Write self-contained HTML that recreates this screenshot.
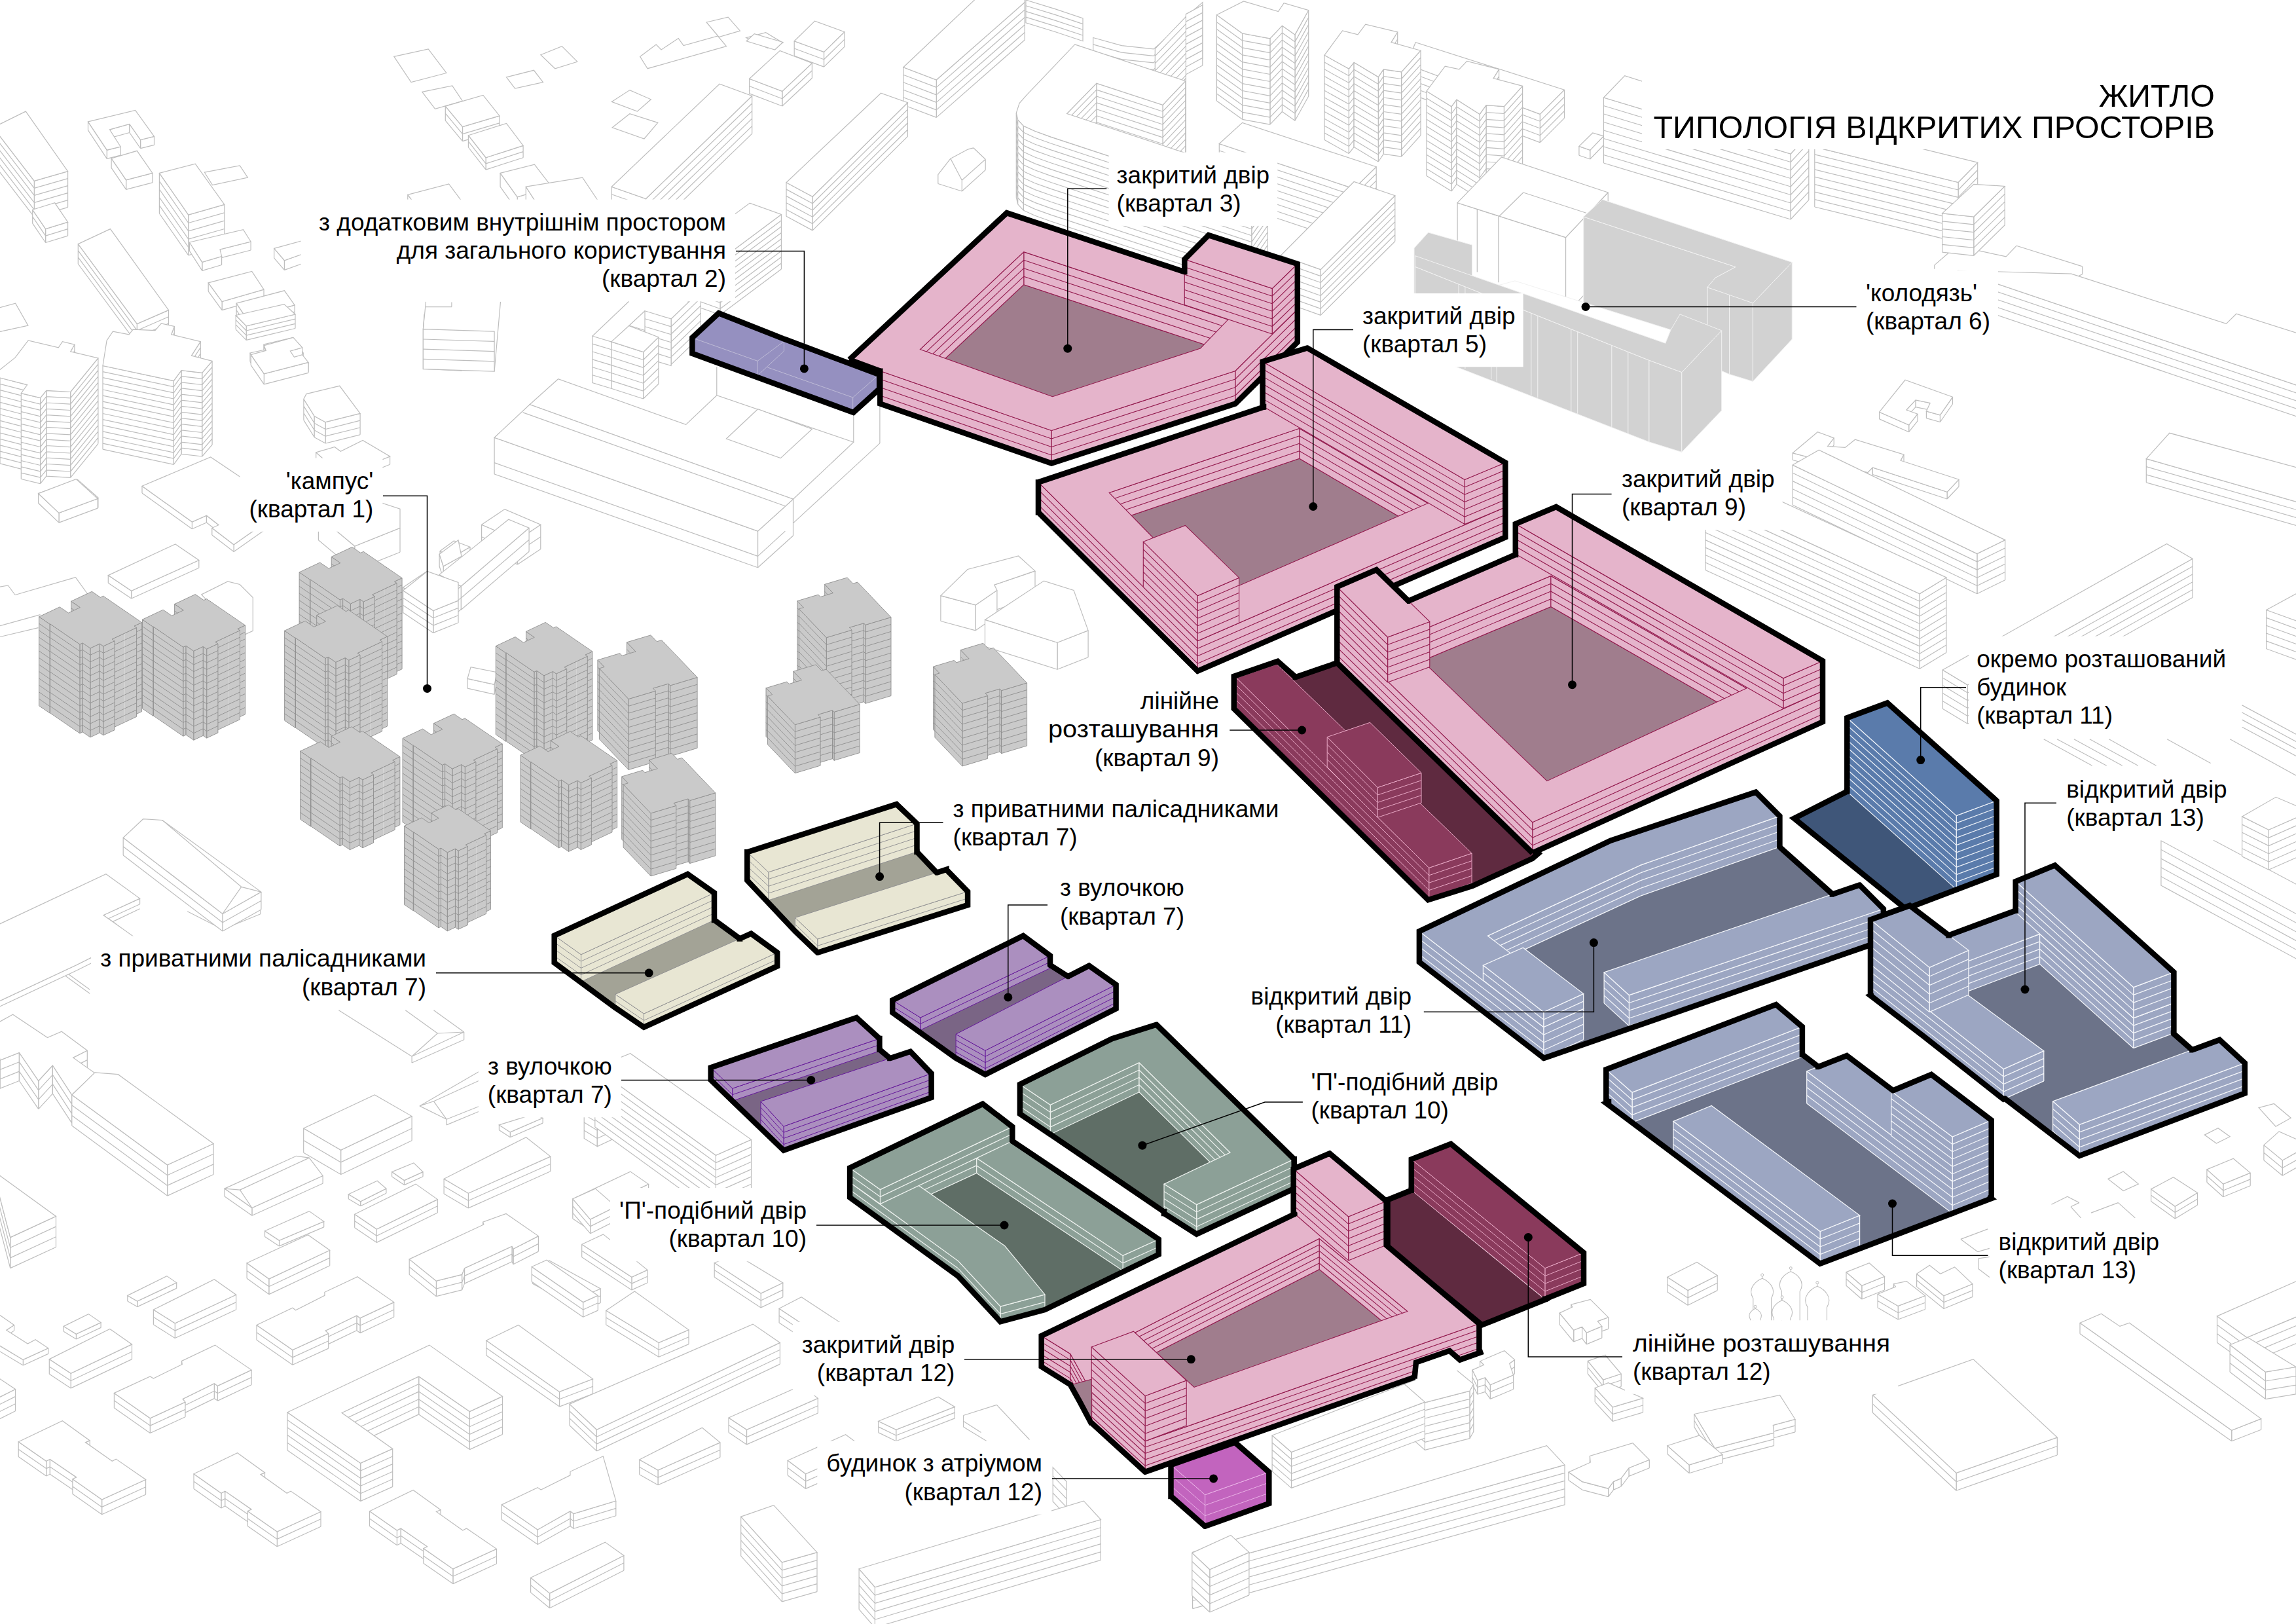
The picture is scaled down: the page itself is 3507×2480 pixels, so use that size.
<!DOCTYPE html>
<html><head><meta charset="utf-8"><title>ЖИТЛО</title>
<style>html,body{margin:0;padding:0;background:#fff}svg{display:block}text{font-family:"Liberation Sans",sans-serif;fill:#000}</style>
</head><body>
<svg xmlns="http://www.w3.org/2000/svg" width="3507" height="2480" viewBox="0 0 3507 2480">
<rect width="3507" height="2480" fill="#fff"/>
<g fill="none" stroke-width="1.2">
<path d="M0 896.2L12.3 894M12.3 894L23.1 908.5M23.1 908.5L115.4 881.7M115.4 881.7L134.8 908.5M0 955.6L61.6 938.7M0 972.5L58.5 958.7" stroke="#BEBEBE"/>
</g>
<g fill="none" stroke-width="1.2">
<path d="M648 480L646.4 503.1M0 506.2L41.6 496.9M41.6 496.9L30.8 480" stroke="#BEBEBE"/>
</g>
<g fill="none" stroke-width="1.2">
<path d="M1079.1 34L1112.1 26.2L1130.4 47.1L1098 56.5Z" fill="#fff" fill-rule="evenodd" stroke="#BEBEBE"/>
</g>
<g fill="none" stroke-width="1.2">
<path d="M1566.9 0L1612.2 13.9L1654 27.9L1654 62.7L1612.2 48.8L1566.9 34.8Z" fill="#fff" stroke="#BEBEBE"/>
<path d="M1566.9 8.7L1612.2 22.6M1612.2 22.6L1654 36.6M1566.9 17.4L1612.2 31.4M1612.2 31.4L1654 45.3M1566.9 26.1L1612.2 40.1M1612.2 40.1L1654 54" stroke="#BEBEBE"/>
</g>
<g fill="none" stroke-width="1.2">
<path d="M1139.8 57.6L1169.7 49.7L1195.8 65.4L1172.3 73.3Z" fill="#fff" fill-rule="evenodd" stroke="#BEBEBE"/>
</g>
<g fill="none" stroke-width="1.2">
<path d="M1140.1 62.7L1152.3 51.6L1195.8 64.5L1183.6 76Z" fill="#fff" fill-rule="evenodd" stroke="#BEBEBE"/>
</g>
<g fill="none" stroke-width="1.2">
<path d="M1289.9 48.8L1258.5 79.4L1258.5 102.1L1289.9 71.4Z" fill="#fff"/>
<path d="M1289.9 48.8L1258.5 79.4M1289.9 71.4L1258.5 102.1M1289.9 48.8L1289.9 71.4M1258.5 79.4L1258.5 102.1M1289.9 60.1L1258.5 90.8" stroke="#BEBEBE"/>
<path d="M1258.5 79.4L1213.2 62.7L1213.2 85.4L1258.5 102.1Z" fill="#fff"/>
<path d="M1258.5 79.4L1213.2 62.7M1258.5 102.1L1213.2 85.4M1258.5 79.4L1258.5 102.1M1213.2 62.7L1213.2 85.4M1258.5 90.8L1213.2 74" stroke="#BEBEBE"/>
<path d="M1213.2 62.7L1244.6 32.1L1289.9 48.8L1258.5 79.4Z" fill="#fff" fill-rule="evenodd" stroke="#BEBEBE"/>
</g>
<g fill="none" stroke-width="1.2">
<path d="M825.8 83.7L858.3 70.7L881.8 94.2L847.8 104.7Z" fill="#fff" fill-rule="evenodd" stroke="#BEBEBE"/>
</g>
<g fill="none" stroke-width="1.2">
<path d="M977.6 86.4L1002.2 68L1010 75.9L1036.2 58.6L1044.1 69.6L1096.4 55L1109.5 70.7L989.1 104.7Z" fill="#fff" fill-rule="evenodd" stroke="#BEBEBE"/>
</g>
<g fill="none" stroke-width="1.2">
<path d="M1669.7 57.5L1713.2 69.7L1762 74.9L1812.5 31.4L1812.5 62.7L1762 106.3L1713.2 101L1669.7 88.9Z" fill="#fff" stroke="#BEBEBE"/>
<path d="M1669.7 67.9L1713.2 80.1M1713.2 80.1L1762 85.4M1762 85.4L1812.5 41.8M1669.7 78.4L1713.2 90.6M1713.2 90.6L1762 95.8M1762 95.8L1812.5 52.3" stroke="#BEBEBE"/>
</g>
<g fill="none" stroke-width="1.2">
<path d="M1810.8 26.1L1836.9 3.5L1836.9 90.6L1810.8 113.2Z" fill="#fff" stroke="#BEBEBE"/>
<path d="M1810.8 35.8L1836.9 13.2M1810.8 45.5L1836.9 22.8M1810.8 55.2L1836.9 32.5M1810.8 64.8L1836.9 42.2M1810.8 74.5L1836.9 51.9M1810.8 84.2L1836.9 61.6M1810.8 93.9L1836.9 71.2M1810.8 103.6L1836.9 80.9" stroke="#BEBEBE"/>
</g>
<g fill="none" stroke-width="1.2">
<path d="M1811.4 21.6L1836.8 7.8L1836.8 100L1811.4 113.7Z" fill="#fff" stroke="#BEBEBE"/>
<path d="M1811.4 33.1L1836.8 19.4M1811.4 44.6L1836.8 30.9M1811.4 56.1L1836.8 42.4M1811.4 67.6L1836.8 53.9M1811.4 79.1L1836.8 65.4M1811.4 90.6L1836.8 76.9M1811.4 102.2L1836.8 88.4" stroke="#BEBEBE"/>
</g>
<g fill="none" stroke-width="1.2">
<path d="M601.8 86.4L654.2 74.8L681.9 111.5L628 125.6Z" fill="#fff" fill-rule="evenodd" stroke="#BEBEBE"/>
</g>
<g fill="none" stroke-width="1.2">
<path d="M773.5 117.8L815.4 107.3L829.5 125.6L786.6 135Z" fill="#fff" fill-rule="evenodd" stroke="#BEBEBE"/>
</g>
<g fill="none" stroke-width="1.2">
<path d="M1240.4 96.5L1194.8 139.4L1194.8 162L1240.4 119.2Z" fill="#fff"/>
<path d="M1240.4 96.5L1194.8 139.4M1240.4 119.2L1194.8 162M1240.4 96.5L1240.4 119.2M1194.8 139.4L1194.8 162M1240.4 107.8L1194.8 150.7" stroke="#BEBEBE"/>
<path d="M1194.8 139.4L1144.6 120.2L1144.6 142.9L1194.8 162Z" fill="#fff"/>
<path d="M1194.8 139.4L1144.6 120.2M1194.8 162L1144.6 142.9M1194.8 139.4L1194.8 162M1144.6 120.2L1144.6 142.9M1194.8 150.7L1144.6 131.5" stroke="#BEBEBE"/>
<path d="M1144.6 120.2L1191.3 77.4L1240.4 96.5L1194.8 139.4Z" fill="#fff" fill-rule="evenodd" stroke="#BEBEBE"/>
</g>
<g fill="none" stroke-width="1.2">
<path d="M644.8 140.3L690.8 130.8L706.5 154.4L664.6 166.4Z" fill="#fff" fill-rule="evenodd" stroke="#BEBEBE"/>
</g>
<g fill="none" stroke-width="1.2">
<path d="M934.2 155.4L961.9 137.6L994.3 151.8L973.4 170.1Z" fill="#fff" fill-rule="evenodd" stroke="#BEBEBE"/>
</g>
<g fill="none" stroke-width="1.2">
<path d="M1565.2 3.5L1430.3 122L1430.3 179.4L1565.2 61Z" fill="#fff"/>
<path d="M1565.2 3.5L1430.3 122M1565.2 61L1430.3 179.4M1565.2 3.5L1565.2 61M1430.3 122L1430.3 179.4M1565.2 15L1430.3 133.4M1565.2 26.5L1430.3 144.9M1565.2 38L1430.3 156.4M1565.2 49.5L1430.3 167.9" stroke="#BEBEBE"/>
<path d="M1430.3 122L1379.8 102.8L1379.8 160.3L1430.3 179.4Z" fill="#fff"/>
<path d="M1430.3 122L1379.8 102.8M1430.3 179.4L1379.8 160.3M1430.3 122L1430.3 179.4M1379.8 102.8L1379.8 160.3M1430.3 133.4L1379.8 114.3M1430.3 144.9L1379.8 125.8M1430.3 156.4L1379.8 137.3M1430.3 167.9L1379.8 148.8" stroke="#BEBEBE"/>
<path d="M1379.8 102.8L1490.2 -1.7L1565.2 -1.7L1565.2 3.5L1430.3 122Z" fill="#fff" fill-rule="evenodd" stroke="#BEBEBE"/>
</g>
<g fill="none" stroke-width="1.2">
<path d="M1897.6 51L1858.4 22.7L1858.4 154.1L1897.6 182.3Z" fill="#fff"/>
<path d="M1897.6 51L1858.4 22.7M1897.6 182.3L1858.4 154.1M1897.6 51L1897.6 182.3M1858.4 22.7L1858.4 154.1M1897.6 61.9L1858.4 33.7M1897.6 72.8L1858.4 44.6M1897.6 83.8L1858.4 55.6M1897.6 94.7L1858.4 66.5M1897.6 105.7L1858.4 77.5M1897.6 116.6L1858.4 88.4M1897.6 127.6L1858.4 99.3M1897.6 138.5L1858.4 110.3M1897.6 149.4L1858.4 121.2M1897.6 160.4L1858.4 132.2M1897.6 171.3L1858.4 143.1" stroke="#BEBEBE"/>
<path d="M1998.7 15.7L1978 52.9L1978 184.2L1998.7 147Z" fill="#fff"/>
<path d="M1998.7 15.7L1978 52.9M1998.7 147L1978 184.2M1998.7 15.7L1998.7 147M1978 52.9L1978 184.2M1998.7 26.6L1978 63.9M1998.7 37.6L1978 74.8M1998.7 48.5L1978 85.7M1998.7 59.5L1978 96.7M1998.7 70.4L1978 107.6M1998.7 81.3L1978 118.6M1998.7 92.3L1978 129.5M1998.7 103.2L1978 140.5M1998.7 114.2L1978 151.4M1998.7 125.1L1978 162.3M1998.7 136.1L1978 173.3" stroke="#BEBEBE"/>
<path d="M1978 52.9L1958.4 39.2L1958.4 170.5L1978 184.2Z" fill="#fff"/>
<path d="M1978 52.9L1958.4 39.2M1978 184.2L1958.4 170.5M1978 52.9L1978 184.2M1958.4 39.2L1958.4 170.5M1978 63.9L1958.4 50.1M1978 74.8L1958.4 61.1M1978 85.7L1958.4 72M1978 96.7L1958.4 83M1978 107.6L1958.4 93.9M1978 118.6L1958.4 104.9M1978 129.5L1958.4 115.8M1978 140.5L1958.4 126.7M1978 151.4L1958.4 137.7M1978 162.3L1958.4 148.6M1978 173.3L1958.4 159.6" stroke="#BEBEBE"/>
<path d="M1958.4 39.2L1939.9 58.8L1939.9 190.1L1958.4 170.5Z" fill="#fff"/>
<path d="M1958.4 39.2L1939.9 58.8M1958.4 170.5L1939.9 190.1M1958.4 39.2L1958.4 170.5M1939.9 58.8L1939.9 190.1M1958.4 50.1L1939.9 69.7M1958.4 61.1L1939.9 80.7M1958.4 72L1939.9 91.6M1958.4 83L1939.9 102.6M1958.4 93.9L1939.9 113.5M1958.4 104.9L1939.9 124.5M1958.4 115.8L1939.9 135.4M1958.4 126.7L1939.9 146.3M1958.4 137.7L1939.9 157.3M1958.4 148.6L1939.9 168.2M1958.4 159.6L1939.9 179.2" stroke="#BEBEBE"/>
<path d="M1939.9 58.8L1897.6 51L1897.6 182.3L1939.9 190.1Z" fill="#fff"/>
<path d="M1939.9 58.8L1897.6 51M1939.9 190.1L1897.6 182.3M1939.9 58.8L1939.9 190.1M1897.6 51L1897.6 182.3M1939.9 69.7L1897.6 61.9M1939.9 80.7L1897.6 72.8M1939.9 91.6L1897.6 83.8M1939.9 102.6L1897.6 94.7M1939.9 113.5L1897.6 105.7M1939.9 124.5L1897.6 116.6M1939.9 135.4L1897.6 127.6M1939.9 146.3L1897.6 138.5M1939.9 157.3L1897.6 149.4M1939.9 168.2L1897.6 160.4M1939.9 179.2L1897.6 171.3" stroke="#BEBEBE"/>
<path d="M1858.4 22.7L1899.6 2L1952.5 17.6L1961.1 4.7L1998.7 15.7L1978 52.9L1958.4 39.2L1939.9 58.8L1897.6 51Z" fill="#fff" fill-rule="evenodd" stroke="#BEBEBE"/>
</g>
<g fill="none" stroke-width="1.2">
<path d="M935.2 194.7L961.9 173.7L1004.8 187.4L983.9 212Z" fill="#fff" fill-rule="evenodd" stroke="#BEBEBE"/>
</g>
<g fill="none" stroke-width="1.2">
<path d="M763 176.9L706.5 193.6L706.5 215.6L763 198.9Z" fill="#fff"/>
<path d="M763 176.9L706.5 193.6M763 198.9L706.5 215.6M763 176.9L763 198.9M706.5 193.6L706.5 215.6M763 187.9L706.5 204.6" stroke="#BEBEBE"/>
<path d="M706.5 193.6L680.3 162.2L680.3 184.2L706.5 215.6Z" fill="#fff"/>
<path d="M706.5 193.6L680.3 162.2M706.5 215.6L680.3 184.2M706.5 193.6L706.5 215.6M680.3 162.2L680.3 184.2M706.5 204.6L680.3 173.2" stroke="#BEBEBE"/>
<path d="M680.3 162.2L737.9 145.5L763 176.9L706.5 193.6Z" fill="#fff" fill-rule="evenodd" stroke="#BEBEBE"/>
</g>
<g fill="none" stroke-width="1.2">
<path d="M2389.5 137.2L2352.3 174.4L2352.3 217.6L2389.5 180.3Z" fill="#fff"/>
<path d="M2389.5 137.2L2352.3 174.4M2389.5 180.3L2352.3 217.6M2389.5 137.2L2389.5 180.3M2352.3 174.4L2352.3 217.6M2389.5 148L2352.3 185.2M2389.5 158.8L2352.3 196M2389.5 169.5L2352.3 206.8" stroke="#BEBEBE"/>
<path d="M2352.3 174.4L2148.5 98L2148.5 141.1L2352.3 217.6Z" fill="#fff"/>
<path d="M2352.3 174.4L2148.5 98M2352.3 217.6L2148.5 141.1M2352.3 174.4L2352.3 217.6M2148.5 98L2148.5 141.1M2352.3 185.2L2148.5 108.8M2352.3 196L2148.5 119.6M2352.3 206.8L2148.5 130.3" stroke="#BEBEBE"/>
<path d="M2148.5 98L2162.2 64.7L2389.5 137.2L2352.3 174.4Z" fill="#fff" fill-rule="evenodd" stroke="#BEBEBE"/>
</g>
<g fill="none" stroke-width="1.2">
<path d="M1764.3 74.5L1811.4 25.5L1811.4 182.3L1764.3 231.3Z" fill="#fff" stroke="#BEBEBE"/>
<path d="M1764.3 85.7L1811.4 36.7M1764.3 96.9L1811.4 47.9M1764.3 108.1L1811.4 59.1M1764.3 119.3L1811.4 70.3M1764.3 130.5L1811.4 81.5M1764.3 141.7L1811.4 92.7M1764.3 152.9L1811.4 103.9M1764.3 164.1L1811.4 115.1M1764.3 175.3L1811.4 126.3M1764.3 186.5L1811.4 137.5M1764.3 197.7L1811.4 148.7M1764.3 208.9L1811.4 159.9M1764.3 220.1L1811.4 171.1" stroke="#BEBEBE"/>
</g>
<g fill="none" stroke-width="1.2">
<path d="M197.8 189.4L167.5 197.8L167.5 210.9L197.8 202.5Z" fill="#fff"/>
<path d="M197.8 189.4L167.5 197.8M197.8 202.5L167.5 210.9M197.8 189.4L197.8 202.5M167.5 197.8L167.5 210.9" stroke="#BEBEBE"/>
<path d="M235.5 208.3L214.6 213.5L214.6 226.6L235.5 221.4Z" fill="#fff"/>
<path d="M235.5 208.3L214.6 213.5M235.5 221.4L214.6 226.6M235.5 208.3L235.5 221.4M214.6 213.5L214.6 226.6" stroke="#BEBEBE"/>
<path d="M214.6 213.5L197.8 189.4L197.8 202.5L214.6 226.6Z" fill="#fff"/>
<path d="M214.6 213.5L197.8 189.4M214.6 226.6L197.8 202.5M214.6 213.5L214.6 226.6M197.8 189.4L197.8 202.5" stroke="#BEBEBE"/>
<path d="M184.2 224L163.3 229.2L163.3 242.3L184.2 237.1Z" fill="#fff"/>
<path d="M184.2 224L163.3 229.2M184.2 237.1L163.3 242.3M184.2 224L184.2 237.1M163.3 229.2L163.3 242.3" stroke="#BEBEBE"/>
<path d="M163.3 229.2L134.5 185.8L134.5 198.9L163.3 242.3Z" fill="#fff"/>
<path d="M163.3 229.2L134.5 185.8M163.3 242.3L134.5 198.9M163.3 229.2L163.3 242.3M134.5 185.8L134.5 198.9" stroke="#BEBEBE"/>
<path d="M134.5 185.8L206.7 168.5L235.5 208.3L214.6 213.5L197.8 189.4L167.5 197.8L184.2 224L163.3 229.2Z" fill="#fff" fill-rule="evenodd" stroke="#BEBEBE"/>
</g>
<g fill="none" stroke-width="1.2">
<path d="M2449.5 207.8L2428.7 229.3L2428.7 243L2449.5 221.5Z" fill="#fff"/>
<path d="M2449.5 207.8L2428.7 229.3M2449.5 221.5L2428.7 243M2449.5 207.8L2449.5 221.5M2428.7 229.3L2428.7 243" stroke="#BEBEBE"/>
<path d="M2428.7 229.3L2411.9 223.4L2411.9 237.2L2428.7 243Z" fill="#fff"/>
<path d="M2428.7 229.3L2411.9 223.4M2428.7 243L2411.9 237.2M2428.7 229.3L2428.7 243M2411.9 223.4L2411.9 237.2" stroke="#BEBEBE"/>
<path d="M2411.9 223.4L2432.7 203L2449.5 207.8L2428.7 229.3Z" fill="#fff" fill-rule="evenodd" stroke="#BEBEBE"/>
</g>
<g fill="none" stroke-width="1.2">
<path d="M2134.7 49L2124.9 64.7L2124.9 194L2134.7 178.4Z" fill="#fff"/>
<path d="M2134.7 49L2124.9 64.7M2134.7 178.4L2124.9 194M2134.7 49L2134.7 178.4M2124.9 64.7L2124.9 194M2134.7 59.8L2124.9 75.5M2134.7 70.6L2124.9 86.2M2134.7 81.3L2124.9 97M2134.7 92.1L2124.9 107.8M2134.7 102.9L2124.9 118.6M2134.7 113.7L2124.9 129.4M2134.7 124.5L2124.9 140.1M2134.7 135.2L2124.9 150.9M2134.7 146L2124.9 161.7M2134.7 156.8L2124.9 172.5M2134.7 167.6L2124.9 183.3" stroke="#BEBEBE"/>
<path d="M2068.1 95.3L2060.3 105.1L2060.3 234.4L2068.1 224.6Z" fill="#fff"/>
<path d="M2068.1 95.3L2060.3 105.1M2068.1 224.6L2060.3 234.4M2068.1 95.3L2068.1 224.6M2060.3 105.1L2060.3 234.4M2068.1 106L2060.3 115.8M2068.1 116.8L2060.3 126.6M2068.1 127.6L2060.3 137.4M2068.1 138.4L2060.3 148.2M2068.1 149.2L2060.3 159M2068.1 159.9L2060.3 169.7M2068.1 170.7L2060.3 180.5M2068.1 181.5L2060.3 191.3M2068.1 192.3L2060.3 202.1M2068.1 203L2060.3 212.8M2068.1 213.8L2060.3 223.6" stroke="#BEBEBE"/>
<path d="M2060.3 105.1L2023 84.3L2023 213.6L2060.3 234.4Z" fill="#fff"/>
<path d="M2060.3 105.1L2023 84.3M2060.3 234.4L2023 213.6M2060.3 105.1L2060.3 234.4M2023 84.3L2023 213.6M2060.3 115.8L2023 95.1M2060.3 126.6L2023 105.8M2060.3 137.4L2023 116.6M2060.3 148.2L2023 127.4M2060.3 159L2023 138.2M2060.3 169.7L2023 149M2060.3 180.5L2023 159.7M2060.3 191.3L2023 170.5M2060.3 202.1L2023 181.3M2060.3 212.8L2023 192.1M2060.3 223.6L2023 202.9" stroke="#BEBEBE"/>
<path d="M2170 77.2L2140.6 109.8L2140.6 239.1L2170 206.6Z" fill="#fff"/>
<path d="M2170 77.2L2140.6 109.8M2170 206.6L2140.6 239.1M2170 77.2L2170 206.6M2140.6 109.8L2140.6 239.1M2170 88L2140.6 120.5M2170 98.8L2140.6 131.3M2170 109.6L2140.6 142.1M2170 120.3L2140.6 152.9M2170 131.1L2140.6 163.7M2170 141.9L2140.6 174.4M2170 152.7L2140.6 185.2M2170 163.5L2140.6 196M2170 174.2L2140.6 206.8M2170 185L2140.6 217.6M2170 195.8L2140.6 228.3" stroke="#BEBEBE"/>
<path d="M2140.6 109.8L2113.2 105.8L2113.2 235.2L2140.6 239.1Z" fill="#fff"/>
<path d="M2140.6 109.8L2113.2 105.8M2140.6 239.1L2113.2 235.2M2140.6 109.8L2140.6 239.1M2113.2 105.8L2113.2 235.2M2140.6 120.5L2113.2 116.6M2140.6 131.3L2113.2 127.4M2140.6 142.1L2113.2 138.2M2140.6 152.9L2113.2 149M2140.6 163.7L2113.2 159.7M2140.6 174.4L2113.2 170.5M2140.6 185.2L2113.2 181.3M2140.6 196L2113.2 192.1M2140.6 206.8L2113.2 202.9M2140.6 217.6L2113.2 213.6M2140.6 228.3L2113.2 224.4" stroke="#BEBEBE"/>
<path d="M2113.2 105.8L2105.3 117.6L2105.3 247L2113.2 235.2Z" fill="#fff"/>
<path d="M2113.2 105.8L2105.3 117.6M2113.2 235.2L2105.3 247M2113.2 105.8L2113.2 235.2M2105.3 117.6L2105.3 247M2113.2 116.6L2105.3 128.4M2113.2 127.4L2105.3 139.2M2113.2 138.2L2105.3 149.9M2113.2 149L2105.3 160.7M2113.2 159.7L2105.3 171.5M2113.2 170.5L2105.3 182.3M2113.2 181.3L2105.3 193.1M2113.2 192.1L2105.3 203.8M2113.2 202.9L2105.3 214.6M2113.2 213.6L2105.3 225.4M2113.2 224.4L2105.3 236.2" stroke="#BEBEBE"/>
<path d="M2105.3 117.6L2068.1 95.3L2068.1 224.6L2105.3 247Z" fill="#fff"/>
<path d="M2105.3 117.6L2068.1 95.3M2105.3 247L2068.1 224.6M2105.3 117.6L2105.3 247M2068.1 95.3L2068.1 224.6M2105.3 128.4L2068.1 106M2105.3 139.2L2068.1 116.8M2105.3 149.9L2068.1 127.6M2105.3 160.7L2068.1 138.4M2105.3 171.5L2068.1 149.2M2105.3 182.3L2068.1 159.9M2105.3 193.1L2068.1 170.7M2105.3 203.8L2068.1 181.5M2105.3 214.6L2068.1 192.3M2105.3 225.4L2068.1 203M2105.3 236.2L2068.1 213.8" stroke="#BEBEBE"/>
<path d="M2023 84.3L2050.5 47L2074 52.9L2085.8 37.2L2134.7 49L2124.9 64.7L2170 77.2L2140.6 109.8L2113.2 105.8L2105.3 117.6L2068.1 95.3L2060.3 105.1Z" fill="#fff" fill-rule="evenodd" stroke="#BEBEBE"/>
</g>
<g fill="none" stroke-width="1.2">
<path d="M799.1 222.4L742.1 240.7L742.1 259.1L799.1 240.7Z" fill="#fff"/>
<path d="M799.1 222.4L742.1 240.7M799.1 240.7L742.1 259.1M799.1 222.4L799.1 240.7M742.1 240.7L742.1 259.1M799.1 231.6L742.1 249.9" stroke="#BEBEBE"/>
<path d="M742.1 240.7L715.4 206.7L715.4 225L742.1 259.1Z" fill="#fff"/>
<path d="M742.1 240.7L715.4 206.7M742.1 259.1L715.4 225M742.1 240.7L742.1 259.1M715.4 206.7L715.4 225M742.1 249.9L715.4 215.9" stroke="#BEBEBE"/>
<path d="M715.4 206.7L773.5 188.4L799.1 222.4L742.1 240.7Z" fill="#fff" fill-rule="evenodd" stroke="#BEBEBE"/>
</g>
<g fill="none" stroke-width="1.2">
<path d="M312.4 263.2L366.3 252.8L378.4 271.1L324.5 282.6Z" fill="#fff" fill-rule="evenodd" stroke="#BEBEBE"/>
</g>
<g fill="none" stroke-width="1.2">
<path d="M1764.3 168.6L1811.4 119.6L1811.4 237.2L1764.3 286.2Z" fill="#fff" stroke="#BEBEBE"/>
<path d="M1764.3 180.3L1811.4 131.3M1764.3 192.1L1811.4 143.1M1764.3 203.8L1811.4 154.8M1764.3 215.6L1811.4 166.6M1764.3 227.4L1811.4 178.4M1764.3 239.1L1811.4 190.1M1764.3 250.9L1811.4 201.9M1764.3 262.6L1811.4 213.6M1764.3 274.4L1811.4 225.4" stroke="#BEBEBE"/>
</g>
<g fill="none" stroke-width="1.2">
<path d="M232.9 264.3L192.6 274.8L192.6 289.4L232.9 278.9Z" fill="#fff"/>
<path d="M232.9 264.3L192.6 274.8M232.9 278.9L192.6 289.4M232.9 264.3L232.9 278.9M192.6 274.8L192.6 289.4" stroke="#BEBEBE"/>
<path d="M192.6 274.8L170.1 241.8L170.1 256.4L192.6 289.4Z" fill="#fff"/>
<path d="M192.6 274.8L170.1 241.8M192.6 289.4L170.1 256.4M192.6 274.8L192.6 289.4M170.1 241.8L170.1 256.4" stroke="#BEBEBE"/>
<path d="M170.1 241.8L209.3 230.3L232.9 264.3L192.6 274.8Z" fill="#fff" fill-rule="evenodd" stroke="#BEBEBE"/>
</g>
<g fill="none" stroke-width="1.2">
<path d="M1432.8 266.6L1451.9 242.2M1451.9 242.2L1478 228.2M1478 228.2L1486.8 225.8M1486.8 225.8L1505.2 243.2M1505.2 243.2L1505.2 259.6M1505.2 259.6L1469.3 292M1469.3 292L1432.8 280.5M1432.8 280.5L1432.8 266.6M1451.9 242.2L1469.3 275.3M1469.3 275.3L1505.2 243.2M1469.3 275.3L1469.3 292" stroke="#BEBEBE"/>
</g>
<g fill="none" stroke-width="1.2">
<path d="M2289.6 105.8L2281 119.6L2281 248.9L2289.6 235.2Z" fill="#fff"/>
<path d="M2289.6 105.8L2281 119.6M2289.6 235.2L2281 248.9M2289.6 105.8L2289.6 235.2M2281 119.6L2281 248.9M2289.6 116.6L2281 130.3M2289.6 127.4L2281 141.1M2289.6 138.2L2281 151.9M2289.6 149L2281 162.7M2289.6 159.7L2281 173.5M2289.6 170.5L2281 184.2M2289.6 181.3L2281 195M2289.6 192.1L2281 205.8M2289.6 202.9L2281 216.6M2289.6 213.6L2281 227.4M2289.6 224.4L2281 238.1" stroke="#BEBEBE"/>
<path d="M2325.6 131.3L2297.4 162.7L2297.4 292L2325.6 260.7Z" fill="#fff"/>
<path d="M2325.6 131.3L2297.4 162.7M2325.6 260.7L2297.4 292M2325.6 131.3L2325.6 260.7M2297.4 162.7L2297.4 292M2325.6 142.1L2297.4 173.5M2325.6 152.9L2297.4 184.2M2325.6 163.7L2297.4 195M2325.6 174.4L2297.4 205.8M2325.6 185.2L2297.4 216.6M2325.6 196L2297.4 227.4M2325.6 206.8L2297.4 238.1M2325.6 217.6L2297.4 248.9M2325.6 228.3L2297.4 259.7M2325.6 239.1L2297.4 270.5M2325.6 249.9L2297.4 281.3" stroke="#BEBEBE"/>
<path d="M2297.4 162.7L2270 160.7L2270 290.1L2297.4 292Z" fill="#fff"/>
<path d="M2297.4 162.7L2270 160.7M2297.4 292L2270 290.1M2297.4 162.7L2297.4 292M2270 160.7L2270 290.1M2297.4 173.5L2270 171.5M2297.4 184.2L2270 182.3M2297.4 195L2270 193.1M2297.4 205.8L2270 203.8M2297.4 216.6L2270 214.6M2297.4 227.4L2270 225.4M2297.4 238.1L2270 236.2M2297.4 248.9L2270 247M2297.4 259.7L2270 257.7M2297.4 270.5L2270 268.5M2297.4 281.3L2270 279.3" stroke="#BEBEBE"/>
<path d="M2224.9 152.1L2217.1 162.7L2217.1 292L2224.9 281.4Z" fill="#fff"/>
<path d="M2224.9 152.1L2217.1 162.7M2224.9 281.4L2217.1 292M2224.9 152.1L2224.9 281.4M2217.1 162.7L2217.1 292M2224.9 162.9L2217.1 173.5M2224.9 173.7L2217.1 184.2M2224.9 184.4L2217.1 195M2224.9 195.2L2217.1 205.8M2224.9 206L2217.1 216.6M2224.9 216.8L2217.1 227.4M2224.9 227.5L2217.1 238.1M2224.9 238.3L2217.1 248.9M2224.9 249.1L2217.1 259.7M2224.9 259.9L2217.1 270.5M2224.9 270.7L2217.1 281.3" stroke="#BEBEBE"/>
<path d="M2217.1 162.7L2179 139.2L2179 268.5L2217.1 292Z" fill="#fff"/>
<path d="M2217.1 162.7L2179 139.2M2217.1 292L2179 268.5M2217.1 162.7L2217.1 292M2179 139.2L2179 268.5M2217.1 173.5L2179 149.9M2217.1 184.2L2179 160.7M2217.1 195L2179 171.5M2217.1 205.8L2179 182.3M2217.1 216.6L2179 193.1M2217.1 227.4L2179 203.8M2217.1 238.1L2179 214.6M2217.1 248.9L2179 225.4M2217.1 259.7L2179 236.2M2217.1 270.5L2179 247M2217.1 281.3L2179 257.7" stroke="#BEBEBE"/>
<path d="M2270 160.7L2260.2 174.4L2260.2 303.8L2270 290.1Z" fill="#fff"/>
<path d="M2270 160.7L2260.2 174.4M2270 290.1L2260.2 303.8M2270 160.7L2270 290.1M2260.2 174.4L2260.2 303.8M2270 171.5L2260.2 185.2M2270 182.3L2260.2 196M2270 193.1L2260.2 206.8M2270 203.8L2260.2 217.6M2270 214.6L2260.2 228.3M2270 225.4L2260.2 239.1M2270 236.2L2260.2 249.9M2270 247L2260.2 260.7M2270 257.7L2260.2 271.5M2270 268.5L2260.2 282.2M2270 279.3L2260.2 293" stroke="#BEBEBE"/>
<path d="M2260.2 174.4L2224.9 152.1L2224.9 281.4L2260.2 303.8Z" fill="#fff"/>
<path d="M2260.2 174.4L2224.9 152.1M2260.2 303.8L2224.9 281.4M2260.2 174.4L2260.2 303.8M2224.9 152.1L2224.9 281.4M2260.2 185.2L2224.9 162.9M2260.2 196L2224.9 173.7M2260.2 206.8L2224.9 184.4M2260.2 217.6L2224.9 195.2M2260.2 228.3L2224.9 206M2260.2 239.1L2224.9 216.8M2260.2 249.9L2224.9 227.5M2260.2 260.7L2224.9 238.3M2260.2 271.5L2224.9 249.1M2260.2 282.2L2224.9 259.9M2260.2 293L2224.9 270.7" stroke="#BEBEBE"/>
<path d="M2179 139.2L2207.3 101.1L2228.8 105.8L2240.6 93.3L2289.6 105.8L2281 119.6L2325.6 131.3L2297.4 162.7L2270 160.7L2260.2 174.4L2224.9 152.1L2217.1 162.7Z" fill="#fff" fill-rule="evenodd" stroke="#BEBEBE"/>
</g>
<g fill="none" stroke-width="1.2">
<path d="M842.6 285.2L790.2 300.9L790.2 321.9L842.6 306.2Z" fill="#fff"/>
<path d="M842.6 285.2L790.2 300.9M842.6 306.2L790.2 321.9M842.6 285.2L842.6 306.2M790.2 300.9L790.2 321.9" stroke="#BEBEBE"/>
<path d="M790.2 300.9L764.1 264.3L764.1 285.2L790.2 321.9Z" fill="#fff"/>
<path d="M790.2 300.9L764.1 264.3M790.2 321.9L764.1 285.2M790.2 300.9L790.2 321.9M764.1 264.3L764.1 285.2" stroke="#BEBEBE"/>
<path d="M764.1 264.3L816.4 251.2L842.6 285.2L790.2 300.9Z" fill="#fff" fill-rule="evenodd" stroke="#BEBEBE"/>
</g>
<g fill="none" stroke-width="1.2">
<path d="M103.6 261.7L52.3 276.3L52.3 331.3L103.6 316.6Z" fill="#fff"/>
<path d="M103.6 261.7L52.3 276.3M103.6 316.6L52.3 331.3M103.6 261.7L103.6 316.6M52.3 276.3L52.3 331.3M103.6 272.7L52.3 287.3M103.6 283.7L52.3 298.3M103.6 294.6L52.3 309.3M103.6 305.6L52.3 320.3" stroke="#BEBEBE"/>
<path d="M52.3 276.3L-10.5 194.7L-10.5 249.6L52.3 331.3Z" fill="#fff"/>
<path d="M52.3 276.3L-10.5 194.7M52.3 331.3L-10.5 249.6M52.3 276.3L52.3 331.3M-10.5 194.7L-10.5 249.6M52.3 287.3L-10.5 205.7M52.3 298.3L-10.5 216.7M52.3 309.3L-10.5 227.7M52.3 320.3L-10.5 238.6" stroke="#BEBEBE"/>
<path d="M-10.5 194.7L39.3 170.1L103.6 261.7L52.3 276.3Z" fill="#fff" fill-rule="evenodd" stroke="#BEBEBE"/>
</g>
<g fill="none" stroke-width="1.2">
<path d="M2762.8 205.4L2735.1 235L2735.1 335L2762.8 305.4Z" fill="#fff"/>
<path d="M2762.8 205.4L2735.1 235M2762.8 305.4L2735.1 335M2762.8 205.4L2762.8 305.4M2735.1 235L2735.1 335M2762.8 217.9L2735.1 247.5M2762.8 230.4L2735.1 260M2762.8 242.9L2735.1 272.5M2762.8 255.4L2735.1 285M2762.8 267.9L2735.1 297.5M2762.8 280.4L2735.1 310M2762.8 292.9L2735.1 322.5" stroke="#BEBEBE"/>
<path d="M2735.1 235L2449.5 149L2449.5 249L2735.1 335Z" fill="#fff"/>
<path d="M2735.1 235L2449.5 149M2735.1 335L2449.5 249M2735.1 235L2735.1 335M2449.5 149L2449.5 249M2735.1 247.5L2449.5 161.5M2735.1 260L2449.5 174M2735.1 272.5L2449.5 186.5M2735.1 285L2449.5 199M2735.1 297.5L2449.5 211.5M2735.1 310L2449.5 224M2735.1 322.5L2449.5 236.5" stroke="#BEBEBE"/>
<path d="M2449.5 149L2481.7 115.6L2762.8 205.4L2735.1 235Z" fill="#fff" fill-rule="evenodd" stroke="#BEBEBE"/>
</g>
<g fill="none" stroke-width="1.2">
<path d="M706.5 308.8L643.7 324.5L643.7 340.2L706.5 324.5Z" fill="#fff"/>
<path d="M706.5 308.8L643.7 324.5M706.5 324.5L643.7 340.2M706.5 308.8L706.5 324.5M643.7 324.5L643.7 340.2" stroke="#BEBEBE"/>
<path d="M643.7 324.5L622.8 297.3L622.8 313L643.7 340.2Z" fill="#fff"/>
<path d="M643.7 324.5L622.8 297.3M643.7 340.2L622.8 313M643.7 324.5L643.7 340.2M622.8 297.3L622.8 313" stroke="#BEBEBE"/>
<path d="M622.8 297.3L685.6 281L706.5 308.8L643.7 324.5Z" fill="#fff" fill-rule="evenodd" stroke="#BEBEBE"/>
</g>
<g fill="none" stroke-width="1.2">
<path d="M913.2 306.2L826.9 321.9L826.9 342.8L913.2 327.1Z" fill="#fff"/>
<path d="M913.2 306.2L826.9 321.9M913.2 327.1L826.9 342.8M913.2 306.2L913.2 327.1M826.9 321.9L826.9 342.8" stroke="#BEBEBE"/>
<path d="M826.9 321.9L803.3 285.2L803.3 306.2L826.9 342.8Z" fill="#fff"/>
<path d="M826.9 321.9L803.3 285.2M826.9 342.8L803.3 306.2M826.9 321.9L826.9 342.8M803.3 285.2L803.3 306.2" stroke="#BEBEBE"/>
<path d="M803.3 285.2L889.7 271.1L913.2 306.2L826.9 321.9Z" fill="#fff" fill-rule="evenodd" stroke="#BEBEBE"/>
</g>
<g fill="none" stroke-width="1.2">
<path d="M1386.4 156.8L1241.1 300.3L1241.1 351.9L1386.4 208.4Z" fill="#fff"/>
<path d="M1386.4 156.8L1241.1 300.3M1386.4 208.4L1241.1 351.9M1386.4 156.8L1386.4 208.4M1241.1 300.3L1241.1 351.9M1386.4 167.1L1241.1 310.7M1386.4 177.4L1241.1 321M1386.4 187.7L1241.1 331.3M1386.4 198L1241.1 341.6" stroke="#BEBEBE"/>
<path d="M1241.1 300.3L1201 278.7L1201 330.3L1241.1 351.9Z" fill="#fff"/>
<path d="M1241.1 300.3L1201 278.7M1241.1 351.9L1201 330.3M1241.1 300.3L1241.1 351.9M1201 278.7L1201 330.3M1241.1 310.7L1201 289.1M1241.1 321L1201 299.4M1241.1 331.3L1201 309.7M1241.1 341.6L1201 320" stroke="#BEBEBE"/>
<path d="M1201 278.7L1345.6 142.2L1386.4 156.8L1241.1 300.3Z" fill="#fff" fill-rule="evenodd" stroke="#BEBEBE"/>
</g>
<g fill="none" stroke-width="1.2">
<path d="M1148.7 146.5L986.5 303.5L986.5 361.1L1148.7 204.1Z" fill="#fff"/>
<path d="M1148.7 146.5L986.5 303.5M1148.7 204.1L986.5 361.1M1148.7 146.5L1148.7 204.1M986.5 303.5L986.5 361.1M1148.7 158L986.5 315.1M1148.7 169.6L986.5 326.6M1148.7 181.1L986.5 338.1M1148.7 192.6L986.5 349.6" stroke="#BEBEBE"/>
<path d="M986.5 303.5L934.2 285.2L934.2 342.8L986.5 361.1Z" fill="#fff"/>
<path d="M986.5 303.5L934.2 285.2M986.5 361.1L934.2 342.8M986.5 303.5L986.5 361.1M934.2 285.2L934.2 342.8M986.5 315.1L934.2 296.7M986.5 326.6L934.2 308.2M986.5 338.1L934.2 319.8M986.5 349.6L934.2 331.3" stroke="#BEBEBE"/>
<path d="M934.2 285.2L1099 128.2L1148.7 146.5L986.5 303.5Z" fill="#fff" fill-rule="evenodd" stroke="#BEBEBE"/>
</g>
<g fill="none" stroke-width="1.2">
<path d="M3020.7 248.1L2991.1 278.5L2991.1 370.2L3020.7 339.7Z" fill="#fff"/>
<path d="M3020.7 248.1L2991.1 278.5M3020.7 339.7L2991.1 370.2M3020.7 248.1L3020.7 339.7M2991.1 278.5L2991.1 370.2M3020.7 259.5L2991.1 290M3020.7 271L2991.1 301.4M3020.7 282.5L2991.1 312.9M3020.7 293.9L2991.1 324.3M3020.7 305.4L2991.1 335.8M3020.7 316.8L2991.1 347.2M3020.7 328.3L2991.1 358.7" stroke="#BEBEBE"/>
<path d="M2991.1 278.5L2771.8 224.4L2771.8 316L2991.1 370.2Z" fill="#fff"/>
<path d="M2991.1 278.5L2771.8 224.4M2991.1 370.2L2771.8 316M2991.1 278.5L2991.1 370.2M2771.8 224.4L2771.8 316M2991.1 290L2771.8 235.8M2991.1 301.4L2771.8 247.3M2991.1 312.9L2771.8 258.8M2991.1 324.3L2771.8 270.2M2991.1 335.8L2771.8 281.7M2991.1 347.2L2771.8 293.1M2991.1 358.7L2771.8 304.6" stroke="#BEBEBE"/>
<path d="M2771.8 224.4L2799.5 193.6L3020.7 248.1L2991.1 278.5Z" fill="#fff" fill-rule="evenodd" stroke="#BEBEBE"/>
</g>
<g fill="none" stroke-width="1.2">
<path d="M103.6 339.1L69.6 349.6L69.6 370.5L103.6 360.1Z" fill="#fff"/>
<path d="M103.6 339.1L69.6 349.6M103.6 360.1L69.6 370.5M103.6 339.1L103.6 360.1M69.6 349.6L69.6 370.5M103.6 349.6L69.6 360.1" stroke="#BEBEBE"/>
<path d="M69.6 349.6L49.7 320.3L49.7 341.2L69.6 370.5Z" fill="#fff"/>
<path d="M69.6 349.6L49.7 320.3M69.6 370.5L49.7 341.2M69.6 349.6L69.6 370.5M49.7 320.3L49.7 341.2M69.6 360.1L49.7 330.8" stroke="#BEBEBE"/>
<path d="M49.7 320.3L83.7 309.8L103.6 339.1L69.6 349.6Z" fill="#fff" fill-rule="evenodd" stroke="#BEBEBE"/>
</g>
<g fill="none" stroke-width="1.2">
<path d="M2102.2 254.8L2068.1 288.1L2068.1 372.4L2102.2 339.1Z" fill="#fff"/>
<path d="M2102.2 254.8L2068.1 288.1M2102.2 339.1L2068.1 372.4M2102.2 254.8L2102.2 339.1M2068.1 288.1L2068.1 372.4M2102.2 265.3L2068.1 298.6M2102.2 275.9L2068.1 309.2M2102.2 286.4L2068.1 319.7M2102.2 296.9L2068.1 330.2M2102.2 307.5L2068.1 340.8M2102.2 318L2068.1 351.3M2102.2 328.5L2068.1 361.9" stroke="#BEBEBE"/>
<path d="M2068.1 288.1L1862.3 219.5L1862.3 303.8L2068.1 372.4Z" fill="#fff"/>
<path d="M2068.1 288.1L1862.3 219.5M2068.1 372.4L1862.3 303.8M2068.1 288.1L2068.1 372.4M1862.3 219.5L1862.3 303.8M2068.1 298.6L1862.3 230M2068.1 309.2L1862.3 240.6M2068.1 319.7L1862.3 251.1M2068.1 330.2L1862.3 261.7M2068.1 340.8L1862.3 272.2M2068.1 351.3L1862.3 282.7M2068.1 361.9L1862.3 293.3" stroke="#BEBEBE"/>
<path d="M1862.3 219.5L1897.6 187.4L2102.2 254.8L2068.1 288.1Z" fill="#fff" fill-rule="evenodd" stroke="#BEBEBE"/>
</g>
<g fill="none" stroke-width="1.2">
<path d="M2954.7 410.8L2954.7 404.9M2954.7 404.9L2989.1 375.3M2989.1 375.3L3064.2 391.9M3064.2 391.9L3080 375.3M3080 375.3L3180.7 406.9M3180.7 406.9L3180.7 418.7M3180.7 418.7L3165.7 425.9" stroke="#BEBEBE"/>
</g>
<g fill="none" stroke-width="1.2">
<path d="M342.8 312.4L287.8 328.1L287.8 389.9L342.8 374.2Z" fill="#fff"/>
<path d="M342.8 312.4L287.8 328.1M342.8 374.2L287.8 389.9M342.8 312.4L342.8 374.2M287.8 328.1L287.8 389.9M342.8 324.8L287.8 340.5M342.8 337.1L287.8 352.8M342.8 349.5L287.8 365.2M342.8 361.8L287.8 377.5" stroke="#BEBEBE"/>
<path d="M287.8 328.1L243.4 264.3L243.4 326L287.8 389.9Z" fill="#fff"/>
<path d="M287.8 328.1L243.4 264.3M287.8 389.9L243.4 326M287.8 328.1L287.8 389.9M243.4 264.3L243.4 326M287.8 340.5L243.4 276.6M287.8 352.8L243.4 289M287.8 365.2L243.4 301.3M287.8 377.5L243.4 313.7" stroke="#BEBEBE"/>
<path d="M243.4 264.3L298.3 250.2L342.8 312.4L287.8 328.1Z" fill="#fff" fill-rule="evenodd" stroke="#BEBEBE"/>
</g>
<g fill="none" stroke-width="1.2">
<path d="M3062.2 284.4L3014.8 331L3014.8 390.3L3062.2 343.7Z" fill="#fff"/>
<path d="M3062.2 284.4L3014.8 331M3062.2 343.7L3014.8 390.3M3062.2 284.4L3062.2 343.7M3014.8 331L3014.8 390.3M3062.2 296.3L3014.8 342.9M3062.2 308.1L3014.8 354.7M3062.2 320L3014.8 366.6M3062.2 331.8L3014.8 378.4" stroke="#BEBEBE"/>
<path d="M3014.8 331L2966.6 325.9L2966.6 385.2L3014.8 390.3Z" fill="#fff"/>
<path d="M3014.8 331L2966.6 325.9M3014.8 390.3L2966.6 385.2M3014.8 331L3014.8 390.3M2966.6 325.9L2966.6 385.2M3014.8 342.9L2966.6 337.8M3014.8 354.7L2966.6 349.6M3014.8 366.6L2966.6 361.5M3014.8 378.4L2966.6 373.3" stroke="#BEBEBE"/>
<path d="M2966.6 325.9L3014.8 281.3L3062.2 284.4L3014.8 331Z" fill="#fff" fill-rule="evenodd" stroke="#BEBEBE"/>
</g>
<g fill="none" stroke-width="1.2">
<path d="M471 384.7L434.4 397.7L434.4 412.4L471 399.3Z" fill="#fff"/>
<path d="M471 384.7L434.4 397.7M471 399.3L434.4 412.4M471 384.7L471 399.3M434.4 397.7L434.4 412.4" stroke="#BEBEBE"/>
<path d="M434.4 397.7L418.7 379.4L418.7 394.1L434.4 412.4Z" fill="#fff"/>
<path d="M434.4 397.7L418.7 379.4M434.4 412.4L418.7 394.1M434.4 397.7L434.4 412.4M418.7 379.4L418.7 394.1" stroke="#BEBEBE"/>
<path d="M418.7 379.4L460.5 367.9L471 384.7L434.4 397.7Z" fill="#fff" fill-rule="evenodd" stroke="#BEBEBE"/>
</g>
<g fill="none" stroke-width="1.2">
<path d="M383.1 369L336 381L336 394.1L383.1 382Z" fill="#fff"/>
<path d="M383.1 369L336 381M383.1 382L336 394.1M383.1 369L383.1 382M336 381L336 394.1" stroke="#BEBEBE"/>
<path d="M338.6 391.5L308.8 400.4L308.8 413.4L338.6 404.5Z" fill="#fff"/>
<path d="M338.6 391.5L308.8 400.4M338.6 404.5L308.8 413.4M338.6 391.5L338.6 404.5M308.8 400.4L308.8 413.4" stroke="#BEBEBE"/>
<path d="M308.8 400.4L289.4 370L289.4 383.1L308.8 413.4Z" fill="#fff"/>
<path d="M308.8 400.4L289.4 370M308.8 413.4L289.4 383.1M308.8 400.4L308.8 413.4M289.4 370L289.4 383.1" stroke="#BEBEBE"/>
<path d="M289.4 370L371.6 350.6L383.1 369L336 381L338.6 391.5L308.8 400.4Z" fill="#fff" fill-rule="evenodd" stroke="#BEBEBE"/>
</g>
<g fill="none" stroke-width="1.2">
<path d="M1810.8 123.7L1776 160.3L1776 289.2L1810.8 252.6Z" fill="#fff"/>
<path d="M1810.8 123.7L1776 160.3M1810.8 252.6L1776 289.2M1810.8 123.7L1810.8 252.6M1776 160.3L1776 289.2M1810.8 133.6L1776 170.2M1810.8 143.5L1776 180.1M1810.8 153.4L1776 190M1810.8 163.4L1776 199.9M1810.8 173.3L1776 209.9M1810.8 183.2L1776 219.8M1810.8 193.1L1776 229.7M1810.8 203L1776 239.6M1810.8 212.9L1776 249.5M1810.8 222.9L1776 259.4M1810.8 232.8L1776 269.4M1810.8 242.7L1776 279.3" stroke="#BEBEBE"/>
<path d="M1776 160.3L1674.9 127.2L1674.9 256.1L1776 289.2Z" fill="#fff"/>
<path d="M1776 160.3L1674.9 127.2M1776 289.2L1674.9 256.1M1776 160.3L1776 289.2M1674.9 127.2L1674.9 256.1M1776 170.2L1674.9 137.1M1776 180.1L1674.9 147M1776 190L1674.9 156.9M1776 199.9L1674.9 166.8M1776 209.9L1674.9 176.8M1776 219.8L1674.9 186.7M1776 229.7L1674.9 196.6M1776 239.6L1674.9 206.5M1776 249.5L1674.9 216.4M1776 259.4L1674.9 226.3M1776 269.4L1674.9 236.3M1776 279.3L1674.9 246.2" stroke="#BEBEBE"/>
<path d="M1674.9 127.2L1629.6 173.5L1629.6 302.4L1674.9 256.1Z" fill="#fff"/>
<path d="M1674.9 127.2L1629.6 173.5M1674.9 256.1L1629.6 302.4M1674.9 127.2L1674.9 256.1M1629.6 173.5L1629.6 302.4M1674.9 137.1L1629.6 183.4M1674.9 147L1629.6 193.4M1674.9 156.9L1629.6 203.3M1674.9 166.8L1629.6 213.2M1674.9 176.8L1629.6 223.1M1674.9 186.7L1629.6 233M1674.9 196.6L1629.6 242.9M1674.9 206.5L1629.6 252.9M1674.9 216.4L1629.6 262.8M1674.9 226.3L1629.6 272.7M1674.9 236.3L1629.6 282.6M1674.9 246.2L1629.6 292.5" stroke="#BEBEBE"/>
<path d="M1554.7 182.9L1552.3 172.5L1552.3 301.4L1554.7 311.8Z" fill="#fff"/>
<path d="M1554.7 182.9L1552.3 172.5M1554.7 311.8L1552.3 301.4M1554.7 182.9L1554.7 311.8M1552.3 172.5L1552.3 301.4M1554.7 192.8L1552.3 182.4M1554.7 202.8L1552.3 192.3M1554.7 212.7L1552.3 202.2M1554.7 222.6L1552.3 212.1M1554.7 232.5L1552.3 222.1M1554.7 242.4L1552.3 232M1554.7 252.3L1552.3 241.9M1554.7 262.3L1552.3 251.8M1554.7 272.2L1552.3 261.7M1554.7 282.1L1552.3 271.6M1554.7 292L1552.3 281.6M1554.7 301.9L1552.3 291.5" stroke="#BEBEBE"/>
<path d="M1563.4 192.3L1554.7 182.9L1554.7 311.8L1563.4 321.3Z" fill="#fff"/>
<path d="M1563.4 192.3L1554.7 182.9M1563.4 321.3L1554.7 311.8M1563.4 192.3L1563.4 321.3M1554.7 182.9L1554.7 311.8M1563.4 202.3L1554.7 192.8M1563.4 212.2L1554.7 202.8M1563.4 222.1L1554.7 212.7M1563.4 232L1554.7 222.6M1563.4 241.9L1554.7 232.5M1563.4 251.8L1554.7 242.4M1563.4 261.8L1554.7 252.3M1563.4 271.7L1554.7 262.3M1563.4 281.6L1554.7 272.2M1563.4 291.5L1554.7 282.1M1563.4 301.4L1554.7 292M1563.4 311.3L1554.7 301.9" stroke="#BEBEBE"/>
<path d="M1580.8 200.3L1563.4 192.3L1563.4 321.3L1580.8 329.3Z" fill="#fff"/>
<path d="M1580.8 200.3L1563.4 192.3M1580.8 329.3L1563.4 321.3M1563.4 192.3L1563.4 321.3M1580.8 210.3L1563.4 202.3M1580.8 220.2L1563.4 212.2M1580.8 230.1L1563.4 222.1M1580.8 240L1563.4 232M1580.8 249.9L1563.4 241.9M1580.8 259.8L1563.4 251.8M1580.8 269.8L1563.4 261.8M1580.8 279.7L1563.4 271.7M1580.8 289.6L1563.4 281.6M1580.8 299.5L1563.4 291.5M1580.8 309.4L1563.4 301.4M1580.8 319.4L1563.4 311.3" stroke="#BEBEBE"/>
<path d="M1605.2 209.1L1580.8 200.3L1580.8 329.3L1605.2 338Z" fill="#fff"/>
<path d="M1605.2 209.1L1580.8 200.3M1605.2 338L1580.8 329.3M1605.2 219L1580.8 210.3M1605.2 228.9L1580.8 220.2M1605.2 238.8L1580.8 230.1M1605.2 248.7L1580.8 240M1605.2 258.6L1580.8 249.9M1605.2 268.6L1580.8 259.8M1605.2 278.5L1580.8 269.8M1605.2 288.4L1580.8 279.7M1605.2 298.3L1580.8 289.6M1605.2 308.2L1580.8 299.5M1605.2 318.1L1580.8 309.4M1605.2 328.1L1580.8 319.4" stroke="#BEBEBE"/>
<path d="M1936.2 275.3L1911.8 310.1L1911.8 439L1936.2 404.2Z" fill="#fff"/>
<path d="M1936.2 275.3L1911.8 310.1M1936.2 404.2L1911.8 439M1936.2 275.3L1936.2 404.2M1911.8 310.1L1911.8 439M1936.2 285.2L1911.8 320M1936.2 295.1L1911.8 329.9M1936.2 305L1911.8 339.9M1936.2 314.9L1911.8 349.8M1936.2 324.8L1911.8 359.7M1936.2 334.8L1911.8 369.6M1936.2 344.7L1911.8 379.5M1936.2 354.6L1911.8 389.4M1936.2 364.5L1911.8 399.4M1936.2 374.4L1911.8 409.3M1936.2 384.3L1911.8 419.2M1936.2 394.3L1911.8 429.1" stroke="#BEBEBE"/>
<path d="M1911.8 310.1L1605.2 209.1L1605.2 338L1911.8 439Z" fill="#fff"/>
<path d="M1911.8 310.1L1605.2 209.1M1911.8 439L1605.2 338M1911.8 310.1L1911.8 439M1911.8 320L1605.2 219M1911.8 329.9L1605.2 228.9M1911.8 339.9L1605.2 238.8M1911.8 349.8L1605.2 248.7M1911.8 359.7L1605.2 258.6M1911.8 369.6L1605.2 268.6M1911.8 379.5L1605.2 278.5M1911.8 389.4L1605.2 288.4M1911.8 399.4L1605.2 298.3M1911.8 409.3L1605.2 308.2M1911.8 419.2L1605.2 318.1M1911.8 429.1L1605.2 328.1" stroke="#BEBEBE"/>
<path d="M1641.8 67.9L1810.8 123.7L1776 160.3L1674.9 127.2L1629.6 173.5L1936.2 275.3L1911.8 310.1L1605.2 209.1L1580.8 200.3L1563.4 192.3L1554.7 182.9L1552.3 172.5L1557.1 157.5L1568.6 144.6Z" fill="#fff" fill-rule="evenodd" stroke="#BEBEBE"/>
</g>
<g fill="none" stroke-width="1.2">
<path d="M403 442.2L339.1 460.5L339.1 473.6L403 455.3Z" fill="#fff"/>
<path d="M403 442.2L339.1 460.5M403 455.3L339.1 473.6M403 442.2L403 455.3M339.1 460.5L339.1 473.6" stroke="#BEBEBE"/>
<path d="M339.1 460.5L318.2 431.8L318.2 444.8L339.1 473.6Z" fill="#fff"/>
<path d="M339.1 460.5L318.2 431.8M339.1 473.6L318.2 444.8M339.1 460.5L339.1 473.6M318.2 431.8L318.2 444.8" stroke="#BEBEBE"/>
<path d="M318.2 431.8L384.7 414.5L403 442.2L339.1 460.5Z" fill="#fff" fill-rule="evenodd" stroke="#BEBEBE"/>
</g>
<g fill="none" stroke-width="1.2">
<path d="M2456.2 294L2391.5 362.6L2391.5 480.2L2456.2 411.6Z" fill="#fff"/>
<path d="M2456.2 294L2391.5 362.6M2456.2 411.6L2391.5 480.2M2456.2 294L2456.2 411.6M2391.5 362.6L2391.5 480.2" stroke="#BEBEBE"/>
<path d="M2391.5 362.6L2226.1 309.7L2226.1 427.3L2391.5 480.2Z" fill="#fff"/>
<path d="M2391.5 362.6L2226.1 309.7M2391.5 480.2L2226.1 427.3M2391.5 362.6L2391.5 480.2M2226.1 309.7L2226.1 427.3" stroke="#BEBEBE"/>
<path d="M2226.1 309.7L2293.5 239.9L2456.2 294L2391.5 362.6Z" fill="#fff" fill-rule="evenodd" stroke="#BEBEBE"/>
</g>
<g fill="none" stroke-width="1.2">
<path d="M1193.4 327.5L1100 397.2L1100 480.8L1193.4 411.1Z" fill="#fff"/>
<path d="M1193.4 327.5L1100 397.2M1193.4 411.1L1100 480.8M1193.4 327.5L1193.4 411.1M1100 397.2L1100 480.8M1193.4 336.8L1100 406.5M1193.4 346.1L1100 415.8M1193.4 355.4L1100 425.1M1193.4 364.7L1100 434.4M1193.4 374L1100 443.7M1193.4 383.3L1100 453M1193.4 392.6L1100 462.3M1193.4 401.9L1100 471.5" stroke="#BEBEBE"/>
<path d="M1100 397.2L1051.2 379.8L1051.2 463.4L1100 480.8Z" fill="#fff"/>
<path d="M1100 397.2L1051.2 379.8M1100 480.8L1051.2 463.4M1100 397.2L1100 480.8M1051.2 379.8L1051.2 463.4M1100 406.5L1051.2 389.1M1100 415.8L1051.2 398.4M1100 425.1L1051.2 407.7M1100 434.4L1051.2 417M1100 443.7L1051.2 426.2M1100 453L1051.2 435.5M1100 462.3L1051.2 444.8M1100 471.5L1051.2 454.1" stroke="#BEBEBE"/>
<path d="M1051.2 379.8L1145.3 310.1L1193.4 327.5L1100 397.2Z" fill="#fff" fill-rule="evenodd" stroke="#BEBEBE"/>
</g>
<g fill="none" stroke-width="1.2">
<path d="M2130.8 298.7L2017.2 411.6L2017.2 481.4L2130.8 368.5Z" fill="#fff"/>
<path d="M2130.8 298.7L2017.2 411.6M2130.8 368.5L2017.2 481.4M2130.8 298.7L2130.8 368.5M2017.2 411.6L2017.2 481.4M2130.8 308.7L2017.2 421.6M2130.8 318.6L2017.2 431.5M2130.8 328.6L2017.2 441.5M2130.8 338.6L2017.2 451.5M2130.8 348.5L2017.2 461.4M2130.8 358.5L2017.2 471.4" stroke="#BEBEBE"/>
<path d="M2017.2 411.6L1956.4 390L1956.4 459.8L2017.2 481.4Z" fill="#fff"/>
<path d="M2017.2 411.6L1956.4 390M2017.2 481.4L1956.4 459.8M2017.2 411.6L2017.2 481.4M1956.4 390L1956.4 459.8M2017.2 421.6L1956.4 400M2017.2 431.5L1956.4 410M2017.2 441.5L1956.4 419.9M2017.2 451.5L1956.4 429.9M2017.2 461.4L1956.4 439.9M2017.2 471.4L1956.4 449.8" stroke="#BEBEBE"/>
<path d="M1956.4 390L2068.1 277.5L2130.8 298.7L2017.2 411.6Z" fill="#fff" fill-rule="evenodd" stroke="#BEBEBE"/>
</g>
<g fill="none" stroke-width="1.2">
<path d="M-5.2 471L23.6 463.2L42.9 497.2L-5.2 507.6Z" fill="#fff" fill-rule="evenodd" stroke="#BEBEBE"/>
</g>
<g fill="none" stroke-width="1.2">
<path d="M450.1 465.8L376.8 486.7L376.8 518.1L450.1 497.2Z" fill="#fff"/>
<path d="M450.1 465.8L376.8 486.7M450.1 497.2L376.8 518.1M450.1 465.8L450.1 497.2M376.8 486.7L376.8 518.1M450.1 476.2L376.8 497.2M450.1 486.7L376.8 507.6" stroke="#BEBEBE"/>
<path d="M376.8 486.7L361.1 463.2L361.1 494.6L376.8 518.1Z" fill="#fff"/>
<path d="M376.8 486.7L361.1 463.2M376.8 518.1L361.1 494.6M376.8 486.7L376.8 518.1M361.1 463.2L361.1 494.6M376.8 497.2L361.1 473.6M376.8 507.6L361.1 484.1" stroke="#BEBEBE"/>
<path d="M361.1 463.2L434.4 443.8L450.1 465.8L376.8 486.7Z" fill="#fff" fill-rule="evenodd" stroke="#BEBEBE"/>
</g>
<g fill="none" stroke-width="1.2">
<path d="M451 480L376.2 497.9L376.2 519.4L451 501.5Z" fill="#fff"/>
<path d="M451 480L376.2 497.9M451 501.5L376.2 519.4M451 480L451 501.5M376.2 497.9L376.2 519.4M451 487.2L376.2 505M451 494.4L376.2 512.2" stroke="#BEBEBE"/>
<path d="M376.2 497.9L360.2 481.5L360.2 503.1L376.2 519.4Z" fill="#fff"/>
<path d="M376.2 497.9L360.2 481.5M376.2 519.4L360.2 503.1M376.2 497.9L376.2 519.4M360.2 481.5L360.2 503.1M376.2 505L360.2 488.7M376.2 512.2L360.2 495.9" stroke="#BEBEBE"/>
<path d="M360.2 481.5L434 464.6L451 480L376.2 497.9Z" fill="#fff" fill-rule="evenodd" stroke="#BEBEBE"/>
</g>
<g fill="none" stroke-width="1.2">
<path d="M257.5 473.6L209.3 494.6L209.3 524.9L257.5 504Z" fill="#fff"/>
<path d="M257.5 473.6L209.3 494.6M257.5 504L209.3 524.9M257.5 473.6L257.5 504M209.3 494.6L209.3 524.9M257.5 483.7L209.3 504.7M257.5 493.9L209.3 514.8" stroke="#BEBEBE"/>
<path d="M209.3 494.6L119.3 372.6L119.3 403L209.3 524.9Z" fill="#fff"/>
<path d="M209.3 494.6L119.3 372.6M209.3 524.9L119.3 403M209.3 494.6L209.3 524.9M119.3 372.6L119.3 403M209.3 504.7L119.3 382.7M209.3 514.8L119.3 392.9" stroke="#BEBEBE"/>
<path d="M119.3 372.6L168.5 349.6L257.5 473.6L209.3 494.6Z" fill="#fff" fill-rule="evenodd" stroke="#BEBEBE"/>
</g>
<g fill="none" stroke-width="1.2">
<path d="M1025.1 487L1070.4 443.5L1070.4 513.2L1025.1 556.7Z" fill="#fff" stroke="#BEBEBE"/>
<path d="M1025.1 498.7L1070.4 455.1M1025.1 510.3L1070.4 466.7M1025.1 521.9L1070.4 478.3M1025.1 533.5L1070.4 489.9M1025.1 545.1L1070.4 501.6" stroke="#BEBEBE"/>
</g>
<g fill="none" stroke-width="1.2">
<path d="M985 474.8L1025.1 487L1025.1 558.5L985 546.3Z" fill="#fff" stroke="#BEBEBE"/>
<path d="M985 486.7L1025.1 498.9M985 498.7L1025.1 510.8M985 510.6L1025.1 522.8M985 522.5L1025.1 534.7M985 534.4L1025.1 546.6" stroke="#BEBEBE"/>
</g>
<g fill="none" stroke-width="1.2">
<path d="M650.5 460.9L646.3 502.7M764.5 460.9L755.1 567.2M650.5 468.6L689.9 468.6M689.9 468.6L689.9 461.6" stroke="#BEBEBE"/>
</g>
<g fill="none" stroke-width="1.2">
<path d="M646.4 503.1L704.9 506.2L704.9 566.2L646.4 563.1Z" fill="#fff" stroke="#BEBEBE"/>
<path d="M646.4 518.1L704.9 521.2M646.4 533.1L704.9 536.2M646.4 548.1L704.9 551.2" stroke="#BEBEBE"/>
</g>
<g fill="none" stroke-width="1.2">
<path d="M646.3 502.7L755.1 506.2L755.1 567.2L646.3 563.7Z" fill="#fff" stroke="#BEBEBE"/>
<path d="M646.3 518L755.1 521.4M646.3 533.2L755.1 536.7M646.3 548.4L755.1 551.9" stroke="#BEBEBE"/>
</g>
<g fill="none" stroke-width="1.2">
<path d="M405.6 533.8L403 526L403 539L405.6 546.9Z" fill="#fff"/>
<path d="M405.6 533.8L403 526M405.6 546.9L403 539M405.6 533.8L405.6 546.9M403 526L403 539" stroke="#BEBEBE"/>
<path d="M463.2 539L444.8 544.3L444.8 557.4L463.2 552.1Z" fill="#fff"/>
<path d="M463.2 539L444.8 544.3M463.2 552.1L444.8 557.4M463.2 539L463.2 552.1M444.8 544.3L444.8 557.4" stroke="#BEBEBE"/>
<path d="M471 554.7L403 573.1L403 586.1L471 567.8Z" fill="#fff"/>
<path d="M471 554.7L403 573.1M471 567.8L403 586.1M471 554.7L471 567.8M403 573.1L403 586.1" stroke="#BEBEBE"/>
<path d="M403 573.1L382 539L382 552.1L403 586.1Z" fill="#fff"/>
<path d="M403 573.1L382 539M403 586.1L382 552.1M403 573.1L403 586.1M382 539L382 552.1" stroke="#BEBEBE"/>
<path d="M382 539L405.6 533.8L403 526L447.5 515.5L463.2 539L444.8 544.3L471 554.7L403 573.1Z" fill="#fff" fill-rule="evenodd" stroke="#BEBEBE"/>
</g>
<g fill="none" stroke-width="1.2">
<path d="M406.3 535.4L403.3 527.7L403.3 543.7L406.3 551.4Z" fill="#fff"/>
<path d="M406.3 535.4L403.3 527.7M406.3 551.4L403.3 543.7M406.3 535.4L406.3 551.4M403.3 527.7L403.3 543.7" stroke="#BEBEBE"/>
<path d="M461.7 530.8L443.3 536L443.3 552L461.7 546.8Z" fill="#fff"/>
<path d="M461.7 530.8L443.3 536M461.7 546.8L443.3 552M461.7 530.8L461.7 546.8M443.3 536L443.3 552" stroke="#BEBEBE"/>
<path d="M471 553.3L403.3 570.8L403.3 586.8L471 569.3Z" fill="#fff"/>
<path d="M471 553.3L403.3 570.8M471 569.3L403.3 586.8M471 553.3L471 569.3M403.3 570.8L403.3 586.8" stroke="#BEBEBE"/>
<path d="M403.3 570.8L383.2 541.6L383.2 557.6L403.3 586.8Z" fill="#fff"/>
<path d="M403.3 570.8L383.2 541.6M403.3 586.8L383.2 557.6M403.3 570.8L403.3 586.8M383.2 541.6L383.2 557.6" stroke="#BEBEBE"/>
<path d="M383.2 541.6L406.3 535.4L403.3 527.7L447.9 515.4L461.7 530.8L443.3 536L449.4 545.3L461.7 541.6L471 553.3L403.3 570.8Z" fill="#fff" fill-rule="evenodd" stroke="#BEBEBE"/>
</g>
<g fill="none" stroke-width="1.2">
<path d="M904.9 513.2L933.8 521.9L933.8 593.3L904.9 584.6Z" fill="#fff" stroke="#BEBEBE"/>
<path d="M904.9 525.1L933.8 533.8M904.9 537L933.8 545.7M904.9 548.9L933.8 557.6M904.9 560.8L933.8 569.5M904.9 572.7L933.8 581.4" stroke="#BEBEBE"/>
</g>
<g fill="none" stroke-width="1.2">
<path d="M904.9 513.2L960.6 460.2M960.6 497.5L985 474.8M962.4 497.5L985 504.5" stroke="#BEBEBE"/>
</g>
<g fill="none" stroke-width="1.2">
<path d="M1005.9 514.9L982.6 537.6L982.6 609L1005.9 586.3Z" fill="#fff"/>
<path d="M1005.9 514.9L982.6 537.6M1005.9 586.3L982.6 609M1005.9 514.9L1005.9 586.3M982.6 537.6L982.6 609M1005.9 526.8L982.6 549.5M1005.9 538.7L982.6 561.4M1005.9 550.6L982.6 573.3M1005.9 562.5L982.6 585.2M1005.9 574.4L982.6 597.1" stroke="#BEBEBE"/>
<path d="M982.6 537.6L933.8 521.9L933.8 593.3L982.6 609Z" fill="#fff"/>
<path d="M982.6 537.6L933.8 521.9M982.6 609L933.8 593.3M982.6 537.6L982.6 609M933.8 521.9L933.8 593.3M982.6 549.5L933.8 533.8M982.6 561.4L933.8 545.7M982.6 573.3L933.8 557.6M982.6 585.2L933.8 569.5M982.6 597.1L933.8 581.4" stroke="#BEBEBE"/>
<path d="M933.8 521.9L960.6 497.5L1005.9 514.9L982.6 537.6Z" fill="#fff" fill-rule="evenodd" stroke="#BEBEBE"/>
</g>
<g fill="none" stroke-width="1.2">
<path d="M2948.1 615.4L2926 610.9L2926 621.6L2948.1 626.1Z" fill="#fff"/>
<path d="M2948.1 615.4L2926 610.9M2948.1 626.1L2926 621.6M2948.1 615.4L2948.1 626.1M2926 610.9L2926 621.6" stroke="#BEBEBE"/>
<path d="M2926 610.9L2911.9 626.1L2911.9 636.8L2926 621.6Z" fill="#fff"/>
<path d="M2926 610.9L2911.9 626.1M2926 621.6L2911.9 636.8M2926 610.9L2926 621.6M2911.9 626.1L2911.9 636.8" stroke="#BEBEBE"/>
<path d="M2982.5 606.3L2963.4 633.8L2963.4 644.5L2982.5 617Z" fill="#fff"/>
<path d="M2982.5 606.3L2963.4 633.8M2982.5 617L2963.4 644.5M2982.5 606.3L2982.5 617M2963.4 633.8L2963.4 644.5" stroke="#BEBEBE"/>
<path d="M2963.4 633.8L2942.4 628L2942.4 638.7L2963.4 644.5Z" fill="#fff"/>
<path d="M2963.4 633.8L2942.4 628M2963.4 644.5L2942.4 638.7M2963.4 633.8L2963.4 644.5M2942.4 628L2942.4 638.7" stroke="#BEBEBE"/>
<path d="M2929 632.2L2915.7 649L2915.7 659.7L2929 642.9Z" fill="#fff"/>
<path d="M2929 632.2L2915.7 649M2929 642.9L2915.7 659.7M2929 632.2L2929 642.9M2915.7 649L2915.7 659.7" stroke="#BEBEBE"/>
<path d="M2915.7 649L2870.6 629.2L2870.6 639.9L2915.7 659.7Z" fill="#fff"/>
<path d="M2915.7 649L2870.6 629.2M2915.7 659.7L2870.6 639.9M2915.7 649L2915.7 659.7M2870.6 629.2L2870.6 639.9" stroke="#BEBEBE"/>
<path d="M2870.6 629.2L2910 580.3L2982.5 606.3L2963.4 633.8L2942.4 628L2948.1 615.4L2926 610.9L2911.9 626.1L2929 632.2L2915.7 649Z" fill="#fff" fill-rule="evenodd" stroke="#BEBEBE"/>
</g>
<g fill="none" stroke-width="1.2">
<path d="M3578 612L2990.1 413.1L2990.1 460.8L3578 659.7Z" fill="#fff"/>
<path d="M3578 612L2990.1 413.1M3578 659.7L2990.1 460.8M3578 612L3578 659.7M2990.1 413.1L2990.1 460.8M3578 623.9L2990.1 425.1M3578 635.9L2990.1 437M3578 647.8L2990.1 448.9" stroke="#BEBEBE"/>
<path d="M2990.1 413.1L3163.8 418.1L3400.5 494.4L3415.8 479.2L3578 530.7L3578 612Z" fill="#fff" fill-rule="evenodd" stroke="#BEBEBE"/>
</g>
<g fill="none" stroke-width="1.2">
<path d="M480.2 635.5L463.9 609.3L463.9 641.6L480.2 667.8Z" fill="#fff"/>
<path d="M480.2 635.5L463.9 609.3M480.2 667.8L463.9 641.6M480.2 635.5L480.2 667.8M463.9 609.3L463.9 641.6M480.2 646.2L463.9 620.1M480.2 657L463.9 630.8" stroke="#BEBEBE"/>
<path d="M550.1 631.4L497.1 644.7L497.1 677L550.1 663.8Z" fill="#fff"/>
<path d="M550.1 631.4L497.1 644.7M550.1 663.8L497.1 677M550.1 631.4L550.1 663.8M497.1 644.7L497.1 677M550.1 642.2L497.1 655.5M550.1 653L497.1 666.2" stroke="#BEBEBE"/>
<path d="M497.1 644.7L480.2 635.5L480.2 667.8L497.1 677Z" fill="#fff"/>
<path d="M497.1 644.7L480.2 635.5M497.1 677L480.2 667.8M497.1 644.7L497.1 677M480.2 635.5L480.2 667.8M497.1 655.5L480.2 646.2M497.1 666.2L480.2 657" stroke="#BEBEBE"/>
<path d="M463.9 609.3L467.9 601.6L518.7 589.3L550.1 631.4L497.1 644.7L480.2 635.5Z" fill="#fff" fill-rule="evenodd" stroke="#BEBEBE"/>
</g>
<g fill="none" stroke-width="1.2">
<path d="M2256.3 319.5L2256.3 415.5M2288.8 331.2L2288.8 431.2M2288.8 331.2L2326.8 294M2326.8 294L2422.9 325.3" stroke="#BEBEBE"/>
</g>
<g fill="none" stroke-width="1.2">
<path d="M1094.8 560.2L1094.8 603.8M1303.8 633.4L1303.8 675.2M1343.9 621.2L1343.9 676.9M1343.9 676.9L1211.5 798.9M1199.3 772.8L1199.3 825M1199.3 825L1211.5 798.9M1211.5 798.9L1211.5 762.3" stroke="#BEBEBE"/>
</g>
<g fill="none" stroke-width="1.2">
<path d="M266.3 498.5L261.7 510.8L261.7 638.5L266.3 626.2Z" fill="#fff"/>
<path d="M266.3 498.5L261.7 510.8M266.3 626.2L261.7 638.5M266.3 498.5L266.3 626.2M261.7 510.8L261.7 638.5M266.3 507.6L261.7 519.9M266.3 516.7L261.7 529M266.3 525.8L261.7 538.2M266.3 535L261.7 547.3M266.3 544.1L261.7 556.4M266.3 553.2L261.7 565.5M266.3 562.3L261.7 574.7M266.3 571.5L261.7 583.8M266.3 580.6L261.7 592.9M266.3 589.7L261.7 602M266.3 598.8L261.7 611.2M266.3 608L261.7 620.3M266.3 617.1L261.7 629.4" stroke="#BEBEBE"/>
<path d="M306.3 521.6L292.4 543.1L292.4 670.9L306.3 649.3Z" fill="#fff"/>
<path d="M306.3 521.6L292.4 543.1M306.3 649.3L292.4 670.9M306.3 521.6L306.3 649.3M292.4 543.1L292.4 670.9M306.3 530.7L292.4 552.2M306.3 539.8L292.4 561.4M306.3 548.9L292.4 570.5M306.3 558.1L292.4 579.6M306.3 567.2L292.4 588.7M306.3 576.3L292.4 597.9M306.3 585.4L292.4 607M306.3 594.6L292.4 616.1M306.3 603.7L292.4 625.2M306.3 612.8L292.4 634.4M306.3 621.9L292.4 643.5M306.3 631.1L292.4 652.6M306.3 640.2L292.4 661.7" stroke="#BEBEBE"/>
<path d="M324.1 551.4L308.7 569.3L308.7 697L324.1 679.2Z" fill="#fff"/>
<path d="M324.1 551.4L308.7 569.3M324.1 679.2L308.7 697M324.1 551.4L324.1 679.2M308.7 569.3L308.7 697M324.1 560.5L308.7 578.4M324.1 569.7L308.7 587.5M324.1 578.8L308.7 596.6M324.1 587.9L308.7 605.8M324.1 597L308.7 614.9M324.1 606.2L308.7 624M324.1 615.3L308.7 633.1M324.1 624.4L308.7 642.3M324.1 633.5L308.7 651.4M324.1 642.7L308.7 660.5M324.1 651.8L308.7 669.6M324.1 660.9L308.7 678.8M324.1 670L308.7 687.9" stroke="#BEBEBE"/>
<path d="M308.7 569.3L277 565.6L277 693.3L308.7 697Z" fill="#fff"/>
<path d="M308.7 569.3L277 565.6M308.7 697L277 693.3M308.7 569.3L308.7 697M277 565.6L277 693.3M308.7 578.4L277 574.7M308.7 587.5L277 583.8M308.7 596.6L277 592.9M308.7 605.8L277 602.1M308.7 614.9L277 611.2M308.7 624L277 620.3M308.7 633.1L277 629.4M308.7 642.3L277 638.6M308.7 651.4L277 647.7M308.7 660.5L277 656.8M308.7 669.6L277 665.9M308.7 678.8L277 675.1M308.7 687.9L277 684.2" stroke="#BEBEBE"/>
<path d="M277 565.6L265.3 581.6L265.3 709.3L277 693.3Z" fill="#fff"/>
<path d="M277 565.6L265.3 581.6M277 693.3L265.3 709.3M277 565.6L277 693.3M265.3 581.6L265.3 709.3M277 574.7L265.3 590.7M277 583.8L265.3 599.8M277 592.9L265.3 609M277 602.1L265.3 618.1M277 611.2L265.3 627.2M277 620.3L265.3 636.3M277 629.4L265.3 645.5M277 638.6L265.3 654.6M277 647.7L265.3 663.7M277 656.8L265.3 672.8M277 665.9L265.3 682M277 675.1L265.3 691.1M277 684.2L265.3 700.2" stroke="#BEBEBE"/>
<path d="M265.3 581.6L157 558.5L157 686.2L265.3 709.3Z" fill="#fff"/>
<path d="M265.3 581.6L157 558.5M265.3 709.3L157 686.2M265.3 581.6L265.3 709.3M157 558.5L157 686.2M265.3 590.7L157 567.6M265.3 599.8L157 576.7M265.3 609L157 585.9M265.3 618.1L157 595M265.3 627.2L157 604.1M265.3 636.3L157 613.2M265.3 645.5L157 622.4M265.3 654.6L157 631.5M265.3 663.7L157 640.6M265.3 672.8L157 649.7M265.3 682L157 658.9M265.3 691.1L157 668M265.3 700.2L157 677.1" stroke="#BEBEBE"/>
<path d="M157 558.5L163.1 520L172.4 506.2L197 510.8L203.2 503.1L237 504.6L246.3 493.9L266.3 498.5L261.7 510.8L306.3 521.6L292.4 543.1L324.1 551.4L308.7 569.3L277 565.6L265.3 581.6Z" fill="#fff" fill-rule="evenodd" stroke="#BEBEBE"/>
</g>
<g fill="none" stroke-width="1.2">
<path d="M113.9 526.2L107.7 536.9L107.7 667.8L113.9 657Z" fill="#fff"/>
<path d="M113.9 526.2L107.7 536.9M113.9 657L107.7 667.8M113.9 526.2L113.9 657M107.7 536.9L107.7 667.8M113.9 535.5L107.7 546.3M113.9 544.9L107.7 555.6M113.9 554.2L107.7 565M113.9 563.6L107.7 574.3M113.9 572.9L107.7 583.7M113.9 582.2L107.7 593M113.9 591.6L107.7 602.4M113.9 600.9L107.7 611.7M113.9 610.3L107.7 621M113.9 619.6L107.7 630.4M113.9 629L107.7 639.7M113.9 638.3L107.7 649.1M113.9 647.7L107.7 658.4" stroke="#BEBEBE"/>
<path d="M0 577L-6.2 569.3L-6.2 700.1L0 707.8Z" fill="#fff"/>
<path d="M0 577L-6.2 569.3M0 707.8L-6.2 700.1M0 577L0 707.8M-6.2 569.3L-6.2 700.1M0 586.3L-6.2 578.6M0 595.7L-6.2 588M0 605L-6.2 597.3M0 614.3L-6.2 606.6M0 623.7L-6.2 616M0 633L-6.2 625.3M0 642.4L-6.2 634.7M0 651.7L-6.2 644M0 661.1L-6.2 653.4M0 670.4L-6.2 662.7M0 679.8L-6.2 672.1M0 689.1L-6.2 681.4M0 698.4L-6.2 690.8" stroke="#BEBEBE"/>
<path d="M41.6 587.7L0 577L0 707.8L41.6 718.6Z" fill="#fff"/>
<path d="M41.6 587.7L0 577M41.6 718.6L0 707.8M41.6 587.7L41.6 718.6M0 577L0 707.8M41.6 597.1L0 586.3M41.6 606.4L0 595.7M41.6 615.8L0 605M41.6 625.1L0 614.3M41.6 634.5L0 623.7M41.6 643.8L0 633M41.6 653.2L0 642.4M41.6 662.5L0 651.7M41.6 671.8L0 661.1M41.6 681.2L0 670.4M41.6 690.5L0 679.8M41.6 699.9L0 689.1M41.6 709.2L0 698.4" stroke="#BEBEBE"/>
<path d="M149.9 546.8L107.7 598.5L107.7 729.3L149.9 677.6Z" fill="#fff"/>
<path d="M149.9 546.8L107.7 598.5M149.9 677.6L107.7 729.3M149.9 546.8L149.9 677.6M107.7 598.5L107.7 729.3M149.9 556.1L107.7 607.9M149.9 565.5L107.7 617.2M149.9 574.8L107.7 626.5M149.9 584.2L107.7 635.9M149.9 593.5L107.7 645.2M149.9 602.9L107.7 654.6M149.9 612.2L107.7 663.9M149.9 621.6L107.7 673.3M149.9 630.9L107.7 682.6M149.9 640.2L107.7 692M149.9 649.6L107.7 701.3M149.9 658.9L107.7 710.6M149.9 668.3L107.7 720" stroke="#BEBEBE"/>
<path d="M107.7 598.5L70.8 596.4L70.8 727.2L107.7 729.3Z" fill="#fff"/>
<path d="M107.7 598.5L70.8 596.4M107.7 729.3L70.8 727.2M107.7 598.5L107.7 729.3M70.8 596.4L70.8 727.2M107.7 607.9L70.8 605.7M107.7 617.2L70.8 615M107.7 626.5L70.8 624.4M107.7 635.9L70.8 633.7M107.7 645.2L70.8 643.1M107.7 654.6L70.8 652.4M107.7 663.9L70.8 661.8M107.7 673.3L70.8 671.1M107.7 682.6L70.8 680.5M107.7 692L70.8 689.8M107.7 701.3L70.8 699.1M107.7 710.6L70.8 708.5M107.7 720L70.8 717.8" stroke="#BEBEBE"/>
<path d="M70.8 596.4L61.6 607.7L61.6 738.6L70.8 727.2Z" fill="#fff"/>
<path d="M70.8 596.4L61.6 607.7M70.8 727.2L61.6 738.6M70.8 596.4L70.8 727.2M61.6 607.7L61.6 738.6M70.8 605.7L61.6 617.1M70.8 615L61.6 626.4M70.8 624.4L61.6 635.8M70.8 633.7L61.6 645.1M70.8 643.1L61.6 654.5M70.8 652.4L61.6 663.8M70.8 661.8L61.6 673.2M70.8 671.1L61.6 682.5M70.8 680.5L61.6 691.8M70.8 689.8L61.6 701.2M70.8 699.1L61.6 710.5M70.8 708.5L61.6 719.9M70.8 717.8L61.6 729.2" stroke="#BEBEBE"/>
<path d="M61.6 607.7L32.3 600.7L32.3 731.5L61.6 738.6Z" fill="#fff"/>
<path d="M61.6 607.7L32.3 600.7M61.6 738.6L32.3 731.5M61.6 607.7L61.6 738.6M32.3 600.7L32.3 731.5M61.6 617.1L32.3 610M61.6 626.4L32.3 619.4M61.6 635.8L32.3 628.7M61.6 645.1L32.3 638M61.6 654.5L32.3 647.4M61.6 663.8L32.3 656.7M61.6 673.2L32.3 666.1M61.6 682.5L32.3 675.4M61.6 691.8L32.3 684.8M61.6 701.2L32.3 694.1M61.6 710.5L32.3 703.5M61.6 719.9L32.3 712.8M61.6 729.2L32.3 722.1" stroke="#BEBEBE"/>
<path d="M-6.2 569.3L23.1 546.2L43.1 520L89.3 530.8L95.4 521.6L113.9 526.2L107.7 536.9L149.9 546.8L107.7 598.5L70.8 596.4L61.6 607.7L32.3 600.7L41.6 587.7L0 577Z" fill="#fff" fill-rule="evenodd" stroke="#BEBEBE"/>
</g>
<g fill="none" stroke-width="1.2">
<path d="M595.6 697L523.3 726.3L523.3 738.6L595.6 709.3Z" fill="#fff"/>
<path d="M595.6 697L523.3 726.3M595.6 709.3L523.3 738.6M595.6 697L595.6 709.3M523.3 726.3L523.3 738.6" stroke="#BEBEBE"/>
<path d="M523.3 726.3L482.7 690.9L482.7 703.2L523.3 738.6Z" fill="#fff"/>
<path d="M523.3 726.3L482.7 690.9M523.3 738.6L482.7 703.2M523.3 726.3L523.3 738.6M482.7 690.9L482.7 703.2" stroke="#BEBEBE"/>
<path d="M482.7 690.9L511 682.5L520.2 689.3L554.1 672.4L595.6 697L523.3 726.3Z" fill="#fff" fill-rule="evenodd" stroke="#BEBEBE"/>
</g>
<g fill="none" stroke-width="1.2">
<path d="M2801.2 668.9L2791.6 681.5L2791.6 692.2L2801.2 679.6Z" fill="#fff"/>
<path d="M2801.2 668.9L2791.6 681.5M2801.2 679.6L2791.6 692.2M2801.2 668.9L2801.2 679.6M2791.6 681.5L2791.6 692.2" stroke="#BEBEBE"/>
<path d="M2908 694.1L2903.1 703.2L2903.1 713.9L2908 704.8Z" fill="#fff"/>
<path d="M2908 694.1L2903.1 703.2M2908 704.8L2903.1 713.9M2908 694.1L2908 704.8M2903.1 703.2L2903.1 713.9" stroke="#BEBEBE"/>
<path d="M2860.3 713.9L2852.7 721.6L2852.7 732.3L2860.3 724.6Z" fill="#fff"/>
<path d="M2860.3 713.9L2852.7 721.6M2860.3 724.6L2852.7 732.3M2860.3 713.9L2860.3 724.6M2852.7 721.6L2852.7 732.3" stroke="#BEBEBE"/>
<path d="M2852.7 721.6L2738.2 691.8L2738.2 702.5L2852.7 732.3Z" fill="#fff"/>
<path d="M2852.7 721.6L2738.2 691.8M2852.7 732.3L2738.2 702.5M2852.7 721.6L2852.7 732.3M2738.2 691.8L2738.2 702.5" stroke="#BEBEBE"/>
<path d="M2992 732.3L2974.1 751.3L2974.1 762L2992 743Z" fill="#fff"/>
<path d="M2992 732.3L2974.1 751.3M2992 743L2974.1 762M2992 732.3L2992 743M2974.1 751.3L2974.1 762" stroke="#BEBEBE"/>
<path d="M2974.1 751.3L2860.3 713.9L2860.3 724.6L2974.1 762Z" fill="#fff"/>
<path d="M2974.1 751.3L2860.3 713.9M2974.1 762L2860.3 724.6M2974.1 751.3L2974.1 762M2860.3 713.9L2860.3 724.6" stroke="#BEBEBE"/>
<path d="M2738.2 691.8L2776.3 659.7L2801.2 668.9L2791.6 681.5L2818.3 683.4L2833.6 671.2L2908 694.1L2903.1 703.2L2992 732.3L2974.1 751.3L2860.3 713.9L2852.7 721.6Z" fill="#fff" fill-rule="evenodd" stroke="#BEBEBE"/>
</g>
<g fill="none" stroke-width="1.2">
<path d="M809.1 617.7L852.6 578.7L1047.7 648.4L1094.8 603.8L1303.8 675.2L1211.5 762.3Z" fill="#fff" fill-rule="evenodd" stroke="#BEBEBE"/>
</g>
<g fill="none" stroke-width="1.2">
<path d="M149.9 760.1L89.3 781.1L89.3 796.4L149.9 775.5Z" fill="#fff"/>
<path d="M149.9 760.1L89.3 781.1M149.9 775.5L89.3 796.4M149.9 760.1L149.9 775.5M89.3 781.1L89.3 796.4" stroke="#BEBEBE"/>
<path d="M89.3 781.1L59.1 753.3L59.1 768.7L89.3 796.4Z" fill="#fff"/>
<path d="M89.3 781.1L59.1 753.3M89.3 796.4L59.1 768.7M89.3 781.1L89.3 796.4M59.1 753.3L59.1 768.7" stroke="#BEBEBE"/>
<path d="M59.1 753.3L118.5 732.4L149.9 760.1L89.3 781.1Z" fill="#fff" fill-rule="evenodd" stroke="#BEBEBE"/>
</g>
<g fill="none" stroke-width="1.2">
<path d="M149.2 761.5L90 783.4L90 798.1L149.2 776.1Z" fill="#fff"/>
<path d="M149.2 761.5L90 783.4M149.2 776.1L90 798.1M149.2 761.5L149.2 776.1M90 783.4L90 798.1" stroke="#BEBEBE"/>
<path d="M90 783.4L58.6 753.6L58.6 768.3L90 798.1Z" fill="#fff"/>
<path d="M90 783.4L58.6 753.6M90 798.1L58.6 768.3M90 783.4L90 798.1M58.6 753.6L58.6 768.3" stroke="#BEBEBE"/>
<path d="M58.6 753.6L116.2 731.6L149.2 761.5L90 783.4Z" fill="#fff" fill-rule="evenodd" stroke="#BEBEBE"/>
</g>
<g fill="none" stroke-width="1.2">
<path d="M1109.4 670L1157.5 624.7L1240.4 655.3L1192.3 699.6Z" fill="#fff" fill-rule="evenodd" stroke="#BEBEBE"/>
</g>
<g fill="none" stroke-width="1.2">
<path d="M3578 786.5L3278.3 700.6L3278.3 736.8L3578 822.7Z" fill="#fff"/>
<path d="M3578 786.5L3278.3 700.6M3578 822.7L3278.3 736.8M3578 786.5L3578 822.7M3278.3 700.6L3278.3 736.8M3578 798.6L3278.3 712.7M3578 810.6L3278.3 724.8" stroke="#BEBEBE"/>
<path d="M3278.3 700.6L3313.8 661.3L3578 733L3578 786.5Z" fill="#fff" fill-rule="evenodd" stroke="#BEBEBE"/>
</g>
<g fill="none" stroke-width="1.2">
<path d="M315.5 787.2L293.4 797.1L293.4 807.8L315.5 798Z" fill="#fff"/>
<path d="M315.5 787.2L293.4 797.1M315.5 798L293.4 807.8M315.5 787.2L315.5 798M293.4 797.1L293.4 807.8" stroke="#BEBEBE"/>
<path d="M293.4 797.1L217 742.3L217 753L293.4 807.8Z" fill="#fff"/>
<path d="M293.4 797.1L217 742.3M293.4 807.8L217 753M293.4 797.1L293.4 807.8M217 742.3L217 753" stroke="#BEBEBE"/>
<path d="M334 801.7L315.5 787.2L315.5 798L334 812.5Z" fill="#fff"/>
<path d="M334 801.7L315.5 787.2M334 812.5L315.5 798M334 801.7L334 812.5M315.5 787.2L315.5 798" stroke="#BEBEBE"/>
<path d="M437.1 775.5L357.1 831.8L357.1 842.6L437.1 786.3Z" fill="#fff"/>
<path d="M437.1 775.5L357.1 831.8M437.1 786.3L357.1 842.6M437.1 775.5L437.1 786.3M357.1 831.8L357.1 842.6" stroke="#BEBEBE"/>
<path d="M357.1 831.8L323.8 806.3L323.8 817.1L357.1 842.6Z" fill="#fff"/>
<path d="M357.1 831.8L323.8 806.3M357.1 842.6L323.8 817.1M357.1 831.8L357.1 842.6M323.8 806.3L323.8 817.1" stroke="#BEBEBE"/>
<path d="M217 742.3L321.7 697.9L437.1 775.5L357.1 831.8L323.8 806.3L334 801.7L315.5 787.2L293.4 797.1Z" fill="#fff" fill-rule="evenodd" stroke="#BEBEBE"/>
</g>
<g fill="none" stroke-width="1.2">
<path d="M825.8 801.2L790.5 824.7L790.5 861.9L825.8 838.4Z" fill="#fff"/>
<path d="M825.8 801.2L790.5 824.7M825.8 838.4L790.5 861.9M825.8 801.2L825.8 838.4M790.5 824.7L790.5 861.9M825.8 819.8L790.5 843.3" stroke="#BEBEBE"/>
<path d="M790.5 824.7L735.6 801.2L735.6 838.4L790.5 861.9Z" fill="#fff"/>
<path d="M790.5 824.7L735.6 801.2M790.5 861.9L735.6 838.4M790.5 824.7L790.5 861.9M735.6 801.2L735.6 838.4M790.5 843.3L735.6 819.8" stroke="#BEBEBE"/>
<path d="M735.6 801.2L770.9 777.6L825.8 801.2L790.5 824.7Z" fill="#fff" fill-rule="evenodd" stroke="#BEBEBE"/>
</g>
<g fill="none" stroke-width="1.2">
<path d="M1211.5 762.3L1157.5 811.1L1157.5 866.8L1211.5 818Z" fill="#fff"/>
<path d="M1211.5 762.3L1157.5 811.1M1211.5 818L1157.5 866.8M1211.5 762.3L1211.5 818M1157.5 811.1L1157.5 866.8" stroke="#BEBEBE"/>
<path d="M1157.5 811.1L755.1 668.2L755.1 724L1157.5 866.8Z" fill="#fff"/>
<path d="M1157.5 811.1L755.1 668.2M1157.5 866.8L755.1 724M1157.5 811.1L1157.5 866.8M755.1 668.2L755.1 724" stroke="#BEBEBE"/>
<path d="M755.1 668.2L809.1 617.7L1211.5 762.3L1157.5 811.1Z" fill="#fff" fill-rule="evenodd" stroke="#BEBEBE"/>
</g>
<g fill="none" stroke-width="1.2">
<path d="M755.1 706.6L1157.5 849.4M1157.5 849.4L1199.3 811.1M798.6 629.9L1199.3 772.8" stroke="#BEBEBE"/>
</g>
<g fill="none" stroke-width="1.2">
<path d="M611 806.3L541.8 834L541.8 870.9L611 843.2Z" fill="#fff"/>
<path d="M611 806.3L541.8 834M611 843.2L541.8 870.9M611 806.3L611 843.2M541.8 834L541.8 870.9" stroke="#BEBEBE"/>
<path d="M541.8 834L486.4 787.8L486.4 824.8L541.8 870.9Z" fill="#fff"/>
<path d="M541.8 834L486.4 787.8M541.8 870.9L486.4 824.8M541.8 834L541.8 870.9M486.4 787.8L486.4 824.8" stroke="#BEBEBE"/>
<path d="M486.4 787.8L554.1 758.6L611 777.1L611 806.3L541.8 834Z" fill="#fff" fill-rule="evenodd" stroke="#BEBEBE"/>
</g>
<g fill="none" stroke-width="1.2">
<path d="M718 835.3L689.3 852.1L689.3 871.7L718 854.9Z" fill="#fff"/>
<path d="M718 835.3L689.3 852.1M718 854.9L689.3 871.7M718 835.3L718 854.9M689.3 852.1L689.3 871.7" stroke="#BEBEBE"/>
<path d="M689.3 852.1L672.1 841.5L672.1 861.1L689.3 871.7Z" fill="#fff"/>
<path d="M689.3 852.1L672.1 841.5M689.3 871.7L672.1 861.1M689.3 852.1L689.3 871.7M672.1 841.5L672.1 861.1" stroke="#BEBEBE"/>
<path d="M672.1 841.5L693.3 825.9L718 835.3L689.3 852.1Z" fill="#fff" fill-rule="evenodd" stroke="#BEBEBE"/>
</g>
<g fill="none" stroke-width="1.2">
<path d="M704.9 849.4L677.2 864.8L677.2 883.3L704.9 867.9Z" fill="#fff"/>
<path d="M704.9 849.4L677.2 864.8M704.9 867.9L677.2 883.3M704.9 849.4L704.9 867.9M677.2 864.8L677.2 883.3" stroke="#BEBEBE"/>
<path d="M677.2 864.8L671.1 846.3L671.1 864.8L677.2 883.3Z" fill="#fff"/>
<path d="M677.2 864.8L671.1 846.3M677.2 883.3L671.1 864.8M677.2 864.8L677.2 883.3M671.1 846.3L671.1 864.8" stroke="#BEBEBE"/>
<path d="M671.1 846.3L700 824.8L704.9 849.4L677.2 864.8Z" fill="#fff" fill-rule="evenodd" stroke="#BEBEBE"/>
</g>
<g fill="none" stroke-width="1.2">
<path d="M3461.6 931.5L3507 906.7" stroke="#BEBEBE"/>
</g>
<g fill="none" stroke-width="1.2">
<path d="M3062.7 824.6L3019.9 845.6L3019.9 906.7L3062.7 885.7Z" fill="#fff"/>
<path d="M3062.7 824.6L3019.9 845.6M3062.7 885.7L3019.9 906.7M3062.7 824.6L3062.7 885.7M3019.9 845.6L3019.9 906.7M3062.7 836.9L3019.9 857.9M3062.7 849.1L3019.9 870.1M3062.7 861.3L3019.9 882.3M3062.7 873.5L3019.9 894.5" stroke="#BEBEBE"/>
<path d="M3019.9 845.6L2738.2 710.1L2738.2 771.2L3019.9 906.7Z" fill="#fff"/>
<path d="M3019.9 845.6L2738.2 710.1M3019.9 906.7L2738.2 771.2M3019.9 845.6L3019.9 906.7M2738.2 710.1L2738.2 771.2M3019.9 857.9L2738.2 722.3M3019.9 870.1L2738.2 734.6M3019.9 882.3L2738.2 746.8M3019.9 894.5L2738.2 759" stroke="#BEBEBE"/>
<path d="M2738.2 710.1L2778.3 687.2L3062.7 824.6L3019.9 845.6Z" fill="#fff" fill-rule="evenodd" stroke="#BEBEBE"/>
</g>
<g fill="none" stroke-width="1.2">
<path d="M303.8 855.5L200.7 902.3L200.7 914L303.8 867.2Z" fill="#fff"/>
<path d="M303.8 855.5L200.7 902.3M303.8 867.2L200.7 914M303.8 855.5L303.8 867.2M200.7 902.3L200.7 914" stroke="#BEBEBE"/>
<path d="M200.7 902.3L165.3 878.6L165.3 890.3L200.7 914Z" fill="#fff"/>
<path d="M200.7 902.3L165.3 878.6M200.7 914L165.3 890.3M200.7 902.3L200.7 914M165.3 878.6L165.3 890.3" stroke="#BEBEBE"/>
<path d="M165.3 878.6L267.8 830.9L303.8 855.5L200.7 902.3Z" fill="#fff" fill-rule="evenodd" stroke="#BEBEBE"/>
</g>
<g fill="none" stroke-width="1.2">
<path d="M808.1 806.3L704.2 895.2L704.2 931.3L808.1 842.3Z" fill="#fff"/>
<path d="M808.1 806.3L704.2 895.2M808.1 842.3L704.2 931.3M808.1 806.3L808.1 842.3M704.2 895.2L704.2 931.3M808.1 824.3L704.2 913.3" stroke="#BEBEBE"/>
<path d="M704.2 895.2L670.9 877.6L670.9 913.7L704.2 931.3Z" fill="#fff"/>
<path d="M704.2 895.2L670.9 877.6M704.2 931.3L670.9 913.7M704.2 895.2L704.2 931.3M670.9 877.6L670.9 913.7M704.2 913.3L670.9 895.6" stroke="#BEBEBE"/>
<path d="M670.9 877.6L776.8 793.3L808.1 806.3L704.2 895.2Z" fill="#fff" fill-rule="evenodd" stroke="#BEBEBE"/>
</g>
<g fill="none" stroke-width="1.2">
<path d="M704.2 895.2L670.9 922.7L670.9 958L704.2 930.5Z" fill="#fff"/>
<path d="M704.2 895.2L670.9 922.7M704.2 930.5L670.9 958M704.2 895.2L704.2 930.5M670.9 922.7L670.9 958M704.2 912.9L670.9 940.3" stroke="#BEBEBE"/>
<path d="M670.9 922.7L615.3 897.2L615.3 932.5L670.9 958Z" fill="#fff"/>
<path d="M670.9 922.7L615.3 897.2M670.9 958L615.3 932.5M670.9 922.7L670.9 958M615.3 897.2L615.3 932.5M670.9 940.3L615.3 914.8" stroke="#BEBEBE"/>
<path d="M615.3 897.2L651.3 872.9L704.2 895.2L670.9 922.7Z" fill="#fff" fill-rule="evenodd" stroke="#BEBEBE"/>
</g>
<g fill="none" stroke-width="1.2">
<path d="M1581 871.9L1518.8 893.2L1518.8 932.1L1581 910.8Z" fill="#fff"/>
<path d="M1581 871.9L1518.8 893.2M1581 910.8L1518.8 932.1M1581 871.9L1581 910.8M1518.8 893.2L1518.8 932.1" stroke="#BEBEBE"/>
<path d="M1522.9 901.4L1490.1 923.9L1490.1 962.8L1522.9 940.3Z" fill="#fff"/>
<path d="M1522.9 901.4L1490.1 923.9M1522.9 940.3L1490.1 962.8M1522.9 901.4L1522.9 940.3M1490.1 923.9L1490.1 962.8" stroke="#BEBEBE"/>
<path d="M1490.1 923.9L1436.9 909.6L1436.9 948.5L1490.1 962.8Z" fill="#fff"/>
<path d="M1490.1 923.9L1436.9 909.6M1490.1 962.8L1436.9 948.5M1490.1 923.9L1490.1 962.8M1436.9 909.6L1436.9 948.5" stroke="#BEBEBE"/>
<path d="M1436.9 909.6L1477.9 869.5L1555.6 849L1581 871.9L1518.8 893.2L1522.9 901.4L1490.1 923.9Z" fill="#fff" fill-rule="evenodd" stroke="#BEBEBE"/>
</g>
<g fill="none" stroke-width="1.2">
<path d="M700 917.1L661.8 932.5L661.8 966.4L700 951Z" fill="#fff"/>
<path d="M700 917.1L661.8 932.5M700 951L661.8 966.4M700 917.1L700 951M661.8 932.5L661.8 966.4M700 928.4L661.8 943.8M700 939.7L661.8 955.1" stroke="#BEBEBE"/>
<path d="M661.8 932.5L615.6 901.7L615.6 935.6L661.8 966.4Z" fill="#fff"/>
<path d="M661.8 932.5L615.6 901.7M661.8 966.4L615.6 935.6M661.8 932.5L661.8 966.4M615.6 901.7L615.6 935.6M661.8 943.8L615.6 913M661.8 955.1L615.6 924.3" stroke="#BEBEBE"/>
<path d="M615.6 901.7L652.6 872.5L700 889.4L700 917.1L661.8 932.5Z" fill="#fff" fill-rule="evenodd" stroke="#BEBEBE"/>
</g>
<g fill="none" stroke-width="1.2">
<path d="M307.8 907.9L347.8 887.9L366.3 892.5L386.3 912.5L386.3 963.3L366.3 972.5L338.6 941.7Z" fill="#fff" fill-rule="evenodd" stroke="#BEBEBE"/>
</g>
<g fill="none" stroke-width="1.2">
<path d="M2972.9 881.9L2932.1 906.7L2932.1 1021.2L2972.9 996.4Z" fill="#fff"/>
<path d="M2972.9 881.9L2932.1 906.7M2972.9 996.4L2932.1 1021.2M2972.9 881.9L2972.9 996.4M2932.1 906.7L2932.1 1021.2M2972.9 893.4L2932.1 918.2M2972.9 904.8L2932.1 929.6M2972.9 916.3L2932.1 941.1M2972.9 927.7L2932.1 952.5M2972.9 939.2L2932.1 964M2972.9 950.6L2932.1 975.4M2972.9 962.1L2932.1 986.9M2972.9 973.5L2932.1 998.3M2972.9 985L2932.1 1009.8" stroke="#BEBEBE"/>
<path d="M2932.1 906.7L2604.9 755.9L2604.9 870.5L2932.1 1021.2Z" fill="#fff"/>
<path d="M2932.1 906.7L2604.9 755.9M2932.1 1021.2L2604.9 870.5M2932.1 906.7L2932.1 1021.2M2604.9 755.9L2604.9 870.5M2932.1 918.2L2604.9 767.4M2932.1 929.6L2604.9 778.8M2932.1 941.1L2604.9 790.3M2932.1 952.5L2604.9 801.7M2932.1 964L2604.9 813.2M2932.1 975.4L2604.9 824.6M2932.1 986.9L2604.9 836.1M2932.1 998.3L2604.9 847.5M2932.1 1009.8L2604.9 859" stroke="#BEBEBE"/>
<path d="M2604.9 755.9L2645.8 731.1L2972.9 881.9L2932.1 906.7Z" fill="#fff" fill-rule="evenodd" stroke="#BEBEBE"/>
</g>
<g fill="none" stroke-width="1.2">
<path d="M1662.1 962.8L1615 981.2L1615 1022.2L1662.1 1003.8Z" fill="#fff"/>
<path d="M1662.1 962.8L1615 981.2M1662.1 1003.8L1615 1022.2M1662.1 962.8L1662.1 1003.8M1615 981.2L1615 1022.2" stroke="#BEBEBE"/>
<path d="M1615 981.2L1504.5 946.4L1504.5 987.4L1615 1022.2Z" fill="#fff"/>
<path d="M1615 981.2L1504.5 946.4M1615 1022.2L1504.5 987.4M1615 981.2L1615 1022.2M1504.5 946.4L1504.5 987.4" stroke="#BEBEBE"/>
<path d="M1504.5 946.4L1594.5 887.1L1640 901.4L1662.1 962.8L1615 981.2Z" fill="#fff" fill-rule="evenodd" stroke="#BEBEBE"/>
</g>
<g fill="none" stroke-width="1.2">
<path d="M3461.6 931.5L3578 973.5L3578 1032.7L3461.6 990.7Z" fill="#fff" stroke="#BEBEBE"/>
<path d="M3461.6 943.4L3578 985.4M3461.6 955.2L3578 997.2M3461.6 967L3578 1009M3461.6 978.9L3578 1020.9" stroke="#BEBEBE"/>
</g>
<g fill="none" stroke-width="1.2">
<path d="M759.1 1026.6L755.2 1045.4L755.2 1060.3L759.1 1041.4Z" fill="#fff"/>
<path d="M759.1 1026.6L755.2 1045.4M759.1 1041.4L755.2 1060.3M759.1 1026.6L759.1 1041.4M755.2 1045.4L755.2 1060.3" stroke="#BEBEBE"/>
<path d="M755.2 1045.4L714 1036.4L714 1051.2L755.2 1060.3Z" fill="#fff"/>
<path d="M755.2 1045.4L714 1036.4M755.2 1060.3L714 1051.2M755.2 1045.4L755.2 1060.3M714 1036.4L714 1051.2" stroke="#BEBEBE"/>
<path d="M714 1036.4L719.1 1018.7L759.1 1026.6L755.2 1045.4Z" fill="#fff" fill-rule="evenodd" stroke="#BEBEBE"/>
</g>
<g fill="none" stroke-width="1.2">
<path d="M3121.7 1128.7L3195.6 1169.3M3142 1128.7L3217.7 1169.3M3167.9 1128.7L3241.7 1169.3M3191.9 1128.7L3265.8 1169.3M3221.4 1128.7L3293.5 1169.3M3310.1 1128.7L3376.6 1165.6M3406.2 1128.7L3507 1184.1" stroke="#BEBEBE"/>
</g>
<g fill="none" stroke-width="1.2">
<path d="M3424.6 1076.9L3507 1121.3M3424.6 1088L3507 1132.4M3424.6 1099.1L3507 1143.4M3424.6 1110.2L3507 1154.5" stroke="#BEBEBE"/>
</g>
<g fill="none" stroke-width="1.2">
<path d="M3349 853.3L3005.4 1046L3005.4 1105.2L3349 912.4Z" fill="#fff"/>
<path d="M3349 853.3L3005.4 1046M3349 912.4L3005.4 1105.2M3349 853.3L3349 912.4M3005.4 1046L3005.4 1105.2M3349 865.1L3005.4 1057.9M3349 876.9L3005.4 1069.7M3349 888.8L3005.4 1081.6M3349 900.6L3005.4 1093.4" stroke="#BEBEBE"/>
<path d="M3005.4 1046L2967.2 1023.1L2967.2 1082.3L3005.4 1105.2Z" fill="#fff"/>
<path d="M3005.4 1046L2967.2 1023.1M3005.4 1105.2L2967.2 1082.3M3005.4 1046L3005.4 1105.2M2967.2 1023.1L2967.2 1082.3M3005.4 1057.9L2967.2 1035M3005.4 1069.7L2967.2 1046.8M3005.4 1081.6L2967.2 1058.6M3005.4 1093.4L2967.2 1070.5" stroke="#BEBEBE"/>
<path d="M2967.2 1023.1L3309.6 830.4L3349 853.3L3005.4 1046Z" fill="#fff" fill-rule="evenodd" stroke="#BEBEBE"/>
</g>
<g fill="none" stroke-width="1.2">
<path d="M3380.3 1282.7L3528.1 1361.4" stroke="#BEBEBE"/>
</g>
<g fill="none" stroke-width="1.2">
<path d="M3528.1 1239.5L3465.3 1267.2L3465.3 1328.2L3528.1 1300.5Z" fill="#fff"/>
<path d="M3528.1 1239.5L3465.3 1267.2M3528.1 1300.5L3465.3 1328.2M3528.1 1239.5L3528.1 1300.5M3465.3 1267.2L3465.3 1328.2M3528.1 1251.7L3465.3 1279.4M3528.1 1263.9L3465.3 1291.6M3528.1 1276.1L3465.3 1303.8M3528.1 1288.3L3465.3 1316" stroke="#BEBEBE"/>
<path d="M3465.3 1267.2L3424.6 1246.9L3424.6 1307.9L3465.3 1328.2Z" fill="#fff"/>
<path d="M3465.3 1267.2L3424.6 1246.9M3465.3 1328.2L3424.6 1307.9M3465.3 1267.2L3465.3 1328.2M3424.6 1246.9L3424.6 1307.9M3465.3 1279.4L3424.6 1259.1M3465.3 1291.6L3424.6 1271.3M3465.3 1303.8L3424.6 1283.5M3465.3 1316L3424.6 1295.7" stroke="#BEBEBE"/>
<path d="M3424.6 1246.9L3476.3 1217.3L3528.1 1239.5L3465.3 1267.2Z" fill="#fff" fill-rule="evenodd" stroke="#BEBEBE"/>
</g>
<g fill="none" stroke-width="1.2">
<path d="M7.8 1480L7.8 1470.2M7.8 1470.2L47.8 1452.5M47.8 1452.5L137.2 1517.2M-3.9 1464.3L47.8 1446.6M47.8 1446.6L137.2 1511.3M156.8 1397.6L213.6 1380M156.8 1397.6L172.5 1407.4M172.5 1407.4L213.6 1387.8M172.5 1407.4L199.9 1429M286.2 1380L340.2 1407.4M340.2 1407.4L397.9 1383.9M340.2 1407.4L340.2 1419.2M340.2 1419.2L397.9 1395.7M397.9 1395.7L397.9 1383.9M286.2 1391.8L340.2 1419.2" stroke="#BEBEBE"/>
</g>
<g fill="none" stroke-width="1.2">
<path d="M517.4 1542.7L629.1 1613.2M629.1 1613.2L708.7 1576M708.7 1576L662.5 1542.7M619.3 1542.7L668.3 1578M668.3 1578L708.7 1576M668.3 1578L629.1 1613.2M629.1 1613.2L629.1 1623M629.1 1623L708.7 1587.8M708.7 1587.8L708.7 1576M640.9 1688.9L731.1 1636.8M640.9 1688.9L682.1 1709.3M682.1 1709.3L731.1 1689.7M640.9 1688.9L662.5 1681.8M662.5 1681.8L682.1 1709.3M662.5 1681.8L731.1 1650.5M682.1 1709.3L682.1 1717.9M682.1 1717.9L731.1 1697.5" stroke="#BEBEBE"/>
</g>
<g fill="none" stroke-width="1.2">
<path d="M398.9 1362.1L340 1395.4L340 1422.1L398.9 1388.9Z" fill="#fff"/>
<path d="M398.9 1362.1L340 1395.4M398.9 1388.9L340 1422.1M398.9 1362.1L398.9 1388.9M340 1395.4L340 1422.1M398.9 1375.5L340 1408.8" stroke="#BEBEBE"/>
<path d="M340 1395.4L188.2 1279.3L188.2 1306.1L340 1422.1Z" fill="#fff"/>
<path d="M340 1395.4L188.2 1279.3M340 1422.1L188.2 1306.1M340 1395.4L340 1422.1M188.2 1279.3L188.2 1306.1M340 1408.8L188.2 1292.7" stroke="#BEBEBE"/>
<path d="M188.2 1279.3L218.6 1250.7L247.9 1252.5L398.9 1362.1L340 1395.4Z" fill="#fff" fill-rule="evenodd" stroke="#BEBEBE"/>
</g>
<g fill="none" stroke-width="1.2">
<path d="M247.9 1252.5L368.6 1354.3M368.6 1354.3L398.9 1362.1M368.6 1354.3L340 1395.4" stroke="#BEBEBE"/>
</g>
<g fill="none" stroke-width="1.2">
<path d="M3300.9 1283.8L3546.5 1416.8L3546.5 1485.2L3300.9 1352.2Z" fill="#fff" stroke="#BEBEBE"/>
<path d="M3300.9 1297.5L3546.5 1430.5M3300.9 1311.2L3546.5 1444.2M3300.9 1324.8L3546.5 1457.9M3300.9 1338.5L3546.5 1471.5" stroke="#BEBEBE"/>
</g>
<g fill="none" stroke-width="1.2">
<path d="M213.6 1372.1L158 1397.5L158 1406.2L213.6 1380.7Z" fill="#fff"/>
<path d="M213.6 1372.1L158 1397.5M213.6 1380.7L158 1406.2M213.6 1372.1L213.6 1380.7M158 1397.5L158 1406.2" stroke="#BEBEBE"/>
<path d="M203.8 1430.1L117.6 1473.2L117.6 1481.8L203.8 1438.7Z" fill="#fff"/>
<path d="M203.8 1430.1L117.6 1473.2M203.8 1438.7L117.6 1481.8M203.8 1430.1L203.8 1438.7" stroke="#BEBEBE"/>
<path d="M117.6 1473.2L-7.8 1532L-7.8 1540.6L117.6 1481.8Z" fill="#fff"/>
<path d="M117.6 1473.2L-7.8 1532M117.6 1481.8L-7.8 1540.6M-7.8 1532L-7.8 1540.6" stroke="#BEBEBE"/>
<path d="M-7.8 1414.4L161.9 1334.8L213.6 1372.1L158 1397.5L203.8 1430.1L117.6 1473.2L-7.8 1532Z" fill="#fff" fill-rule="evenodd" stroke="#BEBEBE"/>
</g>
<g fill="none" stroke-width="1.2">
<path d="M133.3 1604.2L111.7 1615.2L111.7 1658.3L133.3 1647.3Z" fill="#fff"/>
<path d="M133.3 1604.2L111.7 1615.2M133.3 1647.3L111.7 1658.3M133.3 1604.2L133.3 1647.3M111.7 1615.2L111.7 1658.3M133.3 1618.6L111.7 1629.6M133.3 1633L111.7 1643.9" stroke="#BEBEBE"/>
<path d="M29.4 1607.4L0 1619.1L0 1662.2L29.4 1650.5Z" fill="#fff"/>
<path d="M29.4 1607.4L0 1619.1M29.4 1650.5L0 1662.2M29.4 1607.4L29.4 1650.5M0 1619.1L0 1662.2M29.4 1621.7L0 1633.5M29.4 1636.1L0 1647.9" stroke="#BEBEBE"/>
<path d="M0 1619.1L-7.8 1564.2L-7.8 1607.4L0 1662.2Z" fill="#fff"/>
<path d="M0 1619.1L-7.8 1564.2M0 1662.2L-7.8 1607.4M0 1619.1L0 1662.2M-7.8 1564.2L-7.8 1607.4M0 1633.5L-7.8 1578.6M0 1647.9L-7.8 1593" stroke="#BEBEBE"/>
<path d="M80.4 1627L58.8 1650.5L58.8 1693.6L80.4 1670.1Z" fill="#fff"/>
<path d="M80.4 1627L58.8 1650.5M80.4 1670.1L58.8 1693.6M80.4 1627L80.4 1670.1M58.8 1650.5L58.8 1693.6M80.4 1641.3L58.8 1664.8M80.4 1655.7L58.8 1679.2" stroke="#BEBEBE"/>
<path d="M58.8 1650.5L29.4 1607.4L29.4 1650.5L58.8 1693.6Z" fill="#fff"/>
<path d="M58.8 1650.5L29.4 1607.4M58.8 1693.6L29.4 1650.5M58.8 1650.5L58.8 1693.6M29.4 1607.4L29.4 1650.5M58.8 1664.8L29.4 1621.7M58.8 1679.2L29.4 1636.1" stroke="#BEBEBE"/>
<path d="M145 1638.7L109.8 1672L109.8 1715.1L145 1681.8Z" fill="#fff"/>
<path d="M145 1638.7L109.8 1672M145 1681.8L109.8 1715.1M145 1638.7L145 1681.8M109.8 1672L109.8 1715.1M145 1653.1L109.8 1686.4M145 1667.5L109.8 1700.8" stroke="#BEBEBE"/>
<path d="M109.8 1672L80.4 1627L80.4 1670.1L109.8 1715.1Z" fill="#fff"/>
<path d="M109.8 1672L80.4 1627M109.8 1715.1L80.4 1670.1M109.8 1672L109.8 1715.1M80.4 1627L80.4 1670.1M109.8 1686.4L80.4 1641.3M109.8 1700.8L80.4 1655.7" stroke="#BEBEBE"/>
<path d="M-7.8 1564.2L19.6 1549.3L72.5 1584.6L94.1 1575.2L133.3 1604.2L111.7 1615.2L145 1638.7L109.8 1672L80.4 1627L58.8 1650.5L29.4 1607.4L0 1619.1Z" fill="#fff" fill-rule="evenodd" stroke="#BEBEBE"/>
</g>
<g fill="none" stroke-width="1.2">
<path d="M3450.1 1691.7L3473.4 1685.5L3499.2 1707.2L3476 1720.2Z" fill="#fff" fill-rule="evenodd" stroke="#BEBEBE"/>
</g>
<g fill="none" stroke-width="1.2">
<path d="M829.1 1707.3L779.3 1728.9L779.3 1736.7L829.1 1715.1Z" fill="#fff"/>
<path d="M829.1 1707.3L779.3 1728.9M829.1 1715.1L779.3 1736.7M829.1 1707.3L829.1 1715.1M779.3 1728.9L779.3 1736.7" stroke="#BEBEBE"/>
<path d="M779.3 1728.9L762.4 1717.9L762.4 1725.7L779.3 1736.7Z" fill="#fff"/>
<path d="M779.3 1728.9L762.4 1717.9M779.3 1736.7L762.4 1725.7M779.3 1728.9L779.3 1736.7M762.4 1717.9L762.4 1725.7" stroke="#BEBEBE"/>
<path d="M762.4 1717.9L815.3 1701.4L829.1 1707.3L779.3 1728.9Z" fill="#fff" fill-rule="evenodd" stroke="#BEBEBE"/>
</g>
<g fill="none" stroke-width="1.2">
<path d="M3367.3 1733.1L3388 1722.8L3406.1 1735.7L3385.4 1746Z" fill="#fff" fill-rule="evenodd" stroke="#BEBEBE"/>
</g>
<g fill="none" stroke-width="1.2">
<path d="M892.2 1702L912.3 1714.1L912.3 1750.7L892.2 1738.5Z" fill="#fff" stroke="#BEBEBE"/>
<path d="M892.2 1714.1L912.3 1726.3M892.2 1726.3L912.3 1738.5" stroke="#BEBEBE"/>
</g>
<g fill="none" stroke-width="1.2">
<path d="M912.3 1714.1L941.9 1700.2L941.9 1736.8L912.3 1750.7Z" fill="#fff" stroke="#BEBEBE"/>
<path d="M912.3 1726.3L941.9 1712.4M912.3 1738.5L941.9 1724.6" stroke="#BEBEBE"/>
</g>
<g fill="none" stroke-width="1.2">
<path d="M180.3 1640.7L292 1742.6M292 1742.6L326.1 1746.5M292 1742.6L255.6 1779" stroke="#BEBEBE"/>
</g>
<g fill="none" stroke-width="1.2">
<path d="M629.1 1704.6L520.6 1756.3L520.6 1793.5L629.1 1741.8Z" fill="#fff"/>
<path d="M629.1 1704.6L520.6 1756.3M629.1 1741.8L520.6 1793.5M629.1 1704.6L629.1 1741.8M520.6 1756.3L520.6 1793.5M629.1 1723.2L520.6 1774.9" stroke="#BEBEBE"/>
<path d="M520.6 1756.3L463.7 1723L463.7 1760.2L520.6 1793.5Z" fill="#fff"/>
<path d="M520.6 1756.3L463.7 1723M520.6 1793.5L463.7 1760.2M520.6 1756.3L520.6 1793.5M463.7 1723L463.7 1760.2M520.6 1774.9L463.7 1741.6" stroke="#BEBEBE"/>
<path d="M463.7 1723L572.3 1672L629.1 1704.6L520.6 1756.3Z" fill="#fff" fill-rule="evenodd" stroke="#BEBEBE"/>
</g>
<g fill="none" stroke-width="1.2">
<path d="M3527.7 1748.6L3486.3 1771.9L3486.3 1795.2L3527.7 1771.9Z" fill="#fff"/>
<path d="M3527.7 1748.6L3486.3 1771.9M3527.7 1771.9L3486.3 1795.2M3527.7 1748.6L3527.7 1771.9M3486.3 1771.9L3486.3 1795.2M3527.7 1760.3L3486.3 1783.6" stroke="#BEBEBE"/>
<path d="M3486.3 1771.9L3457.9 1748.6L3457.9 1771.9L3486.3 1795.2Z" fill="#fff"/>
<path d="M3486.3 1771.9L3457.9 1748.6M3486.3 1795.2L3457.9 1771.9M3486.3 1771.9L3486.3 1795.2M3457.9 1748.6L3457.9 1771.9M3486.3 1783.6L3457.9 1760.3" stroke="#BEBEBE"/>
<path d="M3457.9 1748.6L3481.1 1727.9L3527.7 1748.6L3486.3 1771.9Z" fill="#fff" fill-rule="evenodd" stroke="#BEBEBE"/>
</g>
<g fill="none" stroke-width="1.2">
<path d="M646 1789.6L617.4 1802.6L617.4 1809.6L646 1796.7Z" fill="#fff"/>
<path d="M646 1789.6L617.4 1802.6M646 1796.7L617.4 1809.6M646 1789.6L646 1796.7M617.4 1802.6L617.4 1809.6" stroke="#BEBEBE"/>
<path d="M617.4 1802.6L598.6 1789.6L598.6 1796.7L617.4 1809.6Z" fill="#fff"/>
<path d="M617.4 1802.6L598.6 1789.6M617.4 1809.6L598.6 1796.7M617.4 1802.6L617.4 1809.6M598.6 1789.6L598.6 1796.7" stroke="#BEBEBE"/>
<path d="M598.6 1789.6L631.9 1775.9L646 1789.6L617.4 1802.6Z" fill="#fff" fill-rule="evenodd" stroke="#BEBEBE"/>
</g>
<g fill="none" stroke-width="1.2">
<path d="M3219.9 1800.4L3243.2 1789L3266.4 1808.1L3243.2 1818.5Z" fill="#fff" fill-rule="evenodd" stroke="#BEBEBE"/>
</g>
<g fill="none" stroke-width="1.2">
<path d="M326.1 1746.5L255.6 1779L255.6 1826.1L326.1 1793.5Z" fill="#fff"/>
<path d="M326.1 1746.5L255.6 1779M326.1 1793.5L255.6 1826.1M326.1 1746.5L326.1 1793.5M255.6 1779L255.6 1826.1M326.1 1762.2L255.6 1794.7M326.1 1777.9L255.6 1810.4" stroke="#BEBEBE"/>
<path d="M255.6 1779L109.8 1672L109.8 1719.1L255.6 1826.1Z" fill="#fff"/>
<path d="M255.6 1779L109.8 1672M255.6 1826.1L109.8 1719.1M255.6 1779L255.6 1826.1M109.8 1672L109.8 1719.1M255.6 1794.7L109.8 1687.7M255.6 1810.4L109.8 1703.4" stroke="#BEBEBE"/>
<path d="M109.8 1672L145 1637.9L180.3 1640.7L326.1 1746.5L255.6 1779Z" fill="#fff" fill-rule="evenodd" stroke="#BEBEBE"/>
</g>
<g fill="none" stroke-width="1.2">
<path d="M3437.2 1791.1L3395.8 1808.1L3395.8 1827.8L3437.2 1810.7Z" fill="#fff"/>
<path d="M3437.2 1791.1L3395.8 1808.1M3437.2 1810.7L3395.8 1827.8M3437.2 1791.1L3437.2 1810.7M3395.8 1808.1L3395.8 1827.8M3437.2 1800.9L3395.8 1818" stroke="#BEBEBE"/>
<path d="M3395.8 1808.1L3370.9 1785.9L3370.9 1805.5L3395.8 1827.8Z" fill="#fff"/>
<path d="M3395.8 1808.1L3370.9 1785.9M3395.8 1827.8L3370.9 1805.5M3395.8 1808.1L3395.8 1827.8M3370.9 1785.9L3370.9 1805.5M3395.8 1818L3370.9 1795.7" stroke="#BEBEBE"/>
<path d="M3370.9 1785.9L3411.3 1769.3L3437.2 1791.1L3395.8 1808.1Z" fill="#fff" fill-rule="evenodd" stroke="#BEBEBE"/>
</g>
<g fill="none" stroke-width="1.2">
<path d="M589.9 1815.1L550.7 1834.7L550.7 1841.8L589.9 1822.2Z" fill="#fff"/>
<path d="M589.9 1815.1L550.7 1834.7M589.9 1822.2L550.7 1841.8M589.9 1815.1L589.9 1822.2M550.7 1834.7L550.7 1841.8" stroke="#BEBEBE"/>
<path d="M550.7 1834.7L532.3 1823.7L532.3 1830.8L550.7 1841.8Z" fill="#fff"/>
<path d="M550.7 1834.7L532.3 1823.7M550.7 1841.8L532.3 1830.8M550.7 1834.7L550.7 1841.8M532.3 1823.7L532.3 1830.8" stroke="#BEBEBE"/>
<path d="M532.3 1823.7L576.2 1803.3L589.9 1815.1L550.7 1834.7Z" fill="#fff" fill-rule="evenodd" stroke="#BEBEBE"/>
</g>
<g fill="none" stroke-width="1.2">
<path d="M840.8 1766.1L715.4 1822.2L715.4 1844.9L840.8 1788.8Z" fill="#fff"/>
<path d="M840.8 1766.1L715.4 1822.2M840.8 1788.8L715.4 1844.9M840.8 1766.1L840.8 1788.8M715.4 1822.2L715.4 1844.9M840.8 1777.5L715.4 1833.5" stroke="#BEBEBE"/>
<path d="M715.4 1822.2L678.1 1800.2L678.1 1822.9L715.4 1844.9Z" fill="#fff"/>
<path d="M715.4 1822.2L678.1 1800.2M715.4 1844.9L678.1 1822.9M715.4 1822.2L715.4 1844.9M678.1 1800.2L678.1 1822.9M715.4 1833.5L678.1 1811.6" stroke="#BEBEBE"/>
<path d="M678.1 1800.2L803.6 1736.7L840.8 1766.1L715.4 1822.2Z" fill="#fff" fill-rule="evenodd" stroke="#BEBEBE"/>
</g>
<g fill="none" stroke-width="1.2">
<path d="M1147.5 1740.3L1093.4 1764.3L1093.4 1854.9L1147.5 1830.9Z" fill="#fff"/>
<path d="M1147.5 1740.3L1093.4 1764.3M1147.5 1830.9L1093.4 1854.9M1147.5 1740.3L1147.5 1830.9M1093.4 1764.3L1093.4 1854.9M1147.5 1751.6L1093.4 1775.6M1147.5 1762.9L1093.4 1787M1147.5 1774.3L1093.4 1798.3M1147.5 1785.6L1093.4 1809.6M1147.5 1796.9L1093.4 1820.9M1147.5 1808.2L1093.4 1832.3M1147.5 1819.5L1093.4 1843.6" stroke="#BEBEBE"/>
<path d="M1093.4 1764.3L908.8 1630.5L908.8 1721.1L1093.4 1854.9Z" fill="#fff"/>
<path d="M1093.4 1764.3L908.8 1630.5M1093.4 1854.9L908.8 1721.1M1093.4 1764.3L1093.4 1854.9M908.8 1630.5L908.8 1721.1M1093.4 1775.6L908.8 1641.8M1093.4 1787L908.8 1653.2M1093.4 1798.3L908.8 1664.5M1093.4 1809.6L908.8 1675.8M1093.4 1820.9L908.8 1687.1M1093.4 1832.3L908.8 1698.5M1093.4 1843.6L908.8 1709.8" stroke="#BEBEBE"/>
<path d="M908.8 1630.5L962.8 1608.7L1147.5 1740.3L1093.4 1764.3Z" fill="#fff" fill-rule="evenodd" stroke="#BEBEBE"/>
</g>
<g fill="none" stroke-width="1.2">
<path d="M493.1 1795.5L384.9 1844.5L384.9 1856.3L493.1 1807.3Z" fill="#fff"/>
<path d="M493.1 1795.5L384.9 1844.5M493.1 1807.3L384.9 1856.3M493.1 1795.5L493.1 1807.3M384.9 1844.5L384.9 1856.3" stroke="#BEBEBE"/>
<path d="M384.9 1844.5L343 1815.1L343 1826.9L384.9 1856.3Z" fill="#fff"/>
<path d="M384.9 1844.5L343 1815.1M384.9 1856.3L343 1826.9M384.9 1844.5L384.9 1856.3M343 1815.1L343 1826.9" stroke="#BEBEBE"/>
<path d="M343 1815.1L452.7 1765.3L472.3 1768.1L493.1 1795.5L384.9 1844.5Z" fill="#fff" fill-rule="evenodd" stroke="#BEBEBE"/>
</g>
<g fill="none" stroke-width="1.2">
<path d="M366.5 1817.1L472.3 1768.1M343 1815.1L366.5 1817.1M366.5 1817.1L384.9 1844.5" stroke="#BEBEBE"/>
</g>
<g fill="none" stroke-width="1.2">
<path d="M3356.5 1821.6L3322.3 1842.3L3322.3 1860.9L3356.5 1840.2Z" fill="#fff"/>
<path d="M3356.5 1821.6L3322.3 1842.3M3356.5 1840.2L3322.3 1860.9M3356.5 1821.6L3356.5 1840.2M3322.3 1842.3L3322.3 1860.9M3356.5 1830.9L3322.3 1851.6" stroke="#BEBEBE"/>
<path d="M3322.3 1842.3L3285.6 1815.9L3285.6 1834.5L3322.3 1860.9Z" fill="#fff"/>
<path d="M3322.3 1842.3L3285.6 1815.9M3322.3 1860.9L3285.6 1834.5M3322.3 1842.3L3322.3 1860.9M3285.6 1815.9L3285.6 1834.5M3322.3 1851.6L3285.6 1825.2" stroke="#BEBEBE"/>
<path d="M3285.6 1815.9L3319.7 1797.8L3356.5 1821.6L3322.3 1842.3Z" fill="#fff" fill-rule="evenodd" stroke="#BEBEBE"/>
</g>
<g fill="none" stroke-width="1.2">
<path d="M990.6 1808.3L903.5 1850.1L903.5 1880.1L990.6 1838.3Z" fill="#fff"/>
<path d="M990.6 1808.3L903.5 1850.1M990.6 1838.3L903.5 1880.1M990.6 1808.3L990.6 1838.3M903.5 1850.1L903.5 1880.1M990.6 1823.3L903.5 1865.1" stroke="#BEBEBE"/>
<path d="M903.5 1850.1L874.8 1830.9L874.8 1861L903.5 1880.1Z" fill="#fff"/>
<path d="M903.5 1850.1L874.8 1830.9M903.5 1880.1L874.8 1861M903.5 1850.1L903.5 1880.1M874.8 1830.9L874.8 1861M903.5 1865.1L874.8 1845.9" stroke="#BEBEBE"/>
<path d="M874.8 1830.9L962.8 1789.1L990.6 1808.3L903.5 1850.1Z" fill="#fff" fill-rule="evenodd" stroke="#BEBEBE"/>
</g>
<g fill="none" stroke-width="1.2">
<path d="M940.8 1842.5L901.6 1862.1L901.6 1883.7L940.8 1864.1Z" fill="#fff"/>
<path d="M940.8 1842.5L901.6 1862.1M940.8 1864.1L901.6 1883.7M940.8 1842.5L940.8 1864.1M901.6 1862.1L901.6 1883.7M940.8 1853.3L901.6 1872.9" stroke="#BEBEBE"/>
<path d="M901.6 1862.1L874.9 1830.8L874.9 1852.3L901.6 1883.7Z" fill="#fff"/>
<path d="M901.6 1862.1L874.9 1830.8M901.6 1883.7L874.9 1852.3M901.6 1862.1L901.6 1883.7M874.9 1830.8L874.9 1852.3M901.6 1872.9L874.9 1841.6" stroke="#BEBEBE"/>
<path d="M874.9 1830.8L909.4 1815.1L940.8 1842.5L901.6 1862.1Z" fill="#fff" fill-rule="evenodd" stroke="#BEBEBE"/>
</g>
<g fill="none" stroke-width="1.2">
<path d="M668.3 1831.6L575.4 1877L575.4 1897.4L668.3 1852Z" fill="#fff"/>
<path d="M668.3 1831.6L575.4 1877M668.3 1852L575.4 1897.4M668.3 1831.6L668.3 1852M575.4 1877L575.4 1897.4M668.3 1841.8L575.4 1887.2" stroke="#BEBEBE"/>
<path d="M575.4 1877L541.7 1854.3L541.7 1874.7L575.4 1897.4Z" fill="#fff"/>
<path d="M575.4 1877L541.7 1854.3M575.4 1897.4L541.7 1874.7M575.4 1877L575.4 1897.4M541.7 1854.3L541.7 1874.7M575.4 1887.2L541.7 1864.5" stroke="#BEBEBE"/>
<path d="M541.7 1854.3L635 1808.1L668.3 1831.6L575.4 1877Z" fill="#fff" fill-rule="evenodd" stroke="#BEBEBE"/>
</g>
<g fill="none" stroke-width="1.2">
<path d="M0 1795.5L51 1852.3M51 1852.3L85.5 1857.4M51 1852.3L15.7 1889.6" stroke="#BEBEBE"/>
</g>
<g fill="none" stroke-width="1.2">
<path d="M494.7 1865.3L426.5 1894.3L426.5 1902.9L494.7 1873.9Z" fill="#fff"/>
<path d="M494.7 1865.3L426.5 1894.3M494.7 1873.9L426.5 1902.9M494.7 1865.3L494.7 1873.9M426.5 1894.3L426.5 1902.9" stroke="#BEBEBE"/>
<path d="M426.5 1894.3L404.5 1879.8L404.5 1888.4L426.5 1902.9Z" fill="#fff"/>
<path d="M426.5 1894.3L404.5 1879.8M426.5 1902.9L404.5 1888.4M426.5 1894.3L426.5 1902.9M404.5 1879.8L404.5 1888.4" stroke="#BEBEBE"/>
<path d="M404.5 1879.8L472.3 1849.6L494.7 1865.3L426.5 1894.3Z" fill="#fff" fill-rule="evenodd" stroke="#BEBEBE"/>
</g>
<g fill="none" stroke-width="1.2">
<path d="M85.5 1857.4L15.7 1889.6L15.7 1936.6L85.5 1904.5Z" fill="#fff"/>
<path d="M85.5 1857.4L15.7 1889.6M85.5 1904.5L15.7 1936.6M85.5 1857.4L85.5 1904.5M15.7 1889.6L15.7 1936.6M85.5 1873.1L15.7 1905.3M85.5 1888.8L15.7 1920.9" stroke="#BEBEBE"/>
<path d="M15.7 1889.6L-7.8 1799.4L-7.8 1846.5L15.7 1936.6Z" fill="#fff"/>
<path d="M15.7 1889.6L-7.8 1799.4M15.7 1936.6L-7.8 1846.5M15.7 1889.6L15.7 1936.6M-7.8 1799.4L-7.8 1846.5M15.7 1905.3L-7.8 1815.1M15.7 1920.9L-7.8 1830.8" stroke="#BEBEBE"/>
<path d="M-7.8 1799.4L0 1795.5L85.5 1857.4L15.7 1889.6Z" fill="#fff" fill-rule="evenodd" stroke="#BEBEBE"/>
</g>
<g fill="none" stroke-width="1.2">
<path d="M988.9 1939.4L964.9 1950.3L964.9 1969.9L988.9 1959Z" fill="#fff"/>
<path d="M988.9 1939.4L964.9 1950.3M988.9 1959L964.9 1969.9M988.9 1939.4L988.9 1959M964.9 1950.3L964.9 1969.9M988.9 1949.2L964.9 1960.1" stroke="#BEBEBE"/>
<path d="M964.9 1950.3L888.7 1900.2L888.7 1919.8L964.9 1969.9Z" fill="#fff"/>
<path d="M964.9 1950.3L888.7 1900.2M964.9 1969.9L888.7 1919.8M964.9 1950.3L964.9 1969.9M888.7 1900.2L888.7 1919.8M964.9 1960.1L888.7 1910" stroke="#BEBEBE"/>
<path d="M888.7 1900.2L921.4 1884.9L988.9 1939.4L964.9 1950.3Z" fill="#fff" fill-rule="evenodd" stroke="#BEBEBE"/>
</g>
<g fill="none" stroke-width="1.2">
<path d="M503.7 1909.2L410.8 1953.1L410.8 1976.6L503.7 1932.7Z" fill="#fff"/>
<path d="M503.7 1909.2L410.8 1953.1M503.7 1932.7L410.8 1976.6M503.7 1909.2L503.7 1932.7M410.8 1953.1L410.8 1976.6M503.7 1920.9L410.8 1964.8" stroke="#BEBEBE"/>
<path d="M410.8 1953.1L377.1 1928.8L377.1 1952.3L410.8 1976.6Z" fill="#fff"/>
<path d="M410.8 1953.1L377.1 1928.8M410.8 1976.6L377.1 1952.3M410.8 1953.1L410.8 1976.6M377.1 1928.8L377.1 1952.3M410.8 1964.8L377.1 1940.5" stroke="#BEBEBE"/>
<path d="M377.1 1928.8L470.4 1885.7L503.7 1909.2L410.8 1953.1Z" fill="#fff" fill-rule="evenodd" stroke="#BEBEBE"/>
</g>
<g fill="none" stroke-width="1.2">
<path d="M738.9 1870L737.7 1866.1L737.7 1889.6L738.9 1893.5Z" fill="#fff"/>
<path d="M738.9 1870L737.7 1866.1M738.9 1893.5L737.7 1889.6M738.9 1870L738.9 1893.5M737.7 1866.1L737.7 1889.6M738.9 1881.7L737.7 1877.8" stroke="#BEBEBE"/>
<path d="M822.4 1887.6L784 1907.2L784 1930.7L822.4 1911.1Z" fill="#fff"/>
<path d="M822.4 1887.6L784 1907.2M822.4 1911.1L784 1930.7M822.4 1887.6L822.4 1911.1M784 1907.2L784 1930.7M822.4 1899.4L784 1919" stroke="#BEBEBE"/>
<path d="M784 1907.2L782 1903.3L782 1926.8L784 1930.7Z" fill="#fff"/>
<path d="M784 1907.2L782 1903.3M784 1930.7L782 1926.8M784 1907.2L784 1930.7M782 1903.3L782 1926.8M784 1919L782 1915.1" stroke="#BEBEBE"/>
<path d="M782 1903.3L709.5 1936.6L709.5 1960.1L782 1926.8Z" fill="#fff"/>
<path d="M782 1903.3L709.5 1936.6M782 1926.8L709.5 1960.1M782 1903.3L782 1926.8M709.5 1936.6L709.5 1960.1M782 1915.1L709.5 1948.4" stroke="#BEBEBE"/>
<path d="M709.5 1936.6L705.6 1946.4L705.6 1969.9L709.5 1960.1Z" fill="#fff"/>
<path d="M709.5 1936.6L705.6 1946.4M709.5 1960.1L705.6 1969.9M709.5 1936.6L709.5 1960.1M705.6 1946.4L705.6 1969.9M709.5 1948.4L705.6 1958.2" stroke="#BEBEBE"/>
<path d="M705.6 1946.4L666.4 1956.2L666.4 1979.7L705.6 1969.9Z" fill="#fff"/>
<path d="M705.6 1946.4L666.4 1956.2M705.6 1969.9L666.4 1979.7M705.6 1946.4L705.6 1969.9M666.4 1956.2L666.4 1979.7M705.6 1958.2L666.4 1968" stroke="#BEBEBE"/>
<path d="M666.4 1956.2L625.2 1922.9L625.2 1946.4L666.4 1979.7Z" fill="#fff"/>
<path d="M666.4 1956.2L625.2 1922.9M666.4 1979.7L625.2 1946.4M666.4 1956.2L666.4 1979.7M625.2 1922.9L625.2 1946.4M666.4 1968L625.2 1934.7" stroke="#BEBEBE"/>
<path d="M625.2 1922.9L738.9 1870L737.7 1866.1L773 1853.5L822.4 1887.6L784 1907.2L782 1903.3L709.5 1936.6L705.6 1946.4L666.4 1956.2Z" fill="#fff" fill-rule="evenodd" stroke="#BEBEBE"/>
</g>
<g fill="none" stroke-width="1.2">
<path d="M2878.5 1949.3L2843.8 1963.3L2843.8 1984L2878.5 1970Z" fill="#fff"/>
<path d="M2878.5 1949.3L2843.8 1963.3M2878.5 1970L2843.8 1984M2878.5 1949.3L2878.5 1970M2843.8 1963.3L2843.8 1984M2878.5 1959.7L2843.8 1973.7" stroke="#BEBEBE"/>
<path d="M2843.8 1963.3L2820 1942.6L2820 1963.3L2843.8 1984Z" fill="#fff"/>
<path d="M2843.8 1963.3L2820 1942.6M2843.8 1984L2820 1963.3M2843.8 1963.3L2843.8 1984M2820 1942.6L2820 1963.3M2843.8 1973.7L2820 1953" stroke="#BEBEBE"/>
<path d="M2820 1942.6L2855.2 1928.7L2878.5 1949.3L2843.8 1963.3Z" fill="#fff" fill-rule="evenodd" stroke="#BEBEBE"/>
</g>
<g fill="none" stroke-width="1.2">
<path d="M2623.2 1947.8L2578.1 1970.6L2578.1 1993.3L2623.2 1970.6Z" fill="#fff"/>
<path d="M2623.2 1947.8L2578.1 1970.6M2623.2 1970.6L2578.1 1993.3M2623.2 1947.8L2623.2 1970.6M2578.1 1970.6L2578.1 1993.3M2623.2 1959.2L2578.1 1981.9" stroke="#BEBEBE"/>
<path d="M2578.1 1970.6L2546.8 1950.2L2546.8 1972.9L2578.1 1993.3Z" fill="#fff"/>
<path d="M2578.1 1970.6L2546.8 1950.2M2578.1 1993.3L2546.8 1972.9M2578.1 1970.6L2578.1 1993.3M2546.8 1950.2L2546.8 1972.9M2578.1 1981.9L2546.8 1961.5" stroke="#BEBEBE"/>
<path d="M2546.8 1950.2L2591.9 1927.4L2623.2 1947.8L2578.1 1970.6Z" fill="#fff" fill-rule="evenodd" stroke="#BEBEBE"/>
</g>
<g fill="none" stroke-width="1.2">
<path d="M269.7 1958.8L209.7 1987L209.7 1995.6L269.7 1967.4Z" fill="#fff"/>
<path d="M269.7 1958.8L209.7 1987M269.7 1967.4L209.7 1995.6M269.7 1958.8L269.7 1967.4M209.7 1987L209.7 1995.6" stroke="#BEBEBE"/>
<path d="M209.7 1987L194.8 1978.4L194.8 1987L209.7 1995.6Z" fill="#fff"/>
<path d="M209.7 1987L194.8 1978.4M209.7 1995.6L194.8 1987M209.7 1987L209.7 1995.6M194.8 1978.4L194.8 1987" stroke="#BEBEBE"/>
<path d="M194.8 1978.4L254.8 1948.6L269.7 1958.8L209.7 1987Z" fill="#fff" fill-rule="evenodd" stroke="#BEBEBE"/>
</g>
<g fill="none" stroke-width="1.2">
<path d="M1195.8 1959L1162.2 1975.1L1162.2 1996.9L1195.8 1980.7Z" fill="#fff"/>
<path d="M1195.8 1959L1162.2 1975.1M1195.8 1980.7L1162.2 1996.9M1195.8 1959L1195.8 1980.7M1162.2 1975.1L1162.2 1996.9M1195.8 1969.9L1162.2 1986" stroke="#BEBEBE"/>
<path d="M1162.2 1975.1L1091.2 1928.5L1091.2 1950.3L1162.2 1996.9Z" fill="#fff"/>
<path d="M1162.2 1975.1L1091.2 1928.5M1162.2 1996.9L1091.2 1950.3M1162.2 1975.1L1162.2 1996.9M1091.2 1928.5L1091.2 1950.3M1162.2 1986L1091.2 1939.4" stroke="#BEBEBE"/>
<path d="M1091.2 1928.5L1123.9 1915.4L1195.8 1959L1162.2 1975.1Z" fill="#fff" fill-rule="evenodd" stroke="#BEBEBE"/>
</g>
<g fill="none" stroke-width="1.2">
<path d="M3013 1960.7L2969 1978.8L2969 1998.5L3013 1980.4Z" fill="#fff"/>
<path d="M3013 1960.7L2969 1978.8M3013 1980.4L2969 1998.5M3013 1960.7L3013 1980.4M2969 1978.8L2969 1998.5M3013 1970.6L2969 1988.7" stroke="#BEBEBE"/>
<path d="M2969 1978.8L2927.6 1945.2L2927.6 1964.9L2969 1998.5Z" fill="#fff"/>
<path d="M2969 1978.8L2927.6 1945.2M2969 1998.5L2927.6 1964.9M2969 1978.8L2969 1998.5M2927.6 1945.2L2927.6 1964.9M2969 1988.7L2927.6 1955" stroke="#BEBEBE"/>
<path d="M2927.6 1945.2L2947.3 1932.3L2963.8 1945.2L2985.6 1934.9L3013 1960.7L2969 1978.8Z" fill="#fff" fill-rule="evenodd" stroke="#BEBEBE"/>
</g>
<g fill="none" stroke-width="1.2">
<path d="M3133.5 1839.2L3157.8 1827.3M3157.8 1827.3L3175.9 1836.6M3175.9 1836.6L3163 1842.8M3163 1842.8L3178.5 1859.9M3194 1852.1L3235.4 1836.6M3235.4 1836.6L3261.3 1859.9M2700 2162.5L2720.7 2154.7M2720.7 2154.7L2741.4 2167.6M2741.4 2167.6L2741.4 2180.6M2741.4 2180.6L2710.3 2188.3M2710.3 2188.3L2710.3 2175.4M2710.3 2175.4L2700 2178M2994.9 1892.4L3036.2 1876.9M2994.9 1892.4L3020.7 1911.6M3020.7 1911.6L3038.8 1906.4M3021.8 1921.9L3038.8 1919.3M3021.8 1921.9L3021.8 1937.4M3021.8 1937.4L3038.8 1950.4" stroke="#BEBEBE"/>
</g>
<g fill="none" stroke-width="1.2">
<path d="M917.3 1968L889.8 1979.7L889.8 2001.3L917.3 1989.5Z" fill="#fff"/>
<path d="M917.3 1968L889.8 1979.7M917.3 1989.5L889.8 2001.3M917.3 1968L917.3 1989.5M889.8 1979.7L889.8 2001.3M917.3 1978.8L889.8 1990.5" stroke="#BEBEBE"/>
<path d="M889.8 1979.7L813.4 1938.6L813.4 1960.1L889.8 2001.3Z" fill="#fff"/>
<path d="M889.8 1979.7L813.4 1938.6M889.8 2001.3L813.4 1960.1M889.8 1979.7L889.8 2001.3M813.4 1938.6L813.4 1960.1M889.8 1990.5L813.4 1949.4" stroke="#BEBEBE"/>
<path d="M813.4 1938.6L838.9 1924.9L917.3 1968L889.8 1979.7Z" fill="#fff" fill-rule="evenodd" stroke="#BEBEBE"/>
</g>
<g fill="none" stroke-width="1.2">
<path d="M913.3 1978.4L890.6 1988.6L890.6 2011.3L913.3 2001.1Z" fill="#fff"/>
<path d="M913.3 1978.4L890.6 1988.6M913.3 2001.1L890.6 2011.3M913.3 1978.4L913.3 2001.1M890.6 1988.6L890.6 2011.3M913.3 1989.8L890.6 2000" stroke="#BEBEBE"/>
<path d="M890.6 1988.6L812.2 1934.5L812.2 1957.2L890.6 2011.3Z" fill="#fff"/>
<path d="M890.6 1988.6L812.2 1934.5M890.6 2011.3L812.2 1957.2M890.6 1988.6L890.6 2011.3M812.2 1934.5L812.2 1957.2M890.6 2000L812.2 1945.9" stroke="#BEBEBE"/>
<path d="M812.2 1934.5L834.9 1924.3L913.3 1978.4L890.6 1988.6Z" fill="#fff" fill-rule="evenodd" stroke="#BEBEBE"/>
</g>
<g fill="none" stroke-width="1.2">
<path d="M2895.5 1964.9L2892.4 1960.7L2892.4 1981.4L2895.5 1985.6Z" fill="#fff"/>
<path d="M2895.5 1964.9L2892.4 1960.7M2895.5 1985.6L2892.4 1981.4M2895.5 1964.9L2895.5 1985.6M2892.4 1960.7L2892.4 1981.4M2895.5 1975.2L2892.4 1971.1" stroke="#BEBEBE"/>
<path d="M2940.5 1978.8L2899.2 1994.4L2899.2 2015L2940.5 1999.5Z" fill="#fff"/>
<path d="M2940.5 1978.8L2899.2 1994.4M2940.5 1999.5L2899.2 2015M2940.5 1978.8L2940.5 1999.5M2899.2 1994.4L2899.2 2015M2940.5 1989.2L2899.2 2004.7" stroke="#BEBEBE"/>
<path d="M2899.2 1994.4L2868.1 1976.2L2868.1 1996.9L2899.2 2015Z" fill="#fff"/>
<path d="M2899.2 1994.4L2868.1 1976.2M2899.2 2015L2868.1 1996.9M2899.2 1994.4L2899.2 2015M2868.1 1976.2L2868.1 1996.9M2899.2 2004.7L2868.1 1986.6" stroke="#BEBEBE"/>
<path d="M2868.1 1976.2L2895.5 1964.9L2892.4 1960.7L2912.1 1956.6L2940.5 1978.8L2899.2 1994.4Z" fill="#fff" fill-rule="evenodd" stroke="#BEBEBE"/>
</g>
<path d="M2677.8 2016.4 L2677.8 1982.7 C2668.2 1967.0 2683.0 1955.8 2691.7 1952.3 C2700.3 1955.8 2715.1 1967.0 2705.5 1982.7 L2705.5 2016.4" fill="#fff" stroke="#BEBEBE" stroke-width="1.1"/>
<path d="M2691.7 1952.3L2691.7 1944.5" stroke="#BEBEBE" stroke-width="1.1"/><circle cx="2691.7" cy="1947.1" r="2" fill="#fff" stroke="#BEBEBE"/>
<path d="M2721.4 2016.4 L2721.4 1972.1 C2711.9 1956.5 2726.6 1945.3 2735.3 1941.8 C2744.0 1945.3 2758.7 1956.5 2749.2 1972.1 L2749.2 2016.4" fill="#fff" stroke="#BEBEBE" stroke-width="1.1"/>
<path d="M2735.3 1941.8L2735.3 1934.0" stroke="#BEBEBE" stroke-width="1.1"/><circle cx="2735.3" cy="1936.6" r="2" fill="#fff" stroke="#BEBEBE"/>
<path d="M2761.0 2016.4 L2761.0 1996.4 C2750.9 1979.9 2766.6 1967.9 2775.8 1964.2 C2785.0 1967.9 2800.6 1979.9 2790.5 1996.4 L2790.5 2016.4" fill="#fff" stroke="#BEBEBE" stroke-width="1.1"/>
<path d="M2775.8 1964.2L2775.8 1955.9" stroke="#BEBEBE" stroke-width="1.1"/><circle cx="2775.8" cy="1958.7" r="2" fill="#fff" stroke="#BEBEBE"/>
<path d="M2709.5 2016.4 L2709.5 2013.3 C2700.9 1999.1 2714.3 1988.8 2722.1 1985.7 C2730.0 1988.8 2743.4 1999.1 2734.8 2013.3 L2734.8 2016.4" fill="#fff" stroke="#BEBEBE" stroke-width="1.1"/>
<path d="M2722.1 1985.7L2722.1 1978.6" stroke="#BEBEBE" stroke-width="1.1"/><circle cx="2722.1" cy="1980.9" r="2" fill="#fff" stroke="#BEBEBE"/>
<path d="M2673.6 2016.4 L2673.6 2014.7 C2668.4 2006.2 2676.4 2000.1 2681.1 1998.2 C2685.9 2000.1 2693.9 2006.2 2688.7 2014.7 L2688.7 2016.4" fill="#fff" stroke="#BEBEBE" stroke-width="1.1"/>
<path d="M2681.1 1998.2L2681.1 1993.9" stroke="#BEBEBE" stroke-width="1.1"/><circle cx="2681.1" cy="1995.3" r="2" fill="#fff" stroke="#BEBEBE"/>
<g fill="none" stroke-width="1.2">
<path d="M360.6 1977.2L267.3 2020.7L267.3 2043.5L360.6 2000Z" fill="#fff"/>
<path d="M360.6 1977.2L267.3 2020.7M360.6 2000L267.3 2043.5M360.6 1977.2L360.6 2000M267.3 2020.7L267.3 2043.5M360.6 1988.6L267.3 2032.1" stroke="#BEBEBE"/>
<path d="M267.3 2020.7L234.4 2000L234.4 2022.7L267.3 2043.5Z" fill="#fff"/>
<path d="M267.3 2020.7L234.4 2000M267.3 2043.5L234.4 2022.7M267.3 2020.7L267.3 2043.5M234.4 2000L234.4 2022.7M267.3 2032.1L234.4 2011.3" stroke="#BEBEBE"/>
<path d="M234.4 2000L327.3 1953.7L360.6 1977.2L267.3 2020.7Z" fill="#fff" fill-rule="evenodd" stroke="#BEBEBE"/>
</g>
<g fill="none" stroke-width="1.2">
<path d="M154.1 2019.6L116.4 2037.2L116.4 2045L154.1 2027.4Z" fill="#fff"/>
<path d="M154.1 2019.6L116.4 2037.2M154.1 2027.4L116.4 2045M154.1 2019.6L154.1 2027.4M116.4 2037.2L116.4 2045" stroke="#BEBEBE"/>
<path d="M116.4 2037.2L97.2 2025.4L97.2 2033.3L116.4 2045Z" fill="#fff"/>
<path d="M116.4 2037.2L97.2 2025.4M116.4 2045L97.2 2033.3M116.4 2037.2L116.4 2045M97.2 2025.4L97.2 2033.3" stroke="#BEBEBE"/>
<path d="M97.2 2025.4L135.2 2006.6L154.1 2019.6L116.4 2037.2Z" fill="#fff" fill-rule="evenodd" stroke="#BEBEBE"/>
</g>
<g fill="none" stroke-width="1.2">
<path d="M2401.7 1996L2399.8 1992.1L2399.8 2009.8L2401.7 2013.7Z" fill="#fff"/>
<path d="M2401.7 1996L2399.8 1992.1M2401.7 2013.7L2399.8 2009.8M2401.7 1996L2401.7 2013.7M2399.8 1992.1L2399.8 2009.8" stroke="#BEBEBE"/>
<path d="M2456.6 2011.7L2440.2 2017.6L2440.2 2035.2L2456.6 2029.4Z" fill="#fff"/>
<path d="M2456.6 2011.7L2440.2 2017.6M2456.6 2029.4L2440.2 2035.2M2456.6 2011.7L2456.6 2029.4M2440.2 2017.6L2440.2 2035.2" stroke="#BEBEBE"/>
<path d="M2416.6 2026.2L2403.7 2031.3L2403.7 2049L2416.6 2043.9Z" fill="#fff"/>
<path d="M2416.6 2026.2L2403.7 2031.3M2416.6 2043.9L2403.7 2049M2416.6 2026.2L2416.6 2043.9M2403.7 2031.3L2403.7 2049" stroke="#BEBEBE"/>
<path d="M2403.7 2031.3L2382.1 2005.1L2382.1 2022.7L2403.7 2049Z" fill="#fff"/>
<path d="M2403.7 2031.3L2382.1 2005.1M2403.7 2049L2382.1 2022.7M2403.7 2031.3L2403.7 2049M2382.1 2005.1L2382.1 2022.7" stroke="#BEBEBE"/>
<path d="M2446.8 2025.4L2423.3 2035.2L2423.3 2052.9L2446.8 2043.1Z" fill="#fff"/>
<path d="M2446.8 2025.4L2423.3 2035.2M2446.8 2043.1L2423.3 2052.9M2446.8 2025.4L2446.8 2043.1M2423.3 2035.2L2423.3 2052.9" stroke="#BEBEBE"/>
<path d="M2423.3 2035.2L2416.6 2026.2L2416.6 2043.9L2423.3 2052.9Z" fill="#fff"/>
<path d="M2423.3 2035.2L2416.6 2026.2M2423.3 2052.9L2416.6 2043.9M2423.3 2035.2L2423.3 2052.9M2416.6 2026.2L2416.6 2043.9" stroke="#BEBEBE"/>
<path d="M2382.1 2005.1L2401.7 1996L2399.8 1992.1L2429.2 1984.3L2456.6 2011.7L2440.2 2017.6L2446.8 2025.4L2423.3 2035.2L2416.6 2026.2L2403.7 2031.3Z" fill="#fff" fill-rule="evenodd" stroke="#BEBEBE"/>
</g>
<g fill="none" stroke-width="1.2">
<path d="M1293.8 2026.5L1258.9 2043.9L1258.9 2065.7L1293.8 2048.3Z" fill="#fff"/>
<path d="M1293.8 2026.5L1258.9 2043.9M1293.8 2048.3L1258.9 2065.7M1293.8 2026.5L1293.8 2048.3M1258.9 2043.9L1258.9 2065.7M1293.8 2037.4L1258.9 2054.8" stroke="#BEBEBE"/>
<path d="M1258.9 2043.9L1190.1 1998.2L1190.1 2019.9L1258.9 2065.7Z" fill="#fff"/>
<path d="M1258.9 2043.9L1190.1 1998.2M1258.9 2065.7L1190.1 2019.9M1258.9 2043.9L1258.9 2065.7M1190.1 1998.2L1190.1 2019.9M1258.9 2054.8L1190.1 2009.1" stroke="#BEBEBE"/>
<path d="M1190.1 1998.2L1224.1 1980.7L1293.8 2026.5L1258.9 2043.9Z" fill="#fff" fill-rule="evenodd" stroke="#BEBEBE"/>
</g>
<g fill="none" stroke-width="1.2">
<path d="M1052 2030.8L1006.3 2050.4L1006.3 2072.2L1052 2052.6Z" fill="#fff"/>
<path d="M1052 2030.8L1006.3 2050.4M1052 2052.6L1006.3 2072.2M1052 2030.8L1052 2052.6M1006.3 2050.4L1006.3 2072.2M1052 2041.7L1006.3 2061.3" stroke="#BEBEBE"/>
<path d="M1006.3 2050.4L925.7 2001.2L925.7 2023L1006.3 2072.2Z" fill="#fff"/>
<path d="M1006.3 2050.4L925.7 2001.2M1006.3 2072.2L925.7 2023M1006.3 2050.4L1006.3 2072.2M925.7 2001.2L925.7 2023M1006.3 2061.3L925.7 2012.1" stroke="#BEBEBE"/>
<path d="M925.7 2001.2L969.3 1972L1052 2030.8L1006.3 2050.4Z" fill="#fff" fill-rule="evenodd" stroke="#BEBEBE"/>
</g>
<g fill="none" stroke-width="1.2">
<path d="M3553.6 1991.8L3432 2042.5L3432 2082.8L3553.6 2032.1Z" fill="#fff"/>
<path d="M3553.6 1991.8L3432 2042.5M3553.6 2032.1L3432 2082.8M3553.6 1991.8L3553.6 2032.1M3432 2042.5L3432 2082.8M3553.6 2005.2L3432 2055.9M3553.6 2018.7L3432 2069.4" stroke="#BEBEBE"/>
<path d="M3432 2042.5L3386.5 2009.9L3386.5 2050.2L3432 2082.8Z" fill="#fff"/>
<path d="M3432 2042.5L3386.5 2009.9M3432 2082.8L3386.5 2050.2M3432 2042.5L3432 2082.8M3386.5 2009.9L3386.5 2050.2M3432 2055.9L3386.5 2023.3M3432 2069.4L3386.5 2036.8" stroke="#BEBEBE"/>
<path d="M3386.5 2009.9L3527.7 1947.8L3553.6 1991.8L3432 2042.5Z" fill="#fff" fill-rule="evenodd" stroke="#BEBEBE"/>
</g>
<g fill="none" stroke-width="1.2">
<path d="M601.7 1988.6L550 2012.9L550 2035.6L601.7 2011.3Z" fill="#fff"/>
<path d="M601.7 1988.6L550 2012.9M601.7 2011.3L550 2035.6M601.7 1988.6L601.7 2011.3M550 2012.9L550 2035.6M601.7 2000L550 2024.3" stroke="#BEBEBE"/>
<path d="M550 2012.9L544.9 2009L544.9 2031.7L550 2035.6Z" fill="#fff"/>
<path d="M550 2012.9L544.9 2009M550 2035.6L544.9 2031.7M550 2012.9L550 2035.6M544.9 2009L544.9 2031.7M550 2024.3L544.9 2020.3" stroke="#BEBEBE"/>
<path d="M544.9 2009L497 2032.1L497 2054.8L544.9 2031.7Z" fill="#fff"/>
<path d="M544.9 2009L497 2032.1M544.9 2031.7L497 2054.8M544.9 2009L544.9 2031.7M497 2032.1L497 2054.8M544.9 2020.3L497 2043.5" stroke="#BEBEBE"/>
<path d="M501.7 2036.4L446.9 2061.5L446.9 2084.2L501.7 2059.1Z" fill="#fff"/>
<path d="M501.7 2036.4L446.9 2061.5M501.7 2059.1L446.9 2084.2M501.7 2036.4L501.7 2059.1M446.9 2061.5L446.9 2084.2M501.7 2047.8L446.9 2072.9" stroke="#BEBEBE"/>
<path d="M446.9 2061.5L392 2023.5L392 2046.2L446.9 2084.2Z" fill="#fff"/>
<path d="M446.9 2061.5L392 2023.5M446.9 2084.2L392 2046.2M446.9 2061.5L446.9 2084.2M392 2023.5L392 2046.2M446.9 2072.9L392 2034.8" stroke="#BEBEBE"/>
<path d="M392 2023.5L446.9 1997.2L451.6 2000.7L495.9 1978.4L495.9 1973.3L546 1949.8L601.7 1988.6L550 2012.9L544.9 2009L497 2032.1L501.7 2036.4L446.9 2061.5Z" fill="#fff" fill-rule="evenodd" stroke="#BEBEBE"/>
</g>
<g fill="none" stroke-width="1.2">
<path d="M21.6 2023.5L9.8 2031.3L9.8 2039.9L21.6 2032.1Z" fill="#fff"/>
<path d="M21.6 2023.5L9.8 2031.3M21.6 2032.1L9.8 2039.9M21.6 2023.5L21.6 2032.1M9.8 2031.3L9.8 2039.9" stroke="#BEBEBE"/>
<path d="M73.7 2058.8L35.3 2076.4L35.3 2085L73.7 2067.4Z" fill="#fff"/>
<path d="M73.7 2058.8L35.3 2076.4M73.7 2067.4L35.3 2085M73.7 2058.8L73.7 2067.4M35.3 2076.4L35.3 2085" stroke="#BEBEBE"/>
<path d="M35.3 2076.4L-3.9 2052.9L-3.9 2061.5L35.3 2085Z" fill="#fff"/>
<path d="M35.3 2076.4L-3.9 2052.9M35.3 2085L-3.9 2061.5M35.3 2076.4L35.3 2085M-3.9 2052.9L-3.9 2061.5" stroke="#BEBEBE"/>
<path d="M-3.9 2005.8L21.6 2023.5L9.8 2031.3L42.3 2052.1L54.1 2045.8L73.7 2058.8L35.3 2076.4L-3.9 2052.9Z" fill="#fff" fill-rule="evenodd" stroke="#BEBEBE"/>
</g>
<g fill="none" stroke-width="1.2">
<path d="M201.5 2052.9L108.2 2097.2L108.2 2119.9L201.5 2075.6Z" fill="#fff"/>
<path d="M201.5 2052.9L108.2 2097.2M201.5 2075.6L108.2 2119.9M201.5 2052.9L201.5 2075.6M108.2 2097.2L108.2 2119.9M201.5 2064.2L108.2 2108.5" stroke="#BEBEBE"/>
<path d="M108.2 2097.2L75.3 2075.6L75.3 2098.3L108.2 2119.9Z" fill="#fff"/>
<path d="M108.2 2097.2L75.3 2075.6M108.2 2119.9L75.3 2098.3M108.2 2097.2L108.2 2119.9M75.3 2075.6L75.3 2098.3M108.2 2108.5L75.3 2087" stroke="#BEBEBE"/>
<path d="M75.3 2075.6L167.8 2029.4L201.5 2052.9L108.2 2097.2Z" fill="#fff" fill-rule="evenodd" stroke="#BEBEBE"/>
</g>
<g fill="none" stroke-width="1.2">
<path d="M2476.2 2098L2448.8 2107L2448.8 2126.6L2476.2 2117.6Z" fill="#fff"/>
<path d="M2476.2 2098L2448.8 2107M2476.2 2117.6L2448.8 2126.6M2476.2 2098L2476.2 2117.6M2448.8 2107L2448.8 2126.6M2476.2 2107.8L2448.8 2116.8" stroke="#BEBEBE"/>
<path d="M2448.8 2107L2425.3 2078.4L2425.3 2098L2448.8 2126.6Z" fill="#fff"/>
<path d="M2448.8 2107L2425.3 2078.4M2448.8 2126.6L2425.3 2098M2448.8 2107L2448.8 2126.6M2425.3 2078.4L2425.3 2098M2448.8 2116.8L2425.3 2088.2" stroke="#BEBEBE"/>
<path d="M2425.3 2078.4L2451.9 2069.3L2476.2 2098L2448.8 2107Z" fill="#fff" fill-rule="evenodd" stroke="#BEBEBE"/>
</g>
<g fill="none" stroke-width="1.2">
<path d="M2313.5 2076.4L2305.7 2082.3L2305.7 2103.8L2313.5 2098Z" fill="#fff"/>
<path d="M2313.5 2076.4L2305.7 2082.3M2313.5 2098L2305.7 2103.8M2313.5 2076.4L2313.5 2098M2305.7 2082.3L2305.7 2103.8M2313.5 2087.2L2305.7 2093.1" stroke="#BEBEBE"/>
<path d="M2266.5 2084.2L2260.6 2078.4L2260.6 2099.9L2266.5 2105.8Z" fill="#fff"/>
<path d="M2266.5 2084.2L2260.6 2078.4M2266.5 2105.8L2260.6 2099.9M2266.5 2084.2L2266.5 2105.8M2260.6 2078.4L2260.6 2099.9M2266.5 2095L2260.6 2089.1" stroke="#BEBEBE"/>
<path d="M2268.5 2103.8L2256.7 2107.8L2256.7 2129.3L2268.5 2125.4Z" fill="#fff"/>
<path d="M2268.5 2103.8L2256.7 2107.8M2268.5 2125.4L2256.7 2129.3M2268.5 2103.8L2268.5 2125.4M2256.7 2107.8L2256.7 2129.3M2268.5 2114.6L2256.7 2118.5" stroke="#BEBEBE"/>
<path d="M2256.7 2107.8L2248.9 2092.1L2248.9 2113.6L2256.7 2129.3Z" fill="#fff"/>
<path d="M2256.7 2107.8L2248.9 2092.1M2256.7 2129.3L2248.9 2113.6M2256.7 2107.8L2256.7 2129.3M2248.9 2092.1L2248.9 2113.6M2256.7 2118.5L2248.9 2102.9" stroke="#BEBEBE"/>
<path d="M2311.6 2099.9L2276.3 2114.8L2276.3 2136.4L2311.6 2121.5Z" fill="#fff"/>
<path d="M2311.6 2099.9L2276.3 2114.8M2311.6 2121.5L2276.3 2136.4M2311.6 2099.9L2311.6 2121.5M2276.3 2114.8L2276.3 2136.4M2311.6 2110.7L2276.3 2125.6" stroke="#BEBEBE"/>
<path d="M2276.3 2114.8L2268.5 2103.8L2268.5 2125.4L2276.3 2136.4Z" fill="#fff"/>
<path d="M2276.3 2114.8L2268.5 2103.8M2276.3 2136.4L2268.5 2125.4M2276.3 2114.8L2276.3 2136.4M2268.5 2103.8L2268.5 2125.4M2276.3 2125.6L2268.5 2114.6" stroke="#BEBEBE"/>
<path d="M2248.9 2092.1L2266.5 2084.2L2260.6 2078.4L2297.9 2062.7L2313.5 2076.4L2305.7 2082.3L2311.6 2099.9L2276.3 2114.8L2268.5 2103.8L2256.7 2107.8Z" fill="#fff" fill-rule="evenodd" stroke="#BEBEBE"/>
</g>
<g fill="none" stroke-width="1.2">
<path d="M3507 2087.5L3460.4 2095.2L3460.4 2136.6L3507 2128.9Z" fill="#fff"/>
<path d="M3507 2087.5L3460.4 2095.2M3507 2128.9L3460.4 2136.6M3507 2087.5L3507 2128.9M3460.4 2095.2L3460.4 2136.6M3507 2101.3L3460.4 2109M3507 2115.1L3460.4 2122.8" stroke="#BEBEBE"/>
<path d="M3460.4 2095.2L3406.1 2053.8L3406.1 2095.2L3460.4 2136.6Z" fill="#fff"/>
<path d="M3460.4 2095.2L3406.1 2053.8M3460.4 2136.6L3406.1 2095.2M3460.4 2095.2L3460.4 2136.6M3406.1 2053.8L3406.1 2095.2M3460.4 2109L3406.1 2067.6M3460.4 2122.8L3406.1 2081.4" stroke="#BEBEBE"/>
<path d="M3406.1 2053.8L3433.5 2042.5L3507 2087.5L3460.4 2095.2Z" fill="#fff" fill-rule="evenodd" stroke="#BEBEBE"/>
</g>
<g fill="none" stroke-width="1.2">
<path d="M905.5 2105.8L854.5 2125.4L854.5 2148.1L905.5 2128.5Z" fill="#fff"/>
<path d="M905.5 2105.8L854.5 2125.4M905.5 2128.5L854.5 2148.1M905.5 2105.8L905.5 2128.5M854.5 2125.4L854.5 2148.1M905.5 2117.2L854.5 2136.8" stroke="#BEBEBE"/>
<path d="M854.5 2125.4L742.8 2047L742.8 2069.7L854.5 2148.1Z" fill="#fff"/>
<path d="M854.5 2125.4L742.8 2047M854.5 2148.1L742.8 2069.7M854.5 2125.4L854.5 2148.1M742.8 2047L742.8 2069.7M854.5 2136.8L742.8 2058.4" stroke="#BEBEBE"/>
<path d="M742.8 2047L791.8 2023.5L905.5 2105.8L854.5 2125.4Z" fill="#fff" fill-rule="evenodd" stroke="#BEBEBE"/>
</g>
<g fill="none" stroke-width="1.2">
<path d="M1471.5 2161.5L1522.4 2145.4M1522.4 2145.4L1572.5 2198.5M1471.5 2161.5L1471.5 2178.9M1471.5 2178.9L1507.2 2200.7M1471.5 2170.2L1498.5 2187.6" stroke="#BEBEBE"/>
</g>
<g fill="none" stroke-width="1.2">
<path d="M2509.5 2135.2L2463.3 2148.9L2463.3 2170.5L2509.5 2156.8Z" fill="#fff"/>
<path d="M2509.5 2135.2L2463.3 2148.9M2509.5 2156.8L2463.3 2170.5M2509.5 2135.2L2509.5 2156.8M2463.3 2148.9L2463.3 2170.5M2509.5 2146L2463.3 2159.7" stroke="#BEBEBE"/>
<path d="M2463.3 2148.9L2436.2 2119.5L2436.2 2141.1L2463.3 2170.5Z" fill="#fff"/>
<path d="M2463.3 2148.9L2436.2 2119.5M2463.3 2170.5L2436.2 2141.1M2463.3 2148.9L2463.3 2170.5M2436.2 2119.5L2436.2 2141.1M2463.3 2159.7L2436.2 2130.3" stroke="#BEBEBE"/>
<path d="M2436.2 2119.5L2456.6 2111.7L2509.5 2135.2L2463.3 2148.9Z" fill="#fff" fill-rule="evenodd" stroke="#BEBEBE"/>
</g>
<g fill="none" stroke-width="1.2">
<path d="M23.5 2121.5L-11.8 2139.1L-11.8 2172.4L23.5 2154.8Z" fill="#fff"/>
<path d="M23.5 2121.5L-11.8 2139.1M23.5 2154.8L-11.8 2172.4M23.5 2121.5L23.5 2154.8M-11.8 2139.1L-11.8 2172.4M23.5 2132.6L-11.8 2150.2M23.5 2143.7L-11.8 2161.3" stroke="#BEBEBE"/>
<path d="M-11.8 2099.9L0 2105.8L23.5 2121.5L-11.8 2139.1Z" fill="#fff" fill-rule="evenodd" stroke="#BEBEBE"/>
</g>
<g fill="none" stroke-width="1.2">
<path d="M278.3 2083.5L277.5 2078.4L277.5 2101.1L278.3 2106.2Z" fill="#fff"/>
<path d="M278.3 2083.5L277.5 2078.4M278.3 2106.2L277.5 2101.1M278.3 2083.5L278.3 2106.2M277.5 2078.4L277.5 2101.1M278.3 2094.8L277.5 2089.7" stroke="#BEBEBE"/>
<path d="M384.1 2092.1L332.4 2116.4L332.4 2139.1L384.1 2114.8Z" fill="#fff"/>
<path d="M384.1 2092.1L332.4 2116.4M384.1 2114.8L332.4 2139.1M384.1 2092.1L384.1 2114.8M332.4 2116.4L332.4 2139.1M384.1 2103.4L332.4 2127.7" stroke="#BEBEBE"/>
<path d="M332.4 2116.4L327.3 2112.8L327.3 2135.6L332.4 2139.1Z" fill="#fff"/>
<path d="M332.4 2116.4L327.3 2112.8M332.4 2139.1L327.3 2135.6M332.4 2116.4L332.4 2139.1M327.3 2112.8L327.3 2135.6M332.4 2127.7L327.3 2124.2" stroke="#BEBEBE"/>
<path d="M327.3 2112.8L279.1 2136.4L279.1 2159.1L327.3 2135.6Z" fill="#fff"/>
<path d="M327.3 2112.8L279.1 2136.4M327.3 2135.6L279.1 2159.1M327.3 2112.8L327.3 2135.6M279.1 2136.4L279.1 2159.1M327.3 2124.2L279.1 2147.7" stroke="#BEBEBE"/>
<path d="M283 2141.1L229.3 2165.8L229.3 2188.5L283 2163.8Z" fill="#fff"/>
<path d="M283 2141.1L229.3 2165.8M283 2163.8L229.3 2188.5M283 2141.1L283 2163.8M229.3 2165.8L229.3 2188.5M283 2152.4L229.3 2177.1" stroke="#BEBEBE"/>
<path d="M229.3 2165.8L174.4 2127.4L174.4 2150.1L229.3 2188.5Z" fill="#fff"/>
<path d="M229.3 2165.8L174.4 2127.4M229.3 2188.5L174.4 2150.1M229.3 2165.8L229.3 2188.5M174.4 2127.4L174.4 2150.1M229.3 2177.1L174.4 2138.7" stroke="#BEBEBE"/>
<path d="M174.4 2127.4L229.3 2101.9L234.4 2105L278.3 2083.5L277.5 2078.4L328.5 2054.1L384.1 2092.1L332.4 2116.4L327.3 2112.8L279.1 2136.4L283 2141.1L229.3 2165.8Z" fill="#fff" fill-rule="evenodd" stroke="#BEBEBE"/>
</g>
<g fill="none" stroke-width="1.2">
<path d="M1458.4 2148.4L1368.7 2183.3L1368.7 2200.7L1458.4 2165.9Z" fill="#fff"/>
<path d="M1458.4 2148.4L1368.7 2183.3M1458.4 2165.9L1368.7 2200.7M1458.4 2148.4L1458.4 2165.9M1368.7 2183.3L1368.7 2200.7M1458.4 2157.1L1368.7 2192" stroke="#BEBEBE"/>
<path d="M1368.7 2183.3L1341.7 2170.2L1341.7 2187.6L1368.7 2200.7Z" fill="#fff"/>
<path d="M1368.7 2183.3L1341.7 2170.2M1368.7 2200.7L1341.7 2187.6M1368.7 2183.3L1368.7 2200.7M1341.7 2170.2L1341.7 2187.6M1368.7 2192L1341.7 2178.9" stroke="#BEBEBE"/>
<path d="M1341.7 2170.2L1433.1 2133.2L1458.4 2148.4L1368.7 2183.3Z" fill="#fff" fill-rule="evenodd" stroke="#BEBEBE"/>
</g>
<g fill="none" stroke-width="1.2">
<path d="M3453.7 2166.6L3408.7 2184.2L3408.7 2200.8L3453.7 2183.2Z" fill="#fff"/>
<path d="M3453.7 2166.6L3408.7 2184.2M3453.7 2183.2L3408.7 2200.8M3453.7 2166.6L3453.7 2183.2M3408.7 2184.2L3408.7 2200.8" stroke="#BEBEBE"/>
<path d="M3408.7 2184.2L3177 2020.2L3177 2036.8L3408.7 2200.8Z" fill="#fff"/>
<path d="M3408.7 2184.2L3177 2020.2M3408.7 2200.8L3177 2036.8M3408.7 2184.2L3408.7 2200.8M3177 2020.2L3177 2036.8" stroke="#BEBEBE"/>
<path d="M3177 2020.2L3209.5 2006.3L3238 2025.4L3252.5 2020.2L3453.7 2166.6L3408.7 2184.2Z" fill="#fff" fill-rule="evenodd" stroke="#BEBEBE"/>
</g>
<g fill="none" stroke-width="1.2">
<path d="M1249.3 2135.4L1140.5 2183.3L1140.5 2205.9L1249.3 2158Z" fill="#fff"/>
<path d="M1249.3 2135.4L1140.5 2183.3M1249.3 2158L1140.5 2205.9M1249.3 2135.4L1249.3 2158M1140.5 2183.3L1140.5 2205.9M1249.3 2146.7L1140.5 2194.6" stroke="#BEBEBE"/>
<path d="M1140.5 2183.3L1113 2165L1113 2187.6L1140.5 2205.9Z" fill="#fff"/>
<path d="M1140.5 2183.3L1113 2165M1140.5 2205.9L1113 2187.6M1140.5 2183.3L1140.5 2205.9M1113 2165L1113 2187.6M1140.5 2194.6L1113 2176.3" stroke="#BEBEBE"/>
<path d="M1113 2165L1224.1 2115.8L1249.3 2135.4L1140.5 2183.3Z" fill="#fff" fill-rule="evenodd" stroke="#BEBEBE"/>
</g>
<g fill="none" stroke-width="1.2">
<path d="M2250.8 2113.6L2244.9 2124.2L2244.9 2196.7L2250.8 2186.2Z" fill="#fff"/>
<path d="M2250.8 2113.6L2244.9 2124.2M2250.8 2186.2L2244.9 2196.7M2250.8 2113.6L2250.8 2186.2M2244.9 2124.2L2244.9 2196.7M2250.8 2125.7L2244.9 2136.3M2250.8 2137.8L2244.9 2148.4M2250.8 2149.9L2244.9 2160.5M2250.8 2162L2244.9 2172.6M2250.8 2174.1L2244.9 2184.6" stroke="#BEBEBE"/>
<path d="M2244.9 2124.2L2176.4 2141.9L2176.4 2214.4L2244.9 2196.7Z" fill="#fff"/>
<path d="M2244.9 2124.2L2176.4 2141.9M2244.9 2196.7L2176.4 2214.4M2244.9 2124.2L2244.9 2196.7M2176.4 2141.9L2176.4 2214.4M2244.9 2136.3L2176.4 2153.9M2244.9 2148.4L2176.4 2166M2244.9 2160.5L2176.4 2178.1M2244.9 2172.6L2176.4 2190.2M2244.9 2184.6L2176.4 2202.3" stroke="#BEBEBE"/>
<path d="M2176.4 2141.9L2145 2113.6L2145 2186.2L2176.4 2214.4Z" fill="#fff"/>
<path d="M2176.4 2141.9L2145 2113.6M2176.4 2214.4L2145 2186.2M2176.4 2141.9L2176.4 2214.4M2145 2113.6L2145 2186.2M2176.4 2153.9L2145 2125.7M2176.4 2166L2145 2137.8M2176.4 2178.1L2145 2149.9M2176.4 2190.2L2145 2162M2176.4 2202.3L2145 2174.1" stroke="#BEBEBE"/>
<path d="M2145 2113.6L2217.5 2086.2L2250.8 2113.6L2244.9 2124.2L2176.4 2141.9Z" fill="#fff" fill-rule="evenodd" stroke="#BEBEBE"/>
</g>
<g fill="none" stroke-width="1.2">
<path d="M1191.4 2050.4L911.4 2183.3L911.4 2215.9L1191.4 2083.1Z" fill="#fff"/>
<path d="M1191.4 2050.4L911.4 2183.3M1191.4 2083.1L911.4 2215.9M1191.4 2050.4L1191.4 2083.1M911.4 2183.3L911.4 2215.9M1191.4 2061.3L911.4 2194.2M1191.4 2072.2L911.4 2205.1" stroke="#BEBEBE"/>
<path d="M911.4 2183.3L870 2144.1L870 2176.7L911.4 2215.9Z" fill="#fff"/>
<path d="M911.4 2183.3L870 2144.1M911.4 2215.9L870 2176.7M911.4 2183.3L911.4 2215.9M870 2144.1L870 2176.7M911.4 2194.2L870 2155M911.4 2205.1L870 2165.9" stroke="#BEBEBE"/>
<path d="M870 2144.1L1150 2022.1L1191.4 2050.4L911.4 2183.3Z" fill="#fff" fill-rule="evenodd" stroke="#BEBEBE"/>
</g>
<g fill="none" stroke-width="1.2">
<path d="M2742 2167.3L2708.3 2176.4L2708.3 2196L2742 2186.9Z" fill="#fff"/>
<path d="M2742 2167.3L2708.3 2176.4M2742 2186.9L2708.3 2196M2742 2167.3L2742 2186.9M2708.3 2176.4L2708.3 2196M2742 2177.1L2708.3 2186.2" stroke="#BEBEBE"/>
<path d="M2709.5 2188.1L2619.3 2211.6L2619.3 2231.2L2709.5 2207.7Z" fill="#fff"/>
<path d="M2709.5 2188.1L2619.3 2211.6M2709.5 2207.7L2619.3 2231.2M2709.5 2188.1L2709.5 2207.7M2619.3 2211.6L2619.3 2231.2M2709.5 2197.9L2619.3 2221.4" stroke="#BEBEBE"/>
<path d="M2619.3 2211.6L2587.9 2159.5L2587.9 2179.1L2619.3 2231.2Z" fill="#fff"/>
<path d="M2619.3 2211.6L2587.9 2159.5M2619.3 2231.2L2587.9 2179.1M2619.3 2211.6L2619.3 2231.2M2587.9 2159.5L2587.9 2179.1M2619.3 2221.4L2587.9 2169.3" stroke="#BEBEBE"/>
<path d="M2587.9 2159.5L2718.5 2130.5L2742 2167.3L2708.3 2176.4L2709.5 2188.1L2619.3 2211.6Z" fill="#fff" fill-rule="evenodd" stroke="#BEBEBE"/>
</g>
<g fill="none" stroke-width="1.2">
<path d="M2631.1 2221.4L2580.1 2237.1L2580.1 2249.7L2631.1 2234Z" fill="#fff"/>
<path d="M2631.1 2221.4L2580.1 2237.1M2631.1 2234L2580.1 2249.7M2631.1 2221.4L2631.1 2234M2580.1 2237.1L2580.1 2249.7" stroke="#BEBEBE"/>
<path d="M2580.1 2237.1L2546.8 2207.7L2546.8 2220.3L2580.1 2249.7Z" fill="#fff"/>
<path d="M2580.1 2237.1L2546.8 2207.7M2580.1 2249.7L2546.8 2220.3M2580.1 2237.1L2580.1 2249.7M2546.8 2207.7L2546.8 2220.3" stroke="#BEBEBE"/>
<path d="M2546.8 2207.7L2595.8 2192L2631.1 2221.4L2580.1 2237.1Z" fill="#fff" fill-rule="evenodd" stroke="#BEBEBE"/>
</g>
<g fill="none" stroke-width="1.2">
<path d="M1099.9 2202.9L1005 2245.1L1005 2267.8L1099.9 2225.5Z" fill="#fff"/>
<path d="M1099.9 2202.9L1005 2245.1M1099.9 2225.5L1005 2267.8M1099.9 2202.9L1099.9 2225.5M1005 2245.1L1005 2267.8M1099.9 2214.2L1005 2256.4" stroke="#BEBEBE"/>
<path d="M1005 2245.1L976.7 2229L976.7 2251.7L1005 2267.8Z" fill="#fff"/>
<path d="M1005 2245.1L976.7 2229M1005 2267.8L976.7 2251.7M1005 2245.1L1005 2267.8M976.7 2229L976.7 2251.7M1005 2256.4L976.7 2240.3" stroke="#BEBEBE"/>
<path d="M976.7 2229L1072.5 2180.2L1099.9 2202.9L1005 2245.1Z" fill="#fff" fill-rule="evenodd" stroke="#BEBEBE"/>
</g>
<g fill="none" stroke-width="1.2">
<path d="M2176.4 2141.1L1972.5 2217.5L1972.5 2272.4L2176.4 2196Z" fill="#fff"/>
<path d="M2176.4 2141.1L1972.5 2217.5M2176.4 2196L1972.5 2272.4M2176.4 2141.1L2176.4 2196M1972.5 2217.5L1972.5 2272.4M2176.4 2152L1972.5 2228.5M2176.4 2163L1972.5 2239.5M2176.4 2174L1972.5 2250.4M2176.4 2185L1972.5 2261.4" stroke="#BEBEBE"/>
<path d="M1972.5 2217.5L1943.1 2192L1943.1 2246.9L1972.5 2272.4Z" fill="#fff"/>
<path d="M1972.5 2217.5L1943.1 2192M1972.5 2272.4L1943.1 2246.9M1972.5 2217.5L1972.5 2272.4M1943.1 2192L1943.1 2246.9M1972.5 2228.5L1943.1 2203M1972.5 2239.5L1943.1 2214M1972.5 2250.4L1943.1 2225M1972.5 2261.4L1943.1 2235.9" stroke="#BEBEBE"/>
<path d="M1943.1 2192L2145 2113.6L2176.4 2141.1L1972.5 2217.5Z" fill="#fff" fill-rule="evenodd" stroke="#BEBEBE"/>
</g>
<g fill="none" stroke-width="1.2">
<path d="M1319.9 2211.6L1230.6 2250.8L1230.6 2273.4L1319.9 2234.2Z" fill="#fff"/>
<path d="M1319.9 2211.6L1230.6 2250.8M1319.9 2234.2L1230.6 2273.4M1319.9 2211.6L1319.9 2234.2M1230.6 2250.8L1230.6 2273.4M1319.9 2222.9L1230.6 2262.1" stroke="#BEBEBE"/>
<path d="M1230.6 2250.8L1203.2 2230.3L1203.2 2253L1230.6 2273.4Z" fill="#fff"/>
<path d="M1230.6 2250.8L1203.2 2230.3M1230.6 2273.4L1203.2 2253M1230.6 2250.8L1230.6 2273.4M1203.2 2230.3L1203.2 2253M1230.6 2262.1L1203.2 2241.6" stroke="#BEBEBE"/>
<path d="M1203.2 2230.3L1291.6 2190.7L1319.9 2211.6L1230.6 2250.8Z" fill="#fff" fill-rule="evenodd" stroke="#BEBEBE"/>
</g>
<g fill="none" stroke-width="1.2">
<path d="M3142.3 2195.1L2988.1 2249.4L2988.1 2276.3L3142.3 2222Z" fill="#fff"/>
<path d="M3142.3 2195.1L2988.1 2249.4M3142.3 2222L2988.1 2276.3M3142.3 2195.1L3142.3 2222M2988.1 2249.4L2988.1 2276.3M3142.3 2208.5L2988.1 2262.8" stroke="#BEBEBE"/>
<path d="M2988.1 2249.4L2860.4 2130.4L2860.4 2157.3L2988.1 2276.3Z" fill="#fff"/>
<path d="M2988.1 2249.4L2860.4 2130.4M2988.1 2276.3L2860.4 2157.3M2988.1 2249.4L2988.1 2276.3M2860.4 2130.4L2860.4 2157.3M2988.1 2262.8L2860.4 2143.9" stroke="#BEBEBE"/>
<path d="M2860.4 2130.4L3014 2075.6L3142.3 2195.1L2988.1 2249.4Z" fill="#fff" fill-rule="evenodd" stroke="#BEBEBE"/>
</g>
<g fill="none" stroke-width="1.2">
<path d="M2429.2 2233.2L2428.4 2223.4L2428.4 2235.9L2429.2 2245.7Z" fill="#fff"/>
<path d="M2429.2 2233.2L2428.4 2223.4M2429.2 2245.7L2428.4 2235.9M2429.2 2233.2L2429.2 2245.7M2428.4 2223.4L2428.4 2235.9" stroke="#BEBEBE"/>
<path d="M2519.3 2229.3L2488 2241.8L2488 2254.4L2519.3 2241.8Z" fill="#fff"/>
<path d="M2519.3 2229.3L2488 2241.8M2519.3 2241.8L2488 2254.4M2519.3 2229.3L2519.3 2241.8M2488 2241.8L2488 2254.4" stroke="#BEBEBE"/>
<path d="M2488 2241.8L2476.2 2257.5L2476.2 2270L2488 2254.4Z" fill="#fff"/>
<path d="M2488 2241.8L2476.2 2257.5M2488 2254.4L2476.2 2270M2488 2241.8L2488 2254.4M2476.2 2257.5L2476.2 2270" stroke="#BEBEBE"/>
<path d="M2476.2 2257.5L2464.5 2262.6L2464.5 2275.1L2476.2 2270Z" fill="#fff"/>
<path d="M2476.2 2257.5L2464.5 2262.6M2476.2 2270L2464.5 2275.1M2476.2 2257.5L2476.2 2270M2464.5 2262.6L2464.5 2275.1" stroke="#BEBEBE"/>
<path d="M2416.6 2262.6L2395.9 2248.1L2395.9 2260.6L2416.6 2275.1Z" fill="#fff"/>
<path d="M2416.6 2262.6L2395.9 2248.1M2416.6 2275.1L2395.9 2260.6M2395.9 2248.1L2395.9 2260.6" stroke="#BEBEBE"/>
<path d="M2464.5 2262.6L2456.6 2273.2L2456.6 2285.7L2464.5 2275.1Z" fill="#fff"/>
<path d="M2464.5 2262.6L2456.6 2273.2M2464.5 2275.1L2456.6 2285.7M2464.5 2262.6L2464.5 2275.1M2456.6 2273.2L2456.6 2285.7" stroke="#BEBEBE"/>
<path d="M2456.6 2273.2L2416.6 2262.6L2416.6 2275.1L2456.6 2285.7Z" fill="#fff"/>
<path d="M2456.6 2273.2L2416.6 2262.6M2456.6 2285.7L2416.6 2275.1M2456.6 2273.2L2456.6 2285.7" stroke="#BEBEBE"/>
<path d="M2395.9 2248.1L2429.2 2233.2L2428.4 2223.4L2493.9 2203.8L2519.3 2229.3L2488 2241.8L2476.2 2257.5L2464.5 2262.6L2456.6 2273.2L2416.6 2262.6Z" fill="#fff" fill-rule="evenodd" stroke="#BEBEBE"/>
</g>
<g fill="none" stroke-width="1.2">
<path d="M767.5 2132.4L717.3 2155.6L717.3 2213.6L767.5 2190.5Z" fill="#fff"/>
<path d="M767.5 2132.4L717.3 2155.6M767.5 2190.5L717.3 2213.6M767.5 2132.4L767.5 2190.5M717.3 2155.6L717.3 2213.6M767.5 2144.1L717.3 2167.2M767.5 2155.7L717.3 2178.8M767.5 2167.3L717.3 2190.4M767.5 2178.9L717.3 2202" stroke="#BEBEBE"/>
<path d="M717.3 2155.6L639.7 2101.9L639.7 2159.9L717.3 2213.6Z" fill="#fff"/>
<path d="M717.3 2155.6L639.7 2101.9M717.3 2213.6L639.7 2159.9M717.3 2155.6L717.3 2213.6M639.7 2101.9L639.7 2159.9M717.3 2167.2L639.7 2113.5M717.3 2178.8L639.7 2125.1M717.3 2190.4L639.7 2136.7M717.3 2202L639.7 2148.3" stroke="#BEBEBE"/>
<path d="M639.7 2101.9L522.1 2157.5L522.1 2215.6L639.7 2159.9Z" fill="#fff"/>
<path d="M639.7 2101.9L522.1 2157.5M639.7 2159.9L522.1 2215.6M639.7 2101.9L639.7 2159.9M522.1 2157.5L522.1 2215.6M639.7 2113.5L522.1 2169.1M639.7 2125.1L522.1 2180.7M639.7 2136.7L522.1 2192.3M639.7 2148.3L522.1 2203.9" stroke="#BEBEBE"/>
<path d="M599.7 2212.4L550.7 2234.4L550.7 2292.4L599.7 2270.4Z" fill="#fff"/>
<path d="M599.7 2212.4L550.7 2234.4M599.7 2270.4L550.7 2292.4M599.7 2212.4L599.7 2270.4M550.7 2234.4L550.7 2292.4M599.7 2224L550.7 2246M599.7 2235.6L550.7 2257.6M599.7 2247.2L550.7 2269.2M599.7 2258.8L550.7 2280.8" stroke="#BEBEBE"/>
<path d="M550.7 2234.4L439 2156.8L439 2214.8L550.7 2292.4Z" fill="#fff"/>
<path d="M550.7 2234.4L439 2156.8M550.7 2292.4L439 2214.8M550.7 2234.4L550.7 2292.4M439 2156.8L439 2214.8M550.7 2246L439 2168.4M550.7 2257.6L439 2180M550.7 2269.2L439 2191.6M550.7 2280.8L439 2203.2" stroke="#BEBEBE"/>
<path d="M439 2156.8L655.8 2054.1L767.5 2132.4L717.3 2155.6L639.7 2101.9L522.1 2157.5L599.7 2212.4L550.7 2234.4Z" fill="#fff" fill-rule="evenodd" stroke="#BEBEBE"/>
</g>
<g fill="none" stroke-width="1.2">
<path d="M137.2 2199.9L130.5 2202.6L130.5 2225.3L137.2 2222.6Z" fill="#fff"/>
<path d="M137.2 2199.9L130.5 2202.6M137.2 2222.6L130.5 2225.3M137.2 2199.9L137.2 2222.6M130.5 2202.6L130.5 2225.3M137.2 2211.2L130.5 2214" stroke="#BEBEBE"/>
<path d="M76.4 2228.5L70.6 2231.2L70.6 2254L76.4 2251.2Z" fill="#fff"/>
<path d="M76.4 2228.5L70.6 2231.2M76.4 2251.2L70.6 2254M76.4 2228.5L76.4 2251.2M70.6 2231.2L70.6 2254M76.4 2239.9L70.6 2242.6" stroke="#BEBEBE"/>
<path d="M70.6 2231.2L28.2 2201.8L28.2 2224.6L70.6 2254Z" fill="#fff"/>
<path d="M70.6 2231.2L28.2 2201.8M70.6 2254L28.2 2224.6M70.6 2231.2L70.6 2254M28.2 2201.8L28.2 2224.6M70.6 2242.6L28.2 2213.2" stroke="#BEBEBE"/>
<path d="M116.8 2255.9L76.4 2228.5L76.4 2251.2L116.8 2278.7Z" fill="#fff"/>
<path d="M116.8 2255.9L76.4 2228.5M116.8 2278.7L76.4 2251.2M116.8 2255.9L116.8 2278.7M76.4 2228.5L76.4 2251.2M116.8 2267.3L76.4 2239.9" stroke="#BEBEBE"/>
<path d="M222.6 2259.5L155.6 2290L155.6 2312.8L222.6 2282.2Z" fill="#fff"/>
<path d="M222.6 2259.5L155.6 2290M222.6 2282.2L155.6 2312.8M222.6 2259.5L222.6 2282.2M155.6 2290L155.6 2312.8M222.6 2270.8L155.6 2301.4" stroke="#BEBEBE"/>
<path d="M155.6 2290L110.9 2258.7L110.9 2281.4L155.6 2312.8Z" fill="#fff"/>
<path d="M155.6 2290L110.9 2258.7M155.6 2312.8L110.9 2281.4M155.6 2290L155.6 2312.8M110.9 2258.7L110.9 2281.4M155.6 2301.4L110.9 2270" stroke="#BEBEBE"/>
<path d="M28.2 2201.8L95.3 2169.7L137.2 2199.9L130.5 2202.6L171.3 2231.2L177.2 2228.1L222.6 2259.5L155.6 2290L110.9 2258.7L116.8 2255.9L76.4 2228.5L70.6 2231.2Z" fill="#fff" fill-rule="evenodd" stroke="#BEBEBE"/>
</g>
<g fill="none" stroke-width="1.2">
<path d="M1608.2 2240.8L1629.1 2262.5L1629.1 2314.8L1608.2 2293Z" fill="#fff" stroke="#BEBEBE"/>
<path d="M1608.2 2253.8L1629.1 2275.6M1608.2 2266.9L1629.1 2288.7M1608.2 2280L1629.1 2301.7" stroke="#BEBEBE"/>
</g>
<g fill="none" stroke-width="1.2">
<path d="M940.8 2292L876.1 2311.6L876.1 2334.3L940.8 2314.7Z" fill="#fff"/>
<path d="M940.8 2292L876.1 2311.6M940.8 2314.7L876.1 2334.3M940.8 2292L940.8 2314.7M876.1 2311.6L876.1 2334.3M940.8 2303.4L876.1 2323" stroke="#BEBEBE"/>
<path d="M876.1 2311.6L871 2307.7L871 2330.4L876.1 2334.3Z" fill="#fff"/>
<path d="M876.1 2311.6L871 2307.7M876.1 2334.3L871 2330.4M876.1 2311.6L876.1 2334.3M871 2307.7L871 2330.4M876.1 2323L871 2319" stroke="#BEBEBE"/>
<path d="M871 2307.7L821.2 2335.9L821.2 2358.6L871 2330.4Z" fill="#fff"/>
<path d="M871 2307.7L821.2 2335.9M871 2330.4L821.2 2358.6M871 2307.7L871 2330.4M821.2 2335.9L821.2 2358.6M871 2319L821.2 2347.3" stroke="#BEBEBE"/>
<path d="M821.2 2335.9L766.3 2297.9L766.3 2320.6L821.2 2358.6Z" fill="#fff"/>
<path d="M821.2 2335.9L766.3 2297.9M821.2 2358.6L766.3 2320.6M821.2 2335.9L821.2 2358.6M766.3 2297.9L766.3 2320.6M821.2 2347.3L766.3 2309.2" stroke="#BEBEBE"/>
<path d="M766.3 2297.9L821.2 2271.6L826.3 2275.1L871 2252.8L871 2247.3L921.2 2223.8L940.8 2292L876.1 2311.6L871 2307.7L821.2 2335.9Z" fill="#fff" fill-rule="evenodd" stroke="#BEBEBE"/>
</g>
<g fill="none" stroke-width="1.2">
<path d="M404.5 2248.9L397.9 2251.6L397.9 2274.3L404.5 2271.6Z" fill="#fff"/>
<path d="M404.5 2248.9L397.9 2251.6M404.5 2271.6L397.9 2274.3M404.5 2248.9L404.5 2271.6M397.9 2251.6L397.9 2274.3M404.5 2260.2L397.9 2263" stroke="#BEBEBE"/>
<path d="M343.8 2277.1L337.9 2280.2L337.9 2303L343.8 2299.8Z" fill="#fff"/>
<path d="M343.8 2277.1L337.9 2280.2M343.8 2299.8L337.9 2303M343.8 2277.1L343.8 2299.8M337.9 2280.2L337.9 2303M343.8 2288.5L337.9 2291.6" stroke="#BEBEBE"/>
<path d="M337.9 2280.2L296 2250.8L296 2273.6L337.9 2303Z" fill="#fff"/>
<path d="M337.9 2280.2L296 2250.8M337.9 2303L296 2273.6M337.9 2280.2L337.9 2303M296 2250.8L296 2273.6M337.9 2291.6L296 2262.2" stroke="#BEBEBE"/>
<path d="M384.1 2304.9L343.8 2277.1L343.8 2299.8L384.1 2327.7Z" fill="#fff"/>
<path d="M384.1 2304.9L343.8 2277.1M384.1 2327.7L343.8 2299.8M384.1 2304.9L384.1 2327.7M343.8 2277.1L343.8 2299.8M384.1 2316.3L343.8 2288.5" stroke="#BEBEBE"/>
<path d="M490 2308.5L423.3 2339L423.3 2361.8L490 2331.2Z" fill="#fff"/>
<path d="M490 2308.5L423.3 2339M490 2331.2L423.3 2361.8M490 2308.5L490 2331.2M423.3 2339L423.3 2361.8M490 2319.8L423.3 2350.4" stroke="#BEBEBE"/>
<path d="M423.3 2339L378.3 2307.7L378.3 2330.4L423.3 2361.8Z" fill="#fff"/>
<path d="M423.3 2339L378.3 2307.7M423.3 2361.8L378.3 2330.4M423.3 2339L423.3 2361.8M378.3 2307.7L378.3 2330.4M423.3 2350.4L378.3 2319" stroke="#BEBEBE"/>
<path d="M296 2250.8L362.6 2218.7L404.5 2248.9L397.9 2251.6L438.2 2280.2L444.1 2277.1L490 2308.5L423.3 2339L378.3 2307.7L384.1 2304.9L343.8 2277.1L337.9 2280.2Z" fill="#fff" fill-rule="evenodd" stroke="#BEBEBE"/>
</g>
<g fill="none" stroke-width="1.2">
<path d="M673 2305.7L666.4 2308.5L666.4 2331.2L673 2328.4Z" fill="#fff"/>
<path d="M673 2305.7L666.4 2308.5M673 2328.4L666.4 2331.2M673 2305.7L673 2328.4M666.4 2308.5L666.4 2331.2M673 2317.1L666.4 2319.8" stroke="#BEBEBE"/>
<path d="M612.3 2333.9L606.4 2337.1L606.4 2359.8L612.3 2356.7Z" fill="#fff"/>
<path d="M612.3 2333.9L606.4 2337.1M612.3 2356.7L606.4 2359.8M612.3 2333.9L612.3 2356.7M606.4 2337.1L606.4 2359.8M612.3 2345.3L606.4 2348.4" stroke="#BEBEBE"/>
<path d="M606.4 2337.1L564.5 2307.7L564.5 2330.4L606.4 2359.8Z" fill="#fff"/>
<path d="M606.4 2337.1L564.5 2307.7M606.4 2359.8L564.5 2330.4M606.4 2337.1L606.4 2359.8M564.5 2307.7L564.5 2330.4M606.4 2348.4L564.5 2319" stroke="#BEBEBE"/>
<path d="M652.7 2361.8L612.3 2333.9L612.3 2356.7L652.7 2384.5Z" fill="#fff"/>
<path d="M652.7 2361.8L612.3 2333.9M652.7 2384.5L612.3 2356.7M652.7 2361.8L652.7 2384.5M612.3 2333.9L612.3 2356.7M652.7 2373.1L612.3 2345.3" stroke="#BEBEBE"/>
<path d="M758.5 2365.3L691.9 2395.9L691.9 2418.6L758.5 2388Z" fill="#fff"/>
<path d="M758.5 2365.3L691.9 2395.9M758.5 2388L691.9 2418.6M758.5 2365.3L758.5 2388M691.9 2395.9L691.9 2418.6M758.5 2376.7L691.9 2407.2" stroke="#BEBEBE"/>
<path d="M691.9 2395.9L646.8 2364.5L646.8 2387.2L691.9 2418.6Z" fill="#fff"/>
<path d="M691.9 2395.9L646.8 2364.5M691.9 2418.6L646.8 2387.2M691.9 2395.9L691.9 2418.6M646.8 2364.5L646.8 2387.2M691.9 2407.2L646.8 2375.9" stroke="#BEBEBE"/>
<path d="M564.5 2307.7L631.1 2275.5L673 2305.7L666.4 2308.5L706.8 2337.1L712.6 2333.9L758.5 2365.3L691.9 2395.9L646.8 2364.5L652.7 2361.8L612.3 2333.9L606.4 2337.1Z" fill="#fff" fill-rule="evenodd" stroke="#BEBEBE"/>
</g>
<g fill="none" stroke-width="1.2">
<path d="M1248 2370.6L1194.5 2385.8L1194.5 2445.9L1248 2430.7Z" fill="#fff"/>
<path d="M1248 2370.6L1194.5 2385.8M1248 2430.7L1194.5 2445.9M1248 2370.6L1248 2430.7M1194.5 2385.8L1194.5 2445.9M1248 2382.6L1194.5 2397.8M1248 2394.6L1194.5 2409.8M1248 2406.6L1194.5 2421.9M1248 2418.6L1194.5 2433.9" stroke="#BEBEBE"/>
<path d="M1194.5 2385.8L1131.7 2316.1L1131.7 2376.2L1194.5 2445.9Z" fill="#fff"/>
<path d="M1194.5 2385.8L1131.7 2316.1M1194.5 2445.9L1131.7 2376.2M1194.5 2385.8L1194.5 2445.9M1131.7 2316.1L1131.7 2376.2M1194.5 2397.8L1131.7 2328.1M1194.5 2409.8L1131.7 2340.2M1194.5 2421.9L1131.7 2352.2M1194.5 2433.9L1131.7 2364.2" stroke="#BEBEBE"/>
<path d="M1131.7 2316.1L1181.8 2298.7L1248 2370.6L1194.5 2385.8Z" fill="#fff" fill-rule="evenodd" stroke="#BEBEBE"/>
</g>
<g fill="none" stroke-width="1.2">
<path d="M952.9 2375.5L839.6 2433.1L839.6 2455.8L952.9 2398.2Z" fill="#fff"/>
<path d="M952.9 2375.5L839.6 2433.1M952.9 2398.2L839.6 2455.8M952.9 2375.5L952.9 2398.2M839.6 2433.1L839.6 2455.8M952.9 2386.8L839.6 2444.5" stroke="#BEBEBE"/>
<path d="M839.6 2433.1L810.6 2409.2L810.6 2431.9L839.6 2455.8Z" fill="#fff"/>
<path d="M839.6 2433.1L810.6 2409.2M839.6 2455.8L810.6 2431.9M839.6 2433.1L839.6 2455.8M810.6 2409.2L810.6 2431.9M839.6 2444.5L810.6 2420.6" stroke="#BEBEBE"/>
<path d="M810.6 2409.2L924.3 2355.1L952.9 2375.5L839.6 2433.1Z" fill="#fff" fill-rule="evenodd" stroke="#BEBEBE"/>
</g>
<g fill="none" stroke-width="1.2">
<path d="M2390 2237.1L1821.6 2395.9L1821.6 2456.6L2390 2297.9Z" fill="#fff"/>
<path d="M2390 2237.1L1821.6 2395.9M2390 2297.9L1821.6 2456.6M2390 2237.1L2390 2297.9M1821.6 2395.9L1821.6 2456.6M2390 2249.3L1821.6 2408M2390 2261.4L1821.6 2420.2M2390 2273.6L1821.6 2432.3M2390 2285.7L1821.6 2444.5" stroke="#BEBEBE"/>
<path d="M1821.6 2370.4L2362.5 2207.7L2390 2237.1L1821.6 2395.9Z" fill="#fff" fill-rule="evenodd" stroke="#BEBEBE"/>
</g>
<g fill="none" stroke-width="1.2">
<path d="M1907.9 2370.6L1847.8 2396.7L1847.8 2462L1907.9 2435.9Z" fill="#fff"/>
<path d="M1907.9 2370.6L1847.8 2396.7M1907.9 2435.9L1847.8 2462M1907.9 2370.6L1907.9 2435.9M1847.8 2396.7L1847.8 2462M1907.9 2383.6L1847.8 2409.8M1907.9 2396.7L1847.8 2422.8M1907.9 2409.8L1847.8 2435.9M1907.9 2422.8L1847.8 2449" stroke="#BEBEBE"/>
<path d="M1847.8 2396.7L1820.8 2371.4L1820.8 2436.8L1847.8 2462Z" fill="#fff"/>
<path d="M1847.8 2396.7L1820.8 2371.4M1847.8 2462L1820.8 2436.8M1847.8 2396.7L1847.8 2462M1820.8 2371.4L1820.8 2436.8M1847.8 2409.8L1820.8 2384.5M1847.8 2422.8L1820.8 2397.6M1847.8 2435.9L1820.8 2410.6M1847.8 2449L1820.8 2423.7" stroke="#BEBEBE"/>
<path d="M1820.8 2371.4L1880 2344.4L1907.9 2370.6L1847.8 2396.7Z" fill="#fff" fill-rule="evenodd" stroke="#BEBEBE"/>
</g>
<g fill="none" stroke-width="1.2">
<path d="M1681.4 2320.5L1336.4 2423.7L1336.4 2485.5L1681.4 2382.3Z" fill="#fff"/>
<path d="M1681.4 2320.5L1336.4 2423.7M1681.4 2382.3L1336.4 2485.5M1681.4 2320.5L1681.4 2382.3M1336.4 2423.7L1336.4 2485.5M1681.4 2332.8L1336.4 2436.1M1681.4 2345.2L1336.4 2448.4M1681.4 2357.6L1336.4 2460.8M1681.4 2369.9L1336.4 2473.2" stroke="#BEBEBE"/>
<path d="M1336.4 2423.7L1312.1 2395.8L1312.1 2457.7L1336.4 2485.5Z" fill="#fff"/>
<path d="M1336.4 2423.7L1312.1 2395.8M1336.4 2485.5L1312.1 2457.7M1336.4 2423.7L1336.4 2485.5M1312.1 2395.8L1312.1 2457.7M1336.4 2436.1L1312.1 2408.2M1336.4 2448.4L1312.1 2420.6M1336.4 2460.8L1312.1 2432.9M1336.4 2473.2L1312.1 2445.3" stroke="#BEBEBE"/>
<path d="M1312.1 2395.8L1655.3 2292.2L1681.4 2320.5L1336.4 2423.7Z" fill="#fff" fill-rule="evenodd" stroke="#BEBEBE"/>
</g>
<g fill="none" stroke-width="0.9">
<path d="M519.9 859.7L506.2 850.3L506.2 989.3L519.9 998.7Z" fill="#CACACA"/>
<path d="M519.9 859.7L506.2 850.3M519.9 998.7L506.2 989.3M519.9 859.7L519.9 998.7M506.2 850.3L506.2 989.3M519.9 870.4L506.2 861M519.9 881.1L506.2 871.7M519.9 891.8L506.2 882.4M519.9 902.5L506.2 893.1M519.9 913.2L506.2 903.8M519.9 923.9L506.2 914.5M519.9 934.5L506.2 925.2M519.9 945.2L506.2 935.9M519.9 955.9L506.2 946.6M519.9 966.6L506.2 957.2M519.9 977.3L506.2 967.9M519.9 988L506.2 978.6" stroke="#8E8E8E"/>
<path d="M474 884.9L473.5 885.1L473.5 1024.1L474 1023.9Z" fill="#CACACA"/>
<path d="M474 884.9L473.5 885.1M474 1023.9L473.5 1024.1M474 884.9L474 1023.9M473.5 885.1L473.5 1024.1M474 895.6L473.5 895.8M474 906.3L473.5 906.5M474 917L473.5 917.2M474 927.7L473.5 927.9M474 938.4L473.5 938.6M474 949L473.5 949.3M474 959.7L473.5 960M474 970.4L473.5 970.7M474 981.1L473.5 981.4M474 991.8L473.5 992.1M474 1002.5L473.5 1002.8M474 1013.2L473.5 1013.4" stroke="#8E8E8E"/>
<path d="M473.5 885.1L457.1 873.9L457.1 1012.9L473.5 1024.1Z" fill="#CACACA"/>
<path d="M473.5 885.1L457.1 873.9M473.5 1024.1L457.1 1012.9M473.5 885.1L473.5 1024.1M457.1 873.9L457.1 1012.9M473.5 895.8L457.1 884.6M473.5 906.5L457.1 895.3M473.5 917.2L457.1 906M473.5 927.9L457.1 916.7M473.5 938.6L457.1 927.4M473.5 949.3L457.1 938.1M473.5 960L457.1 948.7M473.5 970.7L457.1 959.4M473.5 981.4L457.1 970.1M473.5 992.1L457.1 980.8M473.5 1002.8L457.1 991.5M473.5 1013.4L457.1 1002.2" stroke="#8E8E8E"/>
<path d="M614.1 882.7L602.5 888.1L602.5 1027.1L614.1 1021.7Z" fill="#CACACA"/>
<path d="M614.1 882.7L602.5 888.1M614.1 1021.7L602.5 1027.1M614.1 882.7L614.1 1021.7M602.5 888.1L602.5 1027.1M614.1 893.4L602.5 898.8M614.1 904.1L602.5 909.5M614.1 914.8L602.5 920.2M614.1 925.5L602.5 930.9M614.1 936.1L602.5 941.6M614.1 946.8L602.5 952.3M614.1 957.5L602.5 963M614.1 968.2L602.5 973.7M614.1 978.9L602.5 984.3M614.1 989.6L602.5 995M614.1 1000.3L602.5 1005.7M614.1 1011L602.5 1016.4" stroke="#8E8E8E"/>
<path d="M606.1 890.5L587.9 899.1L587.9 1038.1L606.1 1029.5Z" fill="#CACACA"/>
<path d="M606.1 890.5L587.9 899.1M606.1 1029.5L587.9 1038.1M606.1 890.5L606.1 1029.5M606.1 901.2L587.9 909.7M606.1 911.9L587.9 920.4M606.1 922.6L587.9 931.1M606.1 933.3L587.9 941.8M606.1 944L587.9 952.5M606.1 954.7L587.9 963.2M606.1 965.4L587.9 973.9M606.1 976.1L587.9 984.6M606.1 986.8L587.9 995.3M606.1 997.5L587.9 1006M606.1 1008.2L587.9 1016.7M606.1 1018.8L587.9 1027.4" stroke="#8E8E8E"/>
<path d="M587.9 899.1L568.5 908.2L568.5 1047.2L587.9 1038.1Z" fill="#CACACA"/>
<path d="M587.9 899.1L568.5 908.2M587.9 1038.1L568.5 1047.2M568.5 908.2L568.5 1047.2M587.9 909.7L568.5 918.9M587.9 920.4L568.5 929.6M587.9 931.1L568.5 940.3M587.9 941.8L568.5 950.9M587.9 952.5L568.5 961.6M587.9 963.2L568.5 972.3M587.9 973.9L568.5 983M587.9 984.6L568.5 993.7M587.9 995.3L568.5 1004.4M587.9 1006L568.5 1015.1M587.9 1016.7L568.5 1025.8M587.9 1027.4L568.5 1036.5" stroke="#8E8E8E"/>
<path d="M523.7 914L519.4 916L519.4 1055L523.7 1053Z" fill="#CACACA"/>
<path d="M523.7 914L519.4 916M523.7 1053L519.4 1055M523.7 914L523.7 1053M519.4 916L519.4 1055M523.7 924.7L519.4 926.7M523.7 935.4L519.4 937.4M523.7 946.1L519.4 948.1M523.7 956.7L519.4 958.8M523.7 967.4L519.4 969.5M523.7 978.1L519.4 980.1M523.7 988.8L519.4 990.8M523.7 999.5L519.4 1001.5M523.7 1010.2L519.4 1012.2M523.7 1020.9L519.4 1022.9M523.7 1031.6L519.4 1033.6M523.7 1042.3L519.4 1044.3" stroke="#8E8E8E"/>
<path d="M519.4 916L474 884.9L474 1023.9L519.4 1055Z" fill="#CACACA"/>
<path d="M519.4 916L474 884.9M519.4 1055L474 1023.9M519.4 916L519.4 1055M474 884.9L474 1023.9M519.4 926.7L474 895.6M519.4 937.4L474 906.3M519.4 948.1L474 917M519.4 958.8L474 927.7M519.4 969.5L474 938.4M519.4 980.1L474 949M519.4 990.8L474 959.7M519.4 1001.5L474 970.4M519.4 1012.2L474 981.1M519.4 1022.9L474 991.8M519.4 1033.6L474 1002.5M519.4 1044.3L474 1013.2" stroke="#8E8E8E"/>
<path d="M572.5 910.9L555.3 918.9L555.3 1057.9L572.5 1049.9Z" fill="#CACACA"/>
<path d="M572.5 910.9L555.3 918.9M572.5 1049.9L555.3 1057.9M572.5 910.9L572.5 1049.9M555.3 918.9L555.3 1057.9M572.5 921.6L555.3 929.6M572.5 932.3L555.3 940.3M572.5 943L555.3 951M572.5 953.6L555.3 961.7M572.5 964.3L555.3 972.4M572.5 975L555.3 983.1M572.5 985.7L555.3 993.8M572.5 996.4L555.3 1004.5M572.5 1007.1L555.3 1015.2M572.5 1017.8L555.3 1025.9M572.5 1028.5L555.3 1036.6M572.5 1039.2L555.3 1047.3" stroke="#8E8E8E"/>
<path d="M555.3 918.9L549.8 915.2L549.8 1054.2L555.3 1057.9Z" fill="#CACACA"/>
<path d="M555.3 918.9L549.8 915.2M555.3 1057.9L549.8 1054.2M555.3 918.9L555.3 1057.9M549.8 915.2L549.8 1054.2M555.3 929.6L549.8 925.9M555.3 940.3L549.8 936.6M555.3 951L549.8 947.3M555.3 961.7L549.8 958M555.3 972.4L549.8 968.7M555.3 983.1L549.8 979.3M555.3 993.8L549.8 990M555.3 1004.5L549.8 1000.7M555.3 1015.2L549.8 1011.4M555.3 1025.9L549.8 1022.1M555.3 1036.6L549.8 1032.8M555.3 1047.3L549.8 1043.5" stroke="#8E8E8E"/>
<path d="M549.8 915.2L535.4 922L535.4 1061L549.8 1054.2Z" fill="#CACACA"/>
<path d="M549.8 915.2L535.4 922M549.8 1054.2L535.4 1061M549.8 915.2L549.8 1054.2M535.4 922L535.4 1061M549.8 925.9L535.4 932.7M549.8 936.6L535.4 943.4M549.8 947.3L535.4 954.1M549.8 958L535.4 964.7M549.8 968.7L535.4 975.4M549.8 979.3L535.4 986.1M549.8 990L535.4 996.8M549.8 1000.7L535.4 1007.5M549.8 1011.4L535.4 1018.2M549.8 1022.1L535.4 1028.9M549.8 1032.8L535.4 1039.6M549.8 1043.5L535.4 1050.3" stroke="#8E8E8E"/>
<path d="M535.4 922L523.7 914L523.7 1053L535.4 1061Z" fill="#CACACA"/>
<path d="M535.4 922L523.7 914M535.4 1061L523.7 1053M535.4 922L535.4 1061M523.7 914L523.7 1053M535.4 932.7L523.7 924.7M535.4 943.4L523.7 935.4M535.4 954.1L523.7 946.1M535.4 964.7L523.7 956.7M535.4 975.4L523.7 967.4M535.4 986.1L523.7 978.1M535.4 996.8L523.7 988.8M535.4 1007.5L523.7 999.5M535.4 1018.2L523.7 1010.2M535.4 1028.9L523.7 1020.9M535.4 1039.6L523.7 1031.6M535.4 1050.3L523.7 1042.3" stroke="#8E8E8E"/>
<path d="M457.1 873.9L488.7 859L502 868.1L519.9 859.7L506.2 850.3L537.9 835.4L550.9 844.4L555.2 842.3L614.1 882.7L602.5 888.1L606.1 890.5L587.9 899.1L568.5 908.2L572.5 910.9L555.3 918.9L549.8 915.2L535.4 922L523.7 914L519.4 916L474 884.9L473.5 885.1Z" fill="#CACACA" fill-rule="evenodd" stroke="#8E8E8E"/>
</g>
<g fill="none" stroke-width="0.9">
<path d="M122.4 927.6L108.7 918.2L108.7 1054.2L122.4 1063.6Z" fill="#CACACA"/>
<path d="M122.4 927.6L108.7 918.2M122.4 1063.6L108.7 1054.2M122.4 927.6L122.4 1063.6M108.7 918.2L108.7 1054.2M122.4 938.1L108.7 928.7M122.4 948.5L108.7 939.1M122.4 959L108.7 949.6M122.4 969.4L108.7 960.1M122.4 979.9L108.7 970.5M122.4 990.4L108.7 981M122.4 1000.8L108.7 991.5M122.4 1011.3L108.7 1001.9M122.4 1021.8L108.7 1012.4M122.4 1032.2L108.7 1022.8M122.4 1042.7L108.7 1033.3M122.4 1053.1L108.7 1043.8" stroke="#8E8E8E"/>
<path d="M76.5 952.8L76 953L76 1089L76.5 1088.8Z" fill="#CACACA"/>
<path d="M76.5 952.8L76 953M76.5 1088.8L76 1089M76.5 952.8L76.5 1088.8M76 953L76 1089M76.5 963.3L76 963.5M76.5 973.7L76 974M76.5 984.2L76 984.4M76.5 994.6L76 994.9M76.5 1005.1L76 1005.3M76.5 1015.6L76 1015.8M76.5 1026L76 1026.3M76.5 1036.5L76 1036.7M76.5 1046.9L76 1047.2M76.5 1057.4L76 1057.7M76.5 1067.9L76 1068.1M76.5 1078.3L76 1078.6" stroke="#8E8E8E"/>
<path d="M76 953L59.6 941.8L59.6 1077.8L76 1089Z" fill="#CACACA"/>
<path d="M76 953L59.6 941.8M76 1089L59.6 1077.8M76 953L76 1089M59.6 941.8L59.6 1077.8M76 963.5L59.6 952.3M76 974L59.6 962.7M76 984.4L59.6 973.2M76 994.9L59.6 983.6M76 1005.3L59.6 994.1M76 1015.8L59.6 1004.6M76 1026.3L59.6 1015M76 1036.7L59.6 1025.5M76 1047.2L59.6 1036M76 1057.7L59.6 1046.4M76 1068.1L59.6 1056.9M76 1078.6L59.6 1067.3" stroke="#8E8E8E"/>
<path d="M216.6 950.6L205 956L205 1092L216.6 1086.6Z" fill="#CACACA"/>
<path d="M216.6 950.6L205 956M216.6 1086.6L205 1092M216.6 950.6L216.6 1086.6M205 956L205 1092M216.6 961L205 966.5M216.6 971.5L205 976.9M216.6 982L205 987.4M216.6 992.4L205 997.9M216.6 1002.9L205 1008.3M216.6 1013.4L205 1018.8M216.6 1023.8L205 1029.2M216.6 1034.3L205 1039.7M216.6 1044.7L205 1050.2M216.6 1055.2L205 1060.6M216.6 1065.7L205 1071.1M216.6 1076.1L205 1081.6" stroke="#8E8E8E"/>
<path d="M208.6 958.4L190.4 967L190.4 1103L208.6 1094.4Z" fill="#CACACA"/>
<path d="M208.6 958.4L190.4 967M208.6 1094.4L190.4 1103M208.6 958.4L208.6 1094.4M208.6 968.9L190.4 977.4M208.6 979.4L190.4 987.9M208.6 989.8L190.4 998.3M208.6 1000.3L190.4 1008.8M208.6 1010.7L190.4 1019.3M208.6 1021.2L190.4 1029.7M208.6 1031.7L190.4 1040.2M208.6 1042.1L190.4 1050.6M208.6 1052.6L190.4 1061.1M208.6 1063.1L190.4 1071.6M208.6 1073.5L190.4 1082M208.6 1084L190.4 1092.5" stroke="#8E8E8E"/>
<path d="M190.4 967L171 976.1L171 1112.1L190.4 1103Z" fill="#CACACA"/>
<path d="M190.4 967L171 976.1M190.4 1103L171 1112.1M171 976.1L171 1112.1M190.4 977.4L171 986.5M190.4 987.9L171 997M190.4 998.3L171 1007.5M190.4 1008.8L171 1017.9M190.4 1019.3L171 1028.4M190.4 1029.7L171 1038.8M190.4 1040.2L171 1049.3M190.4 1050.6L171 1059.8M190.4 1061.1L171 1070.2M190.4 1071.6L171 1080.7M190.4 1082L171 1091.2M190.4 1092.5L171 1101.6" stroke="#8E8E8E"/>
<path d="M126.2 981.9L121.9 983.9L121.9 1119.9L126.2 1117.9Z" fill="#CACACA"/>
<path d="M126.2 981.9L121.9 983.9M126.2 1117.9L121.9 1119.9M126.2 981.9L126.2 1117.9M121.9 983.9L121.9 1119.9M126.2 992.3L121.9 994.4M126.2 1002.8L121.9 1004.8M126.2 1013.3L121.9 1015.3M126.2 1023.7L121.9 1025.7M126.2 1034.2L121.9 1036.2M126.2 1044.6L121.9 1046.7M126.2 1055.1L121.9 1057.1M126.2 1065.6L121.9 1067.6M126.2 1076L121.9 1078M126.2 1086.5L121.9 1088.5M126.2 1097L121.9 1099M126.2 1107.4L121.9 1109.4" stroke="#8E8E8E"/>
<path d="M121.9 983.9L76.5 952.8L76.5 1088.8L121.9 1119.9Z" fill="#CACACA"/>
<path d="M121.9 983.9L76.5 952.8M121.9 1119.9L76.5 1088.8M121.9 983.9L121.9 1119.9M76.5 952.8L76.5 1088.8M121.9 994.4L76.5 963.3M121.9 1004.8L76.5 973.7M121.9 1015.3L76.5 984.2M121.9 1025.7L76.5 994.6M121.9 1036.2L76.5 1005.1M121.9 1046.7L76.5 1015.6M121.9 1057.1L76.5 1026M121.9 1067.6L76.5 1036.5M121.9 1078L76.5 1046.9M121.9 1088.5L76.5 1057.4M121.9 1099L76.5 1067.9M121.9 1109.4L76.5 1078.3" stroke="#8E8E8E"/>
<path d="M175 978.8L157.8 986.8L157.8 1122.8L175 1114.8Z" fill="#CACACA"/>
<path d="M175 978.8L157.8 986.8M175 1114.8L157.8 1122.8M175 978.8L175 1114.8M157.8 986.8L157.8 1122.8M175 989.2L157.8 997.3M175 999.7L157.8 1007.8M175 1010.2L157.8 1018.2M175 1020.6L157.8 1028.7M175 1031.1L157.8 1039.2M175 1041.5L157.8 1049.6M175 1052L157.8 1060.1M175 1062.5L157.8 1070.5M175 1072.9L157.8 1081M175 1083.4L157.8 1091.5M175 1093.9L157.8 1101.9M175 1104.3L157.8 1112.4" stroke="#8E8E8E"/>
<path d="M157.8 986.8L152.3 983.1L152.3 1119.1L157.8 1122.8Z" fill="#CACACA"/>
<path d="M157.8 986.8L152.3 983.1M157.8 1122.8L152.3 1119.1M157.8 986.8L157.8 1122.8M152.3 983.1L152.3 1119.1M157.8 997.3L152.3 993.6M157.8 1007.8L152.3 1004M157.8 1018.2L152.3 1014.5M157.8 1028.7L152.3 1024.9M157.8 1039.2L152.3 1035.4M157.8 1049.6L152.3 1045.9M157.8 1060.1L152.3 1056.3M157.8 1070.5L152.3 1066.8M157.8 1081L152.3 1077.2M157.8 1091.5L152.3 1087.7M157.8 1101.9L152.3 1098.2M157.8 1112.4L152.3 1108.6" stroke="#8E8E8E"/>
<path d="M152.3 983.1L137.9 989.9L137.9 1125.9L152.3 1119.1Z" fill="#CACACA"/>
<path d="M152.3 983.1L137.9 989.9M152.3 1119.1L137.9 1125.9M152.3 983.1L152.3 1119.1M137.9 989.9L137.9 1125.9M152.3 993.6L137.9 1000.3M152.3 1004L137.9 1010.8M152.3 1014.5L137.9 1021.3M152.3 1024.9L137.9 1031.7M152.3 1035.4L137.9 1042.2M152.3 1045.9L137.9 1052.6M152.3 1056.3L137.9 1063.1M152.3 1066.8L137.9 1073.6M152.3 1077.2L137.9 1084M152.3 1087.7L137.9 1094.5M152.3 1098.2L137.9 1105M152.3 1108.6L137.9 1115.4" stroke="#8E8E8E"/>
<path d="M137.9 989.9L126.2 981.9L126.2 1117.9L137.9 1125.9Z" fill="#CACACA"/>
<path d="M137.9 989.9L126.2 981.9M137.9 1125.9L126.2 1117.9M137.9 989.9L137.9 1125.9M126.2 981.9L126.2 1117.9M137.9 1000.3L126.2 992.3M137.9 1010.8L126.2 1002.8M137.9 1021.3L126.2 1013.3M137.9 1031.7L126.2 1023.7M137.9 1042.2L126.2 1034.2M137.9 1052.6L126.2 1044.6M137.9 1063.1L126.2 1055.1M137.9 1073.6L126.2 1065.6M137.9 1084L126.2 1076M137.9 1094.5L126.2 1086.5M137.9 1105L126.2 1097M137.9 1115.4L126.2 1107.4" stroke="#8E8E8E"/>
<path d="M59.6 941.8L91.2 926.9L104.5 936L122.4 927.6L108.7 918.2L140.4 903.3L153.4 912.3L157.7 910.2L216.6 950.6L205 956L208.6 958.4L190.4 967L171 976.1L175 978.8L157.8 986.8L152.3 983.1L137.9 989.9L126.2 981.9L121.9 983.9L76.5 952.8L76 953Z" fill="#CACACA" fill-rule="evenodd" stroke="#8E8E8E"/>
</g>
<g fill="none" stroke-width="0.9">
<path d="M280.3 931.9L266.6 922.5L266.6 1058.5L280.3 1067.9Z" fill="#CACACA"/>
<path d="M280.3 931.9L266.6 922.5M280.3 1067.9L266.6 1058.5M280.3 931.9L280.3 1067.9M266.6 922.5L266.6 1058.5M280.3 942.4L266.6 933M280.3 952.8L266.6 943.4M280.3 963.3L266.6 953.9M280.3 973.7L266.6 964.4M280.3 984.2L266.6 974.8M280.3 994.7L266.6 985.3M280.3 1005.1L266.6 995.8M280.3 1015.6L266.6 1006.2M280.3 1026.1L266.6 1016.7M280.3 1036.5L266.6 1027.1M280.3 1047L266.6 1037.6M280.3 1057.4L266.6 1048.1" stroke="#8E8E8E"/>
<path d="M234.4 957.1L233.9 957.3L233.9 1093.3L234.4 1093.1Z" fill="#CACACA"/>
<path d="M234.4 957.1L233.9 957.3M234.4 1093.1L233.9 1093.3M234.4 957.1L234.4 1093.1M233.9 957.3L233.9 1093.3M234.4 967.6L233.9 967.8M234.4 978L233.9 978.3M234.4 988.5L233.9 988.7M234.4 998.9L233.9 999.2M234.4 1009.4L233.9 1009.6M234.4 1019.9L233.9 1020.1M234.4 1030.3L233.9 1030.6M234.4 1040.8L233.9 1041M234.4 1051.2L233.9 1051.5M234.4 1061.7L233.9 1062M234.4 1072.2L233.9 1072.4M234.4 1082.6L233.9 1082.9" stroke="#8E8E8E"/>
<path d="M233.9 957.3L217.5 946.1L217.5 1082.1L233.9 1093.3Z" fill="#CACACA"/>
<path d="M233.9 957.3L217.5 946.1M233.9 1093.3L217.5 1082.1M233.9 957.3L233.9 1093.3M217.5 946.1L217.5 1082.1M233.9 967.8L217.5 956.6M233.9 978.3L217.5 967M233.9 988.7L217.5 977.5M233.9 999.2L217.5 987.9M233.9 1009.6L217.5 998.4M233.9 1020.1L217.5 1008.9M233.9 1030.6L217.5 1019.3M233.9 1041L217.5 1029.8M233.9 1051.5L217.5 1040.3M233.9 1062L217.5 1050.7M233.9 1072.4L217.5 1061.2M233.9 1082.9L217.5 1071.6" stroke="#8E8E8E"/>
<path d="M374.5 954.9L362.9 960.3L362.9 1096.3L374.5 1090.9Z" fill="#CACACA"/>
<path d="M374.5 954.9L362.9 960.3M374.5 1090.9L362.9 1096.3M374.5 954.9L374.5 1090.9M362.9 960.3L362.9 1096.3M374.5 965.3L362.9 970.8M374.5 975.8L362.9 981.2M374.5 986.3L362.9 991.7M374.5 996.7L362.9 1002.2M374.5 1007.2L362.9 1012.6M374.5 1017.7L362.9 1023.1M374.5 1028.1L362.9 1033.5M374.5 1038.6L362.9 1044M374.5 1049L362.9 1054.5M374.5 1059.5L362.9 1064.9M374.5 1070L362.9 1075.4M374.5 1080.4L362.9 1085.9" stroke="#8E8E8E"/>
<path d="M366.5 962.7L348.3 971.3L348.3 1107.3L366.5 1098.7Z" fill="#CACACA"/>
<path d="M366.5 962.7L348.3 971.3M366.5 1098.7L348.3 1107.3M366.5 962.7L366.5 1098.7M366.5 973.2L348.3 981.7M366.5 983.7L348.3 992.2M366.5 994.1L348.3 1002.6M366.5 1004.6L348.3 1013.1M366.5 1015L348.3 1023.6M366.5 1025.5L348.3 1034M366.5 1036L348.3 1044.5M366.5 1046.4L348.3 1054.9M366.5 1056.9L348.3 1065.4M366.5 1067.4L348.3 1075.9M366.5 1077.8L348.3 1086.3M366.5 1088.3L348.3 1096.8" stroke="#8E8E8E"/>
<path d="M348.3 971.3L328.9 980.4L328.9 1116.4L348.3 1107.3Z" fill="#CACACA"/>
<path d="M348.3 971.3L328.9 980.4M348.3 1107.3L328.9 1116.4M328.9 980.4L328.9 1116.4M348.3 981.7L328.9 990.8M348.3 992.2L328.9 1001.3M348.3 1002.6L328.9 1011.8M348.3 1013.1L328.9 1022.2M348.3 1023.6L328.9 1032.7M348.3 1034L328.9 1043.1M348.3 1044.5L328.9 1053.6M348.3 1054.9L328.9 1064.1M348.3 1065.4L328.9 1074.5M348.3 1075.9L328.9 1085M348.3 1086.3L328.9 1095.5M348.3 1096.8L328.9 1105.9" stroke="#8E8E8E"/>
<path d="M284.1 986.2L279.8 988.2L279.8 1124.2L284.1 1122.2Z" fill="#CACACA"/>
<path d="M284.1 986.2L279.8 988.2M284.1 1122.2L279.8 1124.2M284.1 986.2L284.1 1122.2M279.8 988.2L279.8 1124.2M284.1 996.6L279.8 998.7M284.1 1007.1L279.8 1009.1M284.1 1017.6L279.8 1019.6M284.1 1028L279.8 1030M284.1 1038.5L279.8 1040.5M284.1 1048.9L279.8 1051M284.1 1059.4L279.8 1061.4M284.1 1069.9L279.8 1071.9M284.1 1080.3L279.8 1082.3M284.1 1090.8L279.8 1092.8M284.1 1101.3L279.8 1103.3M284.1 1111.7L279.8 1113.7" stroke="#8E8E8E"/>
<path d="M279.8 988.2L234.4 957.1L234.4 1093.1L279.8 1124.2Z" fill="#CACACA"/>
<path d="M279.8 988.2L234.4 957.1M279.8 1124.2L234.4 1093.1M279.8 988.2L279.8 1124.2M234.4 957.1L234.4 1093.1M279.8 998.7L234.4 967.6M279.8 1009.1L234.4 978M279.8 1019.6L234.4 988.5M279.8 1030L234.4 998.9M279.8 1040.5L234.4 1009.4M279.8 1051L234.4 1019.9M279.8 1061.4L234.4 1030.3M279.8 1071.9L234.4 1040.8M279.8 1082.3L234.4 1051.2M279.8 1092.8L234.4 1061.7M279.8 1103.3L234.4 1072.2M279.8 1113.7L234.4 1082.6" stroke="#8E8E8E"/>
<path d="M332.9 983.1L315.7 991.1L315.7 1127.1L332.9 1119.1Z" fill="#CACACA"/>
<path d="M332.9 983.1L315.7 991.1M332.9 1119.1L315.7 1127.1M332.9 983.1L332.9 1119.1M315.7 991.1L315.7 1127.1M332.9 993.5L315.7 1001.6M332.9 1004L315.7 1012.1M332.9 1014.5L315.7 1022.5M332.9 1024.9L315.7 1033M332.9 1035.4L315.7 1043.5M332.9 1045.8L315.7 1053.9M332.9 1056.3L315.7 1064.4M332.9 1066.8L315.7 1074.8M332.9 1077.2L315.7 1085.3M332.9 1087.7L315.7 1095.8M332.9 1098.2L315.7 1106.2M332.9 1108.6L315.7 1116.7" stroke="#8E8E8E"/>
<path d="M315.7 991.1L310.2 987.4L310.2 1123.4L315.7 1127.1Z" fill="#CACACA"/>
<path d="M315.7 991.1L310.2 987.4M315.7 1127.1L310.2 1123.4M315.7 991.1L315.7 1127.1M310.2 987.4L310.2 1123.4M315.7 1001.6L310.2 997.9M315.7 1012.1L310.2 1008.3M315.7 1022.5L310.2 1018.8M315.7 1033L310.2 1029.2M315.7 1043.5L310.2 1039.7M315.7 1053.9L310.2 1050.2M315.7 1064.4L310.2 1060.6M315.7 1074.8L310.2 1071.1M315.7 1085.3L310.2 1081.5M315.7 1095.8L310.2 1092M315.7 1106.2L310.2 1102.5M315.7 1116.7L310.2 1112.9" stroke="#8E8E8E"/>
<path d="M310.2 987.4L295.8 994.2L295.8 1130.2L310.2 1123.4Z" fill="#CACACA"/>
<path d="M310.2 987.4L295.8 994.2M310.2 1123.4L295.8 1130.2M310.2 987.4L310.2 1123.4M295.8 994.2L295.8 1130.2M310.2 997.9L295.8 1004.6M310.2 1008.3L295.8 1015.1M310.2 1018.8L295.8 1025.6M310.2 1029.2L295.8 1036M310.2 1039.7L295.8 1046.5M310.2 1050.2L295.8 1056.9M310.2 1060.6L295.8 1067.4M310.2 1071.1L295.8 1077.9M310.2 1081.5L295.8 1088.3M310.2 1092L295.8 1098.8M310.2 1102.5L295.8 1109.3M310.2 1112.9L295.8 1119.7" stroke="#8E8E8E"/>
<path d="M295.8 994.2L284.1 986.2L284.1 1122.2L295.8 1130.2Z" fill="#CACACA"/>
<path d="M295.8 994.2L284.1 986.2M295.8 1130.2L284.1 1122.2M295.8 994.2L295.8 1130.2M284.1 986.2L284.1 1122.2M295.8 1004.6L284.1 996.6M295.8 1015.1L284.1 1007.1M295.8 1025.6L284.1 1017.6M295.8 1036L284.1 1028M295.8 1046.5L284.1 1038.5M295.8 1056.9L284.1 1048.9M295.8 1067.4L284.1 1059.4M295.8 1077.9L284.1 1069.9M295.8 1088.3L284.1 1080.3M295.8 1098.8L284.1 1090.8M295.8 1109.3L284.1 1101.3M295.8 1119.7L284.1 1111.7" stroke="#8E8E8E"/>
<path d="M217.5 946.1L249.1 931.2L262.4 940.3L280.3 931.9L266.6 922.5L298.3 907.6L311.3 916.6L315.6 914.5L374.5 954.9L362.9 960.3L366.5 962.7L348.3 971.3L328.9 980.4L332.9 983.1L315.7 991.1L310.2 987.4L295.8 994.2L284.1 986.2L279.8 988.2L234.4 957.1L233.9 957.3Z" fill="#CACACA" fill-rule="evenodd" stroke="#8E8E8E"/>
</g>
<g fill="none" stroke-width="0.9">
<path d="M1272.5 905.6L1259.7 892.3L1259.7 1012.3L1272.5 1025.6Z" fill="#CACACA"/>
<path d="M1272.5 905.6L1259.7 892.3M1272.5 1025.6L1259.7 1012.3M1272.5 905.6L1272.5 1025.6M1259.7 892.3L1259.7 1012.3M1272.5 916.5L1259.7 903.2M1272.5 927.4L1259.7 914.1M1272.5 938.3L1259.7 925M1272.5 949.3L1259.7 935.9M1272.5 960.2L1259.7 946.8M1272.5 971.1L1259.7 957.7M1272.5 982L1259.7 968.6M1272.5 992.9L1259.7 979.5M1272.5 1003.8L1259.7 990.5M1272.5 1014.7L1259.7 1001.4" stroke="#8E8E8E"/>
<path d="M1227.5 927.7L1217.9 917.7L1217.9 1037.7L1227.5 1047.7Z" fill="#CACACA"/>
<path d="M1227.5 927.7L1217.9 917.7M1227.5 1047.7L1217.9 1037.7M1227.5 927.7L1227.5 1047.7M1217.9 917.7L1217.9 1037.7M1227.5 938.6L1217.9 928.6M1227.5 949.5L1217.9 939.5M1227.5 960.4L1217.9 950.4M1227.5 971.3L1217.9 961.3M1227.5 982.2L1217.9 972.2M1227.5 993.1L1217.9 983.2M1227.5 1004.1L1217.9 994.1M1227.5 1015L1217.9 1005M1227.5 1025.9L1217.9 1015.9M1227.5 1036.8L1217.9 1026.8" stroke="#8E8E8E"/>
<path d="M1361 942.6L1321.9 954.3L1321.9 1074.3L1361 1062.6Z" fill="#CACACA"/>
<path d="M1361 942.6L1321.9 954.3M1361 1062.6L1321.9 1074.3M1361 942.6L1361 1062.6M1321.9 954.3L1321.9 1074.3M1361 953.5L1321.9 965.2M1361 964.4L1321.9 976.2M1361 975.4L1321.9 987.1M1361 986.3L1321.9 998M1361 997.2L1321.9 1008.9M1361 1008.1L1321.9 1019.8M1361 1019L1321.9 1030.7M1361 1029.9L1321.9 1041.6M1361 1040.8L1321.9 1052.5M1361 1051.7L1321.9 1063.4" stroke="#8E8E8E"/>
<path d="M1321.9 954.3L1319.4 951.7L1319.4 1071.7L1321.9 1074.3Z" fill="#CACACA"/>
<path d="M1321.9 954.3L1319.4 951.7M1321.9 1074.3L1319.4 1071.7M1321.9 954.3L1321.9 1074.3M1319.4 951.7L1319.4 1071.7M1321.9 965.2L1319.4 962.6M1321.9 976.2L1319.4 973.5M1321.9 987.1L1319.4 984.4M1321.9 998L1319.4 995.3M1321.9 1008.9L1319.4 1006.2M1321.9 1019.8L1319.4 1017.1M1321.9 1030.7L1319.4 1028M1321.9 1041.6L1319.4 1039M1321.9 1052.5L1319.4 1049.9M1321.9 1063.4L1319.4 1060.8" stroke="#8E8E8E"/>
<path d="M1319.4 951.7L1297.3 958.3L1297.3 1078.3L1319.4 1071.7Z" fill="#CACACA"/>
<path d="M1319.4 951.7L1297.3 958.3M1319.4 1071.7L1297.3 1078.3M1319.4 951.7L1319.4 1071.7M1297.3 958.3L1297.3 1078.3M1319.4 962.6L1297.3 969.2M1319.4 973.5L1297.3 980.1M1319.4 984.4L1297.3 991M1319.4 995.3L1297.3 1001.9M1319.4 1006.2L1297.3 1012.8M1319.4 1017.1L1297.3 1023.8M1319.4 1028L1297.3 1034.7M1319.4 1039L1297.3 1045.6M1319.4 1049.9L1297.3 1056.5M1319.4 1060.8L1297.3 1067.4" stroke="#8E8E8E"/>
<path d="M1301 962.1L1262.3 973.7L1262.3 1093.7L1301 1082.1Z" fill="#CACACA"/>
<path d="M1301 962.1L1262.3 973.7M1301 1082.1L1262.3 1093.7M1301 962.1L1301 1082.1M1262.3 973.7L1262.3 1093.7M1301 973L1262.3 984.6M1301 984L1262.3 995.6M1301 994.9L1262.3 1006.5M1301 1005.8L1262.3 1017.4M1301 1016.7L1262.3 1028.3M1301 1027.6L1262.3 1039.2M1301 1038.5L1262.3 1050.1M1301 1049.4L1262.3 1061M1301 1060.3L1262.3 1071.9M1301 1071.2L1262.3 1082.8" stroke="#8E8E8E"/>
<path d="M1262.3 973.7L1220.3 929.8L1220.3 1049.8L1262.3 1093.7Z" fill="#CACACA"/>
<path d="M1262.3 973.7L1220.3 929.8M1262.3 1093.7L1220.3 1049.8M1262.3 973.7L1262.3 1093.7M1220.3 929.8L1220.3 1049.8M1262.3 984.6L1220.3 940.7M1262.3 995.6L1220.3 951.7M1262.3 1006.5L1220.3 962.6M1262.3 1017.4L1220.3 973.5M1262.3 1028.3L1220.3 984.4M1262.3 1039.2L1220.3 995.3M1262.3 1050.1L1220.3 1006.2M1262.3 1061L1220.3 1017.1M1262.3 1071.9L1220.3 1028M1262.3 1082.8L1220.3 1038.9" stroke="#8E8E8E"/>
<path d="M1217.9 917.7L1249.9 908.1L1253.1 911.5L1260.7 909.2L1272.5 905.6L1259.7 892.3L1294.1 882L1302.9 891.2L1309.8 889.1L1361 942.6L1321.9 954.3L1319.4 951.7L1297.3 958.3L1301 962.1L1262.3 973.7L1220.3 929.8L1227.5 927.7Z" fill="#CACACA" fill-rule="evenodd" stroke="#8E8E8E"/>
</g>
<g fill="none" stroke-width="0.9">
<path d="M497.4 949L483.7 939.6L483.7 1076.6L497.4 1086Z" fill="#CACACA"/>
<path d="M497.4 949L483.7 939.6M497.4 1086L483.7 1076.6M497.4 949L497.4 1086M483.7 939.6L483.7 1076.6M497.4 959.5L483.7 950.2M497.4 970.1L483.7 960.7M497.4 980.6L483.7 971.2M497.4 991.2L483.7 981.8M497.4 1001.7L483.7 992.3M497.4 1012.2L483.7 1002.9M497.4 1022.8L483.7 1013.4M497.4 1033.3L483.7 1023.9M497.4 1043.8L483.7 1034.5M497.4 1054.4L483.7 1045M497.4 1064.9L483.7 1055.5M497.4 1075.5L483.7 1066.1" stroke="#8E8E8E"/>
<path d="M451.5 974.2L451 974.4L451 1111.4L451.5 1111.2Z" fill="#CACACA"/>
<path d="M451.5 974.2L451 974.4M451.5 1111.2L451 1111.4M451.5 974.2L451.5 1111.2M451 974.4L451 1111.4M451.5 984.7L451 985M451.5 995.3L451 995.5M451.5 1005.8L451 1006.1M451.5 1016.3L451 1016.6M451.5 1026.9L451 1027.1M451.5 1037.4L451 1037.7M451.5 1048L451 1048.2M451.5 1058.5L451 1058.7M451.5 1069L451 1069.3M451.5 1079.6L451 1079.8M451.5 1090.1L451 1090.4M451.5 1100.7L451 1100.9" stroke="#8E8E8E"/>
<path d="M451 974.4L434.6 963.2L434.6 1100.2L451 1111.4Z" fill="#CACACA"/>
<path d="M451 974.4L434.6 963.2M451 1111.4L434.6 1100.2M451 974.4L451 1111.4M434.6 963.2L434.6 1100.2M451 985L434.6 973.7M451 995.5L434.6 984.3M451 1006.1L434.6 994.8M451 1016.6L434.6 1005.4M451 1027.1L434.6 1015.9M451 1037.7L434.6 1026.4M451 1048.2L434.6 1037M451 1058.7L434.6 1047.5M451 1069.3L434.6 1058M451 1079.8L434.6 1068.6M451 1090.4L434.6 1079.1M451 1100.9L434.6 1089.7" stroke="#8E8E8E"/>
<path d="M591.6 972L580 977.4L580 1114.4L591.6 1109Z" fill="#CACACA"/>
<path d="M591.6 972L580 977.4M591.6 1109L580 1114.4M591.6 972L591.6 1109M580 977.4L580 1114.4M591.6 982.5L580 988M591.6 993.1L580 998.5M591.6 1003.6L580 1009M591.6 1014.1L580 1019.6M591.6 1024.7L580 1030.1M591.6 1035.2L580 1040.6M591.6 1045.8L580 1051.2M591.6 1056.3L580 1061.7M591.6 1066.8L580 1072.3M591.6 1077.4L580 1082.8M591.6 1087.9L580 1093.3M591.6 1098.4L580 1103.9" stroke="#8E8E8E"/>
<path d="M583.6 979.8L565.4 988.4L565.4 1125.4L583.6 1116.8Z" fill="#CACACA"/>
<path d="M583.6 979.8L565.4 988.4M583.6 1116.8L565.4 1125.4M583.6 979.8L583.6 1116.8M583.6 990.4L565.4 998.9M583.6 1000.9L565.4 1009.4M583.6 1011.5L565.4 1020M583.6 1022L565.4 1030.5M583.6 1032.5L565.4 1041M583.6 1043.1L565.4 1051.6M583.6 1053.6L565.4 1062.1M583.6 1064.1L565.4 1072.7M583.6 1074.7L565.4 1083.2M583.6 1085.2L565.4 1093.7M583.6 1095.8L565.4 1104.3M583.6 1106.3L565.4 1114.8" stroke="#8E8E8E"/>
<path d="M565.4 988.4L546 997.5L546 1134.5L565.4 1125.4Z" fill="#CACACA"/>
<path d="M565.4 988.4L546 997.5M565.4 1125.4L546 1134.5M546 997.5L546 1134.5M565.4 998.9L546 1008M565.4 1009.4L546 1018.6M565.4 1020L546 1029.1M565.4 1030.5L546 1039.6M565.4 1041L546 1050.2M565.4 1051.6L546 1060.7M565.4 1062.1L546 1071.2M565.4 1072.7L546 1081.8M565.4 1083.2L546 1092.3M565.4 1093.7L546 1102.9M565.4 1104.3L546 1113.4M565.4 1114.8L546 1123.9" stroke="#8E8E8E"/>
<path d="M501.2 1003.3L496.9 1005.3L496.9 1142.3L501.2 1140.3Z" fill="#CACACA"/>
<path d="M501.2 1003.3L496.9 1005.3M501.2 1140.3L496.9 1142.3M501.2 1003.3L501.2 1140.3M496.9 1005.3L496.9 1142.3M501.2 1013.8L496.9 1015.8M501.2 1024.4L496.9 1026.4M501.2 1034.9L496.9 1036.9M501.2 1045.4L496.9 1047.4M501.2 1056L496.9 1058M501.2 1066.5L496.9 1068.5M501.2 1077L496.9 1079.1M501.2 1087.6L496.9 1089.6M501.2 1098.1L496.9 1100.1M501.2 1108.7L496.9 1110.7M501.2 1119.2L496.9 1121.2M501.2 1129.7L496.9 1131.8" stroke="#8E8E8E"/>
<path d="M496.9 1005.3L451.5 974.2L451.5 1111.2L496.9 1142.3Z" fill="#CACACA"/>
<path d="M496.9 1005.3L451.5 974.2M496.9 1142.3L451.5 1111.2M496.9 1005.3L496.9 1142.3M451.5 974.2L451.5 1111.2M496.9 1015.8L451.5 984.7M496.9 1026.4L451.5 995.3M496.9 1036.9L451.5 1005.8M496.9 1047.4L451.5 1016.3M496.9 1058L451.5 1026.9M496.9 1068.5L451.5 1037.4M496.9 1079.1L451.5 1048M496.9 1089.6L451.5 1058.5M496.9 1100.1L451.5 1069M496.9 1110.7L451.5 1079.6M496.9 1121.2L451.5 1090.1M496.9 1131.8L451.5 1100.7" stroke="#8E8E8E"/>
<path d="M550 1000.2L532.8 1008.2L532.8 1145.2L550 1137.2Z" fill="#CACACA"/>
<path d="M550 1000.2L532.8 1008.2M550 1137.2L532.8 1145.2M550 1000.2L550 1137.2M532.8 1008.2L532.8 1145.2M550 1010.7L532.8 1018.8M550 1021.3L532.8 1029.3M550 1031.8L532.8 1039.9M550 1042.3L532.8 1050.4M550 1052.9L532.8 1060.9M550 1063.4L532.8 1071.5M550 1073.9L532.8 1082M550 1084.5L532.8 1092.6M550 1095L532.8 1103.1M550 1105.6L532.8 1113.6M550 1116.1L532.8 1124.2M550 1126.6L532.8 1134.7" stroke="#8E8E8E"/>
<path d="M532.8 1008.2L527.3 1004.5L527.3 1141.5L532.8 1145.2Z" fill="#CACACA"/>
<path d="M532.8 1008.2L527.3 1004.5M532.8 1145.2L527.3 1141.5M532.8 1008.2L532.8 1145.2M527.3 1004.5L527.3 1141.5M532.8 1018.8L527.3 1015M532.8 1029.3L527.3 1025.6M532.8 1039.9L527.3 1036.1M532.8 1050.4L527.3 1046.6M532.8 1060.9L527.3 1057.2M532.8 1071.5L527.3 1067.7M532.8 1082L527.3 1078.3M532.8 1092.6L527.3 1088.8M532.8 1103.1L527.3 1099.3M532.8 1113.6L527.3 1109.9M532.8 1124.2L527.3 1120.4M532.8 1134.7L527.3 1131" stroke="#8E8E8E"/>
<path d="M527.3 1004.5L512.9 1011.3L512.9 1148.3L527.3 1141.5Z" fill="#CACACA"/>
<path d="M527.3 1004.5L512.9 1011.3M527.3 1141.5L512.9 1148.3M527.3 1004.5L527.3 1141.5M512.9 1011.3L512.9 1148.3M527.3 1015L512.9 1021.8M527.3 1025.6L512.9 1032.4M527.3 1036.1L512.9 1042.9M527.3 1046.6L512.9 1053.4M527.3 1057.2L512.9 1064M527.3 1067.7L512.9 1074.5M527.3 1078.3L512.9 1085M527.3 1088.8L512.9 1095.6M527.3 1099.3L512.9 1106.1M527.3 1109.9L512.9 1116.7M527.3 1120.4L512.9 1127.2M527.3 1131L512.9 1137.7" stroke="#8E8E8E"/>
<path d="M512.9 1011.3L501.2 1003.3L501.2 1140.3L512.9 1148.3Z" fill="#CACACA"/>
<path d="M512.9 1011.3L501.2 1003.3M512.9 1148.3L501.2 1140.3M512.9 1011.3L512.9 1148.3M501.2 1003.3L501.2 1140.3M512.9 1021.8L501.2 1013.8M512.9 1032.4L501.2 1024.4M512.9 1042.9L501.2 1034.9M512.9 1053.4L501.2 1045.4M512.9 1064L501.2 1056M512.9 1074.5L501.2 1066.5M512.9 1085L501.2 1077M512.9 1095.6L501.2 1087.6M512.9 1106.1L501.2 1098.1M512.9 1116.7L501.2 1108.7M512.9 1127.2L501.2 1119.2M512.9 1137.7L501.2 1129.7" stroke="#8E8E8E"/>
<path d="M434.6 963.2L466.2 948.3L479.5 957.4L497.4 949L483.7 939.6L515.4 924.7L528.4 933.7L532.7 931.6L591.6 972L580 977.4L583.6 979.8L565.4 988.4L546 997.5L550 1000.2L532.8 1008.2L527.3 1004.5L512.9 1011.3L501.2 1003.3L496.9 1005.3L451.5 974.2L451 974.4Z" fill="#CACACA" fill-rule="evenodd" stroke="#8E8E8E"/>
</g>
<g fill="none" stroke-width="0.9">
<path d="M816.3 973.3L803.5 964.4L803.5 1099.4L816.3 1108.3Z" fill="#CACACA"/>
<path d="M816.3 973.3L803.5 964.4M816.3 1108.3L803.5 1099.4M816.3 973.3L816.3 1108.3M803.5 964.4L803.5 1099.4M816.3 983.6L803.5 974.8M816.3 994L803.5 985.2M816.3 1004.4L803.5 995.6M816.3 1014.8L803.5 1006M816.3 1025.2L803.5 1016.4M816.3 1035.6L803.5 1026.7M816.3 1045.9L803.5 1037.1M816.3 1056.3L803.5 1047.5M816.3 1066.7L803.5 1057.9M816.3 1077.1L803.5 1068.3M816.3 1087.5L803.5 1078.7M816.3 1097.9L803.5 1089.1" stroke="#8E8E8E"/>
<path d="M773.2 996.9L772.7 997.2L772.7 1132.2L773.2 1131.9Z" fill="#CACACA"/>
<path d="M773.2 996.9L772.7 997.2M773.2 1131.9L772.7 1132.2M773.2 996.9L773.2 1131.9M772.7 997.2L772.7 1132.2M773.2 1007.3L772.7 1007.5M773.2 1017.7L772.7 1017.9M773.2 1028.1L772.7 1028.3M773.2 1038.5L772.7 1038.7M773.2 1048.9L772.7 1049.1M773.2 1059.2L772.7 1059.5M773.2 1069.6L772.7 1069.9M773.2 1080L772.7 1080.2M773.2 1090.4L772.7 1090.6M773.2 1100.8L772.7 1101M773.2 1111.2L772.7 1111.4M773.2 1121.5L772.7 1121.8" stroke="#8E8E8E"/>
<path d="M772.7 997.2L757.3 986.6L757.3 1121.6L772.7 1132.2Z" fill="#CACACA"/>
<path d="M772.7 997.2L757.3 986.6M772.7 1132.2L757.3 1121.6M772.7 997.2L772.7 1132.2M757.3 986.6L757.3 1121.6M772.7 1007.5L757.3 997M772.7 1017.9L757.3 1007.4M772.7 1028.3L757.3 1017.8M772.7 1038.7L757.3 1028.1M772.7 1049.1L757.3 1038.5M772.7 1059.5L757.3 1048.9M772.7 1069.9L757.3 1059.3M772.7 1080.2L757.3 1069.7M772.7 1090.6L757.3 1080.1M772.7 1101L757.3 1090.4M772.7 1111.4L757.3 1100.8M772.7 1121.8L757.3 1111.2" stroke="#8E8E8E"/>
<path d="M904.9 994.9L894 1000L894 1135L904.9 1129.9Z" fill="#CACACA"/>
<path d="M904.9 994.9L894 1000M904.9 1129.9L894 1135M904.9 994.9L904.9 1129.9M894 1000L894 1135M904.9 1005.2L894 1010.3M904.9 1015.6L894 1020.7M904.9 1026L894 1031.1M904.9 1036.4L894 1041.5M904.9 1046.8L894 1051.9M904.9 1057.2L894 1062.3M904.9 1067.6L894 1072.7M904.9 1077.9L894 1083M904.9 1088.3L894 1093.4M904.9 1098.7L894 1103.8M904.9 1109.1L894 1114.2M904.9 1119.5L894 1124.6" stroke="#8E8E8E"/>
<path d="M897.3 1002.2L880.3 1010.2L880.3 1145.2L897.3 1137.2Z" fill="#CACACA"/>
<path d="M897.3 1002.2L880.3 1010.2M897.3 1137.2L880.3 1145.2M897.3 1002.2L897.3 1137.2M897.3 1012.6L880.3 1020.6M897.3 1023L880.3 1031M897.3 1033.4L880.3 1041.4M897.3 1043.8L880.3 1051.8M897.3 1054.2L880.3 1062.2M897.3 1064.5L880.3 1072.6M897.3 1074.9L880.3 1082.9M897.3 1085.3L880.3 1093.3M897.3 1095.7L880.3 1103.7M897.3 1106.1L880.3 1114.1M897.3 1116.5L880.3 1124.5M897.3 1126.9L880.3 1134.9" stroke="#8E8E8E"/>
<path d="M880.3 1010.2L862 1018.8L862 1153.8L880.3 1145.2Z" fill="#CACACA"/>
<path d="M880.3 1010.2L862 1018.8M880.3 1145.2L862 1153.8M862 1018.8L862 1153.8M880.3 1020.6L862 1029.2M880.3 1031L862 1039.6M880.3 1041.4L862 1050M880.3 1051.8L862 1060.4M880.3 1062.2L862 1070.7M880.3 1072.6L862 1081.1M880.3 1082.9L862 1091.5M880.3 1093.3L862 1101.9M880.3 1103.7L862 1112.3M880.3 1114.1L862 1122.7M880.3 1124.5L862 1133.1M880.3 1134.9L862 1143.4" stroke="#8E8E8E"/>
<path d="M819.9 1024.3L815.9 1026.2L815.9 1161.2L819.9 1159.3Z" fill="#CACACA"/>
<path d="M819.9 1024.3L815.9 1026.2M819.9 1159.3L815.9 1161.2M819.9 1024.3L819.9 1159.3M815.9 1026.2L815.9 1161.2M819.9 1034.7L815.9 1036.6M819.9 1045L815.9 1046.9M819.9 1055.4L815.9 1057.3M819.9 1065.8L815.9 1067.7M819.9 1076.2L815.9 1078.1M819.9 1086.6L815.9 1088.5M819.9 1097L815.9 1098.9M819.9 1107.4L815.9 1109.2M819.9 1117.7L815.9 1119.6M819.9 1128.1L815.9 1130M819.9 1138.5L815.9 1140.4M819.9 1148.9L815.9 1150.8" stroke="#8E8E8E"/>
<path d="M815.9 1026.2L773.2 996.9L773.2 1131.9L815.9 1161.2Z" fill="#CACACA"/>
<path d="M815.9 1026.2L773.2 996.9M815.9 1161.2L773.2 1131.9M815.9 1026.2L815.9 1161.2M773.2 996.9L773.2 1131.9M815.9 1036.6L773.2 1007.3M815.9 1046.9L773.2 1017.7M815.9 1057.3L773.2 1028.1M815.9 1067.7L773.2 1038.5M815.9 1078.1L773.2 1048.9M815.9 1088.5L773.2 1059.2M815.9 1098.9L773.2 1069.6M815.9 1109.2L773.2 1080M815.9 1119.6L773.2 1090.4M815.9 1130L773.2 1100.8M815.9 1140.4L773.2 1111.2M815.9 1150.8L773.2 1121.5" stroke="#8E8E8E"/>
<path d="M865.7 1021.4L849.6 1028.9L849.6 1163.9L865.7 1156.4Z" fill="#CACACA"/>
<path d="M865.7 1021.4L849.6 1028.9M865.7 1156.4L849.6 1163.9M865.7 1021.4L865.7 1156.4M849.6 1028.9L849.6 1163.9M865.7 1031.7L849.6 1039.3M865.7 1042.1L849.6 1049.7M865.7 1052.5L849.6 1060.1M865.7 1062.9L849.6 1070.5M865.7 1073.3L849.6 1080.9M865.7 1083.7L849.6 1091.3M865.7 1094.1L849.6 1101.6M865.7 1104.4L849.6 1112M865.7 1114.8L849.6 1122.4M865.7 1125.2L849.6 1132.8M865.7 1135.6L849.6 1143.2M865.7 1146L849.6 1153.6" stroke="#8E8E8E"/>
<path d="M849.6 1028.9L844.5 1025.4L844.5 1160.4L849.6 1163.9Z" fill="#CACACA"/>
<path d="M849.6 1028.9L844.5 1025.4M849.6 1163.9L844.5 1160.4M849.6 1028.9L849.6 1163.9M844.5 1025.4L844.5 1160.4M849.6 1039.3L844.5 1035.8M849.6 1049.7L844.5 1046.2M849.6 1060.1L844.5 1056.6M849.6 1070.5L844.5 1066.9M849.6 1080.9L844.5 1077.3M849.6 1091.3L844.5 1087.7M849.6 1101.6L844.5 1098.1M849.6 1112L844.5 1108.5M849.6 1122.4L844.5 1118.9M849.6 1132.8L844.5 1129.3M849.6 1143.2L844.5 1139.6M849.6 1153.6L844.5 1150" stroke="#8E8E8E"/>
<path d="M844.5 1025.4L830.9 1031.8L830.9 1166.8L844.5 1160.4Z" fill="#CACACA"/>
<path d="M844.5 1025.4L830.9 1031.8M844.5 1160.4L830.9 1166.8M844.5 1025.4L844.5 1160.4M830.9 1031.8L830.9 1166.8M844.5 1035.8L830.9 1042.2M844.5 1046.2L830.9 1052.6M844.5 1056.6L830.9 1062.9M844.5 1066.9L830.9 1073.3M844.5 1077.3L830.9 1083.7M844.5 1087.7L830.9 1094.1M844.5 1098.1L830.9 1104.5M844.5 1108.5L830.9 1114.9M844.5 1118.9L830.9 1125.3M844.5 1129.3L830.9 1135.6M844.5 1139.6L830.9 1146M844.5 1150L830.9 1156.4" stroke="#8E8E8E"/>
<path d="M830.9 1031.8L819.9 1024.3L819.9 1159.3L830.9 1166.8Z" fill="#CACACA"/>
<path d="M830.9 1031.8L819.9 1024.3M830.9 1166.8L819.9 1159.3M830.9 1031.8L830.9 1166.8M819.9 1024.3L819.9 1159.3M830.9 1042.2L819.9 1034.7M830.9 1052.6L819.9 1045M830.9 1062.9L819.9 1055.4M830.9 1073.3L819.9 1065.8M830.9 1083.7L819.9 1076.2M830.9 1094.1L819.9 1086.6M830.9 1104.5L819.9 1097M830.9 1114.9L819.9 1107.4M830.9 1125.3L819.9 1117.7M830.9 1135.6L819.9 1128.1M830.9 1146L819.9 1138.5M830.9 1156.4L819.9 1148.9" stroke="#8E8E8E"/>
<path d="M757.3 986.6L787 972.6L799.5 981.2L816.3 973.3L803.5 964.4L833.2 950.4L845.5 958.8L849.5 956.9L904.9 994.9L894 1000L897.3 1002.2L880.3 1010.2L862 1018.8L865.7 1021.4L849.6 1028.9L844.5 1025.4L830.9 1031.8L819.9 1024.3L815.9 1026.2L773.2 996.9L772.7 997.2Z" fill="#CACACA" fill-rule="evenodd" stroke="#8E8E8E"/>
</g>
<g fill="none" stroke-width="0.9">
<path d="M971 995L957.4 980.8L957.4 1088.8L971 1103Z" fill="#CACACA"/>
<path d="M971 995L957.4 980.8M971 1103L957.4 1088.8M971 995L971 1103M957.4 980.8L957.4 1088.8M971 1005.8L957.4 991.6M971 1016.6L957.4 1002.4M971 1027.4L957.4 1013.2M971 1038.2L957.4 1024M971 1049L957.4 1034.8M971 1059.8L957.4 1045.6M971 1070.6L957.4 1056.4M971 1081.4L957.4 1067.2M971 1092.2L957.4 1078" stroke="#8E8E8E"/>
<path d="M923.1 1018.5L912.9 1007.9L912.9 1115.9L923.1 1126.5Z" fill="#CACACA"/>
<path d="M923.1 1018.5L912.9 1007.9M923.1 1126.5L912.9 1115.9M923.1 1018.5L923.1 1126.5M912.9 1007.9L912.9 1115.9M923.1 1029.3L912.9 1018.7M923.1 1040.1L912.9 1029.5M923.1 1050.9L912.9 1040.3M923.1 1061.7L912.9 1051.1M923.1 1072.5L912.9 1061.9M923.1 1083.3L912.9 1072.7M923.1 1094.1L912.9 1083.5M923.1 1104.9L912.9 1094.3M923.1 1115.7L912.9 1105.1" stroke="#8E8E8E"/>
<path d="M1065.1 1034.4L1023.6 1046.9L1023.6 1154.9L1065.1 1142.4Z" fill="#CACACA"/>
<path d="M1065.1 1034.4L1023.6 1046.9M1065.1 1142.4L1023.6 1154.9M1065.1 1034.4L1065.1 1142.4M1023.6 1046.9L1023.6 1154.9M1065.1 1045.2L1023.6 1057.7M1065.1 1056L1023.6 1068.5M1065.1 1066.8L1023.6 1079.3M1065.1 1077.6L1023.6 1090.1M1065.1 1088.4L1023.6 1100.9M1065.1 1099.2L1023.6 1111.7M1065.1 1110L1023.6 1122.5M1065.1 1120.8L1023.6 1133.3M1065.1 1131.6L1023.6 1144.1" stroke="#8E8E8E"/>
<path d="M1023.6 1046.9L1020.9 1044.1L1020.9 1152.1L1023.6 1154.9Z" fill="#CACACA"/>
<path d="M1023.6 1046.9L1020.9 1044.1M1023.6 1154.9L1020.9 1152.1M1023.6 1046.9L1023.6 1154.9M1020.9 1044.1L1020.9 1152.1M1023.6 1057.7L1020.9 1054.9M1023.6 1068.5L1020.9 1065.7M1023.6 1079.3L1020.9 1076.5M1023.6 1090.1L1020.9 1087.3M1023.6 1100.9L1020.9 1098.1M1023.6 1111.7L1020.9 1108.9M1023.6 1122.5L1020.9 1119.7M1023.6 1133.3L1020.9 1130.5M1023.6 1144.1L1020.9 1141.3" stroke="#8E8E8E"/>
<path d="M1020.9 1044.1L997.4 1051.1L997.4 1159.1L1020.9 1152.1Z" fill="#CACACA"/>
<path d="M1020.9 1044.1L997.4 1051.1M1020.9 1152.1L997.4 1159.1M1020.9 1044.1L1020.9 1152.1M997.4 1051.1L997.4 1159.1M1020.9 1054.9L997.4 1061.9M1020.9 1065.7L997.4 1072.7M1020.9 1076.5L997.4 1083.5M1020.9 1087.3L997.4 1094.3M1020.9 1098.1L997.4 1105.1M1020.9 1108.9L997.4 1115.9M1020.9 1119.7L997.4 1126.7M1020.9 1130.5L997.4 1137.5M1020.9 1141.3L997.4 1148.3" stroke="#8E8E8E"/>
<path d="M1001.3 1055.2L960.1 1067.5L960.1 1175.5L1001.3 1163.2Z" fill="#CACACA"/>
<path d="M1001.3 1055.2L960.1 1067.5M1001.3 1163.2L960.1 1175.5M1001.3 1055.2L1001.3 1163.2M960.1 1067.5L960.1 1175.5M1001.3 1066L960.1 1078.3M1001.3 1076.8L960.1 1089.1M1001.3 1087.6L960.1 1099.9M1001.3 1098.4L960.1 1110.7M1001.3 1109.2L960.1 1121.5M1001.3 1120L960.1 1132.3M1001.3 1130.8L960.1 1143.1M1001.3 1141.6L960.1 1153.9M1001.3 1152.4L960.1 1164.7" stroke="#8E8E8E"/>
<path d="M960.1 1067.5L915.4 1020.8L915.4 1128.8L960.1 1175.5Z" fill="#CACACA"/>
<path d="M960.1 1067.5L915.4 1020.8M960.1 1175.5L915.4 1128.8M960.1 1067.5L960.1 1175.5M915.4 1020.8L915.4 1128.8M960.1 1078.3L915.4 1031.6M960.1 1089.1L915.4 1042.4M960.1 1099.9L915.4 1053.2M960.1 1110.7L915.4 1064M960.1 1121.5L915.4 1074.8M960.1 1132.3L915.4 1085.6M960.1 1143.1L915.4 1096.4M960.1 1153.9L915.4 1107.2M960.1 1164.7L915.4 1118" stroke="#8E8E8E"/>
<path d="M912.9 1007.9L946.9 997.7L950.3 1001.3L958.4 998.8L971 995L957.4 980.8L993.9 969.9L1003.3 979.7L1010.6 977.5L1065.1 1034.4L1023.6 1046.9L1020.9 1044.1L997.4 1051.1L1001.3 1055.2L960.1 1067.5L915.4 1020.8L923.1 1018.5Z" fill="#CACACA" fill-rule="evenodd" stroke="#8E8E8E"/>
</g>
<g fill="none" stroke-width="0.9">
<path d="M1480.1 1005.9L1467.3 992.6L1467.3 1088.6L1480.1 1101.9Z" fill="#CACACA"/>
<path d="M1480.1 1005.9L1467.3 992.6M1480.1 1101.9L1467.3 1088.6M1480.1 1005.9L1480.1 1101.9M1467.3 992.6L1467.3 1088.6M1480.1 1016.6L1467.3 1003.2M1480.1 1027.3L1467.3 1013.9M1480.1 1037.9L1467.3 1024.6M1480.1 1048.6L1467.3 1035.2M1480.1 1059.3L1467.3 1045.9M1480.1 1069.9L1467.3 1056.6M1480.1 1080.6L1467.3 1067.2M1480.1 1091.3L1467.3 1077.9" stroke="#8E8E8E"/>
<path d="M1435.1 1028L1425.5 1018L1425.5 1114L1435.1 1124Z" fill="#CACACA"/>
<path d="M1435.1 1028L1425.5 1018M1435.1 1124L1425.5 1114M1435.1 1028L1435.1 1124M1425.5 1018L1425.5 1114M1435.1 1038.7L1425.5 1028.7M1435.1 1049.3L1425.5 1039.3M1435.1 1060L1425.5 1050M1435.1 1070.7L1425.5 1060.7M1435.1 1081.3L1425.5 1071.3M1435.1 1092L1425.5 1082M1435.1 1102.7L1425.5 1092.7M1435.1 1113.3L1425.5 1103.3" stroke="#8E8E8E"/>
<path d="M1568.6 1042.9L1529.5 1054.6L1529.5 1150.6L1568.6 1138.9Z" fill="#CACACA"/>
<path d="M1568.6 1042.9L1529.5 1054.6M1568.6 1138.9L1529.5 1150.6M1568.6 1042.9L1568.6 1138.9M1529.5 1054.6L1529.5 1150.6M1568.6 1053.6L1529.5 1065.3M1568.6 1064.3L1529.5 1076M1568.6 1074.9L1529.5 1086.6M1568.6 1085.6L1529.5 1097.3M1568.6 1096.3L1529.5 1108M1568.6 1106.9L1529.5 1118.6M1568.6 1117.6L1529.5 1129.3M1568.6 1128.3L1529.5 1140" stroke="#8E8E8E"/>
<path d="M1529.5 1054.6L1527 1052L1527 1148L1529.5 1150.6Z" fill="#CACACA"/>
<path d="M1529.5 1054.6L1527 1052M1529.5 1150.6L1527 1148M1529.5 1054.6L1529.5 1150.6M1527 1052L1527 1148M1529.5 1065.3L1527 1062.6M1529.5 1076L1527 1073.3M1529.5 1086.6L1527 1084M1529.5 1097.3L1527 1094.6M1529.5 1108L1527 1105.3M1529.5 1118.6L1527 1116M1529.5 1129.3L1527 1126.6M1529.5 1140L1527 1137.3" stroke="#8E8E8E"/>
<path d="M1527 1052L1504.9 1058.6L1504.9 1154.6L1527 1148Z" fill="#CACACA"/>
<path d="M1527 1052L1504.9 1058.6M1527 1148L1504.9 1154.6M1527 1052L1527 1148M1504.9 1058.6L1504.9 1154.6M1527 1062.6L1504.9 1069.3M1527 1073.3L1504.9 1079.9M1527 1084L1504.9 1090.6M1527 1094.6L1504.9 1101.3M1527 1105.3L1504.9 1111.9M1527 1116L1504.9 1122.6M1527 1126.6L1504.9 1133.3M1527 1137.3L1504.9 1143.9" stroke="#8E8E8E"/>
<path d="M1508.6 1062.4L1469.9 1074L1469.9 1170L1508.6 1158.4Z" fill="#CACACA"/>
<path d="M1508.6 1062.4L1469.9 1074M1508.6 1158.4L1469.9 1170M1508.6 1062.4L1508.6 1158.4M1469.9 1074L1469.9 1170M1508.6 1073.1L1469.9 1084.7M1508.6 1083.8L1469.9 1095.4M1508.6 1094.4L1469.9 1106M1508.6 1105.1L1469.9 1116.7M1508.6 1115.8L1469.9 1127.4M1508.6 1126.4L1469.9 1138M1508.6 1137.1L1469.9 1148.7M1508.6 1147.8L1469.9 1159.4" stroke="#8E8E8E"/>
<path d="M1469.9 1074L1427.9 1030.1L1427.9 1126.1L1469.9 1170Z" fill="#CACACA"/>
<path d="M1469.9 1074L1427.9 1030.1M1469.9 1170L1427.9 1126.1M1469.9 1074L1469.9 1170M1427.9 1030.1L1427.9 1126.1M1469.9 1084.7L1427.9 1040.8M1469.9 1095.4L1427.9 1051.5M1469.9 1106L1427.9 1062.1M1469.9 1116.7L1427.9 1072.8M1469.9 1127.4L1427.9 1083.5M1469.9 1138L1427.9 1094.1M1469.9 1148.7L1427.9 1104.8M1469.9 1159.4L1427.9 1115.5" stroke="#8E8E8E"/>
<path d="M1425.5 1018L1457.5 1008.4L1460.7 1011.8L1468.3 1009.5L1480.1 1005.9L1467.3 992.6L1501.7 982.3L1510.5 991.5L1517.4 989.4L1568.6 1042.9L1529.5 1054.6L1527 1052L1504.9 1058.6L1508.6 1062.4L1469.9 1074L1427.9 1030.1L1435.1 1028Z" fill="#CACACA" fill-rule="evenodd" stroke="#8E8E8E"/>
</g>
<g fill="none" stroke-width="0.9">
<path d="M1224.6 1038.6L1211.8 1025.3L1211.8 1099.3L1224.6 1112.6Z" fill="#CACACA"/>
<path d="M1224.6 1038.6L1211.8 1025.3M1224.6 1112.6L1211.8 1099.3M1224.6 1038.6L1224.6 1112.6M1211.8 1025.3L1211.8 1099.3M1224.6 1049.2L1211.8 1035.8M1224.6 1059.8L1211.8 1046.4M1224.6 1070.3L1211.8 1057M1224.6 1080.9L1211.8 1067.6M1224.6 1091.5L1211.8 1078.1M1224.6 1102L1211.8 1088.7" stroke="#8E8E8E"/>
<path d="M1179.6 1060.7L1170 1050.7L1170 1124.7L1179.6 1134.7Z" fill="#CACACA"/>
<path d="M1179.6 1060.7L1170 1050.7M1179.6 1134.7L1170 1124.7M1179.6 1060.7L1179.6 1134.7M1170 1050.7L1170 1124.7M1179.6 1071.3L1170 1061.3M1179.6 1081.8L1170 1071.8M1179.6 1092.4L1170 1082.4M1179.6 1103L1170 1093M1179.6 1113.5L1170 1103.6M1179.6 1124.1L1170 1114.1" stroke="#8E8E8E"/>
<path d="M1313.1 1075.6L1274 1087.3L1274 1161.3L1313.1 1149.6Z" fill="#CACACA"/>
<path d="M1313.1 1075.6L1274 1087.3M1313.1 1149.6L1274 1161.3M1313.1 1075.6L1313.1 1149.6M1274 1087.3L1274 1161.3M1313.1 1086.2L1274 1097.9M1313.1 1096.8L1274 1108.5M1313.1 1107.3L1274 1119M1313.1 1117.9L1274 1129.6M1313.1 1128.5L1274 1140.2M1313.1 1139.1L1274 1150.8" stroke="#8E8E8E"/>
<path d="M1274 1087.3L1271.5 1084.7L1271.5 1158.7L1274 1161.3Z" fill="#CACACA"/>
<path d="M1274 1087.3L1271.5 1084.7M1274 1161.3L1271.5 1158.7M1274 1087.3L1274 1161.3M1271.5 1084.7L1271.5 1158.7M1274 1097.9L1271.5 1095.3M1274 1108.5L1271.5 1105.8M1274 1119L1271.5 1116.4M1274 1129.6L1271.5 1127M1274 1140.2L1271.5 1137.5M1274 1150.8L1271.5 1148.1" stroke="#8E8E8E"/>
<path d="M1271.5 1084.7L1249.4 1091.3L1249.4 1165.3L1271.5 1158.7Z" fill="#CACACA"/>
<path d="M1271.5 1084.7L1249.4 1091.3M1271.5 1158.7L1249.4 1165.3M1271.5 1084.7L1271.5 1158.7M1249.4 1091.3L1249.4 1165.3M1271.5 1095.3L1249.4 1101.9M1271.5 1105.8L1249.4 1112.4M1271.5 1116.4L1249.4 1123M1271.5 1127L1249.4 1133.6M1271.5 1137.5L1249.4 1144.2M1271.5 1148.1L1249.4 1154.7" stroke="#8E8E8E"/>
<path d="M1253.1 1095.1L1214.4 1106.7L1214.4 1180.7L1253.1 1169.1Z" fill="#CACACA"/>
<path d="M1253.1 1095.1L1214.4 1106.7M1253.1 1169.1L1214.4 1180.7M1253.1 1095.1L1253.1 1169.1M1214.4 1106.7L1214.4 1180.7M1253.1 1105.7L1214.4 1117.3M1253.1 1116.3L1214.4 1127.9M1253.1 1126.8L1214.4 1138.5M1253.1 1137.4L1214.4 1149M1253.1 1148L1214.4 1159.6M1253.1 1158.6L1214.4 1170.2" stroke="#8E8E8E"/>
<path d="M1214.4 1106.7L1172.4 1062.8L1172.4 1136.8L1214.4 1180.7Z" fill="#CACACA"/>
<path d="M1214.4 1106.7L1172.4 1062.8M1214.4 1180.7L1172.4 1136.8M1214.4 1106.7L1214.4 1180.7M1172.4 1062.8L1172.4 1136.8M1214.4 1117.3L1172.4 1073.4M1214.4 1127.9L1172.4 1084M1214.4 1138.5L1172.4 1094.6M1214.4 1149L1172.4 1105.1M1214.4 1159.6L1172.4 1115.7M1214.4 1170.2L1172.4 1126.3" stroke="#8E8E8E"/>
<path d="M1170 1050.7L1202 1041.1L1205.2 1044.5L1212.8 1042.2L1224.6 1038.6L1211.8 1025.3L1246.2 1015L1255 1024.2L1261.9 1022.1L1313.1 1075.6L1274 1087.3L1271.5 1084.7L1249.4 1091.3L1253.1 1095.1L1214.4 1106.7L1172.4 1062.8L1179.6 1060.7Z" fill="#CACACA" fill-rule="evenodd" stroke="#8E8E8E"/>
</g>
<g fill="none" stroke-width="0.9">
<path d="M675.9 1113.7L662.6 1104.6L662.6 1232.6L675.9 1241.7Z" fill="#CACACA"/>
<path d="M675.9 1113.7L662.6 1104.6M675.9 1241.7L662.6 1232.6M675.9 1113.7L675.9 1241.7M662.6 1104.6L662.6 1232.6M675.9 1124.4L662.6 1115.3M675.9 1135.1L662.6 1126M675.9 1145.7L662.6 1136.6M675.9 1156.4L662.6 1147.3M675.9 1167.1L662.6 1158M675.9 1177.7L662.6 1168.6M675.9 1188.4L662.6 1179.3M675.9 1199.1L662.6 1190M675.9 1209.7L662.6 1200.6M675.9 1220.4L662.6 1211.3M675.9 1231.1L662.6 1222" stroke="#8E8E8E"/>
<path d="M631.4 1138.2L630.9 1138.4L630.9 1266.4L631.4 1266.2Z" fill="#CACACA"/>
<path d="M631.4 1138.2L630.9 1138.4M631.4 1266.2L630.9 1266.4M631.4 1138.2L631.4 1266.2M630.9 1138.4L630.9 1266.4M631.4 1148.8L630.9 1149.1M631.4 1159.5L630.9 1159.7M631.4 1170.2L630.9 1170.4M631.4 1180.8L630.9 1181.1M631.4 1191.5L630.9 1191.7M631.4 1202.2L630.9 1202.4M631.4 1212.8L630.9 1213.1M631.4 1223.5L630.9 1223.7M631.4 1234.2L630.9 1234.4M631.4 1244.8L630.9 1245.1M631.4 1255.5L630.9 1255.7" stroke="#8E8E8E"/>
<path d="M630.9 1138.4L615 1127.5L615 1255.5L630.9 1266.4Z" fill="#CACACA"/>
<path d="M630.9 1138.4L615 1127.5M630.9 1266.4L615 1255.5M630.9 1138.4L630.9 1266.4M615 1127.5L615 1255.5M630.9 1149.1L615 1138.2M630.9 1159.7L615 1148.8M630.9 1170.4L615 1159.5M630.9 1181.1L615 1170.2M630.9 1191.7L615 1180.8M630.9 1202.4L615 1191.5M630.9 1213.1L615 1202.2M630.9 1223.7L615 1212.8M630.9 1234.4L615 1223.5M630.9 1245.1L615 1234.2M630.9 1255.7L615 1244.8" stroke="#8E8E8E"/>
<path d="M767.3 1136L756.1 1141.3L756.1 1269.3L767.3 1264Z" fill="#CACACA"/>
<path d="M767.3 1136L756.1 1141.3M767.3 1264L756.1 1269.3M767.3 1136L767.3 1264M756.1 1141.3L756.1 1269.3M767.3 1146.7L756.1 1152M767.3 1157.4L756.1 1162.6M767.3 1168L756.1 1173.3M767.3 1178.7L756.1 1184M767.3 1189.4L756.1 1194.6M767.3 1200L756.1 1205.3M767.3 1210.7L756.1 1216M767.3 1221.4L756.1 1226.6M767.3 1232L756.1 1237.3M767.3 1242.7L756.1 1248M767.3 1253.4L756.1 1258.6" stroke="#8E8E8E"/>
<path d="M759.5 1143.6L741.9 1151.9L741.9 1279.9L759.5 1271.6Z" fill="#CACACA"/>
<path d="M759.5 1143.6L741.9 1151.9M759.5 1271.6L741.9 1279.9M759.5 1143.6L759.5 1271.6M759.5 1154.3L741.9 1162.6M759.5 1165L741.9 1173.2M759.5 1175.6L741.9 1183.9M759.5 1186.3L741.9 1194.6M759.5 1197L741.9 1205.2M759.5 1207.6L741.9 1215.9M759.5 1218.3L741.9 1226.6M759.5 1229L741.9 1237.2M759.5 1239.6L741.9 1247.9M759.5 1250.3L741.9 1258.6M759.5 1261L741.9 1269.2" stroke="#8E8E8E"/>
<path d="M741.9 1151.9L723.1 1160.7L723.1 1288.7L741.9 1279.9Z" fill="#CACACA"/>
<path d="M741.9 1151.9L723.1 1160.7M741.9 1279.9L723.1 1288.7M723.1 1160.7L723.1 1288.7M741.9 1162.6L723.1 1171.4M741.9 1173.2L723.1 1182.1M741.9 1183.9L723.1 1192.7M741.9 1194.6L723.1 1203.4M741.9 1205.2L723.1 1214.1M741.9 1215.9L723.1 1224.7M741.9 1226.6L723.1 1235.4M741.9 1237.2L723.1 1246.1M741.9 1247.9L723.1 1256.7M741.9 1258.6L723.1 1267.4M741.9 1269.2L723.1 1278.1" stroke="#8E8E8E"/>
<path d="M679.6 1166.4L675.5 1168.3L675.5 1296.3L679.6 1294.4Z" fill="#CACACA"/>
<path d="M679.6 1166.4L675.5 1168.3M679.6 1294.4L675.5 1296.3M679.6 1166.4L679.6 1294.4M675.5 1168.3L675.5 1296.3M679.6 1177L675.5 1179M679.6 1187.7L675.5 1189.7M679.6 1198.4L675.5 1200.3M679.6 1209L675.5 1211M679.6 1219.7L675.5 1221.7M679.6 1230.4L675.5 1232.3M679.6 1241L675.5 1243M679.6 1251.7L675.5 1253.7M679.6 1262.4L675.5 1264.3M679.6 1273L675.5 1275M679.6 1283.7L675.5 1285.7" stroke="#8E8E8E"/>
<path d="M675.5 1168.3L631.4 1138.2L631.4 1266.2L675.5 1296.3Z" fill="#CACACA"/>
<path d="M675.5 1168.3L631.4 1138.2M675.5 1296.3L631.4 1266.2M675.5 1168.3L675.5 1296.3M631.4 1138.2L631.4 1266.2M675.5 1179L631.4 1148.8M675.5 1189.7L631.4 1159.5M675.5 1200.3L631.4 1170.2M675.5 1211L631.4 1180.8M675.5 1221.7L631.4 1191.5M675.5 1232.3L631.4 1202.2M675.5 1243L631.4 1212.8M675.5 1253.7L631.4 1223.5M675.5 1264.3L631.4 1234.2M675.5 1275L631.4 1244.8M675.5 1285.7L631.4 1255.5" stroke="#8E8E8E"/>
<path d="M726.9 1163.4L710.3 1171.2L710.3 1299.2L726.9 1291.4Z" fill="#CACACA"/>
<path d="M726.9 1163.4L710.3 1171.2M726.9 1291.4L710.3 1299.2M726.9 1163.4L726.9 1291.4M710.3 1171.2L710.3 1299.2M726.9 1174L710.3 1181.9M726.9 1184.7L710.3 1192.5M726.9 1195.4L710.3 1203.2M726.9 1206L710.3 1213.9M726.9 1216.7L710.3 1224.5M726.9 1227.4L710.3 1235.2M726.9 1238L710.3 1245.9M726.9 1248.7L710.3 1256.5M726.9 1259.4L710.3 1267.2M726.9 1270L710.3 1277.9M726.9 1280.7L710.3 1288.5" stroke="#8E8E8E"/>
<path d="M710.3 1171.2L704.9 1167.5L704.9 1295.5L710.3 1299.2Z" fill="#CACACA"/>
<path d="M710.3 1171.2L704.9 1167.5M710.3 1299.2L704.9 1295.5M710.3 1171.2L710.3 1299.2M704.9 1167.5L704.9 1295.5M710.3 1181.9L704.9 1178.2M710.3 1192.5L704.9 1188.9M710.3 1203.2L704.9 1199.5M710.3 1213.9L704.9 1210.2M710.3 1224.5L704.9 1220.9M710.3 1235.2L704.9 1231.5M710.3 1245.9L704.9 1242.2M710.3 1256.5L704.9 1252.9M710.3 1267.2L704.9 1263.5M710.3 1277.9L704.9 1274.2M710.3 1288.5L704.9 1284.9" stroke="#8E8E8E"/>
<path d="M704.9 1167.5L690.9 1174.1L690.9 1302.1L704.9 1295.5Z" fill="#CACACA"/>
<path d="M704.9 1167.5L690.9 1174.1M704.9 1295.5L690.9 1302.1M704.9 1167.5L704.9 1295.5M690.9 1174.1L690.9 1302.1M704.9 1178.2L690.9 1184.8M704.9 1188.9L690.9 1195.5M704.9 1199.5L690.9 1206.1M704.9 1210.2L690.9 1216.8M704.9 1220.9L690.9 1227.5M704.9 1231.5L690.9 1238.1M704.9 1242.2L690.9 1248.8M704.9 1252.9L690.9 1259.5M704.9 1263.5L690.9 1270.1M704.9 1274.2L690.9 1280.8M704.9 1284.9L690.9 1291.5" stroke="#8E8E8E"/>
<path d="M690.9 1174.1L679.6 1166.4L679.6 1294.4L690.9 1302.1Z" fill="#CACACA"/>
<path d="M690.9 1174.1L679.6 1166.4M690.9 1302.1L679.6 1294.4M690.9 1174.1L690.9 1302.1M679.6 1166.4L679.6 1294.4M690.9 1184.8L679.6 1177M690.9 1195.5L679.6 1187.7M690.9 1206.1L679.6 1198.4M690.9 1216.8L679.6 1209M690.9 1227.5L679.6 1219.7M690.9 1238.1L679.6 1230.4M690.9 1248.8L679.6 1241M690.9 1259.5L679.6 1251.7M690.9 1270.1L679.6 1262.4M690.9 1280.8L679.6 1273M690.9 1291.5L679.6 1283.7" stroke="#8E8E8E"/>
<path d="M615 1127.5L645.7 1113.1L658.5 1121.9L675.9 1113.7L662.6 1104.6L693.4 1090.2L706 1098.8L710.1 1096.9L767.3 1136L756.1 1141.3L759.5 1143.6L741.9 1151.9L723.1 1160.7L726.9 1163.4L710.3 1171.2L704.9 1167.5L690.9 1174.1L679.6 1166.4L675.5 1168.3L631.4 1138.2L630.9 1138.4Z" fill="#CACACA" fill-rule="evenodd" stroke="#8E8E8E"/>
</g>
<g fill="none" stroke-width="0.9">
<path d="M519.5 1133.3L506.2 1124.2L506.2 1228.2L519.5 1237.3Z" fill="#CACACA"/>
<path d="M519.5 1133.3L506.2 1124.2M519.5 1237.3L506.2 1228.2M519.5 1133.3L519.5 1237.3M506.2 1124.2L506.2 1228.2M519.5 1143.7L506.2 1134.6M519.5 1154.1L506.2 1145M519.5 1164.5L506.2 1155.4M519.5 1174.9L506.2 1165.8M519.5 1185.3L506.2 1176.2M519.5 1195.7L506.2 1186.6M519.5 1206.1L506.2 1197M519.5 1216.5L506.2 1207.4M519.5 1226.9L506.2 1217.8" stroke="#8E8E8E"/>
<path d="M475 1157.8L474.5 1158L474.5 1262L475 1261.8Z" fill="#CACACA"/>
<path d="M475 1157.8L474.5 1158M475 1261.8L474.5 1262M475 1157.8L475 1261.8M474.5 1158L474.5 1262M475 1168.2L474.5 1168.4M475 1178.6L474.5 1178.8M475 1189L474.5 1189.2M475 1199.4L474.5 1199.6M475 1209.8L474.5 1210M475 1220.2L474.5 1220.4M475 1230.6L474.5 1230.8M475 1241L474.5 1241.2M475 1251.4L474.5 1251.6" stroke="#8E8E8E"/>
<path d="M474.5 1158L458.6 1147.1L458.6 1251.1L474.5 1262Z" fill="#CACACA"/>
<path d="M474.5 1158L458.6 1147.1M474.5 1262L458.6 1251.1M474.5 1158L474.5 1262M458.6 1147.1L458.6 1251.1M474.5 1168.4L458.6 1157.5M474.5 1178.8L458.6 1167.9M474.5 1189.2L458.6 1178.3M474.5 1199.6L458.6 1188.7M474.5 1210L458.6 1199.1M474.5 1220.4L458.6 1209.5M474.5 1230.8L458.6 1219.9M474.5 1241.2L458.6 1230.3M474.5 1251.6L458.6 1240.7" stroke="#8E8E8E"/>
<path d="M610.9 1155.6L599.7 1160.9L599.7 1264.9L610.9 1259.6Z" fill="#CACACA"/>
<path d="M610.9 1155.6L599.7 1160.9M610.9 1259.6L599.7 1264.9M610.9 1155.6L610.9 1259.6M599.7 1160.9L599.7 1264.9M610.9 1166L599.7 1171.3M610.9 1176.4L599.7 1181.7M610.9 1186.8L599.7 1192.1M610.9 1197.2L599.7 1202.5M610.9 1207.6L599.7 1212.9M610.9 1218L599.7 1223.3M610.9 1228.4L599.7 1233.7M610.9 1238.8L599.7 1244.1M610.9 1249.2L599.7 1254.5" stroke="#8E8E8E"/>
<path d="M603.1 1163.2L585.5 1171.5L585.5 1275.5L603.1 1267.2Z" fill="#CACACA"/>
<path d="M603.1 1163.2L585.5 1171.5M603.1 1267.2L585.5 1275.5M603.1 1163.2L603.1 1267.2M603.1 1173.6L585.5 1181.9M603.1 1184L585.5 1192.3M603.1 1194.4L585.5 1202.7M603.1 1204.8L585.5 1213.1M603.1 1215.2L585.5 1223.5M603.1 1225.6L585.5 1233.9M603.1 1236L585.5 1244.3M603.1 1246.4L585.5 1254.7M603.1 1256.8L585.5 1265.1" stroke="#8E8E8E"/>
<path d="M585.5 1171.5L566.7 1180.3L566.7 1284.3L585.5 1275.5Z" fill="#CACACA"/>
<path d="M585.5 1171.5L566.7 1180.3M585.5 1275.5L566.7 1284.3M566.7 1180.3L566.7 1284.3M585.5 1181.9L566.7 1190.7M585.5 1192.3L566.7 1201.1M585.5 1202.7L566.7 1211.5M585.5 1213.1L566.7 1221.9M585.5 1223.5L566.7 1232.3M585.5 1233.9L566.7 1242.7M585.5 1244.3L566.7 1253.1M585.5 1254.7L566.7 1263.5M585.5 1265.1L566.7 1273.9" stroke="#8E8E8E"/>
<path d="M523.2 1186L519.1 1187.9L519.1 1291.9L523.2 1290Z" fill="#CACACA"/>
<path d="M523.2 1186L519.1 1187.9M523.2 1290L519.1 1291.9M523.2 1186L523.2 1290M519.1 1187.9L519.1 1291.9M523.2 1196.4L519.1 1198.3M523.2 1206.8L519.1 1208.7M523.2 1217.2L519.1 1219.1M523.2 1227.6L519.1 1229.5M523.2 1238L519.1 1239.9M523.2 1248.4L519.1 1250.3M523.2 1258.8L519.1 1260.7M523.2 1269.2L519.1 1271.1M523.2 1279.6L519.1 1281.5" stroke="#8E8E8E"/>
<path d="M519.1 1187.9L475 1157.8L475 1261.8L519.1 1291.9Z" fill="#CACACA"/>
<path d="M519.1 1187.9L475 1157.8M519.1 1291.9L475 1261.8M519.1 1187.9L519.1 1291.9M475 1157.8L475 1261.8M519.1 1198.3L475 1168.2M519.1 1208.7L475 1178.6M519.1 1219.1L475 1189M519.1 1229.5L475 1199.4M519.1 1239.9L475 1209.8M519.1 1250.3L475 1220.2M519.1 1260.7L475 1230.6M519.1 1271.1L475 1241M519.1 1281.5L475 1251.4" stroke="#8E8E8E"/>
<path d="M570.5 1183L553.9 1190.8L553.9 1294.8L570.5 1287Z" fill="#CACACA"/>
<path d="M570.5 1183L553.9 1190.8M570.5 1287L553.9 1294.8M570.5 1183L570.5 1287M553.9 1190.8L553.9 1294.8M570.5 1193.4L553.9 1201.2M570.5 1203.8L553.9 1211.6M570.5 1214.2L553.9 1222M570.5 1224.6L553.9 1232.4M570.5 1235L553.9 1242.8M570.5 1245.4L553.9 1253.2M570.5 1255.8L553.9 1263.6M570.5 1266.2L553.9 1274M570.5 1276.6L553.9 1284.4" stroke="#8E8E8E"/>
<path d="M553.9 1190.8L548.5 1187.1L548.5 1291.1L553.9 1294.8Z" fill="#CACACA"/>
<path d="M553.9 1190.8L548.5 1187.1M553.9 1294.8L548.5 1291.1M553.9 1190.8L553.9 1294.8M548.5 1187.1L548.5 1291.1M553.9 1201.2L548.5 1197.5M553.9 1211.6L548.5 1207.9M553.9 1222L548.5 1218.3M553.9 1232.4L548.5 1228.7M553.9 1242.8L548.5 1239.1M553.9 1253.2L548.5 1249.5M553.9 1263.6L548.5 1259.9M553.9 1274L548.5 1270.3M553.9 1284.4L548.5 1280.7" stroke="#8E8E8E"/>
<path d="M548.5 1187.1L534.5 1193.7L534.5 1297.7L548.5 1291.1Z" fill="#CACACA"/>
<path d="M548.5 1187.1L534.5 1193.7M548.5 1291.1L534.5 1297.7M548.5 1187.1L548.5 1291.1M534.5 1193.7L534.5 1297.7M548.5 1197.5L534.5 1204.1M548.5 1207.9L534.5 1214.5M548.5 1218.3L534.5 1224.9M548.5 1228.7L534.5 1235.3M548.5 1239.1L534.5 1245.7M548.5 1249.5L534.5 1256.1M548.5 1259.9L534.5 1266.5M548.5 1270.3L534.5 1276.9M548.5 1280.7L534.5 1287.3" stroke="#8E8E8E"/>
<path d="M534.5 1193.7L523.2 1186L523.2 1290L534.5 1297.7Z" fill="#CACACA"/>
<path d="M534.5 1193.7L523.2 1186M534.5 1297.7L523.2 1290M534.5 1193.7L534.5 1297.7M523.2 1186L523.2 1290M534.5 1204.1L523.2 1196.4M534.5 1214.5L523.2 1206.8M534.5 1224.9L523.2 1217.2M534.5 1235.3L523.2 1227.6M534.5 1245.7L523.2 1238M534.5 1256.1L523.2 1248.4M534.5 1266.5L523.2 1258.8M534.5 1276.9L523.2 1269.2M534.5 1287.3L523.2 1279.6" stroke="#8E8E8E"/>
<path d="M458.6 1147.1L489.3 1132.7L502.1 1141.5L519.5 1133.3L506.2 1124.2L537 1109.8L549.6 1118.4L553.7 1116.5L610.9 1155.6L599.7 1160.9L603.1 1163.2L585.5 1171.5L566.7 1180.3L570.5 1183L553.9 1190.8L548.5 1187.1L534.5 1193.7L523.2 1186L519.1 1187.9L475 1157.8L474.5 1158Z" fill="#CACACA" fill-rule="evenodd" stroke="#8E8E8E"/>
</g>
<g fill="none" stroke-width="0.9">
<path d="M854 1139.9L841.2 1131L841.2 1233L854 1241.9Z" fill="#CACACA"/>
<path d="M854 1139.9L841.2 1131M854 1241.9L841.2 1233M854 1139.9L854 1241.9M841.2 1131L841.2 1233M854 1150.1L841.2 1141.2M854 1160.3L841.2 1151.4M854 1170.5L841.2 1161.6M854 1180.7L841.2 1171.8M854 1190.9L841.2 1182M854 1201.1L841.2 1192.2M854 1211.3L841.2 1202.4M854 1221.5L841.2 1212.6M854 1231.7L841.2 1222.8" stroke="#8E8E8E"/>
<path d="M810.9 1163.5L810.4 1163.8L810.4 1265.8L810.9 1265.5Z" fill="#CACACA"/>
<path d="M810.9 1163.5L810.4 1163.8M810.9 1265.5L810.4 1265.8M810.9 1163.5L810.9 1265.5M810.4 1163.8L810.4 1265.8M810.9 1173.7L810.4 1174M810.9 1183.9L810.4 1184.2M810.9 1194.1L810.4 1194.4M810.9 1204.3L810.4 1204.6M810.9 1214.5L810.4 1214.8M810.9 1224.7L810.4 1225M810.9 1234.9L810.4 1235.2M810.9 1245.1L810.4 1245.4M810.9 1255.3L810.4 1255.6" stroke="#8E8E8E"/>
<path d="M810.4 1163.8L795 1153.2L795 1255.2L810.4 1265.8Z" fill="#CACACA"/>
<path d="M810.4 1163.8L795 1153.2M810.4 1265.8L795 1255.2M810.4 1163.8L810.4 1265.8M795 1153.2L795 1255.2M810.4 1174L795 1163.4M810.4 1184.2L795 1173.6M810.4 1194.4L795 1183.8M810.4 1204.6L795 1194M810.4 1214.8L795 1204.2M810.4 1225L795 1214.4M810.4 1235.2L795 1224.6M810.4 1245.4L795 1234.8M810.4 1255.6L795 1245" stroke="#8E8E8E"/>
<path d="M942.6 1161.5L931.7 1166.6L931.7 1268.6L942.6 1263.5Z" fill="#CACACA"/>
<path d="M942.6 1161.5L931.7 1166.6M942.6 1263.5L931.7 1268.6M942.6 1161.5L942.6 1263.5M931.7 1166.6L931.7 1268.6M942.6 1171.7L931.7 1176.8M942.6 1181.9L931.7 1187M942.6 1192.1L931.7 1197.2M942.6 1202.3L931.7 1207.4M942.6 1212.5L931.7 1217.6M942.6 1222.7L931.7 1227.8M942.6 1232.9L931.7 1238M942.6 1243.1L931.7 1248.2M942.6 1253.3L931.7 1258.4" stroke="#8E8E8E"/>
<path d="M935 1168.8L918 1176.8L918 1278.8L935 1270.8Z" fill="#CACACA"/>
<path d="M935 1168.8L918 1176.8M935 1270.8L918 1278.8M935 1168.8L935 1270.8M935 1179L918 1187M935 1189.2L918 1197.2M935 1199.4L918 1207.4M935 1209.6L918 1217.6M935 1219.8L918 1227.8M935 1230L918 1238M935 1240.2L918 1248.2M935 1250.4L918 1258.4M935 1260.6L918 1268.6" stroke="#8E8E8E"/>
<path d="M918 1176.8L899.7 1185.4L899.7 1287.4L918 1278.8Z" fill="#CACACA"/>
<path d="M918 1176.8L899.7 1185.4M918 1278.8L899.7 1287.4M899.7 1185.4L899.7 1287.4M918 1187L899.7 1195.6M918 1197.2L899.7 1205.8M918 1207.4L899.7 1216M918 1217.6L899.7 1226.2M918 1227.8L899.7 1236.4M918 1238L899.7 1246.6M918 1248.2L899.7 1256.8M918 1258.4L899.7 1267M918 1268.6L899.7 1277.2" stroke="#8E8E8E"/>
<path d="M857.6 1190.9L853.6 1192.8L853.6 1294.8L857.6 1292.9Z" fill="#CACACA"/>
<path d="M857.6 1190.9L853.6 1192.8M857.6 1292.9L853.6 1294.8M857.6 1190.9L857.6 1292.9M853.6 1192.8L853.6 1294.8M857.6 1201.1L853.6 1203M857.6 1211.3L853.6 1213.2M857.6 1221.5L853.6 1223.4M857.6 1231.7L853.6 1233.6M857.6 1241.9L853.6 1243.8M857.6 1252.1L853.6 1254M857.6 1262.3L853.6 1264.2M857.6 1272.5L853.6 1274.4M857.6 1282.7L853.6 1284.6" stroke="#8E8E8E"/>
<path d="M853.6 1192.8L810.9 1163.5L810.9 1265.5L853.6 1294.8Z" fill="#CACACA"/>
<path d="M853.6 1192.8L810.9 1163.5M853.6 1294.8L810.9 1265.5M853.6 1192.8L853.6 1294.8M810.9 1163.5L810.9 1265.5M853.6 1203L810.9 1173.7M853.6 1213.2L810.9 1183.9M853.6 1223.4L810.9 1194.1M853.6 1233.6L810.9 1204.3M853.6 1243.8L810.9 1214.5M853.6 1254L810.9 1224.7M853.6 1264.2L810.9 1234.9M853.6 1274.4L810.9 1245.1M853.6 1284.6L810.9 1255.3" stroke="#8E8E8E"/>
<path d="M903.4 1188L887.3 1195.5L887.3 1297.5L903.4 1290Z" fill="#CACACA"/>
<path d="M903.4 1188L887.3 1195.5M903.4 1290L887.3 1297.5M903.4 1188L903.4 1290M887.3 1195.5L887.3 1297.5M903.4 1198.2L887.3 1205.7M903.4 1208.4L887.3 1215.9M903.4 1218.6L887.3 1226.1M903.4 1228.8L887.3 1236.3M903.4 1239L887.3 1246.5M903.4 1249.2L887.3 1256.7M903.4 1259.4L887.3 1266.9M903.4 1269.6L887.3 1277.1M903.4 1279.8L887.3 1287.3" stroke="#8E8E8E"/>
<path d="M887.3 1195.5L882.2 1192L882.2 1294L887.3 1297.5Z" fill="#CACACA"/>
<path d="M887.3 1195.5L882.2 1192M887.3 1297.5L882.2 1294M887.3 1195.5L887.3 1297.5M882.2 1192L882.2 1294M887.3 1205.7L882.2 1202.2M887.3 1215.9L882.2 1212.4M887.3 1226.1L882.2 1222.6M887.3 1236.3L882.2 1232.8M887.3 1246.5L882.2 1243M887.3 1256.7L882.2 1253.2M887.3 1266.9L882.2 1263.4M887.3 1277.1L882.2 1273.6M887.3 1287.3L882.2 1283.8" stroke="#8E8E8E"/>
<path d="M882.2 1192L868.6 1198.4L868.6 1300.4L882.2 1294Z" fill="#CACACA"/>
<path d="M882.2 1192L868.6 1198.4M882.2 1294L868.6 1300.4M882.2 1192L882.2 1294M868.6 1198.4L868.6 1300.4M882.2 1202.2L868.6 1208.6M882.2 1212.4L868.6 1218.8M882.2 1222.6L868.6 1229M882.2 1232.8L868.6 1239.2M882.2 1243L868.6 1249.4M882.2 1253.2L868.6 1259.6M882.2 1263.4L868.6 1269.8M882.2 1273.6L868.6 1280M882.2 1283.8L868.6 1290.2" stroke="#8E8E8E"/>
<path d="M868.6 1198.4L857.6 1190.9L857.6 1292.9L868.6 1300.4Z" fill="#CACACA"/>
<path d="M868.6 1198.4L857.6 1190.9M868.6 1300.4L857.6 1292.9M868.6 1198.4L868.6 1300.4M857.6 1190.9L857.6 1292.9M868.6 1208.6L857.6 1201.1M868.6 1218.8L857.6 1211.3M868.6 1229L857.6 1221.5M868.6 1239.2L857.6 1231.7M868.6 1249.4L857.6 1241.9M868.6 1259.6L857.6 1252.1M868.6 1269.8L857.6 1262.3M868.6 1280L857.6 1272.5M868.6 1290.2L857.6 1282.7" stroke="#8E8E8E"/>
<path d="M795 1153.2L824.7 1139.2L837.2 1147.8L854 1139.9L841.2 1131L870.9 1117L883.2 1125.4L887.2 1123.5L942.6 1161.5L931.7 1166.6L935 1168.8L918 1176.8L899.7 1185.4L903.4 1188L887.3 1195.5L882.2 1192L868.6 1198.4L857.6 1190.9L853.6 1192.8L810.9 1163.5L810.4 1163.8Z" fill="#CACACA" fill-rule="evenodd" stroke="#8E8E8E"/>
</g>
<g fill="none" stroke-width="0.9">
<path d="M1004.3 1173.8L991.5 1160.5L991.5 1256.5L1004.3 1269.8Z" fill="#CACACA"/>
<path d="M1004.3 1173.8L991.5 1160.5M1004.3 1269.8L991.5 1256.5M1004.3 1173.8L1004.3 1269.8M991.5 1160.5L991.5 1256.5M1004.3 1184.5L991.5 1171.1M1004.3 1195.2L991.5 1181.8M1004.3 1205.8L991.5 1192.5M1004.3 1216.5L991.5 1203.1M1004.3 1227.2L991.5 1213.8M1004.3 1237.8L991.5 1224.5M1004.3 1248.5L991.5 1235.1M1004.3 1259.2L991.5 1245.8" stroke="#8E8E8E"/>
<path d="M959.3 1195.9L949.7 1185.9L949.7 1281.9L959.3 1291.9Z" fill="#CACACA"/>
<path d="M959.3 1195.9L949.7 1185.9M959.3 1291.9L949.7 1281.9M959.3 1195.9L959.3 1291.9M949.7 1185.9L949.7 1281.9M959.3 1206.6L949.7 1196.6M959.3 1217.2L949.7 1207.2M959.3 1227.9L949.7 1217.9M959.3 1238.6L949.7 1228.6M959.3 1249.2L949.7 1239.2M959.3 1259.9L949.7 1249.9M959.3 1270.6L949.7 1260.6M959.3 1281.2L949.7 1271.2" stroke="#8E8E8E"/>
<path d="M1092.8 1210.8L1053.7 1222.5L1053.7 1318.5L1092.8 1306.8Z" fill="#CACACA"/>
<path d="M1092.8 1210.8L1053.7 1222.5M1092.8 1306.8L1053.7 1318.5M1092.8 1210.8L1092.8 1306.8M1053.7 1222.5L1053.7 1318.5M1092.8 1221.5L1053.7 1233.2M1092.8 1232.2L1053.7 1243.9M1092.8 1242.8L1053.7 1254.5M1092.8 1253.5L1053.7 1265.2M1092.8 1264.2L1053.7 1275.9M1092.8 1274.8L1053.7 1286.5M1092.8 1285.5L1053.7 1297.2M1092.8 1296.2L1053.7 1307.9" stroke="#8E8E8E"/>
<path d="M1053.7 1222.5L1051.2 1219.9L1051.2 1315.9L1053.7 1318.5Z" fill="#CACACA"/>
<path d="M1053.7 1222.5L1051.2 1219.9M1053.7 1318.5L1051.2 1315.9M1053.7 1222.5L1053.7 1318.5M1051.2 1219.9L1051.2 1315.9M1053.7 1233.2L1051.2 1230.5M1053.7 1243.9L1051.2 1241.2M1053.7 1254.5L1051.2 1251.9M1053.7 1265.2L1051.2 1262.5M1053.7 1275.9L1051.2 1273.2M1053.7 1286.5L1051.2 1283.9M1053.7 1297.2L1051.2 1294.5M1053.7 1307.9L1051.2 1305.2" stroke="#8E8E8E"/>
<path d="M1051.2 1219.9L1029.1 1226.5L1029.1 1322.5L1051.2 1315.9Z" fill="#CACACA"/>
<path d="M1051.2 1219.9L1029.1 1226.5M1051.2 1315.9L1029.1 1322.5M1051.2 1219.9L1051.2 1315.9M1029.1 1226.5L1029.1 1322.5M1051.2 1230.5L1029.1 1237.2M1051.2 1241.2L1029.1 1247.8M1051.2 1251.9L1029.1 1258.5M1051.2 1262.5L1029.1 1269.2M1051.2 1273.2L1029.1 1279.8M1051.2 1283.9L1029.1 1290.5M1051.2 1294.5L1029.1 1301.2M1051.2 1305.2L1029.1 1311.8" stroke="#8E8E8E"/>
<path d="M1032.8 1230.3L994.1 1241.9L994.1 1337.9L1032.8 1326.3Z" fill="#CACACA"/>
<path d="M1032.8 1230.3L994.1 1241.9M1032.8 1326.3L994.1 1337.9M1032.8 1230.3L1032.8 1326.3M994.1 1241.9L994.1 1337.9M1032.8 1241L994.1 1252.6M1032.8 1251.7L994.1 1263.3M1032.8 1262.3L994.1 1273.9M1032.8 1273L994.1 1284.6M1032.8 1283.7L994.1 1295.3M1032.8 1294.3L994.1 1305.9M1032.8 1305L994.1 1316.6M1032.8 1315.7L994.1 1327.3" stroke="#8E8E8E"/>
<path d="M994.1 1241.9L952.1 1198L952.1 1294L994.1 1337.9Z" fill="#CACACA"/>
<path d="M994.1 1241.9L952.1 1198M994.1 1337.9L952.1 1294M994.1 1241.9L994.1 1337.9M952.1 1198L952.1 1294M994.1 1252.6L952.1 1208.7M994.1 1263.3L952.1 1219.4M994.1 1273.9L952.1 1230M994.1 1284.6L952.1 1240.7M994.1 1295.3L952.1 1251.4M994.1 1305.9L952.1 1262M994.1 1316.6L952.1 1272.7M994.1 1327.3L952.1 1283.4" stroke="#8E8E8E"/>
<path d="M949.7 1185.9L981.7 1176.3L984.9 1179.7L992.5 1177.4L1004.3 1173.8L991.5 1160.5L1025.9 1150.2L1034.7 1159.4L1041.6 1157.3L1092.8 1210.8L1053.7 1222.5L1051.2 1219.9L1029.1 1226.5L1032.8 1230.3L994.1 1241.9L952.1 1198L959.3 1195.9Z" fill="#CACACA" fill-rule="evenodd" stroke="#8E8E8E"/>
</g>
<g fill="none" stroke-width="0.9">
<path d="M670.2 1249.5L658.7 1241.6L658.7 1361.6L670.2 1369.5Z" fill="#CACACA"/>
<path d="M670.2 1249.5L658.7 1241.6M670.2 1369.5L658.7 1361.6M670.2 1249.5L670.2 1369.5M658.7 1241.6L658.7 1361.6M670.2 1260.4L658.7 1252.5M670.2 1271.3L658.7 1263.4M670.2 1282.2L658.7 1274.3M670.2 1293.1L658.7 1285.2M670.2 1304L658.7 1296.1M670.2 1314.9L658.7 1307.1M670.2 1325.8L658.7 1318M670.2 1336.7L658.7 1328.9M670.2 1347.7L658.7 1339.8M670.2 1358.6L658.7 1350.7" stroke="#8E8E8E"/>
<path d="M631.7 1270.6L631.3 1270.8L631.3 1390.8L631.7 1390.6Z" fill="#CACACA"/>
<path d="M631.7 1270.6L631.3 1270.8M631.7 1390.6L631.3 1390.8M631.7 1270.6L631.7 1390.6M631.3 1270.8L631.3 1390.8M631.7 1281.5L631.3 1281.7M631.7 1292.5L631.3 1292.7M631.7 1303.4L631.3 1303.6M631.7 1314.3L631.3 1314.5M631.7 1325.2L631.3 1325.4M631.7 1336.1L631.3 1336.3M631.7 1347L631.3 1347.2M631.7 1357.9L631.3 1358.1M631.7 1368.8L631.3 1369M631.7 1379.7L631.3 1379.9" stroke="#8E8E8E"/>
<path d="M631.3 1270.8L617.5 1261.4L617.5 1381.4L631.3 1390.8Z" fill="#CACACA"/>
<path d="M631.3 1270.8L617.5 1261.4M631.3 1390.8L617.5 1381.4M631.3 1270.8L631.3 1390.8M617.5 1261.4L617.5 1381.4M631.3 1281.7L617.5 1272.3M631.3 1292.7L617.5 1283.2M631.3 1303.6L617.5 1294.1M631.3 1314.5L617.5 1305M631.3 1325.4L617.5 1315.9M631.3 1336.3L617.5 1326.9M631.3 1347.2L617.5 1337.8M631.3 1358.1L617.5 1348.7M631.3 1369L617.5 1359.6M631.3 1379.9L617.5 1370.5" stroke="#8E8E8E"/>
<path d="M749.4 1268.8L739.7 1273.3L739.7 1393.3L749.4 1388.8Z" fill="#CACACA"/>
<path d="M749.4 1268.8L739.7 1273.3M749.4 1388.8L739.7 1393.3M749.4 1268.8L749.4 1388.8M739.7 1273.3L739.7 1393.3M749.4 1279.7L739.7 1284.3M749.4 1290.6L739.7 1295.2M749.4 1301.5L739.7 1306.1M749.4 1312.4L739.7 1317M749.4 1323.3L739.7 1327.9M749.4 1334.2L739.7 1338.8M749.4 1345.1L739.7 1349.7M749.4 1356.1L739.7 1360.6M749.4 1367L739.7 1371.5M749.4 1377.9L739.7 1382.4" stroke="#8E8E8E"/>
<path d="M742.6 1275.4L727.4 1282.5L727.4 1402.5L742.6 1395.4Z" fill="#CACACA"/>
<path d="M742.6 1275.4L727.4 1282.5M742.6 1395.4L727.4 1402.5M742.6 1275.4L742.6 1395.4M742.6 1286.3L727.4 1293.4M742.6 1297.2L727.4 1304.3M742.6 1308.1L727.4 1315.3M742.6 1319L727.4 1326.2M742.6 1329.9L727.4 1337.1M742.6 1340.8L727.4 1348M742.6 1351.7L727.4 1358.9M742.6 1362.6L727.4 1369.8M742.6 1373.6L727.4 1380.7M742.6 1384.5L727.4 1391.6" stroke="#8E8E8E"/>
<path d="M727.4 1282.5L711.1 1290.2L711.1 1410.2L727.4 1402.5Z" fill="#CACACA"/>
<path d="M727.4 1282.5L711.1 1290.2M727.4 1402.5L711.1 1410.2M711.1 1290.2L711.1 1410.2M727.4 1293.4L711.1 1301.1M727.4 1304.3L711.1 1312M727.4 1315.3L711.1 1322.9M727.4 1326.2L711.1 1333.8M727.4 1337.1L711.1 1344.7M727.4 1348L711.1 1355.6M727.4 1358.9L711.1 1366.6M727.4 1369.8L711.1 1377.5M727.4 1380.7L711.1 1388.4M727.4 1391.6L711.1 1399.3" stroke="#8E8E8E"/>
<path d="M673.5 1295.1L669.9 1296.8L669.9 1416.8L673.5 1415.1Z" fill="#CACACA"/>
<path d="M673.5 1295.1L669.9 1296.8M673.5 1415.1L669.9 1416.8M673.5 1295.1L673.5 1415.1M669.9 1296.8L669.9 1416.8M673.5 1306L669.9 1307.7M673.5 1316.9L669.9 1318.6M673.5 1327.8L669.9 1329.5M673.5 1338.7L669.9 1340.4M673.5 1349.6L669.9 1351.3M673.5 1360.5L669.9 1362.2M673.5 1371.4L669.9 1373.1M673.5 1382.3L669.9 1384M673.5 1393.2L669.9 1394.9M673.5 1404.2L669.9 1405.8" stroke="#8E8E8E"/>
<path d="M669.9 1296.8L631.7 1270.6L631.7 1390.6L669.9 1416.8Z" fill="#CACACA"/>
<path d="M669.9 1296.8L631.7 1270.6M669.9 1416.8L631.7 1390.6M669.9 1296.8L669.9 1416.8M631.7 1270.6L631.7 1390.6M669.9 1307.7L631.7 1281.5M669.9 1318.6L631.7 1292.5M669.9 1329.5L631.7 1303.4M669.9 1340.4L631.7 1314.3M669.9 1351.3L631.7 1325.2M669.9 1362.2L631.7 1336.1M669.9 1373.1L631.7 1347M669.9 1384L631.7 1357.9M669.9 1394.9L631.7 1368.8M669.9 1405.8L631.7 1379.7" stroke="#8E8E8E"/>
<path d="M714.4 1292.5L700 1299.2L700 1419.2L714.4 1412.5Z" fill="#CACACA"/>
<path d="M714.4 1292.5L700 1299.2M714.4 1412.5L700 1419.2M714.4 1292.5L714.4 1412.5M700 1299.2L700 1419.2M714.4 1303.4L700 1310.1M714.4 1314.3L700 1321.1M714.4 1325.2L700 1332M714.4 1336.1L700 1342.9M714.4 1347L700 1353.8M714.4 1357.9L700 1364.7M714.4 1368.8L700 1375.6M714.4 1379.7L700 1386.5M714.4 1390.6L700 1397.4M714.4 1401.6L700 1408.3" stroke="#8E8E8E"/>
<path d="M700 1299.2L695.4 1296.1L695.4 1416.1L700 1419.2Z" fill="#CACACA"/>
<path d="M700 1299.2L695.4 1296.1M700 1419.2L695.4 1416.1M700 1299.2L700 1419.2M695.4 1296.1L695.4 1416.1M700 1310.1L695.4 1307M700 1321.1L695.4 1317.9M700 1332L695.4 1328.8M700 1342.9L695.4 1339.7M700 1353.8L695.4 1350.6M700 1364.7L695.4 1361.5M700 1375.6L695.4 1372.4M700 1386.5L695.4 1383.4M700 1397.4L695.4 1394.3M700 1408.3L695.4 1405.2" stroke="#8E8E8E"/>
<path d="M695.4 1296.1L683.3 1301.8L683.3 1421.8L695.4 1416.1Z" fill="#CACACA"/>
<path d="M695.4 1296.1L683.3 1301.8M695.4 1416.1L683.3 1421.8M695.4 1296.1L695.4 1416.1M683.3 1301.8L683.3 1421.8M695.4 1307L683.3 1312.7M695.4 1317.9L683.3 1323.6M695.4 1328.8L683.3 1334.5M695.4 1339.7L683.3 1345.4M695.4 1350.6L683.3 1356.3M695.4 1361.5L683.3 1367.2M695.4 1372.4L683.3 1378.1M695.4 1383.4L683.3 1389.1M695.4 1394.3L683.3 1400M695.4 1405.2L683.3 1410.9" stroke="#8E8E8E"/>
<path d="M683.3 1301.8L673.5 1295.1L673.5 1415.1L683.3 1421.8Z" fill="#CACACA"/>
<path d="M683.3 1301.8L673.5 1295.1M683.3 1421.8L673.5 1415.1M683.3 1301.8L683.3 1421.8M673.5 1295.1L673.5 1415.1M683.3 1312.7L673.5 1306M683.3 1323.6L673.5 1316.9M683.3 1334.5L673.5 1327.8M683.3 1345.4L673.5 1338.7M683.3 1356.3L673.5 1349.6M683.3 1367.2L673.5 1360.5M683.3 1378.1L673.5 1371.4M683.3 1389.1L673.5 1382.3M683.3 1400L673.5 1393.2M683.3 1410.9L673.5 1404.2" stroke="#8E8E8E"/>
<path d="M617.5 1261.4L644.1 1248.9L655.2 1256.5L670.2 1249.5L658.7 1241.6L685.4 1229.1L696.3 1236.6L699.9 1234.9L749.4 1268.8L739.7 1273.3L742.6 1275.4L727.4 1282.5L711.1 1290.2L714.4 1292.5L700 1299.2L695.4 1296.1L683.3 1301.8L673.5 1295.1L669.9 1296.8L631.7 1270.6L631.3 1270.8Z" fill="#CACACA" fill-rule="evenodd" stroke="#8E8E8E"/>
</g>
<g fill="none" stroke-width="1.0">
<path d="M2160 378.9L2181.6 355L2248.6 374.1L2248.6 450.8L2160 450.8Z" fill="#D2D2D2" stroke="#F2F2F2"/>
<path d="M2418.7 331L2651.1 407.7L2619.9 424.4L2607.9 438.8L2607.9 556.2L2418.7 489.1Z" fill="#D2D2D2" stroke="#F2F2F2"/>
<path d="M2607.9 438.8L2641.5 449.4L2641.5 571.5L2607.9 557.2Z" fill="#D2D2D2" stroke="#F2F2F2"/>
<path d="M2641.5 449.4L2677.4 462.8L2677.4 582.5L2641.5 571.5Z" fill="#D2D2D2" stroke="#F2F2F2"/>
<path d="M2677.4 462.8L2737.3 400.5L2737.3 517.9L2677.4 582.5Z" fill="#D2D2D2" stroke="#F2F2F2"/>
<path d="M2418.7 331L2447.5 304.7L2737.3 400.5L2677.4 462.8L2607.9 438.8L2619.9 424.4L2651.1 407.7Z" fill="#D2D2D2" stroke="#F2F2F2"/>
<path d="M2313.9 428.9L2552.1 503.7L2543.8 525.3L2283.4 437.2Z" fill="#fff" stroke="#F2F2F2"/>
<path d="M2161.5 407.3L2518.9 550.2L2518.9 674.9L2161.5 535.8Z" fill="#D2D2D2" stroke="#F2F2F2"/>
<path d="M2228 433.9L2228 559.1M2237.9 437.8L2237.9 563.1M2277.8 453.8L2277.8 579.1M2286.1 457.1L2286.1 582.4M2338.8 478.2L2338.8 603.4M2348.8 482.2L2348.8 607.4M2399.8 502.6L2399.8 627.8M2409.7 506.6L2409.7 631.8M2461.8 527.4L2461.8 652.6M2486.8 537.4L2486.8 662.6" stroke="#F2F2F2"/>
<path d="M2518.9 550.2L2568.8 568.5L2568.8 690.4L2518.9 674.9Z" fill="#D2D2D2" stroke="#F2F2F2"/>
<path d="M2568.8 568.5L2629.7 504.8L2629.7 626.7L2568.8 690.4Z" fill="#D2D2D2" stroke="#F2F2F2"/>
<path d="M2161.5 390.6L2543.8 524.2L2552.1 503.7L2566 479.9L2629.7 504.8L2568.8 568.5L2518.9 550.2L2161.5 407.3Z" fill="#D2D2D2" stroke="#F2F2F2"/>
</g>
<rect x="2508" y="104" width="895" height="124" fill="#fff"/>
<rect x="459.5" y="304.6" width="663.5" height="155.6" fill="#fff"/>
<rect x="1693.6" y="232.6" width="257.6" height="112.3" fill="#fff"/>
<rect x="2069.0" y="448.0" width="257.6" height="112.3" fill="#fff"/>
<rect x="2465.0" y="696.8" width="257.6" height="112.3" fill="#fff"/>
<rect x="2838.0" y="412.5" width="214.0" height="112.3" fill="#fff"/>
<rect x="366.4" y="699.5" width="218.0" height="112.3" fill="#fff"/>
<rect x="1587.0" y="1036.0" width="289.0" height="155.6" fill="#fff"/>
<rect x="3007.2" y="971.5" width="404.9" height="155.6" fill="#fff"/>
<rect x="3144.2" y="1171.0" width="269.5" height="112.3" fill="#fff"/>
<rect x="1896.5" y="1487.0" width="273.5" height="112.3" fill="#fff"/>
<rect x="3040.6" y="1861.5" width="269.5" height="112.3" fill="#fff"/>
<rect x="1990.4" y="1618.0" width="310.0" height="112.3" fill="#fff"/>
<rect x="932.0" y="1814.0" width="314.0" height="112.3" fill="#fff"/>
<rect x="1607.0" y="1321.3" width="214.0" height="112.3" fill="#fff"/>
<rect x="730.8" y="1594.0" width="218.0" height="112.3" fill="#fff"/>
<rect x="1443.6" y="1201.0" width="521.9" height="112.3" fill="#fff"/>
<rect x="139.1" y="1429.3" width="525.9" height="112.3" fill="#fff"/>
<rect x="1210.8" y="2018.7" width="261.6" height="112.3" fill="#fff"/>
<rect x="2482.0" y="2016.5" width="417.0" height="112.3" fill="#fff"/>
<rect x="1248.3" y="2200.4" width="357.7" height="112.3" fill="#fff"/>
<g fill="none" stroke-width="1.1">
<path d="M1405.4 583.6L1563.8 434.7L1875.8 538.1L1833.5 582L1607.7 655.7Z" fill="#A07D8D" stroke="#931A4E"/>
<path d="M1563.8 384.7L1875.8 488.1L1875.8 538.1L1563.8 434.7Z" fill="#E5B4CB"/>
<path d="M1563.8 384.7L1875.8 488.1M1563.8 434.7L1875.8 538.1M1563.8 384.7L1563.8 434.7M1875.8 488.1L1875.8 538.1M1563.8 397.2L1875.8 500.6M1563.8 409.7L1875.8 513.1M1563.8 422.2L1875.8 525.6" stroke="#931A4E"/>
<path d="M1405.4 533.6L1563.8 384.7L1563.8 434.7L1405.4 583.6Z" fill="#E5B4CB"/>
<path d="M1405.4 533.6L1563.8 384.7M1405.4 583.6L1563.8 434.7M1405.4 533.6L1405.4 583.6M1563.8 384.7L1563.8 434.7M1405.4 546.1L1563.8 397.2M1405.4 558.6L1563.8 409.7M1405.4 571.1L1563.8 422.2" stroke="#931A4E"/>
<path d="M1981.8 472.5L1886.8 566.5L1886.8 616.5L1981.8 522.5Z" fill="#E5B4CB"/>
<path d="M1981.8 472.5L1886.8 566.5M1981.8 522.5L1886.8 616.5M1981.8 472.5L1981.8 522.5M1886.8 566.5L1886.8 616.5M1981.8 485L1886.8 579M1981.8 497.5L1886.8 591.5M1981.8 510L1886.8 604" stroke="#931A4E"/>
<path d="M1886.8 566.5L1606.1 657.5L1606.1 707.5L1886.8 616.5Z" fill="#E5B4CB"/>
<path d="M1886.8 566.5L1606.1 657.5M1886.8 616.5L1606.1 707.5M1886.8 566.5L1886.8 616.5M1606.1 657.5L1606.1 707.5M1886.8 579L1606.1 670M1886.8 591.5L1606.1 682.5M1886.8 604L1606.1 695" stroke="#931A4E"/>
<path d="M1606.1 657.5L1344.3 566.5L1344.3 616.5L1606.1 707.5Z" fill="#E5B4CB"/>
<path d="M1606.1 657.5L1344.3 566.5M1606.1 707.5L1344.3 616.5M1606.1 657.5L1606.1 707.5M1606.1 670L1344.3 579M1606.1 682.5L1344.3 591.5M1606.1 695L1344.3 604" stroke="#931A4E"/>
<path d="M1297.2 549.3L1537.8 325.1L1981.8 472.5L1886.8 566.5L1606.1 657.5L1344.3 566.5ZM1405.4 533.6L1563.8 384.7L1875.8 488.1L1833.5 532L1607.7 605.7Z" fill="#E5B4CB" fill-rule="evenodd" stroke="#931A4E"/>
<path d="M1981.8 403L1943.2 440.6L1943.2 510.1L1981.8 472.5Z" fill="#E5B4CB"/>
<path d="M1981.8 403L1943.2 440.6M1981.8 472.5L1943.2 510.1M1981.8 403L1981.8 472.5M1943.2 440.6L1943.2 510.1M1981.8 414.6L1943.2 452.2M1981.8 426.1L1943.2 463.8M1981.8 437.7L1943.2 475.3M1981.8 449.3L1943.2 486.9M1981.8 460.9L1943.2 498.5" stroke="#931A4E"/>
<path d="M1943.2 440.6L1809.3 396.1L1809.3 465.6L1943.2 510.1Z" fill="#E5B4CB"/>
<path d="M1943.2 440.6L1809.3 396.1M1943.2 510.1L1809.3 465.6M1943.2 440.6L1943.2 510.1M1809.3 396.1L1809.3 465.6M1943.2 452.2L1809.3 407.7M1943.2 463.8L1809.3 419.2M1943.2 475.3L1809.3 430.8M1943.2 486.9L1809.3 442.4M1943.2 498.5L1809.3 454" stroke="#931A4E"/>
<path d="M1809.3 396.1L1846 359.1L1981.8 403L1943.2 440.6Z" fill="#E5B4CB" fill-rule="evenodd" stroke="#931A4E"/>
<path d="M1297.2 549.3L1297.3 549.3L1344 566.4L1344 566.4L1344 566.5L1344.1 566.5L1344.1 566.5L1344.2 566.6L1344.2 566.6L1344.2 566.6L1344.2 566.7L1344.3 566.7L1344.3 566.8L1344.3 566.8L1344.3 566.9L1344.3 616.5L1344.3 616.5L1344.3 616.5L1606.1 707.5L1606.1 707.5L1606.1 707.5L1886.8 616.5L1886.8 616.5L1886.8 616.5L1981.8 522.5L1981.8 522.5L1981.8 522.5L1981.8 403L1981.8 403L1981.8 403L1846 359.1L1846 359.1L1846 359.1L1809.3 396.1L1809.3 396.1L1809.3 396.1L1809.3 414.5L1809.3 414.6L1809.3 414.6L1809.3 414.7L1809.3 414.7L1809.3 414.8L1809.2 414.8L1809.2 414.9L1809.2 414.9L1809.1 414.9L1809.1 414.9L1809 415L1809 415L1809 415L1808.9 415L1808.9 415L1808.8 415L1808.8 415L1808.7 415L1808.7 415L1537.8 325.1L1537.8 325.1L1537.8 325.1L1297.3 549.3Z" stroke="#000" stroke-width="8.5" stroke-linejoin="miter" stroke-miterlimit="3"/>
</g>
<g fill="none" stroke-width="0.8">
<path d="M1057.4 515.6L1057.4 539.8L1303.5 629.9L1343.2 594L1343.2 572.1L1198.7 518.1L1097.8 478.2Z" fill="#9590C0"/>
<path d="M1060.9 517.1L1157.1 551.3M1157.1 551.3L1197.5 521.3M1197.5 521.3L1197.5 536M1197.5 536L1157.8 572.9M1157.1 551.3L1157.1 572.9M1172.4 561L1302.7 607M1302.7 607L1339.7 574.6M1302.7 607L1302.7 625.9" stroke="#C9C7DC"/>
<path d="M1057.4 539.8L1057.4 539.8L1303.5 629.9L1303.5 629.9L1303.5 629.9L1343.1 594L1343.2 594L1343.2 593.9L1343.2 572.2L1343.2 572.1L1343.1 572.1L1198.8 518.1L1198.7 518.1L1097.8 478.2L1097.8 478.2L1097.8 478.2L1057.4 515.6L1057.4 515.6L1057.4 515.6L1057.4 539.8Z" stroke="#000" stroke-width="8.5" stroke-linejoin="miter" stroke-miterlimit="3"/>
</g><line x1="1344.3" y1="566.5" x2="1344.3" y2="615.1" stroke="#000" stroke-width="7"/>
<g fill="none" stroke-width="1.1">
<path d="M1694.2 798.4L1984.7 700.3L2181.1 814.5L1850.5 958.7Z" fill="#A07D8D" stroke="#931A4E"/>
<path d="M1694.2 752.4L1984.7 654.3L1984.7 700.3L1694.2 798.4Z" fill="#E5B4CB"/>
<path d="M1694.2 752.4L1984.7 654.3M1694.2 798.4L1984.7 700.3M1694.2 752.4L1694.2 798.4M1984.7 654.3L1984.7 700.3M1694.2 763.9L1984.7 665.8M1694.2 775.4L1984.7 677.3M1694.2 786.9L1984.7 688.8" stroke="#931A4E"/>
<path d="M1984.7 654.3L2181.1 768.5L2181.1 814.5L1984.7 700.3Z" fill="#E5B4CB"/>
<path d="M1984.7 654.3L2181.1 768.5M1984.7 700.3L2181.1 814.5M1984.7 654.3L1984.7 700.3M2181.1 768.5L2181.1 814.5M1984.7 665.8L2181.1 780M1984.7 677.3L2181.1 791.5M1984.7 688.8L2181.1 803" stroke="#931A4E"/>
<path d="M2299.3 774.5L1829.3 978.8L1829.3 1024.8L2299.3 820.5Z" fill="#E5B4CB"/>
<path d="M2299.3 774.5L1829.3 978.8M2299.3 820.5L1829.3 1024.8M2299.3 774.5L2299.3 820.5M1829.3 978.8L1829.3 1024.8M2299.3 786L1829.3 990.3M2299.3 797.5L1829.3 1001.8M2299.3 809L1829.3 1013.3" stroke="#931A4E"/>
<path d="M1829.3 978.8L1586 736.4L1586 782.4L1829.3 1024.8Z" fill="#E5B4CB"/>
<path d="M1829.3 978.8L1586 736.4M1829.3 1024.8L1586 782.4M1829.3 978.8L1829.3 1024.8M1586 736.4L1586 782.4M1829.3 990.3L1586 747.9M1829.3 1001.8L1586 759.4M1829.3 1013.3L1586 770.9" stroke="#931A4E"/>
<path d="M1586 736.4L1996.8 599.4L2299.3 774.5L1829.3 978.8ZM1694.2 752.4L1984.7 654.3L2181.1 768.5L1850.5 912.7Z" fill="#E5B4CB" fill-rule="evenodd" stroke="#931A4E"/>
<path d="M2299.3 706.5L2237.2 732.5L2237.2 800.5L2299.3 774.5Z" fill="#E5B4CB"/>
<path d="M2299.3 706.5L2237.2 732.5M2299.3 774.5L2237.2 800.5M2299.3 706.5L2299.3 774.5M2237.2 732.5L2237.2 800.5M2299.3 717.8L2237.2 743.9M2299.3 729.1L2237.2 755.2M2299.3 740.5L2237.2 766.5M2299.3 751.8L2237.2 777.9M2299.3 763.1L2237.2 789.2" stroke="#931A4E"/>
<path d="M2237.2 732.5L1928.6 552.2L1928.6 620.2L2237.2 800.5Z" fill="#E5B4CB"/>
<path d="M2237.2 732.5L1928.6 552.2M2237.2 800.5L1928.6 620.2M2237.2 732.5L2237.2 800.5M1928.6 552.2L1928.6 620.2M2237.2 743.9L1928.6 563.5M2237.2 755.2L1928.6 574.9M2237.2 766.5L1928.6 586.2M2237.2 777.9L1928.6 597.5M2237.2 789.2L1928.6 608.9" stroke="#931A4E"/>
<path d="M1928.6 552.2L1996.8 531.4L2299.3 706.5L2237.2 732.5Z" fill="#E5B4CB" fill-rule="evenodd" stroke="#931A4E"/>
<path d="M1892.6 882.2L1829.3 909.8L1829.3 978.8L1892.6 951.2Z" fill="#E5B4CB"/>
<path d="M1892.6 882.2L1829.3 909.8M1892.6 951.2L1829.3 978.8M1892.6 882.2L1892.6 951.2M1829.3 909.8L1829.3 978.8M1892.6 893.7L1829.3 921.3M1892.6 905.2L1829.3 932.8M1892.6 916.7L1829.3 944.3M1892.6 928.2L1829.3 955.8M1892.6 939.7L1829.3 967.3" stroke="#931A4E"/>
<path d="M1829.3 909.8L1746.3 827.3L1746.3 896.3L1829.3 978.8Z" fill="#E5B4CB"/>
<path d="M1829.3 909.8L1746.3 827.3M1829.3 978.8L1746.3 896.3M1829.3 909.8L1829.3 978.8M1746.3 827.3L1746.3 896.3M1829.3 921.3L1746.3 838.8M1829.3 932.8L1746.3 850.3M1829.3 944.3L1746.3 861.8M1829.3 955.8L1746.3 873.3M1829.3 967.3L1746.3 884.8" stroke="#931A4E"/>
<path d="M1746.3 827.3L1810.4 802.4L1892.6 882.2L1829.3 909.8Z" fill="#E5B4CB" fill-rule="evenodd" stroke="#931A4E"/>
<path d="M1586 782.4L1586 782.4L1586.1 782.4L1829.3 1024.8L1829.3 1024.8L1829.3 1024.8L2299.3 820.5L2299.3 820.5L2299.3 820.5L2299.3 706.5L2299.3 706.5L2299.3 706.5L1996.8 531.4L1996.8 531.4L1996.7 531.4L1928.6 552.2L1928.6 552.2L1928.6 552.2L1928.6 620.2L1928.6 620.2L1928.6 620.2L1929.7 620.9L1929.8 620.9L1929.8 620.9L1929.9 620.9L1929.9 621L1929.9 621L1929.9 621.1L1930 621.1L1930 621.2L1930 621.2L1930 621.3L1930 621.3L1930 621.4L1930 621.4L1930 621.5L1929.9 621.5L1929.9 621.5L1929.9 621.6L1929.9 621.6L1929.8 621.7L1929.8 621.7L1929.7 621.7L1929.7 621.7L1929.6 621.8L1586.1 736.4L1586 736.4L1586 736.4Z" stroke="#000" stroke-width="8.5" stroke-linejoin="miter" stroke-miterlimit="3"/>
</g>
<g fill="none" stroke-width="1.0">
<path d="M1884.8 1032.7L1951.5 1009.9L1978.9 1034L2050.8 1009.4L2350 1303.1L2340.8 1311L2249.4 1352.8L2181.4 1374.2L1884.8 1082.3Z" fill="#5F2A40"/>
<path d="M2248.1 1303.1L2182.7 1325.3L2182.7 1371L2248.1 1348.8Z" fill="#8A3A5C"/>
<path d="M2248.1 1303.1L2182.7 1325.3M2248.1 1348.8L2182.7 1371M2248.1 1303.1L2248.1 1348.8M2182.7 1325.3L2182.7 1371M2248.1 1314.6L2182.7 1336.8M2248.1 1326L2182.7 1348.2M2248.1 1337.4L2182.7 1359.6" stroke="#E9A9C6"/>
<path d="M2182.7 1325.3L1888.7 1035.3L1888.7 1081L2182.7 1371Z" fill="#8A3A5C"/>
<path d="M2182.7 1325.3L1888.7 1035.3M2182.7 1371L1888.7 1081M2182.7 1325.3L2182.7 1371M1888.7 1035.3L1888.7 1081M2182.7 1336.8L1888.7 1046.7M2182.7 1348.2L1888.7 1058.1M2182.7 1359.6L1888.7 1069.6" stroke="#E9A9C6"/>
<path d="M1888.7 1035.3L1950.2 1014.4L2248.1 1303.1L2182.7 1325.3Z" fill="#8A3A5C" fill-rule="evenodd" stroke="#E9A9C6"/>
<path d="M2171 1180.3L2104.3 1202.6L2104.3 1248.3L2171 1226Z" fill="#8A3A5C"/>
<path d="M2171 1180.3L2104.3 1202.6M2171 1226L2104.3 1248.3M2171 1180.3L2171 1226M2104.3 1202.6L2104.3 1248.3M2171 1191.8L2104.3 1214M2171 1203.2L2104.3 1225.4M2171 1214.6L2104.3 1236.8" stroke="#E9A9C6"/>
<path d="M2104.3 1202.6L2027.2 1125.5L2027.2 1171.2L2104.3 1248.3Z" fill="#8A3A5C"/>
<path d="M2104.3 1202.6L2027.2 1125.5M2104.3 1248.3L2027.2 1171.2M2104.3 1202.6L2104.3 1248.3M2027.2 1125.5L2027.2 1171.2M2104.3 1214L2027.2 1136.9M2104.3 1225.4L2027.2 1148.3M2104.3 1236.8L2027.2 1159.7" stroke="#E9A9C6"/>
<path d="M2027.2 1125.5L2092.6 1103.3L2171 1180.3L2104.3 1202.6Z" fill="#8A3A5C" fill-rule="evenodd" stroke="#E9A9C6"/>
<path d="M1884.8 1032.7L1884.8 1032.7L1884.8 1082.3L1884.8 1082.3L1884.8 1082.3L2181.4 1374.2L2181.4 1374.2L2181.4 1374.2L2249.4 1352.8L2249.4 1352.8L2340.8 1311L2340.8 1311L2340.8 1311L2350 1303.1L2350 1303.1L2350 1303.1L2050.8 1009.4L2050.8 1009.4L2050.8 1009.4L1979.2 1033.9L1979.1 1033.9L1979.1 1033.9L1979 1033.9L1979 1033.9L1978.9 1033.9L1978.9 1033.9L1978.8 1033.9L1978.8 1033.9L1978.8 1033.8L1978.7 1033.8L1978.7 1033.8L1951.5 1009.9L1951.5 1009.9L1951.5 1009.9L1884.8 1032.7Z" stroke="#000" stroke-width="8.5" stroke-linejoin="miter" stroke-miterlimit="3"/>
</g>
<g fill="none" stroke-width="1.1">
<path d="M2138.5 1023.4L2368.9 926.4L2667.8 1097.9L2362.9 1239.7Z" fill="#A07D8D" stroke="#931A4E"/>
<path d="M2138.5 976.4L2368.9 879.4L2368.9 926.4L2138.5 1023.4Z" fill="#E5B4CB"/>
<path d="M2138.5 976.4L2368.9 879.4M2138.5 1023.4L2368.9 926.4M2138.5 976.4L2138.5 1023.4M2368.9 879.4L2368.9 926.4M2138.5 988.1L2368.9 891.2M2138.5 999.9L2368.9 902.9M2138.5 1011.6L2368.9 914.7" stroke="#931A4E"/>
<path d="M2368.9 879.4L2667.8 1050.9L2667.8 1097.9L2368.9 926.4Z" fill="#E5B4CB"/>
<path d="M2368.9 879.4L2667.8 1050.9M2368.9 926.4L2667.8 1097.9M2368.9 879.4L2368.9 926.4M2667.8 1050.9L2667.8 1097.9M2368.9 891.2L2667.8 1062.7M2368.9 902.9L2667.8 1074.4M2368.9 914.7L2667.8 1086.2" stroke="#931A4E"/>
<path d="M2784 1055.3L2340.8 1255.7L2340.8 1302.7L2784 1102.3Z" fill="#E5B4CB"/>
<path d="M2784 1055.3L2340.8 1255.7M2784 1102.3L2340.8 1302.7M2784 1055.3L2784 1102.3M2340.8 1255.7L2340.8 1302.7M2784 1067.1L2340.8 1267.4M2784 1078.8L2340.8 1279.2M2784 1090.6L2340.8 1290.9" stroke="#931A4E"/>
<path d="M2340.8 1255.7L2042.3 965.2L2042.3 1012.2L2340.8 1302.7Z" fill="#E5B4CB"/>
<path d="M2340.8 1255.7L2042.3 965.2M2340.8 1302.7L2042.3 1012.2M2340.8 1255.7L2340.8 1302.7M2042.3 965.2L2042.3 1012.2M2340.8 1267.4L2042.3 976.9M2340.8 1279.2L2042.3 988.7M2340.8 1290.9L2042.3 1000.4" stroke="#931A4E"/>
<path d="M2042.3 965.2L2376.9 820.1L2784 1055.3L2340.8 1255.7ZM2138.5 976.4L2368.9 879.4L2667.8 1050.9L2362.9 1192.7Z" fill="#E5B4CB" fill-rule="evenodd" stroke="#931A4E"/>
<path d="M2784 1009.3L2723.9 1035.8L2723.9 1081.8L2784 1055.3Z" fill="#E5B4CB"/>
<path d="M2784 1009.3L2723.9 1035.8M2784 1055.3L2723.9 1081.8M2784 1009.3L2784 1055.3M2723.9 1035.8L2723.9 1081.8M2784 1020.8L2723.9 1047.3M2784 1032.3L2723.9 1058.8M2784 1043.8L2723.9 1070.3" stroke="#931A4E"/>
<path d="M2723.9 1035.8L2314.8 800.1L2314.8 846.1L2723.9 1081.8Z" fill="#E5B4CB"/>
<path d="M2723.9 1035.8L2314.8 800.1M2723.9 1081.8L2314.8 846.1M2723.9 1035.8L2723.9 1081.8M2314.8 800.1L2314.8 846.1M2723.9 1047.3L2314.8 811.6M2723.9 1058.8L2314.8 823.1M2723.9 1070.3L2314.8 834.6" stroke="#931A4E"/>
<path d="M2314.8 800.1L2376.9 774.1L2784 1009.3L2723.9 1035.8Z" fill="#E5B4CB" fill-rule="evenodd" stroke="#931A4E"/>
<path d="M2183.8 949.4L2119.6 973.1L2119.6 1042.1L2183.8 1018.4Z" fill="#E5B4CB"/>
<path d="M2183.8 949.4L2119.6 973.1M2183.8 1018.4L2119.6 1042.1M2183.8 949.4L2183.8 1018.4M2119.6 973.1L2119.6 1042.1M2183.8 960.9L2119.6 984.6M2183.8 972.4L2119.6 996.1M2183.8 983.9L2119.6 1007.6M2183.8 995.4L2119.6 1019.1M2183.8 1006.9L2119.6 1030.6" stroke="#931A4E"/>
<path d="M2119.6 973.1L2042.3 896.2L2042.3 965.2L2119.6 1042.1Z" fill="#E5B4CB"/>
<path d="M2119.6 973.1L2042.3 896.2M2119.6 1042.1L2042.3 965.2M2119.6 973.1L2119.6 1042.1M2042.3 896.2L2042.3 965.2M2119.6 984.6L2042.3 907.7M2119.6 996.1L2042.3 919.2M2119.6 1007.6L2042.3 930.7M2119.6 1019.1L2042.3 942.2M2119.6 1030.6L2042.3 953.7" stroke="#931A4E"/>
<path d="M2042.3 896.2L2102.4 870.1L2183.8 949.4L2119.6 973.1Z" fill="#E5B4CB" fill-rule="evenodd" stroke="#931A4E"/>
<path d="M2042.3 896.2L2042.3 896.2L2042.3 1012.1L2042.3 1012.2L2042.3 1012.2L2340.8 1302.6L2340.8 1302.7L2340.8 1302.6L2784 1102.3L2784 1102.3L2784 1102.3L2784 1009.3L2784 1009.3L2784 1009.3L2376.9 774.1L2376.9 774.1L2376.9 774.1L2314.8 800.1L2314.8 800.1L2314.8 800.2L2314.8 846.1L2314.8 846.1L2314.8 846.2L2314.8 846.2L2314.8 846.2L2314.9 846.2L2314.9 846.2L2314.9 846.3L2315 846.3L2315 846.4L2315 846.4L2315 846.4L2315 846.5L2315 846.5L2315 846.6L2315 846.6L2315 846.7L2315 846.7L2315 846.8L2315 846.8L2315 846.9L2314.9 846.9L2314.9 846.9L2314.9 847L2314.8 847L2314.8 847L2314.7 847L2151.7 917.7L2151.6 917.8L2151.6 917.8L2151.5 917.8L2151.5 917.8L2151.5 917.8L2151.4 917.8L2151.4 917.8L2151.3 917.7L2151.3 917.7L2151.2 917.7L2151.2 917.7L2151.1 917.6L2102.4 870.1L2102.4 870.1L2102.4 870.1L2042.3 896.1Z" stroke="#000" stroke-width="8.5" stroke-linejoin="miter" stroke-miterlimit="3"/>
</g>
<g fill="none" stroke-width="1.2">
<path d="M2740.4 1249.8L2821.3 1208.7L3049.7 1335.3L2910.9 1388Z" fill="#3F5679"/>
<path d="M3049.7 1222.8L2988.2 1245.6L2988.2 1358.1L3049.7 1335.3Z" fill="#5A7BAB"/>
<path d="M3049.7 1222.8L2988.2 1245.6M3049.7 1335.3L2988.2 1358.1M3049.7 1222.8L3049.7 1335.3M2988.2 1245.6L2988.2 1358.1M3049.7 1234L2988.2 1256.9M3049.7 1245.3L2988.2 1268.1M3049.7 1256.5L2988.2 1279.4M3049.7 1267.8L2988.2 1290.6M3049.7 1279L2988.2 1301.9M3049.7 1290.3L2988.2 1313.1M3049.7 1301.5L2988.2 1324.4M3049.7 1312.8L2988.2 1335.6M3049.7 1324L2988.2 1346.9" stroke="#EEF2F8"/>
<path d="M2988.2 1245.6L2821.3 1096.2L2821.3 1208.7L2988.2 1358.1Z" fill="#5A7BAB"/>
<path d="M2988.2 1245.6L2821.3 1096.2M2988.2 1358.1L2821.3 1208.7M2988.2 1245.6L2988.2 1358.1M2821.3 1096.2L2821.3 1208.7M2988.2 1256.9L2821.3 1107.5M2988.2 1268.1L2821.3 1118.7M2988.2 1279.4L2821.3 1130M2988.2 1290.6L2821.3 1141.2M2988.2 1301.9L2821.3 1152.5M2988.2 1313.1L2821.3 1163.7M2988.2 1324.4L2821.3 1175M2988.2 1335.6L2821.3 1186.2M2988.2 1346.9L2821.3 1197.5" stroke="#EEF2F8"/>
<path d="M2821.3 1096.2L2882.8 1073.4L3049.7 1222.8L2988.2 1245.6Z" fill="#5A7BAB" fill-rule="evenodd" stroke="#EEF2F8"/>
<path d="M2740.4 1249.8L2740.4 1249.8L2910.9 1388L2910.9 1388L2910.9 1388L3047.1 1336.3L3047.1 1336.3L3049.7 1335.3L3049.7 1335.3L3049.7 1335.3L3049.7 1222.8L3049.7 1222.8L3049.7 1222.8L2882.8 1073.4L2882.8 1073.4L2882.8 1073.4L2821.3 1096.2L2821.3 1096.2L2821.3 1096.3L2821.3 1208.4L2821.3 1208.5L2821.3 1208.5L2821.2 1208.6L2821.2 1208.6L2821.2 1208.7L2821.2 1208.7L2821.1 1208.7L2821.1 1208.8L2821.1 1208.8L2821 1208.8L2821 1208.9L2740.4 1249.8Z" stroke="#000" stroke-width="8.5" stroke-linejoin="miter" stroke-miterlimit="3"/>
</g>
<g fill="none" stroke-width="1.25">
<path d="M2167.9 1469.2L2460.6 1330.5L2681.8 1256.7L2721.9 1296.7L2802 1368.2L2876.9 1436.1L2359.5 1615.5Z" fill="#6C7389"/>
<path d="M2718.4 1246.2L2505.9 1321.1L2505.9 1368.1L2718.4 1293.2Z" fill="#9CA6C2"/>
<path d="M2718.4 1246.2L2505.9 1321.1M2718.4 1293.2L2505.9 1368.1M2718.4 1246.2L2718.4 1293.2M2718.4 1258L2505.9 1332.9M2718.4 1269.7L2505.9 1344.6M2718.4 1281.5L2505.9 1356.4" stroke="#F4F6FA"/>
<path d="M2505.9 1321.1L2272.4 1429.1L2272.4 1476.1L2505.9 1368.1Z" fill="#9CA6C2"/>
<path d="M2505.9 1321.1L2272.4 1429.1M2505.9 1368.1L2272.4 1476.1M2272.4 1429.1L2272.4 1476.1M2505.9 1332.9L2272.4 1440.9M2505.9 1344.6L2272.4 1452.6M2505.9 1356.4L2272.4 1464.4" stroke="#F4F6FA"/>
<path d="M2418.7 1540.6L2357.8 1568.5L2357.8 1615.5L2418.7 1587.6Z" fill="#9CA6C2"/>
<path d="M2418.7 1540.6L2357.8 1568.5M2418.7 1587.6L2357.8 1615.5M2418.7 1540.6L2418.7 1587.6M2357.8 1568.5L2357.8 1615.5M2418.7 1552.4L2357.8 1580.3M2418.7 1564.1L2357.8 1592M2418.7 1575.9L2357.8 1603.8" stroke="#F4F6FA"/>
<path d="M2357.8 1568.5L2167.9 1422.2L2167.9 1469.2L2357.8 1615.5Z" fill="#9CA6C2"/>
<path d="M2357.8 1568.5L2167.9 1422.2M2357.8 1615.5L2167.9 1469.2M2357.8 1568.5L2357.8 1615.5M2167.9 1422.2L2167.9 1469.2M2357.8 1580.3L2167.9 1433.9M2357.8 1592L2167.9 1445.7M2357.8 1603.8L2167.9 1457.4" stroke="#F4F6FA"/>
<path d="M2167.9 1422.2L2460.6 1283.5L2681.8 1209.6L2718.4 1246.2L2505.9 1321.1L2272.4 1429.1L2418.7 1540.6L2357.8 1568.5Z" fill="#9CA6C2" fill-rule="evenodd" stroke="#F4F6FA"/>
<path d="M2418.7 1517.6L2357.8 1545.5L2357.8 1568.5L2418.7 1540.6Z" fill="#9CA6C2"/>
<path d="M2418.7 1517.6L2357.8 1545.5M2418.7 1540.6L2357.8 1568.5M2418.7 1517.6L2418.7 1540.6M2357.8 1545.5L2357.8 1568.5M2418.7 1529.1L2357.8 1557" stroke="#F4F6FA"/>
<path d="M2357.8 1545.5L2265.4 1474.1L2265.4 1497.1L2357.8 1568.5Z" fill="#9CA6C2"/>
<path d="M2357.8 1545.5L2265.4 1474.1M2357.8 1568.5L2265.4 1497.1M2357.8 1545.5L2357.8 1568.5M2265.4 1474.1L2265.4 1497.1M2357.8 1557L2265.4 1485.6" stroke="#F4F6FA"/>
<path d="M2265.4 1474.1L2326.4 1447.2L2418.7 1517.6L2357.8 1545.5Z" fill="#9CA6C2" fill-rule="evenodd" stroke="#F4F6FA"/>
<path d="M2876.9 1388L2488.4 1519.7L2488.4 1566.7L2876.9 1435Z" fill="#9CA6C2"/>
<path d="M2876.9 1388L2488.4 1519.7M2876.9 1435L2488.4 1566.7M2876.9 1388L2876.9 1435M2488.4 1519.7L2488.4 1566.7M2876.9 1399.8L2488.4 1531.5M2876.9 1411.5L2488.4 1543.2M2876.9 1423.3L2488.4 1555" stroke="#F4F6FA"/>
<path d="M2488.4 1519.7L2450.1 1484.9L2450.1 1531.9L2488.4 1566.7Z" fill="#9CA6C2"/>
<path d="M2488.4 1519.7L2450.1 1484.9M2488.4 1566.7L2450.1 1531.9M2488.4 1519.7L2488.4 1566.7M2450.1 1484.9L2450.1 1531.9M2488.4 1531.5L2450.1 1496.6M2488.4 1543.2L2450.1 1508.4M2488.4 1555L2450.1 1520.1" stroke="#F4F6FA"/>
<path d="M2450.1 1484.9L2840.3 1351.4L2876.9 1388L2488.4 1519.7Z" fill="#9CA6C2" fill-rule="evenodd" stroke="#F4F6FA"/>
<path d="M2167.9 1469.1L2167.9 1469.1L2167.9 1469.2L2167.9 1469.2L2167.9 1469.2L2173.3 1473.4L2173.3 1473.4L2357.8 1615.5L2357.8 1615.5L2357.8 1615.5L2358.6 1615.1L2358.6 1615.1L2358.6 1615.1L2358.7 1615.1L2358.7 1615.1L2358.8 1615.1L2358.8 1615.1L2358.9 1615.1L2358.9 1615.1L2359 1615.1L2359 1615.2L2359.1 1615.2L2359.5 1615.5L2359.5 1615.5L2359.5 1615.5L2876.9 1436.1L2876.9 1436.1L2876.9 1436.1L2876.7 1435.9L2876.7 1435.8L2876.6 1435.8L2876.6 1435.8L2876.6 1435.7L2876.6 1435.7L2876.5 1435.6L2876.5 1435.6L2876.5 1435.5L2876.5 1435.5L2876.5 1435.4L2876.5 1435.4L2876.6 1435.3L2876.6 1435.3L2876.6 1435.2L2876.6 1435.2L2876.7 1435.2L2876.7 1435.1L2876.7 1435.1L2876.8 1435.1L2876.8 1435.1L2876.9 1435L2876.9 1435L2876.9 1435L2876.9 1435L2876.9 1388L2876.9 1388L2876.9 1388L2840.4 1351.4L2840.3 1351.4L2840.3 1351.4L2799.4 1365.4L2799.3 1365.5L2799.3 1365.5L2799.2 1365.5L2799.2 1365.5L2799.1 1365.5L2799.1 1365.5L2799 1365.4L2799 1365.4L2798.9 1365.4L2798.9 1365.4L2798.9 1365.3L2721.9 1296.7L2721.9 1296.7L2718.5 1293.4L2718.5 1293.4L2718.5 1293.3L2718.5 1293.3L2718.4 1293.2L2718.4 1293.2L2718.4 1293.1L2718.4 1293.1L2718.4 1293L2718.4 1246.2L2718.4 1246.2L2718.4 1246.2L2681.8 1209.6L2681.8 1209.6L2681.8 1209.6L2460.6 1283.5L2460.5 1283.5L2167.9 1422.2L2167.9 1422.2L2167.9 1422.2Z" stroke="#000" stroke-width="8.5" stroke-linejoin="miter" stroke-miterlimit="3"/>
</g>
<g fill="none" stroke-width="1.25">
<path d="M2857 1520.2L3138.7 1415.5L3320.4 1578.7L3346.6 1601.8L3428.8 1669.5L3176.3 1765Z" fill="#6C7389"/>
<path d="M3115.6 1426.3L2959.5 1485.4L2959.5 1531.4L3115.6 1472.3Z" fill="#9CA6C2"/>
<path d="M3115.6 1426.3L2959.5 1485.4M3115.6 1472.3L2959.5 1531.4M3115.6 1426.3L3115.6 1472.3M2959.5 1485.4L2959.5 1531.4M3115.6 1437.8L2959.5 1496.9M3115.6 1449.3L2959.5 1508.4M3115.6 1460.8L2959.5 1519.9" stroke="#F4F6FA"/>
<path d="M3320.4 1531.6L3258.8 1554.7L3258.8 1600.7L3320.4 1577.6Z" fill="#9CA6C2"/>
<path d="M3320.4 1531.6L3258.8 1554.7M3320.4 1577.6L3258.8 1600.7M3320.4 1531.6L3320.4 1577.6M3258.8 1554.7L3258.8 1600.7M3320.4 1543.1L3258.8 1566.2M3320.4 1554.6L3258.8 1577.7M3320.4 1566.1L3258.8 1589.2" stroke="#F4F6FA"/>
<path d="M3258.8 1554.7L3115.6 1426.3L3115.6 1472.3L3258.8 1600.7Z" fill="#9CA6C2"/>
<path d="M3258.8 1554.7L3115.6 1426.3M3258.8 1600.7L3115.6 1472.3M3258.8 1554.7L3258.8 1600.7M3115.6 1426.3L3115.6 1472.3M3258.8 1566.2L3115.6 1437.8M3258.8 1577.7L3115.6 1449.3M3258.8 1589.2L3115.6 1460.8" stroke="#F4F6FA"/>
<path d="M3121.8 1604.9L3060.2 1632.6L3060.2 1678.6L3121.8 1650.9Z" fill="#9CA6C2"/>
<path d="M3121.8 1604.9L3060.2 1632.6M3121.8 1650.9L3060.2 1678.6M3121.8 1604.9L3121.8 1650.9M3060.2 1632.6L3060.2 1678.6M3121.8 1616.4L3060.2 1644.1M3121.8 1627.9L3060.2 1655.6M3121.8 1639.4L3060.2 1667.1" stroke="#F4F6FA"/>
<path d="M3060.2 1632.6L2857 1472.5L2857 1518.5L3060.2 1678.6Z" fill="#9CA6C2"/>
<path d="M3060.2 1632.6L2857 1472.5M3060.2 1678.6L2857 1518.5M3060.2 1632.6L3060.2 1678.6M2857 1472.5L2857 1518.5M3060.2 1644.1L2857 1484M3060.2 1655.6L2857 1495.5M3060.2 1667.1L2857 1507" stroke="#F4F6FA"/>
<path d="M2857 1472.5L3138.7 1368.4L3320.4 1531.6L3258.8 1554.7L3115.6 1426.3L2959.5 1485.4L3121.8 1604.9L3060.2 1632.6Z" fill="#9CA6C2" fill-rule="evenodd" stroke="#F4F6FA"/>
<path d="M3320.4 1484.6L3258.8 1507.7L3258.8 1554.7L3320.4 1531.6Z" fill="#9CA6C2"/>
<path d="M3320.4 1484.6L3258.8 1507.7M3320.4 1531.6L3258.8 1554.7M3320.4 1484.6L3320.4 1531.6M3258.8 1507.7L3258.8 1554.7M3320.4 1496.3L3258.8 1519.4M3320.4 1508.1L3258.8 1531.2M3320.4 1519.8L3258.8 1542.9" stroke="#F4F6FA"/>
<path d="M3258.8 1507.7L3078.7 1346L3078.7 1393L3258.8 1554.7Z" fill="#9CA6C2"/>
<path d="M3258.8 1507.7L3078.7 1346M3258.8 1554.7L3078.7 1393M3258.8 1507.7L3258.8 1554.7M3078.7 1346L3078.7 1393M3258.8 1519.4L3078.7 1357.8M3258.8 1531.2L3078.7 1369.5M3258.8 1542.9L3078.7 1381.3" stroke="#F4F6FA"/>
<path d="M3078.7 1346L3138.7 1321.4L3320.4 1484.6L3258.8 1507.7Z" fill="#9CA6C2" fill-rule="evenodd" stroke="#F4F6FA"/>
<path d="M3006.9 1451.3L2947.2 1477.4L2947.2 1545.4L3006.9 1519.3Z" fill="#9CA6C2"/>
<path d="M3006.9 1451.3L2947.2 1477.4M3006.9 1519.3L2947.2 1545.4M3006.9 1451.3L3006.9 1519.3M2947.2 1477.4L2947.2 1545.4M3006.9 1464.9L2947.2 1491M3006.9 1478.5L2947.2 1504.6M3006.9 1492.1L2947.2 1518.2M3006.9 1505.7L2947.2 1531.8" stroke="#F4F6FA"/>
<path d="M2947.2 1477.4L2857 1404.5L2857 1472.5L2947.2 1545.4Z" fill="#9CA6C2"/>
<path d="M2947.2 1477.4L2857 1404.5M2947.2 1545.4L2857 1472.5M2947.2 1477.4L2947.2 1545.4M2857 1404.5L2857 1472.5M2947.2 1491L2857 1418.1M2947.2 1504.6L2857 1431.7M2947.2 1518.2L2857 1445.3M2947.2 1531.8L2857 1458.9" stroke="#F4F6FA"/>
<path d="M2857 1404.5L2917 1382.9L3006.9 1451.3L2947.2 1477.4Z" fill="#9CA6C2" fill-rule="evenodd" stroke="#F4F6FA"/>
<path d="M3428.8 1623.3L3176.3 1717.3L3176.3 1763.3L3428.8 1669.3Z" fill="#9CA6C2"/>
<path d="M3428.8 1623.3L3176.3 1717.3M3428.8 1669.3L3176.3 1763.3M3428.8 1623.3L3428.8 1669.3M3176.3 1717.3L3176.3 1763.3M3428.8 1634.8L3176.3 1728.8M3428.8 1646.3L3176.3 1740.3M3428.8 1657.8L3176.3 1751.8" stroke="#F4F6FA"/>
<path d="M3176.3 1717.3L3135.6 1681.8L3135.6 1727.8L3176.3 1763.3Z" fill="#9CA6C2"/>
<path d="M3176.3 1717.3L3135.6 1681.8M3176.3 1763.3L3135.6 1727.8M3176.3 1717.3L3176.3 1763.3M3135.6 1681.8L3135.6 1727.8M3176.3 1728.8L3135.6 1693.3M3176.3 1740.3L3135.6 1704.8M3176.3 1751.8L3135.6 1716.3" stroke="#F4F6FA"/>
<path d="M3135.6 1681.8L3390.3 1587.9L3428.8 1623.3L3176.3 1717.3Z" fill="#9CA6C2" fill-rule="evenodd" stroke="#F4F6FA"/>
<path d="M2857 1518.4L2857 1518.5L2857 1518.5L2857.8 1519.1L2857.8 1519.1L2857.8 1519.1L2857.9 1519.2L2857.9 1519.2L2857.9 1519.3L2857.9 1519.3L2857.9 1519.4L2857.9 1519.4L2857.9 1519.5L2857.9 1519.5L2857.9 1519.5L2857.9 1519.6L2857.9 1519.6L2857.9 1519.7L2857.9 1519.7L2857.9 1519.8L2857.8 1519.8L2857.8 1519.8L2857.7 1519.9L2857.7 1519.9L2857.7 1519.9L2857.6 1519.9L2857 1520.2L2857 1520.2L2857 1520.2L2938.4 1582.6L2938.4 1582.6L3060.2 1678.6L3060.2 1678.6L3060.2 1678.6L3062.1 1677.7L3062.1 1677.7L3062.1 1677.7L3062.2 1677.7L3062.2 1677.7L3062.3 1677.7L3062.3 1677.7L3062.4 1677.7L3062.4 1677.7L3062.5 1677.8L3062.5 1677.8L3062.6 1677.8L3176.3 1765L3176.3 1765L3176.3 1765L3428.8 1669.5L3428.8 1669.5L3428.8 1669.5L3428.8 1669.5L3428.8 1669.5L3428.8 1669.4L3428.8 1669.4L3428.8 1669.3L3428.8 1669.3L3428.8 1623.4L3428.8 1623.3L3428.8 1623.3L3390.3 1587.9L3390.3 1587.9L3390.3 1587.9L3348.7 1603.3L3348.7 1603.3L3348.7 1603.3L3348.6 1603.3L3348.6 1603.3L3348.5 1603.3L3348.5 1603.3L3348.4 1603.3L3348.4 1603.2L3348.3 1603.2L3348.3 1603.2L3348.3 1603.2L3346.6 1601.8L3346.6 1601.8L3320.4 1578.7L3320.4 1578.7L3320.1 1578.5L3320.1 1578.4L3320.1 1578.4L3320 1578.3L3320 1578.3L3320 1578.3L3320 1578.2L3320 1578.2L3320 1578.1L3320 1578.1L3320 1578L3320 1578L3320 1577.9L3320 1577.9L3320 1577.8L3320.1 1577.8L3320.1 1577.8L3320.1 1577.7L3320.2 1577.7L3320.2 1577.7L3320.3 1577.6L3320.3 1577.6L3320.4 1577.6L3320.4 1577.6L3320.4 1577.6L3320.4 1484.6L3320.4 1484.6L3320.4 1484.6L3138.7 1321.4L3138.7 1321.4L3138.7 1321.4L3078.7 1346L3078.7 1346L3078.7 1346L3078.7 1390.2L3078.7 1390.3L3078.7 1390.3L3078.7 1390.4L3078.6 1390.4L3078.6 1390.5L3078.6 1390.5L3078.6 1390.5L3078.5 1390.6L3078.5 1390.6L3078.4 1390.6L3078.4 1390.7L3078.3 1390.7L2976.9 1428.1L2976.9 1428.2L2976.8 1428.2L2976.8 1428.2L2976.7 1428.2L2976.7 1428.2L2976.6 1428.2L2976.6 1428.1L2976.5 1428.1L2976.5 1428.1L2976.4 1428.1L2917 1382.9L2917 1382.9L2917 1382.9L2857 1404.5L2857 1404.5L2857 1404.5Z" stroke="#000" stroke-width="8.5" stroke-linejoin="miter" stroke-miterlimit="3"/>
</g>
<g fill="none" stroke-width="1.25">
<path d="M2453.3 1684.5L2712.8 1579.8L3041.7 1830.2L2780.1 1929.7Z" fill="#6C7389"/>
<path d="M2752.9 1567.9L2493 1668.2L2493 1714.2L2752.9 1613.9Z" fill="#9CA6C2"/>
<path d="M2752.9 1567.9L2493 1668.2M2752.9 1613.9L2493 1714.2M2752.9 1567.9L2752.9 1613.9M2493 1668.2L2493 1714.2M2752.9 1579.4L2493 1679.7M2752.9 1590.9L2493 1691.2M2752.9 1602.4L2493 1702.7" stroke="#F4F6FA"/>
<path d="M2493 1668.2L2453.3 1633.2L2453.3 1679.2L2493 1714.2Z" fill="#9CA6C2"/>
<path d="M2493 1668.2L2453.3 1633.2M2493 1714.2L2453.3 1679.2M2493 1668.2L2493 1714.2M2453.3 1633.2L2453.3 1679.2M2493 1679.7L2453.3 1644.7M2493 1691.2L2453.3 1656.2M2493 1702.7L2453.3 1667.7" stroke="#F4F6FA"/>
<path d="M2453.3 1633.2L2712.8 1534L2752.9 1567.9L2493 1668.2Z" fill="#9CA6C2" fill-rule="evenodd" stroke="#F4F6FA"/>
<path d="M3041.7 1778.6L2982.2 1804L2982.2 1853L3041.7 1827.6Z" fill="#9CA6C2"/>
<path d="M3041.7 1778.6L2982.2 1804M3041.7 1827.6L2982.2 1853M3041.7 1778.6L3041.7 1827.6M2982.2 1804L2982.2 1853M3041.7 1790.8L2982.2 1816.3M3041.7 1803.1L2982.2 1828.5M3041.7 1815.3L2982.2 1840.8" stroke="#F4F6FA"/>
<path d="M2982.2 1804L2759.7 1635.9L2759.7 1684.9L2982.2 1853Z" fill="#9CA6C2"/>
<path d="M2982.2 1804L2759.7 1635.9M2982.2 1853L2759.7 1684.9M2982.2 1804L2982.2 1853M2759.7 1635.9L2759.7 1684.9M2982.2 1816.3L2759.7 1648.1M2982.2 1828.5L2759.7 1660.4M2982.2 1840.8L2759.7 1672.6" stroke="#F4F6FA"/>
<path d="M2759.7 1635.9L2820.9 1612.1L3041.7 1778.6L2982.2 1804Z" fill="#9CA6C2" fill-rule="evenodd" stroke="#F4F6FA"/>
<path d="M3041.7 1710.6L2982.2 1736L2982.2 1804L3041.7 1778.6Z" fill="#9CA6C2"/>
<path d="M3041.7 1710.6L2982.2 1736M3041.7 1778.6L2982.2 1804M3041.7 1710.6L3041.7 1778.6M2982.2 1736L2982.2 1804M3041.7 1721.9L2982.2 1747.4M3041.7 1733.2L2982.2 1758.7M3041.7 1744.6L2982.2 1770M3041.7 1755.9L2982.2 1781.4M3041.7 1767.2L2982.2 1792.7" stroke="#F4F6FA"/>
<path d="M2982.2 1736L2888.8 1666.4L2888.8 1734.4L2982.2 1804Z" fill="#9CA6C2"/>
<path d="M2982.2 1736L2888.8 1666.4M2982.2 1804L2888.8 1734.4M2982.2 1736L2982.2 1804M2888.8 1666.4L2888.8 1734.4M2982.2 1747.4L2888.8 1677.7M2982.2 1758.7L2888.8 1689.1M2982.2 1770L2888.8 1700.4M2982.2 1781.4L2888.8 1711.7M2982.2 1792.7L2888.8 1723.1" stroke="#F4F6FA"/>
<path d="M2888.8 1666.4L2950 1640.9L3041.7 1710.6L2982.2 1736Z" fill="#9CA6C2" fill-rule="evenodd" stroke="#F4F6FA"/>
<path d="M2840.6 1856L2780.1 1880.5L2780.1 1927.5L2840.6 1903Z" fill="#9CA6C2"/>
<path d="M2840.6 1856L2780.1 1880.5M2840.6 1903L2780.1 1927.5M2840.6 1856L2840.6 1903M2780.1 1880.5L2780.1 1927.5M2840.6 1867.8L2780.1 1892.2M2840.6 1879.5L2780.1 1904M2840.6 1891.3L2780.1 1915.7" stroke="#F4F6FA"/>
<path d="M2780.1 1880.5L2555.9 1712.3L2555.9 1759.3L2780.1 1927.5Z" fill="#9CA6C2"/>
<path d="M2780.1 1880.5L2555.9 1712.3M2780.1 1927.5L2555.9 1759.3M2780.1 1880.5L2780.1 1927.5M2555.9 1712.3L2555.9 1759.3M2780.1 1892.2L2555.9 1724.1M2780.1 1904L2555.9 1735.8M2780.1 1915.7L2555.9 1747.6" stroke="#F4F6FA"/>
<path d="M2555.9 1712.3L2614.3 1688.5L2840.6 1856L2780.1 1880.5Z" fill="#9CA6C2" fill-rule="evenodd" stroke="#F4F6FA"/>
<path d="M2453.3 1679.2L2453.3 1679.2L2453.3 1679.2L2456.8 1682.3L2456.8 1682.3L2456.9 1682.3L2456.9 1682.4L2456.9 1682.4L2456.9 1682.5L2457 1682.5L2457 1682.6L2457 1682.6L2457 1682.7L2457 1682.7L2457 1682.8L2457 1682.8L2456.9 1682.8L2456.9 1682.9L2456.9 1682.9L2456.9 1683L2456.8 1683L2456.8 1683L2456.8 1683.1L2456.7 1683.1L2456.7 1683.1L2453.3 1684.5L2453.3 1684.5L2453.3 1684.5L2780.1 1929.7L2780.1 1929.7L2780.1 1929.7L2981.8 1853L2981.8 1853L2981.9 1853L2981.9 1853L2982 1853L2982 1853L2982.1 1853L2982.1 1853L2982.2 1853L2982.2 1853L2982.2 1853L2982.2 1853L2982.2 1853L2986.8 1851.1L2986.8 1851.1L3041.7 1830.2L3041.7 1830.2L3041.7 1830.2L3040.2 1829L3040.1 1829L3040.1 1829L3040.1 1828.9L3040 1828.9L3040 1828.8L3040 1828.8L3040 1828.8L3040 1828.7L3040 1828.7L3040 1828.6L3040 1828.6L3040 1828.5L3040 1828.5L3040 1828.4L3040 1828.4L3040.1 1828.3L3040.1 1828.3L3040.1 1828.3L3040.2 1828.2L3040.2 1828.2L3040.3 1828.2L3041.7 1827.6L3041.7 1827.6L3041.7 1827.6L3041.7 1710.6L3041.7 1710.6L3041.7 1710.6L2950 1640.9L2950 1640.9L2950 1640.9L2891.7 1665.2L2891.7 1665.2L2891.6 1665.2L2891.6 1665.2L2891.5 1665.2L2891.5 1665.2L2891.4 1665.2L2891.4 1665.2L2891.3 1665.2L2891.3 1665.2L2891.3 1665.2L2891.2 1665.1L2820.9 1612.1L2820.9 1612.1L2820.9 1612.1L2777.7 1628.9L2777.6 1628.9L2777.6 1628.9L2777.5 1628.9L2777.5 1628.9L2777.4 1628.9L2777.4 1628.9L2777.3 1628.9L2777.3 1628.9L2777.2 1628.9L2777.2 1628.8L2753.1 1610.5L2753.1 1610.5L2753 1610.4L2753 1610.4L2753 1610.4L2753 1610.3L2752.9 1610.3L2752.9 1610.2L2752.9 1610.2L2752.9 1610.1L2752.9 1568L2752.9 1567.9L2752.9 1567.9L2712.8 1534L2712.8 1534L2712.8 1534L2453.3 1633.2L2453.3 1633.2L2453.3 1633.2Z" stroke="#000" stroke-width="8.5" stroke-linejoin="miter" stroke-miterlimit="3"/>
</g>
<g fill="none" stroke-width="0.9">
<path d="M1369.4 1271.1L1141.3 1344.3L1214.5 1422.1L1248.8 1454.7L1478.1 1382.1L1400.5 1300.8Z" fill="#A3A396"/>
<path d="M1400.5 1257.8L1173.9 1331.8L1173.9 1374.8L1400.5 1300.8Z" fill="#E8E6D3"/>
<path d="M1400.5 1257.8L1173.9 1331.8M1400.5 1300.8L1173.9 1374.8M1400.5 1257.8L1400.5 1300.8M1173.9 1331.8L1173.9 1374.8M1400.5 1268.5L1173.9 1342.5M1400.5 1279.3L1173.9 1353.3M1400.5 1290L1173.9 1364" stroke="#8C8C90"/>
<path d="M1173.9 1331.8L1141.3 1301.3L1141.3 1344.3L1173.9 1374.8Z" fill="#E8E6D3"/>
<path d="M1173.9 1331.8L1141.3 1301.3M1173.9 1374.8L1141.3 1344.3M1173.9 1331.8L1173.9 1374.8M1141.3 1301.3L1141.3 1344.3M1173.9 1342.5L1141.3 1312M1173.9 1353.3L1141.3 1322.8M1173.9 1364L1141.3 1333.5" stroke="#8C8C90"/>
<path d="M1141.3 1301.3L1369.4 1228.1L1400.5 1257.8L1173.9 1331.8Z" fill="#E8E6D3" fill-rule="evenodd" stroke="#8C8C90"/>
<path d="M1478.1 1361.4L1248.8 1434L1248.8 1454.7L1478.1 1382.1Z" fill="#E8E6D3"/>
<path d="M1478.1 1361.4L1248.8 1434M1478.1 1382.1L1248.8 1454.7M1478.1 1361.4L1478.1 1382.1M1248.8 1434L1248.8 1454.7M1478.1 1371.8L1248.8 1444.3" stroke="#8C8C90"/>
<path d="M1248.8 1434L1214.5 1401.4L1214.5 1422.1L1248.8 1454.7Z" fill="#E8E6D3"/>
<path d="M1248.8 1434L1214.5 1401.4M1248.8 1454.7L1214.5 1422.1M1248.8 1434L1248.8 1454.7M1214.5 1401.4L1214.5 1422.1M1248.8 1444.3L1214.5 1411.7" stroke="#8C8C90"/>
<path d="M1214.5 1401.4L1445.5 1327.9L1478.1 1361.4L1248.8 1434Z" fill="#E8E6D3" fill-rule="evenodd" stroke="#8C8C90"/>
<path d="M1141.3 1344.3L1141.3 1344.3L1214.5 1422.1L1214.5 1422.1L1248.8 1454.7L1248.8 1454.7L1248.9 1454.7L1478.1 1382.1L1478.1 1382.1L1478.1 1382.1L1478.1 1361.4L1478.1 1361.4L1478.1 1361.4L1445.5 1328L1445.5 1327.9L1445.5 1327.9L1431.2 1332.5L1431.1 1332.5L1431.1 1332.5L1431 1332.5L1431 1332.5L1430.9 1332.5L1430.9 1332.5L1430.8 1332.5L1430.8 1332.5L1430.7 1332.4L1430.7 1332.4L1430.6 1332.4L1400.6 1300.9L1400.6 1300.9L1400.6 1300.8L1400.5 1300.8L1400.5 1300.7L1400.5 1300.7L1400.5 1300.6L1400.5 1300.6L1400.5 1300.6L1400.5 1257.8L1400.5 1257.8L1400.5 1257.7L1369.4 1228.1L1369.4 1228.1L1369.4 1228.1L1141.4 1301.3L1141.3 1301.3L1141.3 1301.3L1141.3 1344.3Z" stroke="#000" stroke-width="8.5" stroke-linejoin="miter" stroke-miterlimit="3"/>
</g>
<g fill="none" stroke-width="0.9">
<path d="M1050.4 1376.3L846.7 1470.1L939.9 1539.1L983.5 1568.7L1187.2 1475.4L1091 1405Z" fill="#A3A396"/>
<path d="M1091 1363.5L887.5 1457.7L887.5 1499.2L1091 1405Z" fill="#E8E6D3"/>
<path d="M1091 1363.5L887.5 1457.7M1091 1405L887.5 1499.2M1091 1363.5L1091 1405M887.5 1457.7L887.5 1499.2M1091 1373.9L887.5 1468M1091 1384.2L887.5 1478.4M1091 1394.6L887.5 1488.8" stroke="#8C8C90"/>
<path d="M887.5 1457.7L846.7 1428.6L846.7 1470.1L887.5 1499.2Z" fill="#E8E6D3"/>
<path d="M887.5 1457.7L846.7 1428.6M887.5 1499.2L846.7 1470.1M887.5 1457.7L887.5 1499.2M846.7 1428.6L846.7 1470.1M887.5 1468L846.7 1439M887.5 1478.4L846.7 1449.4M887.5 1488.8L846.7 1459.8" stroke="#8C8C90"/>
<path d="M846.7 1428.6L1050.4 1334.8L1091 1363.5L887.5 1457.7Z" fill="#E8E6D3" fill-rule="evenodd" stroke="#8C8C90"/>
<path d="M1187.2 1454.7L983.5 1548L983.5 1568.7L1187.2 1475.4Z" fill="#E8E6D3"/>
<path d="M1187.2 1454.7L983.5 1548M1187.2 1475.4L983.5 1568.7M1187.2 1454.7L1187.2 1475.4M983.5 1548L983.5 1568.7M1187.2 1465.1L983.5 1558.3" stroke="#8C8C90"/>
<path d="M983.5 1548L939.9 1518.4L939.9 1539.1L983.5 1568.7Z" fill="#E8E6D3"/>
<path d="M983.5 1548L939.9 1518.4M983.5 1568.7L939.9 1539.1M983.5 1548L983.5 1568.7M939.9 1518.4L939.9 1539.1M983.5 1558.3L939.9 1528.7" stroke="#8C8C90"/>
<path d="M939.9 1518.4L1147.3 1425.7L1187.2 1454.7L983.5 1548Z" fill="#E8E6D3" fill-rule="evenodd" stroke="#8C8C90"/>
<path d="M846.7 1470.1L846.7 1470.1L939.9 1539.1L940 1539.1L983.5 1568.7L983.5 1568.7L983.5 1568.7L1187.2 1475.4L1187.2 1475.4L1187.2 1475.4L1187.2 1454.7L1187.2 1454.7L1187.2 1454.7L1147.3 1425.7L1147.3 1425.7L1147.3 1425.7L1130.2 1433.3L1130.1 1433.3L1130.1 1433.4L1130 1433.4L1130 1433.4L1129.9 1433.4L1129.9 1433.4L1129.8 1433.4L1129.8 1433.3L1129.7 1433.3L1129.7 1433.3L1129.7 1433.3L1091.2 1405.1L1091.2 1405.1L1091.1 1405.1L1091.1 1405L1091.1 1405L1091 1405L1091 1404.9L1091 1404.9L1091 1404.8L1091 1404.8L1091 1404.7L1091 1363.5L1091 1363.5L1091 1363.5L1050.4 1334.8L1050.4 1334.8L1050.4 1334.8L846.7 1428.6L846.7 1428.6L846.7 1428.7L846.7 1470.1Z" stroke="#000" stroke-width="8.5" stroke-linejoin="miter" stroke-miterlimit="3"/>
</g>
<g fill="none" stroke-width="1.0">
<path d="M1562.9 1448L1363.2 1546.4L1460.1 1615.9L1504.9 1640.9L1704.6 1540.3L1663.5 1511.3Z" fill="#7A6585"/>
<path d="M1604 1459.5L1405.9 1554L1405.9 1573L1604 1478.5Z" fill="#AB8FBF"/>
<path d="M1604 1459.5L1405.9 1554M1604 1478.5L1405.9 1573M1604 1459.5L1604 1478.5M1405.9 1554L1405.9 1573M1604 1469L1405.9 1563.5" stroke="#65189A"/>
<path d="M1405.9 1554L1363.2 1527.4L1363.2 1546.4L1405.9 1573Z" fill="#AB8FBF"/>
<path d="M1405.9 1554L1363.2 1527.4M1405.9 1573L1363.2 1546.4M1405.9 1554L1405.9 1573M1363.2 1527.4L1363.2 1546.4M1405.9 1563.5L1363.2 1536.9" stroke="#65189A"/>
<path d="M1363.2 1527.4L1562.9 1429L1604 1459.5L1405.9 1554Z" fill="#AB8FBF" fill-rule="evenodd" stroke="#65189A"/>
<path d="M1704.6 1503.7L1504.9 1604.3L1504.9 1640.9L1704.6 1540.3Z" fill="#AB8FBF"/>
<path d="M1704.6 1503.7L1504.9 1604.3M1704.6 1540.3L1504.9 1640.9M1704.6 1503.7L1704.6 1540.3M1504.9 1604.3L1504.9 1640.9M1704.6 1512.8L1504.9 1613.4M1704.6 1522L1504.9 1622.6M1704.6 1531.1L1504.9 1631.7" stroke="#65189A"/>
<path d="M1504.9 1604.3L1460.1 1579.3L1460.1 1615.9L1504.9 1640.9Z" fill="#AB8FBF"/>
<path d="M1504.9 1604.3L1460.1 1579.3M1504.9 1640.9L1460.1 1615.9M1504.9 1604.3L1504.9 1640.9M1460.1 1579.3L1460.1 1615.9M1504.9 1613.4L1460.1 1588.4M1504.9 1622.6L1460.1 1597.6M1504.9 1631.7L1460.1 1606.7" stroke="#65189A"/>
<path d="M1460.1 1579.3L1663.5 1474.7L1704.6 1503.7L1504.9 1604.3Z" fill="#AB8FBF" fill-rule="evenodd" stroke="#65189A"/>
<path d="M1363.2 1546.4L1363.2 1546.4L1460.1 1615.9L1460.1 1615.9L1504.9 1640.9L1504.9 1640.9L1504.9 1640.9L1704.6 1540.3L1704.6 1540.3L1704.6 1540.2L1704.6 1503.7L1704.6 1503.7L1704.6 1503.7L1663.5 1474.7L1663.5 1474.7L1663.5 1474.7L1631.7 1491L1631.7 1491L1631.6 1491.1L1631.6 1491.1L1631.5 1491.1L1631.5 1491.1L1631.5 1491.1L1631.4 1491.1L1631.4 1491.1L1631.3 1491L1631.3 1491L1631.2 1491L1604.3 1474L1604.2 1474L1604.2 1474L1604.1 1473.9L1604.1 1473.9L1604.1 1473.8L1604.1 1473.8L1604 1473.7L1604 1473.7L1604 1473.6L1604 1473.6L1604 1459.5L1604 1459.5L1604 1459.4L1562.9 1429L1562.9 1429L1562.9 1429L1363.2 1527.4L1363.2 1527.4L1363.2 1527.5L1363.2 1546.4Z" stroke="#000" stroke-width="8.5" stroke-linejoin="miter" stroke-miterlimit="3"/>
</g>
<g fill="none" stroke-width="1.0">
<path d="M1308.3 1573L1085.7 1649.2L1118.7 1681.2L1197 1756.7L1422.6 1675.9L1390.6 1642.4Z" fill="#7A6585"/>
<path d="M1343.4 1586L1118.7 1662.2L1118.7 1681.2L1343.4 1605Z" fill="#AB8FBF"/>
<path d="M1343.4 1586L1118.7 1662.2M1343.4 1605L1118.7 1681.2M1343.4 1586L1343.4 1605M1118.7 1662.2L1118.7 1681.2M1343.4 1595.5L1118.7 1671.7" stroke="#65189A"/>
<path d="M1118.7 1662.2L1085.7 1630.2L1085.7 1649.2L1118.7 1681.2Z" fill="#AB8FBF"/>
<path d="M1118.7 1662.2L1085.7 1630.2M1118.7 1681.2L1085.7 1649.2M1118.7 1662.2L1118.7 1681.2M1085.7 1630.2L1085.7 1649.2M1118.7 1671.7L1085.7 1639.7" stroke="#65189A"/>
<path d="M1085.7 1630.2L1308.3 1554L1343.4 1586L1118.7 1662.2Z" fill="#AB8FBF" fill-rule="evenodd" stroke="#65189A"/>
<path d="M1422.6 1639.3L1197 1720.1L1197 1756.7L1422.6 1675.9Z" fill="#AB8FBF"/>
<path d="M1422.6 1639.3L1197 1720.1M1422.6 1675.9L1197 1756.7M1422.6 1639.3L1422.6 1675.9M1197 1720.1L1197 1756.7M1422.6 1648.5L1197 1729.3M1422.6 1657.6L1197 1738.4M1422.6 1666.8L1197 1747.6" stroke="#65189A"/>
<path d="M1197 1720.1L1162 1682L1162 1718.6L1197 1756.7Z" fill="#AB8FBF"/>
<path d="M1197 1720.1L1162 1682M1197 1756.7L1162 1718.6M1197 1720.1L1197 1756.7M1162 1682L1162 1718.6M1197 1729.3L1162 1691.2M1197 1738.4L1162 1700.3M1197 1747.6L1162 1709.5" stroke="#65189A"/>
<path d="M1162 1682L1390.6 1605.8L1422.6 1639.3L1197 1720.1Z" fill="#AB8FBF" fill-rule="evenodd" stroke="#65189A"/>
<path d="M1085.7 1630.2L1085.7 1630.2L1085.7 1649.2L1085.7 1649.2L1085.7 1649.2L1118.7 1681.2L1197 1756.7L1197 1756.7L1197 1756.7L1422.6 1675.9L1422.6 1675.9L1422.6 1675.9L1422.6 1639.3L1422.6 1639.3L1422.6 1639.3L1390.6 1605.8L1390.6 1605.8L1390.6 1605.8L1359.8 1616.1L1359.7 1616.1L1359.7 1616.1L1359.6 1616.1L1359.6 1616.1L1359.5 1616.1L1359.5 1616.1L1359.4 1616.1L1359.4 1616L1359.3 1616L1359.3 1616L1343.5 1602.7L1343.5 1602.7L1343.5 1602.6L1343.4 1602.6L1343.4 1602.5L1343.4 1602.5L1343.4 1602.4L1343.4 1602.4L1343.4 1602.4L1343.4 1602.3L1343.4 1586L1343.4 1586L1343.3 1586L1308.3 1554L1308.3 1554L1308.3 1554L1085.7 1630.2Z" stroke="#000" stroke-width="8.5" stroke-linejoin="miter" stroke-miterlimit="3"/>
</g>
<g fill="none" stroke-width="1.2">
<path d="M1557.9 1700.5L1766.5 1609.5L1976.7 1814.7L1827.7 1884.3Z" fill="#5F6E66"/>
<path d="M1740 1622.8L1604.3 1687.3L1604.3 1732.3L1740 1667.8Z" fill="#8CA097"/>
<path d="M1740 1622.8L1604.3 1687.3M1740 1667.8L1604.3 1732.3M1740 1622.8L1740 1667.8M1604.3 1687.3L1604.3 1732.3M1740 1634L1604.3 1698.6M1740 1645.3L1604.3 1709.8M1740 1656.5L1604.3 1721.1" stroke="#EEF2EF"/>
<path d="M1604.3 1687.3L1557.9 1655.9L1557.9 1700.9L1604.3 1732.3Z" fill="#8CA097"/>
<path d="M1604.3 1687.3L1557.9 1655.9M1604.3 1732.3L1557.9 1700.9M1604.3 1687.3L1604.3 1732.3M1557.9 1655.9L1557.9 1700.9M1604.3 1698.6L1557.9 1667.1M1604.3 1709.8L1557.9 1678.4M1604.3 1721.1L1557.9 1689.6" stroke="#EEF2EF"/>
<path d="M1879 1760.1L1740 1622.8L1740 1667.8L1879 1805.1Z" fill="#8CA097"/>
<path d="M1879 1760.1L1740 1622.8M1879 1805.1L1740 1667.8M1879 1760.1L1879 1805.1M1740 1622.8L1740 1667.8M1879 1771.4L1740 1634M1879 1782.6L1740 1645.3M1879 1793.9L1740 1656.5" stroke="#EEF2EF"/>
<path d="M1976.7 1770.1L1827.7 1839.6L1827.7 1884.6L1976.7 1815.1Z" fill="#8CA097"/>
<path d="M1976.7 1770.1L1827.7 1839.6M1976.7 1815.1L1827.7 1884.6M1976.7 1770.1L1976.7 1815.1M1827.7 1839.6L1827.7 1884.6M1976.7 1781.3L1827.7 1850.8M1976.7 1792.6L1827.7 1862.1M1976.7 1803.8L1827.7 1873.3" stroke="#EEF2EF"/>
<path d="M1827.7 1839.6L1778 1808.1L1778 1853.1L1827.7 1884.6Z" fill="#8CA097"/>
<path d="M1827.7 1839.6L1778 1808.1M1827.7 1884.6L1778 1853.1M1827.7 1839.6L1827.7 1884.6M1778 1808.1L1778 1853.1M1827.7 1850.8L1778 1819.4M1827.7 1862.1L1778 1830.6M1827.7 1873.3L1778 1841.9" stroke="#EEF2EF"/>
<path d="M1557.9 1655.9L1698.6 1586.3L1766.5 1564.8L1976.7 1770.1L1827.7 1839.6L1778 1808.1L1879 1760.1L1740 1622.8L1604.3 1687.3Z" fill="#8CA097" fill-rule="evenodd" stroke="#EEF2EF"/>
<path d="M1557.9 1700.9L1557.9 1700.9L1604.2 1732.3L1604.3 1732.3L1604.3 1732.3L1604.3 1732.3L1604.4 1732.3L1604.4 1732.3L1604.5 1732.3L1604.5 1732.3L1604.6 1732.3L1604.6 1732.3L1604.7 1732.4L1777.8 1850.3L1777.9 1850.3L1777.9 1850.4L1777.9 1850.4L1778 1850.4L1778 1850.5L1778 1850.5L1778 1850.6L1778 1850.6L1778 1850.7L1778 1850.7L1778 1853.1L1778 1853.1L1778.1 1853.1L1827.7 1884.6L1827.7 1884.6L1827.7 1884.6L1976.6 1815.1L1976.6 1815.1L1976.7 1815L1976.7 1770.1L1976.6 1770.1L1976.6 1770L1766.5 1564.8L1766.5 1564.8L1766.4 1564.8L1698.6 1586.3L1698.6 1586.3L1698.6 1586.3L1557.9 1655.9L1557.9 1655.9L1557.9 1655.9L1557.9 1700.8Z" stroke="#000" stroke-width="8.5" stroke-linejoin="miter" stroke-miterlimit="3"/>
</g>
<g fill="none" stroke-width="1.2">
<path d="M1298.1 1828.6L1501 1731L1769.8 1915.7L1596 2000.1L1528.1 2018.3L1463.6 1948.8Z" fill="#5F6E66"/>
<path d="M1491.7 1768.4L1402.3 1809.8L1402.3 1832.8L1491.7 1791.4Z" fill="#8CA097"/>
<path d="M1491.7 1768.4L1402.3 1809.8M1491.7 1791.4L1402.3 1832.8M1491.7 1768.4L1491.7 1791.4M1402.3 1809.8L1402.3 1832.8M1491.7 1779.9L1402.3 1821.3" stroke="#EEF2EF"/>
<path d="M1769.8 1892.5L1715.1 1917.4L1715.1 1940.4L1769.8 1915.5Z" fill="#8CA097"/>
<path d="M1769.8 1892.5L1715.1 1917.4M1769.8 1915.5L1715.1 1940.4M1769.8 1892.5L1769.8 1915.5M1715.1 1917.4L1715.1 1940.4M1769.8 1904L1715.1 1928.9" stroke="#EEF2EF"/>
<path d="M1715.1 1917.4L1491.7 1768.4L1491.7 1791.4L1715.1 1940.4Z" fill="#8CA097"/>
<path d="M1715.1 1917.4L1491.7 1768.4M1715.1 1940.4L1491.7 1791.4M1715.1 1917.4L1715.1 1940.4M1491.7 1768.4L1491.7 1791.4M1715.1 1928.9L1491.7 1779.9" stroke="#EEF2EF"/>
<path d="M1463.6 1925.6L1298.1 1805.5L1298.1 1828.5L1463.6 1948.6Z" fill="#8CA097"/>
<path d="M1463.6 1925.6L1298.1 1805.5M1463.6 1948.6L1298.1 1828.5M1298.1 1805.5L1298.1 1828.5M1463.6 1937.1L1298.1 1817" stroke="#EEF2EF"/>
<path d="M1596 1976.9L1528.1 1995.1L1528.1 2018.1L1596 1999.9Z" fill="#8CA097"/>
<path d="M1596 1976.9L1528.1 1995.1M1596 1999.9L1528.1 2018.1M1596 1976.9L1596 1999.9M1528.1 1995.1L1528.1 2018.1M1596 1988.4L1528.1 2006.6" stroke="#EEF2EF"/>
<path d="M1528.1 1995.1L1463.6 1925.6L1463.6 1948.6L1528.1 2018.1Z" fill="#8CA097"/>
<path d="M1528.1 1995.1L1463.6 1925.6M1528.1 2018.1L1463.6 1948.6M1528.1 1995.1L1528.1 2018.1M1528.1 2006.6L1463.6 1937.1" stroke="#EEF2EF"/>
<path d="M1298.1 1805.5L1501 1707.8L1546.3 1742.6L1769.8 1892.5L1715.1 1917.4L1491.7 1768.4L1402.3 1809.8L1534.7 1902.5L1596 1976.9L1528.1 1995.1L1463.6 1925.6Z" fill="#8CA097" fill-rule="evenodd" stroke="#EEF2EF"/>
<path d="M1546.3 1720.6L1344.4 1816.6L1344.4 1838.6L1546.3 1742.6Z" fill="#8CA097"/>
<path d="M1546.3 1720.6L1344.4 1816.6M1546.3 1742.6L1344.4 1838.6M1546.3 1720.6L1546.3 1742.6M1344.4 1816.6L1344.4 1838.6M1546.3 1731.6L1344.4 1827.6" stroke="#EEF2EF"/>
<path d="M1344.4 1816.6L1298.1 1783.5L1298.1 1805.5L1344.4 1838.6Z" fill="#8CA097"/>
<path d="M1344.4 1816.6L1298.1 1783.5M1344.4 1838.6L1298.1 1805.5M1344.4 1816.6L1344.4 1838.6M1298.1 1783.5L1298.1 1805.5M1344.4 1827.6L1298.1 1794.5" stroke="#EEF2EF"/>
<path d="M1298.1 1783.5L1501 1685.8L1546.3 1720.6L1344.4 1816.6Z" fill="#8CA097" fill-rule="evenodd" stroke="#EEF2EF"/>
<path d="M1298.1 1828.6L1298.1 1828.7L1463.5 1948.8L1463.6 1948.8L1463.6 1948.8L1528.1 2018.3L1528.1 2018.3L1528.1 2018.3L1596 2000.1L1596 2000.1L1596 2000.1L1769.8 1915.7L1769.8 1915.7L1769.8 1915.7L1769.8 1915.7L1769.8 1915.7L1769.8 1915.7L1769.8 1915.7L1769.8 1915.6L1769.8 1915.6L1769.8 1915.5L1769.8 1915.5L1769.8 1915.5L1769.8 1892.5L1769.8 1892.5L1769.8 1892.5L1546.6 1742.7L1546.5 1742.7L1546.5 1742.7L1546.4 1742.6L1546.4 1742.6L1546.4 1742.6L1546.4 1742.5L1546.4 1742.5L1546.3 1742.4L1546.3 1742.4L1546.3 1742.3L1546.3 1720.6L1546.3 1720.6L1546.3 1720.6L1501 1685.8L1501 1685.8L1501 1685.8L1298.1 1783.5L1298.1 1783.5L1298.1 1783.5L1298.1 1828.5L1298.1 1828.5L1298.1 1828.5L1298.1 1828.5L1298.1 1828.6L1298.1 1828.6Z" stroke="#000" stroke-width="8.5" stroke-linejoin="miter" stroke-miterlimit="3"/>
</g>
<g fill="none" stroke-width="1.0">
<path d="M2119.5 1832.3L2155.8 1817.7L2359.9 1984.8L2263.4 2023.4L2119.5 1905.2Z" fill="#5F2A40"/>
<path d="M2419 1913.1L2359.9 1936.7L2359.9 1983.7L2419 1960.1Z" fill="#8A3A5C"/>
<path d="M2419 1913.1L2359.9 1936.7M2419 1960.1L2359.9 1983.7M2419 1913.1L2419 1960.1M2359.9 1936.7L2359.9 1983.7M2419 1924.8L2359.9 1948.5M2419 1936.6L2359.9 1960.2M2419 1948.3L2359.9 1972" stroke="#E9A9C6"/>
<path d="M2359.9 1936.7L2155.8 1770.4L2155.8 1817.4L2359.9 1983.7Z" fill="#8A3A5C"/>
<path d="M2359.9 1936.7L2155.8 1770.4M2359.9 1983.7L2155.8 1817.4M2359.9 1936.7L2359.9 1983.7M2155.8 1770.4L2155.8 1817.4M2359.9 1948.5L2155.8 1782.2M2359.9 1960.2L2155.8 1793.9M2359.9 1972L2155.8 1805.7" stroke="#E9A9C6"/>
<path d="M2155.8 1770.4L2216.1 1746.8L2419 1913.1L2359.9 1936.7Z" fill="#8A3A5C" fill-rule="evenodd" stroke="#E9A9C6"/>
<path d="M2119.5 1905.2L2119.5 1905.2L2263.4 2023.4L2263.4 2023.4L2263.4 2023.4L2359.9 1984.8L2359.9 1984.8L2359.9 1984.8L2359.7 1984.6L2359.6 1984.6L2359.6 1984.5L2359.6 1984.5L2359.5 1984.5L2359.5 1984.4L2359.5 1984.4L2359.5 1984.3L2359.5 1984.3L2359.5 1984.2L2359.5 1984.2L2359.5 1984.1L2359.5 1984.1L2359.5 1984L2359.5 1984L2359.6 1983.9L2359.6 1983.9L2359.6 1983.9L2359.7 1983.8L2359.7 1983.8L2359.7 1983.8L2359.8 1983.8L2359.8 1983.7L2359.9 1983.7L2359.9 1983.7L2359.9 1983.7L2359.9 1983.7L2419 1960.1L2419 1960.1L2419 1960.1L2419 1913.1L2419 1913.1L2419 1913.1L2216.1 1746.8L2216.1 1746.8L2216.1 1746.8L2155.8 1770.4L2155.8 1770.4L2155.8 1770.4L2155.8 1817.4L2155.8 1817.4L2155.8 1817.5L2155.8 1817.5L2155.8 1817.6L2155.7 1817.6L2155.7 1817.7L2155.7 1817.7L2155.6 1817.7L2155.6 1817.8L2155.6 1817.8L2155.5 1817.8L2155.5 1817.8L2119.6 1832.3L2119.5 1832.3L2119.5 1832.3L2119.5 1905.2Z" stroke="#000" stroke-width="8.5" stroke-linejoin="miter" stroke-miterlimit="3"/>
</g>
<g fill="none" stroke-width="1.1">
<path d="M1733.4 2082.2L2015.1 1938.4L2149.9 2049.5L1824 2165.4Z" fill="#A07D8D" stroke="#931A4E"/>
<path d="M2015.1 1891.4L2149.9 2002.5L2149.9 2049.5L2015.1 1938.4Z" fill="#E5B4CB"/>
<path d="M2015.1 1891.4L2149.9 2002.5M2015.1 1938.4L2149.9 2049.5M2015.1 1891.4L2015.1 1938.4M2149.9 2002.5L2149.9 2049.5M2015.1 1900.8L2149.9 2011.9M2015.1 1910.2L2149.9 2021.3M2015.1 1919.6L2149.9 2030.7M2015.1 1929L2149.9 2040.1" stroke="#931A4E"/>
<path d="M1733.4 2035.2L2015.1 1891.4L2015.1 1938.4L1733.4 2082.2Z" fill="#E5B4CB"/>
<path d="M1733.4 2035.2L2015.1 1891.4M1733.4 2082.2L2015.1 1938.4M1733.4 2035.2L1733.4 2082.2M2015.1 1891.4L2015.1 1938.4M1733.4 2044.6L2015.1 1900.8M1733.4 2054L2015.1 1910.2M1733.4 2063.4L2015.1 1919.6M1733.4 2072.8L2015.1 1929" stroke="#931A4E"/>
<path d="M1634.9 2067.5L1590.7 2040L1590.7 2087L1634.9 2114.5Z" fill="#E5B4CB"/>
<path d="M1634.9 2067.5L1590.7 2040M1634.9 2114.5L1590.7 2087M1634.9 2067.5L1634.9 2114.5M1590.7 2040L1590.7 2087M1634.9 2076.9L1590.7 2049.4M1634.9 2086.3L1590.7 2058.8M1634.9 2095.7L1590.7 2068.2M1634.9 2105.1L1590.7 2077.6" stroke="#931A4E"/>
<path d="M1667.2 2125.9L1634.9 2067.5L1634.9 2114.5L1667.2 2172.9Z" fill="#E5B4CB"/>
<path d="M1667.2 2125.9L1634.9 2067.5M1667.2 2172.9L1634.9 2114.5M1634.9 2067.5L1634.9 2114.5M1667.2 2135.3L1634.9 2076.9M1667.2 2144.7L1634.9 2086.3M1667.2 2154.1L1634.9 2095.7M1667.2 2163.5L1634.9 2105.1" stroke="#931A4E"/>
<path d="M2259.4 2021.4L1749.1 2200.7L1749.1 2247.7L2259.4 2068.4Z" fill="#E5B4CB"/>
<path d="M2259.4 2021.4L1749.1 2200.7M2259.4 2068.4L1749.1 2247.7M2259.4 2021.4L2259.4 2068.4M1749.1 2200.7L1749.1 2247.7M2259.4 2030.8L1749.1 2210.1M2259.4 2040.2L1749.1 2219.5M2259.4 2049.6L1749.1 2228.9M2259.4 2059L1749.1 2238.3" stroke="#931A4E"/>
<path d="M1749.1 2200.7L1667.2 2125.9L1667.2 2172.9L1749.1 2247.7Z" fill="#E5B4CB"/>
<path d="M1749.1 2200.7L1667.2 2125.9M1749.1 2247.7L1667.2 2172.9M1749.1 2200.7L1749.1 2247.7M1749.1 2210.1L1667.2 2135.3M1749.1 2219.5L1667.2 2144.7M1749.1 2228.9L1667.2 2154.1M1749.1 2238.3L1667.2 2163.5" stroke="#931A4E"/>
<path d="M1590.7 2040L2030.9 1828.4L2259.4 2021.4L1749.1 2200.7L1667.2 2125.9L1634.9 2067.5ZM1733.4 2035.2L2015.1 1891.4L2149.9 2002.5L1824 2118.4Z" fill="#E5B4CB" fill-rule="evenodd" stroke="#931A4E"/>
<path d="M1635.7 2114.8L1667.6 2106.2L1667.6 2175.1Z" fill="#A07D8D" stroke="#931A4E"/>
<path d="M2117.6 1834.3L2059.6 1857.9L2059.6 1924.9L2117.6 1901.3Z" fill="#E5B4CB"/>
<path d="M2117.6 1834.3L2059.6 1857.9M2117.6 1901.3L2059.6 1924.9M2117.6 1834.3L2117.6 1901.3M2059.6 1857.9L2059.6 1924.9M2117.6 1845.4L2059.6 1869.1M2117.6 1856.6L2059.6 1880.2M2117.6 1867.8L2059.6 1891.4M2117.6 1878.9L2059.6 1902.6M2117.6 1890.1L2059.6 1913.7" stroke="#931A4E"/>
<path d="M2059.6 1857.9L1975.7 1785L1975.7 1852L2059.6 1924.9Z" fill="#E5B4CB"/>
<path d="M2059.6 1857.9L1975.7 1785M2059.6 1924.9L1975.7 1852M2059.6 1857.9L2059.6 1924.9M1975.7 1785L1975.7 1852M2059.6 1869.1L1975.7 1796.2M2059.6 1880.2L1975.7 1807.3M2059.6 1891.4L1975.7 1818.5M2059.6 1902.6L1975.7 1829.7M2059.6 1913.7L1975.7 1840.8" stroke="#931A4E"/>
<path d="M1975.7 1785L2030.9 1761.4L2117.6 1834.3L2059.6 1857.9Z" fill="#E5B4CB" fill-rule="evenodd" stroke="#931A4E"/>
<path d="M1812.2 2108.1L1749.1 2131.7L1749.1 2200.7L1812.2 2177.1Z" fill="#E5B4CB"/>
<path d="M1812.2 2108.1L1749.1 2131.7M1812.2 2177.1L1749.1 2200.7M1812.2 2108.1L1812.2 2177.1M1749.1 2131.7L1749.1 2200.7M1812.2 2119.6L1749.1 2143.2M1812.2 2131.1L1749.1 2154.7M1812.2 2142.6L1749.1 2166.2M1812.2 2154.1L1749.1 2177.7M1812.2 2165.6L1749.1 2189.2" stroke="#931A4E"/>
<path d="M1749.1 2131.7L1667.2 2056.9L1667.2 2125.9L1749.1 2200.7Z" fill="#E5B4CB"/>
<path d="M1749.1 2131.7L1667.2 2056.9M1749.1 2200.7L1667.2 2125.9M1749.1 2131.7L1749.1 2200.7M1667.2 2056.9L1667.2 2125.9M1749.1 2143.2L1667.2 2068.4M1749.1 2154.7L1667.2 2079.9M1749.1 2166.2L1667.2 2091.4M1749.1 2177.7L1667.2 2102.9M1749.1 2189.2L1667.2 2114.4" stroke="#931A4E"/>
<path d="M1667.2 2056.9L1731.4 2033.2L1812.2 2108.1L1749.1 2131.7Z" fill="#E5B4CB" fill-rule="evenodd" stroke="#931A4E"/>
<path d="M1590.7 2086.9L1590.7 2087L1590.7 2087L1634.8 2114.5L1634.8 2114.5L1634.8 2114.5L1634.9 2114.6L1634.9 2114.6L1634.9 2114.7L1649.2 2140.4L1649.2 2140.4L1667.6 2175.1L1667.6 2175.1L1667.6 2175.1L1667.6 2174.4L1667.6 2174.3L1667.6 2174.3L1667.6 2174.2L1667.6 2174.2L1667.6 2174.1L1667.7 2174.1L1667.7 2174L1667.7 2174L1667.7 2174L1667.8 2173.9L1667.8 2173.9L1667.9 2173.9L1667.9 2173.9L1668 2173.9L1668 2173.9L1668.1 2173.9L1668.1 2173.9L1668.2 2173.9L1668.2 2173.9L1668.2 2173.9L1668.3 2173.9L1668.3 2173.9L1668.4 2174L1668.4 2174L1749.1 2247.7L1749.1 2247.7L1749.2 2247.7L2259.4 2068.4L2259.4 2068.4L2259.4 2068.4L2259.4 2021.5L2259.4 2021.4L2259.4 2021.4L2117.7 1901.7L2117.7 1901.7L2117.7 1901.7L2117.6 1901.6L2117.6 1901.6L2117.6 1901.5L2117.6 1901.5L2117.6 1901.4L2117.6 1901.4L2117.6 1901.3L2117.6 1901.3L2117.6 1901.3L2117.6 1901.2L2117.6 1834.3L2117.6 1834.3L2117.6 1834.3L2030.9 1761.4L2030.9 1761.4L2030.9 1761.4L1975.7 1785L1975.7 1785L1975.7 1785L1975.7 1852L1975.7 1852L1975.7 1852L1977.3 1853.4L1977.3 1853.4L1977.3 1853.4L1977.4 1853.5L1977.4 1853.5L1977.4 1853.6L1977.4 1853.6L1977.4 1853.7L1977.4 1853.7L1977.4 1853.8L1977.4 1853.8L1977.4 1853.9L1977.4 1853.9L1977.4 1853.9L1977.4 1854L1977.4 1854L1977.3 1854.1L1977.3 1854.1L1977.2 1854.1L1977.2 1854.2L1977.2 1854.2L1590.7 2040L1590.7 2040L1590.7 2040Z" stroke="#000" stroke-width="8.5" stroke-linejoin="miter" stroke-miterlimit="3"/>
</g><polygon points="2162.1,2108.1 2162.9,2080.5 2214.1,2062.8 2229.9,2076.6 2265.3,2064.0 2269.3,2074.6 2164.9,2118.0" fill="#fff"/><polyline points="2160.5,2105.4 2162.9,2080.5 2214.1,2062.8 2229.9,2076.6 2265.3,2064.0" fill="none" stroke="#000" stroke-width="8.5" stroke-linejoin="miter"/>
<g fill="none" stroke-width="0.9">
<path d="M1938.3 2248L1840.6 2282.7L1840.6 2330.7L1938.3 2296Z" fill="#C264BE"/>
<path d="M1938.3 2248L1840.6 2282.7M1938.3 2296L1840.6 2330.7M1938.3 2248L1938.3 2296M1840.6 2282.7L1840.6 2330.7M1938.3 2264L1840.6 2298.7M1938.3 2280L1840.6 2314.7" stroke="#EDB9EA"/>
<path d="M1840.6 2282.7L1788.5 2237L1788.5 2285L1840.6 2330.7Z" fill="#C264BE"/>
<path d="M1840.6 2282.7L1788.5 2237M1840.6 2330.7L1788.5 2285M1840.6 2282.7L1840.6 2330.7M1788.5 2237L1788.5 2285M1840.6 2298.7L1788.5 2253M1840.6 2314.7L1788.5 2269" stroke="#EDB9EA"/>
<path d="M1788.5 2237L1886.3 2202.7L1938.3 2248L1840.6 2282.7Z" fill="#C264BE" fill-rule="evenodd" stroke="#EDB9EA"/>
<path d="M1788.5 2237L1788.5 2237L1788.5 2285L1788.5 2285L1788.6 2285L1840.5 2330.7L1840.6 2330.7L1840.6 2330.7L1938.3 2296L1938.3 2296L1938.3 2296L1938.3 2248L1938.3 2248L1938.3 2248L1886.3 2202.7L1886.3 2202.7L1886.3 2202.7L1788.6 2237Z" stroke="#000" stroke-width="8.5" stroke-linejoin="miter" stroke-miterlimit="3"/>
</g>
<text x="3383" y="162.6" text-anchor="end" font-size="48.4">ЖИТЛО</text>
<text x="3383" y="210.5" text-anchor="end" font-size="48.4">ТИПОЛОГІЯ ВІДКРИТИХ ПРОСТОРІВ</text>
<text x="1109.0" y="351.6" text-anchor="end" font-size="37">з додатковим внутрішнім простором</text>
<text x="1109.0" y="394.9" text-anchor="end" font-size="37">для загального користування</text>
<text x="1109.0" y="438.2" text-anchor="end" font-size="37">(квартал 2)</text>
<polyline points="1124.0,383.6 1228.4,383.6 1228.4,562.9" fill="none" stroke="#000" stroke-width="1.5"/><circle cx="1228.4" cy="562.9" r="6.5" fill="#000"/>
<text x="1705.6" y="279.6" text-anchor="start" font-size="37">закритий двір</text>
<text x="1705.6" y="322.9" text-anchor="start" font-size="37">(квартал 3)</text>
<polyline points="1690.3,288.3 1630.8,288.3 1630.8,532.2" fill="none" stroke="#000" stroke-width="1.5"/><circle cx="1630.8" cy="532.2" r="6.5" fill="#000"/>
<text x="2081.0" y="495.0" text-anchor="start" font-size="37">закритий двір</text>
<text x="2081.0" y="538.3" text-anchor="start" font-size="37">(квартал 5)</text>
<polyline points="2067.0,503.4 2005.8,503.4 2005.8,773.5" fill="none" stroke="#000" stroke-width="1.5"/><circle cx="2005.8" cy="773.5" r="6.5" fill="#000"/>
<text x="2477.0" y="743.8" text-anchor="start" font-size="37">закритий двір</text>
<text x="2477.0" y="787.1" text-anchor="start" font-size="37">(квартал 9)</text>
<polyline points="2461.6,754.4 2401.5,754.4 2401.5,1045.7" fill="none" stroke="#000" stroke-width="1.5"/><circle cx="2401.5" cy="1045.7" r="6.5" fill="#000"/>
<text x="2850.0" y="459.5" text-anchor="start" font-size="37">'колодязь'</text>
<text x="2850.0" y="502.8" text-anchor="start" font-size="37">(квартал 6)</text>
<polyline points="2835.5,468.5 2422.0,468.5" fill="none" stroke="#000" stroke-width="1.5"/><circle cx="2422.0" cy="468.5" r="6.5" fill="#000"/>
<text x="570.4" y="746.5" text-anchor="end" font-size="37">'кампус'</text>
<text x="570.4" y="789.8" text-anchor="end" font-size="37">(квартал 1)</text>
<polyline points="585.0,757.2 652.5,757.2 652.5,1051.4" fill="none" stroke="#000" stroke-width="1.5"/><circle cx="652.5" cy="1051.4" r="6.5" fill="#000"/>
<text x="1862.0" y="1083.0" text-anchor="end" font-size="37">лінійне</text>
<text x="1862.0" y="1126.3" text-anchor="end" font-size="37" textLength="261" lengthAdjust="spacingAndGlyphs">розташування</text>
<text x="1862.0" y="1169.6" text-anchor="end" font-size="37">(квартал 9)</text>
<polyline points="1878.3,1115.0 1988.6,1115.0" fill="none" stroke="#000" stroke-width="1.5"/><circle cx="1988.6" cy="1115.0" r="6.5" fill="#000"/>
<text x="3019.2" y="1018.5" text-anchor="start" font-size="37">окремо розташований</text>
<text x="3019.2" y="1061.8" text-anchor="start" font-size="37">будинок</text>
<text x="3019.2" y="1105.1" text-anchor="start" font-size="37">(квартал 11)</text>
<polyline points="3003.0,1049.8 2933.7,1049.8 2933.7,1160.6" fill="none" stroke="#000" stroke-width="1.5"/><circle cx="2933.7" cy="1160.6" r="6.5" fill="#000"/>
<text x="3156.2" y="1218.0" text-anchor="start" font-size="37">відкритий двір</text>
<text x="3156.2" y="1261.3" text-anchor="start" font-size="37">(квартал 13)</text>
<polyline points="3141.0,1226.3 3093.0,1226.3 3093.0,1511.0" fill="none" stroke="#000" stroke-width="1.5"/><circle cx="3093.0" cy="1511.0" r="6.5" fill="#000"/>
<text x="2156.0" y="1534.0" text-anchor="end" font-size="37">відкритий двір</text>
<text x="2156.0" y="1577.3" text-anchor="end" font-size="37">(квартал 11)</text>
<polyline points="2174.8,1545.2 2434.4,1545.2 2434.4,1439.6" fill="none" stroke="#000" stroke-width="1.5"/><circle cx="2434.4" cy="1439.6" r="6.5" fill="#000"/>
<text x="3052.6" y="1908.5" text-anchor="start" font-size="37">відкритий двір</text>
<text x="3052.6" y="1951.8" text-anchor="start" font-size="37">(квартал 13)</text>
<polyline points="3036.6,1917.2 2890.5,1917.2 2890.5,1838.0" fill="none" stroke="#000" stroke-width="1.5"/><circle cx="2890.5" cy="1838.0" r="6.5" fill="#000"/>
<text x="2002.4" y="1665.0" text-anchor="start" font-size="37">'П'-подібний двір</text>
<text x="2002.4" y="1708.3" text-anchor="start" font-size="37">(квартал 10)</text>
<polyline points="1989.9,1683.0 1932.0,1683.0 1744.9,1749.2" fill="none" stroke="#000" stroke-width="1.5"/><circle cx="1744.9" cy="1749.2" r="6.5" fill="#000"/>
<text x="1232.0" y="1861.0" text-anchor="end" font-size="37">'П'-подібний двір</text>
<text x="1232.0" y="1904.3" text-anchor="end" font-size="37">(квартал 10)</text>
<polyline points="1247.0,1871.0 1534.0,1871.0" fill="none" stroke="#000" stroke-width="1.5"/><circle cx="1534.0" cy="1871.0" r="6.5" fill="#000"/>
<text x="1619.0" y="1368.3" text-anchor="start" font-size="37">з вулочкою</text>
<text x="1619.0" y="1411.6" text-anchor="start" font-size="37">(квартал 7)</text>
<polyline points="1600.0,1382.0 1539.8,1382.0 1539.8,1522.9" fill="none" stroke="#000" stroke-width="1.5"/><circle cx="1539.8" cy="1522.9" r="6.5" fill="#000"/>
<text x="934.8" y="1641.0" text-anchor="end" font-size="37">з вулочкою</text>
<text x="934.8" y="1684.3" text-anchor="end" font-size="37">(квартал 7)</text>
<polyline points="949.0,1649.4 1238.8,1649.4" fill="none" stroke="#000" stroke-width="1.5"/><circle cx="1238.8" cy="1649.4" r="6.5" fill="#000"/>
<text x="1455.6" y="1248.0" text-anchor="start" font-size="37">з приватними палісадниками</text>
<text x="1455.6" y="1291.3" text-anchor="start" font-size="37">(квартал 7)</text>
<polyline points="1440.5,1256.3 1343.6,1256.3 1343.6,1338.6" fill="none" stroke="#000" stroke-width="1.5"/><circle cx="1343.6" cy="1338.6" r="6.5" fill="#000"/>
<text x="651.0" y="1476.3" text-anchor="end" font-size="37">з приватними палісадниками</text>
<text x="651.0" y="1519.6" text-anchor="end" font-size="37">(квартал 7)</text>
<polyline points="666.0,1485.8 991.2,1485.8" fill="none" stroke="#000" stroke-width="1.5"/><circle cx="991.2" cy="1485.8" r="6.5" fill="#000"/>
<text x="1458.4" y="2065.7" text-anchor="end" font-size="37">закритий двір</text>
<text x="1458.4" y="2109.0" text-anchor="end" font-size="37">(квартал 12)</text>
<polyline points="1473.0,2075.8 1819.3,2075.8" fill="none" stroke="#000" stroke-width="1.5"/><circle cx="1819.3" cy="2075.8" r="6.5" fill="#000"/>
<text x="2494.0" y="2063.5" text-anchor="start" font-size="37" textLength="393" lengthAdjust="spacingAndGlyphs">лінійне розташування</text>
<text x="2494.0" y="2106.8" text-anchor="start" font-size="37">(квартал 12)</text>
<polyline points="2478.0,2071.9 2334.3,2071.9 2334.3,1889.4" fill="none" stroke="#000" stroke-width="1.5"/><circle cx="2334.3" cy="1889.4" r="6.5" fill="#000"/>
<text x="1592.0" y="2247.4" text-anchor="end" font-size="37">будинок з атріумом</text>
<text x="1592.0" y="2290.7" text-anchor="end" font-size="37">(квартал 12)</text>
<polyline points="1607.0,2257.9 1853.6,2257.9" fill="none" stroke="#000" stroke-width="1.5"/><circle cx="1853.6" cy="2257.9" r="6.5" fill="#000"/>
</svg></body></html>
